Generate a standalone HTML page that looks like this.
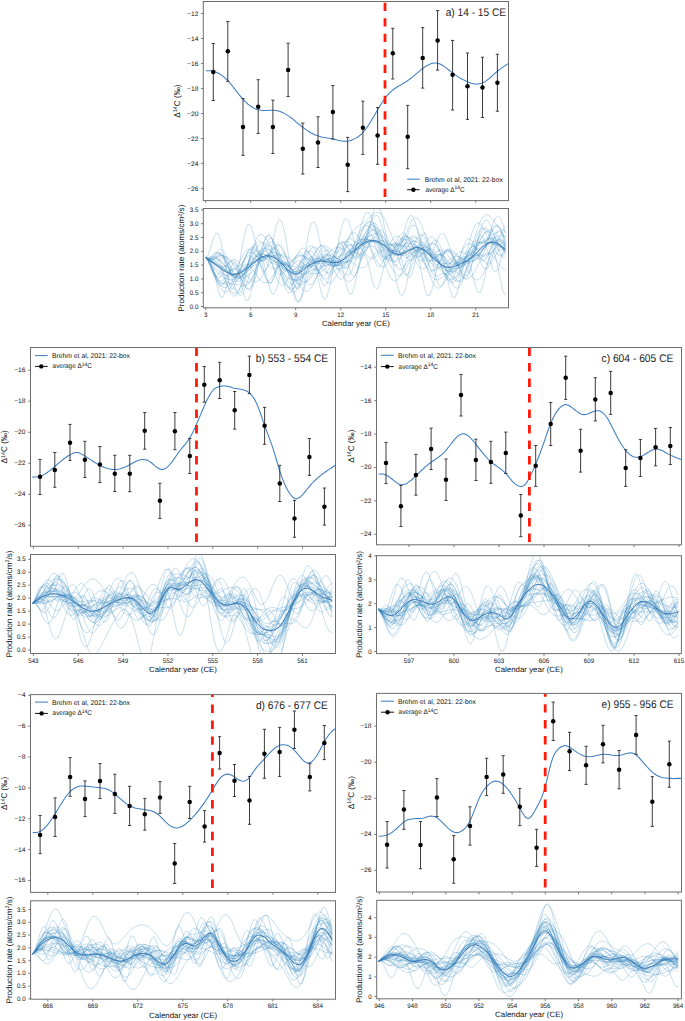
<!DOCTYPE html>
<html><head><meta charset="utf-8"><title>figure</title>
<style>html,body{margin:0;padding:0;background:#fff;}body{width:685px;height:1021px;overflow:hidden;font-family:"Liberation Sans", sans-serif;}svg{display:block;}</style></head>
<body>
<svg width="685" height="1021" viewBox="0 0 685 1021" font-family='"Liberation Sans", sans-serif' text-rendering="geometricPrecision">
<rect width="100%" height="100%" fill="#fff"/>
<clipPath id="cta"><rect x="203.30" y="1.50" width="305.20" height="199.10"/></clipPath>
<clipPath id="cba"><rect x="203.30" y="208.50" width="305.20" height="99.30"/></clipPath>
<path d="M205.8,70.8l1.5 0 1.5 0 1.5 0 1.5 0.2 1.5 0.3 1.5 0.4 1.5 0.5 1.5 0.7 1.5 0.8 1.5 0.9 1.5 1 1.5 1.2 1.5 1.3 1.5 1.5 1.5 1.5 1.5 1.7 1.5 1.8 1.5 1.9 1.5 1.9 1.5 2 1.5 1.9 1.5 2 1.5 1.8 1.5 1.8 1.5 1.7 1.5 1.6 1.5 1.5 1.5 1.3 1.5 1.2 1.5 1.1 1.5 1 1.5 0.8 1.5 0.7 1.5 0.6 1.5 0.4 1.5 0.3 1.5 0.2 1.5 0.1 1.5 0.1 1.5-0.1 1.5 0 1.5-0.1 1.5 0 1.5 0 1.5 0 1.5 0.1 1.5 0.2 1.5 0.3 1.5 0.4 1.5 0.5 1.5 0.6 1.5 0.7 1.5 0.8 1.5 1 1.5 1 1.5 1 1.5 1.1 1.5 1.2 1.5 1.2 1.5 1.3 1.5 1.2 1.5 1.2 1.5 1.2 1.5 1.2 1.5 1.2 1.5 1.1 1.5 1.1 1.5 1 1.5 0.9 1.5 0.9 1.5 0.8 1.5 0.8 1.5 0.7 1.5 0.6 1.5 0.5 1.5 0.5 1.5 0.3 1.5 0.4 1.5 0.2 1.5 0.3 1.5 0.2 1.5 0.3 1.5 0.2 1.5 0.3 1.5 0.3 1.5 0.3 1.5 0.4 1.5 0.4 1.5 0.3 1.5 0.3 1.5 0.2 1.5 0.2 1.5 0 1.5 0 1.5-0.2 1.5-0.3 1.5-0.5 1.5-0.6 1.5-0.7 1.5-0.8 1.6-0.9 1.5-1 1.5-1.2 1.5-1.4 1.5-1.6 1.5-1.8 1.5-2 1.5-2.2 1.5-2.3 1.5-2.4 1.5-2.5 1.5-2.5 1.5-2.6 1.5-2.6 1.5-2.6 1.5-2.5 1.5-2.5 1.5-2.3 1.5-2.2 1.5-2 1.5-1.8 1.5-1.6 1.5-1.5 1.5-1.3 1.5-1.2 1.5-1.1 1.5-1 1.5-1 1.5-0.9 1.5-0.8 1.5-0.9 1.5-0.9 1.5-0.9 1.5-0.9 1.5-1.1 1.5-1.1 1.5-1.2 1.5-1.2 1.5-1.2 1.5-1.3 1.5-1.3 1.5-1.2 1.5-1.3 1.5-1.2 1.5-1.1 1.5-1.1 1.5-0.9 1.5-0.9 1.5-0.7 1.5-0.6 1.5-0.5 1.5-0.2 1.5-0.1 1.5 0.2 1.5 0.3 1.5 0.6 1.5 0.7 1.5 0.9 1.5 0.9 1.5 1.1 1.5 1.1 1.5 1.2 1.5 1.2 1.5 1.1 1.5 1.2 1.5 1.1 1.5 1 1.5 1 1.5 1 1.5 0.9 1.5 0.8 1.5 0.8 1.5 0.7 1.5 0.7 1.5 0.7 1.5 0.5 1.5 0.5 1.5 0.4 1.5 0.3 1.5 0.2 1.5 0 1.5-0.1 1.5-0.4 1.5-0.4 1.5-0.7 1.5-0.9 1.5-1 1.5-1.1 1.5-1.2 1.5-1.3 1.5-1.3 1.5-1.3 1.5-1.4 1.5-1.3 1.5-1.2 1.5-1.2 1.5-1.1 1.5-1.1 1.5-1 1.5-1 1.5-1 1.5-1" fill="none" stroke="#3c7dc2" stroke-width="1.05" clip-path="url(#cta)"/>
<path d="M213.30,43.50V100.50M211.70,43.50H214.90M211.70,100.50H214.90M227.80,21.50V81.30M226.20,21.50H229.40M226.20,81.30H229.40M243.00,98.60V155.40M241.40,98.60H244.60M241.40,155.40H244.60M258.20,79.70V133.40M256.60,79.70H259.80M256.60,133.40H259.80M272.90,100.20V153.50M271.30,100.20H274.50M271.30,153.50H274.50M288.10,43.20V96.50M286.50,43.20H289.70M286.50,96.50H289.70M302.80,123.10V174.10M301.20,123.10H304.40M301.20,174.10H304.40M318.00,116.80V167.50M316.40,116.80H319.60M316.40,167.50H319.60M332.90,85.50V139.00M331.30,85.50H334.50M331.30,139.00H334.50M347.70,137.40V191.60M346.10,137.40H349.30M346.10,191.60H349.30M362.90,101.20V154.40M361.30,101.20H364.50M361.30,154.40H364.50M377.60,107.50V164.30M376.00,107.50H379.20M376.00,164.30H379.20M392.80,28.30V79.00M391.20,28.30H394.40M391.20,79.00H394.40M407.70,105.40V168.70M406.10,105.40H409.30M406.10,168.70H409.30M422.70,27.60V88.10M421.10,27.60H424.30M421.10,88.10H424.30M437.60,10.50V70.10M436.00,10.50H439.20M436.00,70.10H439.20M452.60,40.40V110.00M451.00,40.40H454.20M451.00,110.00H454.20M467.50,53.00V119.40M465.90,53.00H469.10M465.90,119.40H469.10M482.50,57.20V117.50M480.90,57.20H484.10M480.90,117.50H484.10M497.40,54.20V111.20M495.80,54.20H499.00M495.80,111.20H499.00" fill="none" stroke="#333" stroke-width="0.95"/>
<circle cx="213.30" cy="72.00" r="2.25" fill="#000"/>
<circle cx="227.80" cy="51.20" r="2.25" fill="#000"/>
<circle cx="243.00" cy="126.90" r="2.25" fill="#000"/>
<circle cx="258.20" cy="106.80" r="2.25" fill="#000"/>
<circle cx="272.90" cy="126.90" r="2.25" fill="#000"/>
<circle cx="288.10" cy="69.90" r="2.25" fill="#000"/>
<circle cx="302.80" cy="148.80" r="2.25" fill="#000"/>
<circle cx="318.00" cy="142.50" r="2.25" fill="#000"/>
<circle cx="332.90" cy="112.10" r="2.25" fill="#000"/>
<circle cx="347.70" cy="164.70" r="2.25" fill="#000"/>
<circle cx="362.90" cy="127.80" r="2.25" fill="#000"/>
<circle cx="377.60" cy="135.50" r="2.25" fill="#000"/>
<circle cx="392.80" cy="53.30" r="2.25" fill="#000"/>
<circle cx="407.70" cy="136.70" r="2.25" fill="#000"/>
<circle cx="422.70" cy="57.90" r="2.25" fill="#000"/>
<circle cx="437.60" cy="40.40" r="2.25" fill="#000"/>
<circle cx="452.60" cy="74.80" r="2.25" fill="#000"/>
<circle cx="467.50" cy="86.20" r="2.25" fill="#000"/>
<circle cx="482.50" cy="87.40" r="2.25" fill="#000"/>
<circle cx="497.40" cy="82.70" r="2.25" fill="#000"/>
<line x1="385.00" y1="197.10" x2="385.00" y2="1.50" stroke="#ff1a0a" stroke-width="2.8" stroke-dasharray="8.30 7.20" clip-path="url(#cta)"/>
<rect x="203.30" y="1.50" width="305.20" height="199.10" fill="none" stroke="#6e6e6e" stroke-width="1"/>
<text x="198.40" y="15.50" font-size="6.50" text-anchor="end" fill="#111" textLength="11.40" lengthAdjust="spacingAndGlyphs">−12</text>
<text x="198.40" y="40.50" font-size="6.50" text-anchor="end" fill="#111" textLength="11.40" lengthAdjust="spacingAndGlyphs">−14</text>
<text x="198.40" y="65.50" font-size="6.50" text-anchor="end" fill="#111" textLength="11.40" lengthAdjust="spacingAndGlyphs">−16</text>
<text x="198.40" y="90.50" font-size="6.50" text-anchor="end" fill="#111" textLength="11.40" lengthAdjust="spacingAndGlyphs">−18</text>
<text x="198.40" y="115.50" font-size="6.50" text-anchor="end" fill="#111" textLength="11.40" lengthAdjust="spacingAndGlyphs">−20</text>
<text x="198.40" y="140.50" font-size="6.50" text-anchor="end" fill="#111" textLength="11.40" lengthAdjust="spacingAndGlyphs">−22</text>
<text x="198.40" y="165.50" font-size="6.50" text-anchor="end" fill="#111" textLength="11.40" lengthAdjust="spacingAndGlyphs">−24</text>
<text x="198.40" y="190.50" font-size="6.50" text-anchor="end" fill="#111" textLength="11.40" lengthAdjust="spacingAndGlyphs">−26</text>
<g fill="none" stroke="#3d8cc4" stroke-opacity="0.42" stroke-width="0.68" clip-path="url(#cba)"><path d="M205.8,257.6l2.5 1.8 2.5 1.7 2.6 1.6 2.5 1.6 2.5 1.6 2.5 1.7 2.5 1.9 2.5 1.9 2.6 1.6 2.5 1.3 2.5 0.4 2.5-0.5 2.5-1.3 2.5-2.1 2.6-2.4 2.5-2.2 2.5-1.8 2.5-1.3 2.5-0.7 2.6-0.4 2.5-0.5 2.5-0.7 2.5-1.2 2.5-1.5 2.5-1.5 2.6-1.2 2.5-0.3 2.5 0.9 2.5 2.1 2.5 3.4 2.5 4 2.6 4 2.5 3.3 2.5 2 2.5 0.4 2.5-1.2 2.6-2.5 2.5-3 2.5-2.7 2.5-2 2.5-0.9 2.5-0.2 2.6 0.4 2.5 0.4 2.5 0.2 2.5-0.2 2.5-0.5 2.5-0.7 2.6-0.8 2.5-0.5 2.5-0.2 2.5-0.1 2.5-0.1 2.6-0.4 2.5-0.8 2.5-1.3 2.5-1.8 2.5-2 2.5-2.3 2.6-2.2 2.5-2 2.5-1.7 2.5-1.6 2.5-1.2 2.5-1 2.6-0.5 2.5 0 2.5 0.6 2.5 1.3 2.5 1.9 2.6 2.3 2.5 2.5 2.5 2.4 2.5 1.7 2.5 1 2.5-0.1 2.6-0.9 2.5-1.6 2.5-1.7 2.5-1.2 2.5-0.6 2.5 0.1 2.6 0.7 2.5 1.1 2.5 1 2.5 0.8 2.5 0.5 2.6 0.1 2.5 0.4 2.5 0.8 2.5 1.6 2.5 2.4 2.5 3.1 2.6 3.2 2.5 2.7 2.5 1.7 2.5 0.3 2.5-1 2.5-2 2.6-2.6 2.5-2.4 2.5-1.9 2.5-1.2 2.5-0.5 2.6-0.3 2.5-0.4 2.5-1 2.5-1.7 2.5-2.3 2.5-2.8 2.6-2.8 2.5-2.4 2.5-1.5 2.5-0.4 2.5 0.6 2.5 1.5 2.6 1.9 2.5 2.2 2.5 2.1"/><path d="M205.8,257.6l2.5 1 2.5 1.7 2.6 1.5 2.5 0.3 2.5-1.2 2.5-2 2.5-1.8 2.5-0.4 2.6 1.3 2.5 2.9 2.5 3.2 2.5 2.3 2.5 0.2 2.5-2.1 2.6-4 2.5-4.3 2.5-3.3 2.5-1.1 2.5 1.2 2.6 2.9 2.5 3.2 2.5 1.8 2.5-0.5 2.5-2.9 2.5-4.2 2.6-3.9 2.5-1.9 2.5 1 2.5 3.9 2.5 5.5 2.5 5.4 2.6 3.4 2.5 0.2 2.5-2.8 2.5-4.5 2.5-4.4 2.6-2.5 2.5 0.4 2.5 3.2 2.5 4.4 2.5 3.8 2.5 1.3 2.6-2 2.5-4.7 2.5-5.8 2.5-4.6 2.5-1.7 2.5 2 2.6 4.9 2.5 5.9 2.5 4.7 2.5 1.4 2.5-2.5 2.6-5.5 2.5-6.6 2.5-5.3 2.5-2.1 2.5 1.6 2.5 4.3 2.6 5.2 2.5 3.5 2.5 0.3 2.5-3.5 2.5-6 2.5-6.3 2.6-4.3 2.5-0.6 2.5 3.4 2.5 6.1 2.5 6.7 2.6 4.7 2.5 1.1 2.5-2.5 2.5-5 2.5-5.4 2.5-3.3 2.6 0 2.5 3.4 2.5 5.5 2.5 5.2 2.5 2.8 2.5-0.7 2.6-4.2 2.5-6 2.5-5.4 2.5-2.7 2.5 1.2 2.6 4.8 2.5 6.7 2.5 6.3 2.5 3.8 2.5 0.1 2.5-3.3 2.6-5 2.5-4.6 2.5-2.2 2.5 1.1 2.5 3.9 2.5 5.2 2.6 4.4 2.5 1.6 2.5-1.8 2.5-4.6 2.5-5.9 2.6-5 2.5-2.5 2.5 0.6 2.5 3.1 2.5 3.9 2.5 3 2.6 0.5 2.5-2.4 2.5-4.4 2.5-4.7 2.5-3.2 2.5-0.5 2.6 2.5 2.5 4.7 2.5 5.1"/><path d="M205.8,257.6l2.5 2.7 2.5 3.2 2.6 3.4 2.5 3.5 2.5 3.1 2.5 2.4 2.5 1.8 2.5 1 2.6 0.5 2.5 0.1 2.5-0.1 2.5-0.3 2.5-0.3 2.5-0.4 2.6-0.6 2.5-1 2.5-1.5 2.5-2.2 2.5-2.8 2.6-3.3 2.5-3.4 2.5-3.2 2.5-2.5 2.5-1.3 2.5 0 2.6 1.2 2.5 2.4 2.5 3.2 2.5 3.6 2.5 3.7 2.5 3.4 2.6 2.8 2.5 1.9 2.5 1.1 2.5 0.1 2.5-0.9 2.6-1.5 2.5-1.8 2.5-1.7 2.5-1.5 2.5-1.1 2.5-0.8 2.6-0.8 2.5-1 2.5-1.1 2.5-1 2.5-0.9 2.5-0.7 2.6-0.4 2.5 0.1 2.5 0.4 2.5 0.4 2.5 0.2 2.6-0.3 2.5-1 2.5-1.7 2.5-2.6 2.5-3.2 2.5-3.7 2.6-3.8 2.5-3.6 2.5-3 2.5-2.2 2.5-1.2 2.5-0.2 2.6 0.7 2.5 1.5 2.5 1.8 2.5 1.9 2.5 1.9 2.6 1.6 2.5 1.5 2.5 1.4 2.5 1.2 2.5 1.2 2.5 0.9 2.6 0.6 2.5 0.1 2.5-0.3 2.5-0.7 2.5-1 2.5-1.1 2.6-1.2 2.5-0.8 2.5-0.2 2.5 0.3 2.5 1.1 2.6 1.7 2.5 2.5 2.5 3.1 2.5 3.5 2.5 3.6 2.5 3.4 2.6 2.8 2.5 1.9 2.5 0.8 2.5-0.4 2.5-1.2 2.5-1.9 2.6-2.1 2.5-2 2.5-1.7 2.5-1.3 2.5-1.2 2.6-1.2 2.5-1.5 2.5-2 2.5-2.6 2.5-2.9 2.5-3.2 2.6-3.2 2.5-2.7 2.5-2.1 2.5-0.8 2.5 0.3 2.5 1.4 2.6 2.4 2.5 3.1 2.5 3.4"/><path d="M205.8,257.6l2.5 3.1 2.5 5.5 2.6 6.6 2.5 6 2.5 3.7 2.5 1.2 2.5-0.7 2.5-1 2.6 0 2.5 1.9 2.5 3.7 2.5 4.2 2.5 3.1 2.5 0.5 2.6-3.1 2.5-6.4 2.5-8.5 2.5-8.7 2.5-6.5 2.6-2.9 2.5 1.5 2.5 5.1 2.5 6.9 2.5 6.4 2.5 3.8 2.6-0.1 2.5-4 2.5-6.5 2.5-6.7 2.5-4.2 2.5 0 2.6 4.8 2.5 8.7 2.5 10.6 2.5 9.6 2.5 6.1 2.6 0.8 2.5-4.2 2.5-8.1 2.5-9.4 2.5-8.4 2.5-5.3 2.6-1.6 2.5 1.9 2.5 4 2.5 4.4 2.5 3 2.5 0.6 2.6-1.7 2.5-3.1 2.5-3.2 2.5-1.9 2.5 0 2.6 1.9 2.5 2.6 2.5 1.8 2.5-0.5 2.5-3.9 2.5-7.1 2.6-9.1 2.5-9.1 2.5-6.8 2.5-2.7 2.5 1.9 2.5 5.9 2.6 8.2 2.5 8 2.5 5.4 2.5 1.3 2.5-2.9 2.6-5.9 2.5-6.8 2.5-5.1 2.5-1.5 2.5 2.8 2.5 6.4 2.6 8.3 2.5 7.5 2.5 4.7 2.5 0.6 2.5-3.5 2.5-6.6 2.6-7.6 2.5-6.1 2.5-2.8 2.5 1.1 2.5 4.7 2.6 6.7 2.5 6.9 2.5 5.3 2.5 2.8 2.5 0.3 2.5-1.3 2.6-1.3 2.5-0.1 2.5 1.9 2.5 3.7 2.5 4.5 2.5 3.7 2.6 1.2 2.5-2.3 2.5-5.8 2.5-8.2 2.5-8.7 2.6-7.3 2.5-4 2.5 0 2.5 3.6 2.5 5.6 2.5 5.2 2.6 2.8 2.5-1.2 2.5-5.1 2.5-7.8 2.5-8.4 2.5-6.4 2.6-2.5 2.5 2.4 2.5 6.9"/><path d="M205.8,257.6l2.5 2.6 2.5 5.5 2.6 7.1 2.5 6.9 2.5 4.8 2.5 1.5 2.5-1.8 2.5-4.3 2.6-5.2 2.5-4.4 2.5-2.1 2.5 0.8 2.5 3.7 2.5 5.4 2.6 5.7 2.5 4.2 2.5 1.3 2.5-2.4 2.5-5.9 2.6-8.2 2.5-8.9 2.5-7.6 2.5-4.6 2.5-0.6 2.5 3.4 2.6 6.6 2.5 8.1 2.5 7.7 2.5 5.8 2.5 2.8 2.5-0.5 2.6-3.3 2.5-4.7 2.5-4.6 2.5-3.2 2.5-1 2.6 1.6 2.5 3.6 2.5 4.6 2.5 4.2 2.5 2.6 2.5-0.1 2.6-3 2.5-5.3 2.5-6.3 2.5-5.9 2.5-4 2.5-1.2 2.6 1.8 2.5 4.2 2.5 5.5 2.5 5.1 2.5 3.2 2.6 0.5 2.5-2.7 2.5-5.1 2.5-6.7 2.5-6.8 2.5-5.5 2.6-3.4 2.5-0.9 2.5 1.4 2.5 2.7 2.5 3 2.5 2.3 2.6 0.8 2.5-0.8 2.5-2.2 2.5-2.6 2.5-2.1 2.6-0.7 2.5 1.2 2.5 3.1 2.5 4.4 2.5 4.8 2.5 3.9 2.6 1.9 2.5-0.4 2.5-2.7 2.5-4.2 2.5-4.5 2.5-3.8 2.6-1.9 2.5 0.3 2.5 2.7 2.5 4.2 2.5 4.6 2.6 4.1 2.5 2.7 2.5 0.9 2.5-0.7 2.5-1.6 2.5-1.5 2.6-0.6 2.5 0.8 2.5 2.4 2.5 3.4 2.5 3.8 2.5 3 2.6 1.3 2.5-1 2.5-3.3 2.5-5.2 2.5-6 2.6-5.7 2.5-4.3 2.5-2.1 2.5 0.3 2.5 2.3 2.5 3.2 2.6 2.9 2.5 1.4 2.5-0.7 2.5-2.9 2.5-4.5 2.5-4.8 2.6-4 2.5-1.6 2.5 1.5"/><path d="M205.8,257.6l2.5 1.3 2.5-0.8 2.6-2.1 2.5-2.1 2.5-1.1 2.5 0.6 2.5 2.7 2.5 4.4 2.6 5.6 2.5 5.9 2.5 5.1 2.5 3.5 2.5 1 2.5-1.6 2.6-4.1 2.5-6.2 2.5-7.5 2.5-7.5 2.5-6.7 2.6-4.8 2.5-2.3 2.5 0.5 2.5 3.1 2.5 5.1 2.5 6.3 2.6 6.4 2.5 5.7 2.5 4.1 2.5 2.1 2.5-0.1 2.5-1.9 2.6-3.2 2.5-3.9 2.5-3.8 2.5-3.2 2.5-2.1 2.6-0.9 2.5 0.3 2.5 1.2 2.5 1.9 2.5 1.9 2.5 1.6 2.6 0.9 2.5 0.1 2.5-0.6 2.5-1 2.5-1 2.5-0.7 2.6 0 2.5 0.5 2.5 1.1 2.5 1.3 2.5 1.1 2.6 0.3 2.5-0.8 2.5-2 2.5-3.3 2.5-4.2 2.5-4.6 2.6-4.3 2.5-3.4 2.5-1.9 2.5 0.1 2.5 2.1 2.5 3.9 2.6 5.1 2.5 5.5 2.5 5.1 2.5 3.8 2.5 1.8 2.6-0.5 2.5-2.8 2.5-4.4 2.5-5.6 2.5-5.7 2.5-4.8 2.6-3.4 2.5-1.3 2.5 1.1 2.5 3.2 2.5 4.9 2.5 5.9 2.6 5.8 2.5 4.9 2.5 3.4 2.5 1.4 2.5-0.7 2.6-2.6 2.5-3.7 2.5-4.2 2.5-3.8 2.5-2.8 2.5-1.3 2.6 0.4 2.5 1.9 2.5 2.8 2.5 3.3 2.5 3.1 2.5 2.4 2.6 1.4 2.5 0.2 2.5-0.9 2.5-1.6 2.5-2 2.6-2.1 2.5-1.7 2.5-1.2 2.5-0.6 2.5-0.1 2.5 0 2.6-0.1 2.5-0.7 2.5-1.3 2.5-1.9 2.5-2.4 2.5-2.5 2.6-2.2 2.5-1.2 2.5 0.2"/><path d="M205.8,257.6l2.5 3.4 2.5 4.3 2.6 5.3 2.5 5.6 2.5 5.2 2.5 4 2.5 2.1 2.5 0.1 2.6-1.6 2.5-3 2.5-3.4 2.5-3.2 2.5-2.4 2.5-0.9 2.6 0.5 2.5 1.7 2.5 2.4 2.5 2.3 2.5 1.6 2.6 0.3 2.5-1.3 2.5-2.9 2.5-4 2.5-4.5 2.5-4 2.6-2.9 2.5-1.1 2.5 1.1 2.5 3.2 2.5 4.9 2.5 6 2.6 6.1 2.5 5.2 2.5 3.4 2.5 1.1 2.5-1.4 2.6-3.8 2.5-5.2 2.5-5.6 2.5-5 2.5-3.5 2.5-1.5 2.6 0.5 2.5 2.3 2.5 3.5 2.5 4 2.5 3.5 2.5 2.3 2.6 0.7 2.5-1.2 2.5-2.9 2.5-4 2.5-4.5 2.6-4.3 2.5-3.3 2.5-1.8 2.5-0.3 2.5 1.2 2.5 1.9 2.6 2.2 2.5 1.6 2.5 0.5 2.5-0.9 2.5-2.3 2.5-3.4 2.6-3.9 2.5-3.6 2.5-2.5 2.5-1 2.5 0.9 2.6 2.7 2.5 4.3 2.5 5.1 2.5 5.1 2.5 4.3 2.5 2.6 2.6 0.5 2.5-1.8 2.5-3.5 2.5-4.5 2.5-4.7 2.5-3.9 2.6-2.5 2.5-0.4 2.5 1.6 2.5 3.5 2.5 4.6 2.6 4.9 2.5 4.5 2.5 3.5 2.5 2 2.5 0.5 2.5-0.9 2.6-1.9 2.5-2.3 2.5-2.2 2.5-1.5 2.5-0.4 2.5 0.7 2.6 1.7 2.5 2.2 2.5 2.2 2.5 1.5 2.5 0.3 2.6-1.4 2.5-2.9 2.5-4.3 2.5-4.9 2.5-4.9 2.5-4.2 2.6-2.8 2.5-1 2.5 0.7 2.5 2.3 2.5 3.3 2.5 3.7 2.6 3.3 2.5 2.4 2.5 1.3"/><path d="M205.8,257.6l2.5 0.7 2.5-1.2 2.6-1 2.5 0.6 2.5 3.2 2.5 5.6 2.5 7.4 2.5 8.1 2.6 7.3 2.5 5.4 2.5 2.6 2.5-0.7 2.5-3.9 2.5-6.4 2.6-7.9 2.5-8.1 2.5-7.4 2.5-5.8 2.5-3.4 2.6-1.1 2.5 1 2.5 2.7 2.5 3.6 2.5 3.7 2.5 3.2 2.6 2 2.5 0.7 2.5-0.5 2.5-1.2 2.5-1.3 2.5-0.8 2.6 0.2 2.5 1.4 2.5 2.6 2.5 3.5 2.5 3.5 2.6 3 2.5 2.2 2.5 1 2.5-0.4 2.5-1.7 2.5-3 2.6-4.2 2.5-5 2.5-4.9 2.5-4.3 2.5-3.1 2.5-1.5 2.6 0.2 2.5 1.8 2.5 2.9 2.5 3.4 2.5 3 2.6 2 2.5 0.5 2.5-1.3 2.5-3.3 2.5-5.1 2.5-6.4 2.6-7.3 2.5-7.3 2.5-6.4 2.5-5 2.5-2.8 2.5-0.5 2.6 1.9 2.5 4.1 2.5 5.5 2.5 6.1 2.5 5.8 2.6 4.8 2.5 3.4 2.5 1.5 2.5-0.4 2.5-2.1 2.5-3.3 2.6-4 2.5-4 2.5-3.1 2.5-1.5 2.5 0.3 2.5 2.2 2.6 3.6 2.5 4.7 2.5 4.9 2.5 4.3 2.5 2.8 2.6 1.2 2.5-0.4 2.5-1.7 2.5-2.1 2.5-1.7 2.5-0.6 2.6 0.9 2.5 2.8 2.5 4.1 2.5 5.2 2.5 5.3 2.5 4.7 2.6 3.2 2.5 0.9 2.5-1.7 2.5-4.5 2.5-7 2.6-8.7 2.5-9.5 2.5-9 2.5-7.4 2.5-4.7 2.5-1.6 2.6 1.4 2.5 3.9 2.5 5.6 2.5 6.1 2.5 5.4 2.5 3.7 2.6 1.2 2.5-1.2 2.5-3.1"/><path d="M205.8,257.6l2.5 1.1 2.5-0.2 2.6-0.5 2.5 0 2.5 0.9 2.5 2 2.5 2.9 2.5 3.4 2.6 3.4 2.5 2.9 2.5 2 2.5 0.8 2.5-0.6 2.5-1.8 2.6-2.8 2.5-3.5 2.5-3.7 2.5-3.6 2.5-3 2.6-2.3 2.5-1.3 2.5-0.3 2.5 0.5 2.5 1.2 2.5 1.6 2.6 1.8 2.5 1.6 2.5 1.4 2.5 1 2.5 0.9 2.5 0.6 2.6 0.7 2.5 0.6 2.5 0.7 2.5 0.7 2.5 0.6 2.6 0.4 2.5 0.1 2.5-0.1 2.5-0.3 2.5-0.5 2.5-1 2.6-1.3 2.5-1.8 2.5-2 2.5-1.9 2.5-1.7 2.5-1.2 2.6-0.5 2.5 0.1 2.5 0.9 2.5 1.3 2.5 1.5 2.6 1.4 2.5 1 2.5 0.3 2.5-0.6 2.5-1.6 2.5-2.6 2.6-3.5 2.5-4.1 2.5-4.3 2.5-4 2.5-3.2 2.5-2.1 2.6-0.6 2.5 1 2.5 2.5 2.5 3.6 2.5 4.3 2.6 4.5 2.5 4.2 2.5 3.4 2.5 2.1 2.5 0.7 2.5-0.9 2.6-2.4 2.5-3.6 2.5-4.1 2.5-4 2.5-3.3 2.5-2 2.6-0.6 2.5 1.2 2.5 2.8 2.5 3.9 2.5 4.4 2.6 4.5 2.5 4 2.5 3.1 2.5 1.9 2.5 0.7 2.5-0.4 2.6-1.4 2.5-1.9 2.5-2.3 2.5-2.1 2.5-1.5 2.5-0.9 2.6 0 2.5 0.8 2.5 1.3 2.5 1.5 2.5 1.2 2.6 0.5 2.5-0.6 2.5-1.7 2.5-2.6 2.5-3.4 2.5-3.7 2.6-3.5 2.5-3 2.5-1.9 2.5-0.7 2.5 0.5 2.5 1.6 2.6 2.5 2.5 3 2.5 3"/><path d="M205.8,257.6l2.5 2.1 2.5 1.7 2.6 1.4 2.5 1.5 2.5 2 2.5 2.7 2.5 3.1 2.5 3.4 2.6 3 2.5 2.2 2.5 1 2.5-0.4 2.5-1.7 2.5-2.6 2.6-3.2 2.5-3.4 2.5-3.3 2.5-2.8 2.5-2.4 2.6-1.8 2.5-1.4 2.5-1 2.5-0.7 2.5-0.4 2.5-0.1 2.6 0.2 2.5 0.5 2.5 1 2.5 1.5 2.5 2.3 2.5 3.1 2.6 3.8 2.5 3.9 2.5 3.7 2.5 2.8 2.5 1.4 2.6-0.6 2.5-2.2 2.5-3.5 2.5-4.1 2.5-4 2.5-3.4 2.6-2.4 2.5-1.2 2.5 0.1 2.5 1.1 2.5 1.7 2.5 1.7 2.6 1.4 2.5 0.7 2.5-0.3 2.5-1.3 2.5-2.1 2.6-2.8 2.5-3.1 2.5-3 2.5-2.7 2.5-2.5 2.5-2 2.6-1.8 2.5-1.7 2.5-1.7 2.5-1.7 2.5-1.8 2.5-1.7 2.6-1.4 2.5-0.9 2.5-0.1 2.5 0.8 2.5 1.9 2.6 2.9 2.5 3.7 2.5 4 2.5 3.8 2.5 3 2.5 1.6 2.6-0.1 2.5-1.7 2.5-2.8 2.5-3.3 2.5-3 2.5-2.1 2.6-1 2.5 0.5 2.5 1.9 2.5 2.8 2.5 3.1 2.6 3.2 2.5 2.9 2.5 2.6 2.5 2.2 2.5 1.8 2.5 1.7 2.6 1.4 2.5 1.3 2.5 0.9 2.5 0.7 2.5 0.4 2.5 0 2.6-0.3 2.5-0.7 2.5-1.3 2.5-1.9 2.5-2.7 2.6-3.4 2.5-4 2.5-4.1 2.5-3.9 2.5-3.3 2.5-2.4 2.6-1.4 2.5-0.6 2.5 0 2.5 0.6 2.5 0.8 2.5 0.8 2.6 0.9 2.5 1 2.5 1.4"/><path d="M205.8,257.6l2.5 2.1 2.5 5 2.6 6.3 2.5 5.7 2.5 3.8 2.5 1 2.5-1.5 2.5-3.3 2.6-3.9 2.5-3.1 2.5-1.4 2.5 1.1 2.5 3.3 2.5 5.1 2.6 5.5 2.5 4.6 2.5 2.1 2.5-1.2 2.5-5.1 2.6-8.3 2.5-10.6 2.5-11.1 2.5-9.8 2.5-6.6 2.5-2.4 2.6 2.2 2.5 6.5 2.5 9.5 2.5 11.1 2.5 10.9 2.5 9.2 2.6 6.2 2.5 2.5 2.5-1.1 2.5-3.9 2.5-5.8 2.6-6.5 2.5-5.7 2.5-3.7 2.5-1.5 2.5 0.7 2.5 1.9 2.6 1.9 2.5 1.1 2.5-0.4 2.5-1.9 2.5-3.1 2.5-3.6 2.6-3.1 2.5-1.8 2.5 0 2.5 1.9 2.5 3.2 2.6 3.4 2.5 2.6 2.5 0.7 2.5-2 2.5-5.3 2.5-8.1 2.6-10.1 2.5-10.8 2.5-9.6 2.5-7.1 2.5-3.2 2.5 1 2.6 5.1 2.5 8.2 2.5 9.7 2.5 9.4 2.5 7.4 2.6 4.4 2.5 1 2.5-2.3 2.5-4.7 2.5-5.9 2.5-5.6 2.6-4.4 2.5-2.3 2.5 0.3 2.5 2.7 2.5 4.3 2.5 4.9 2.6 4.4 2.5 3.1 2.5 1.4 2.5-0.3 2.5-1.7 2.6-2 2.5-1.3 2.5 0.3 2.5 2.5 2.5 4.8 2.5 6.3 2.6 6.8 2.5 6 2.5 3.9 2.5 0.9 2.5-2.1 2.5-4.6 2.6-6.2 2.5-6.4 2.5-5.3 2.5-3.3 2.5-1 2.6 1.2 2.5 2.4 2.5 2.6 2.5 1.5 2.5-0.6 2.5-3.4 2.6-6.1 2.5-8.3 2.5-9 2.5-8.1 2.5-5.7 2.5-2.2 2.6 2.1 2.5 6.3 2.5 9.6"/><path d="M205.8,257.6l2.5 1.9 2.5 1.6 2.6 1.2 2.5 1.1 2.5 1.2 2.5 1.5 2.5 1.8 2.5 2.2 2.6 2.4 2.5 2.2 2.5 1.9 2.5 1.1 2.5 0.3 2.5-0.8 2.6-1.8 2.5-2.7 2.5-3.6 2.5-4.1 2.5-4.5 2.6-4.3 2.5-3.7 2.5-2.8 2.5-1.5 2.5-0.1 2.5 1.4 2.6 2.5 2.5 3.2 2.5 3.6 2.5 3.5 2.5 3.3 2.5 2.8 2.6 2.1 2.5 1.5 2.5 0.7 2.5 0.1 2.5-0.6 2.6-1.3 2.5-1.6 2.5-1.6 2.5-1.4 2.5-1.1 2.5-0.9 2.6-0.8 2.5-0.8 2.5-0.9 2.5-0.8 2.5-0.7 2.5-0.7 2.6-0.6 2.5-0.7 2.5-0.6 2.5-0.7 2.5-0.8 2.6-1 2.5-1.2 2.5-1.2 2.5-1.5 2.5-1.7 2.5-2.2 2.6-2.8 2.5-3.3 2.5-3.6 2.5-3.7 2.5-3.4 2.5-2.6 2.6-1.4 2.5 0 2.5 1.4 2.5 2.8 2.5 3.7 2.6 4.2 2.5 4.2 2.5 3.8 2.5 3 2.5 1.7 2.5 0.4 2.6-1.1 2.5-2.2 2.5-2.9 2.5-3 2.5-2.6 2.5-1.8 2.6-0.7 2.5 0.6 2.5 1.9 2.5 2.8 2.5 3.4 2.6 3.6 2.5 3.5 2.5 3.2 2.5 2.6 2.5 2.1 2.5 1.3 2.6 0.8 2.5 0.3 2.5-0.2 2.5-0.3 2.5-0.3 2.5-0.1 2.6 0.2 2.5 0.2 2.5 0.1 2.5-0.4 2.5-1.3 2.6-2.4 2.5-3.8 2.5-4.7 2.5-5.2 2.5-5.2 2.5-4.5 2.6-3.4 2.5-2 2.5-0.4 2.5 1.3 2.5 2.4 2.5 3.1 2.6 3.3 2.5 3.3 2.5 2.8"/><path d="M205.8,257.6l2.5 1.7 2.5 0.9 2.6 1 2.5 1.8 2.5 3.1 2.5 4.5 2.5 5.5 2.5 5.8 2.6 5.4 2.5 4 2.5 2.2 2.5-0.2 2.5-2.5 2.5-4.4 2.6-5.8 2.5-6.2 2.5-6.1 2.5-5.2 2.5-3.9 2.6-2.4 2.5-0.9 2.5 0.3 2.5 1.3 2.5 1.8 2.5 1.9 2.6 1.6 2.5 1.1 2.5 0.7 2.5 0.6 2.5 0.9 2.5 1.6 2.6 2.2 2.5 3 2.5 3.5 2.5 3.5 2.5 2.8 2.6 1.6 2.5 0.2 2.5-1.1 2.5-2.3 2.5-3.3 2.5-4 2.6-4.5 2.5-4.4 2.5-3.8 2.5-2.5 2.5-1.1 2.5 0.4 2.6 1.7 2.5 2.7 2.5 2.9 2.5 2.5 2.5 1.3 2.6-0.4 2.5-2.3 2.5-3.9 2.5-5.4 2.5-6.4 2.5-6.6 2.6-6.4 2.5-5.3 2.5-4 2.5-2.3 2.5-0.5 2.5 1 2.6 2.3 2.5 3.2 2.5 3.4 2.5 3.1 2.5 2.5 2.6 1.8 2.5 1.1 2.5 0.7 2.5 0.4 2.5 0.3 2.5 0.2 2.6 0.3 2.5 0.1 2.5 0.2 2.5 0.3 2.5 0.3 2.5 0.2 2.6 0.1 2.5 0 2.5 0.1 2.5 0 2.5 0.2 2.6 0.5 2.5 1.2 2.5 2.1 2.5 3.2 2.5 4.2 2.5 5 2.6 5.3 2.5 4.9 2.5 3.8 2.5 2.2 2.5 0.4 2.5-1.4 2.6-3 2.5-4.2 2.5-4.8 2.5-5 2.5-4.8 2.6-4.3 2.5-3.7 2.5-3 2.5-2.1 2.5-1.5 2.5-0.9 2.6-0.8 2.5-0.8 2.5-0.9 2.5-0.8 2.5-1 2.5-0.8 2.6-0.6 2.5 0.2 2.5 1.2"/><path d="M205.8,257.6l2.5 2.4 2.5 1.4 2.6-1 2.5-2.9 2.5-2.8 2.5-0.8 2.5 2.3 2.5 5.2 2.6 6.7 2.5 6 2.5 3.4 2.5-0.4 2.5-3.8 2.5-5.9 2.6-5.9 2.5-4.2 2.5-1.5 2.5 0.9 2.5 1.9 2.6 1.2 2.5-1 2.5-3.6 2.5-5.7 2.5-6 2.5-4.2 2.6-0.9 2.5 3.1 2.5 6.6 2.5 8.3 2.5 7.8 2.5 5.5 2.6 2.1 2.5-1.3 2.5-3.2 2.5-3.6 2.5-2.5 2.6-0.5 2.5 1.3 2.5 2.1 2.5 1.4 2.5-0.7 2.5-3.2 2.6-5.2 2.5-5.7 2.5-4.2 2.5-1.1 2.5 2.5 2.5 5.3 2.6 6.4 2.5 5.1 2.5 2.1 2.5-1.8 2.5-5.4 2.6-7.4 2.5-7 2.5-5 2.5-1.9 2.5 1 2.5 2.3 2.6 1.9 2.5-0.2 2.5-2.9 2.5-5 2.5-5.6 2.5-4.3 2.6-1.3 2.5 2.3 2.5 5.3 2.5 6.4 2.5 5.7 2.6 3.2 2.5-0.1 2.5-2.7 2.5-4 2.5-3.4 2.5-1.2 2.6 1.5 2.5 3.5 2.5 4.4 2.5 3.3 2.5 0.9 2.5-2.1 2.6-4.3 2.5-4.7 2.5-3.2 2.5-0.2 2.5 3.2 2.6 6 2.5 7.1 2.5 6 2.5 3.4 2.5 0.2 2.5-2.7 2.6-3.9 2.5-3.1 2.5-1 2.5 2 2.5 4.3 2.5 5.2 2.6 4 2.5 1.3 2.5-2.1 2.5-5 2.5-6.5 2.6-6.2 2.5-4.3 2.5-1.7 2.5 0.5 2.5 1.4 2.5 0.7 2.6-1.4 2.5-3.8 2.5-5.4 2.5-5.1 2.5-3 2.5 0.4 2.6 4.2 2.5 7.2 2.5 8.3"/><path d="M205.8,257.6l2.5 2 2.5 1.7 2.6 1.5 2.5 1.3 2.5 1.3 2.5 1.5 2.5 1.8 2.5 1.9 2.6 1.7 2.5 1.3 2.5 0.5 2.5-0.3 2.5-1.1 2.5-1.7 2.6-1.9 2.5-2 2.5-1.7 2.5-1.6 2.5-1.4 2.6-1.4 2.5-1.4 2.5-1.5 2.5-1.5 2.5-1.2 2.5-0.6 2.6 0.2 2.5 1 2.5 1.8 2.5 2.4 2.5 2.9 2.5 2.9 2.6 2.5 2.5 2 2.5 1.1 2.5 0.4 2.5-0.3 2.6-1.1 2.5-1.3 2.5-1.3 2.5-1.3 2.5-1.2 2.5-1.2 2.6-1.3 2.5-1.4 2.5-1.2 2.5-0.7 2.5-0.2 2.5 0.4 2.6 0.8 2.5 1.1 2.5 0.8 2.5 0.3 2.5-0.5 2.6-1.5 2.5-2.3 2.5-2.6 2.5-2.6 2.5-2.4 2.5-1.9 2.6-1.4 2.5-1.1 2.5-1.1 2.5-1.1 2.5-1.2 2.5-1.3 2.6-1 2.5-0.5 2.5 0.2 2.5 1.1 2.5 1.9 2.6 2.4 2.5 2.7 2.5 2.4 2.5 1.9 2.5 1 2.5 0.3 2.6-0.6 2.5-1.1 2.5-1.3 2.5-1 2.5-0.8 2.5-0.4 2.6-0.1 2.5 0.1 2.5 0.2 2.5 0.5 2.5 0.7 2.6 1 2.5 1.7 2.5 2.2 2.5 2.8 2.5 2.9 2.5 2.8 2.6 2.1 2.5 1.3 2.5 0.1 2.5-0.8 2.5-1.3 2.5-1.4 2.6-1.2 2.5-0.7 2.5-0.3 2.5-0.3 2.5-0.5 2.6-1.2 2.5-2 2.5-2.9 2.5-3.4 2.5-3.2 2.5-2.8 2.6-1.9 2.5-0.9 2.5 0.1 2.5 0.8 2.5 1.2 2.5 1.2 2.6 1.1 2.5 0.8 2.5 0.9"/><path d="M205.8,257.6l2.5 0.2 2.5 0.5 2.6-0.2 2.5-0.9 2.5-1.2 2.5-0.6 2.5 0.7 2.5 2.3 2.6 3.9 2.5 4.9 2.5 4.9 2.5 3.9 2.5 1.8 2.5-0.7 2.6-3.4 2.5-5.8 2.5-7.5 2.5-8 2.5-7.5 2.6-5.9 2.5-3.7 2.5-1 2.5 1.3 2.5 3.3 2.5 4.3 2.6 4.4 2.5 3.7 2.5 2.5 2.5 1.4 2.5 0.7 2.5 0.3 2.6 0.6 2.5 1.1 2.5 1.9 2.5 2.3 2.5 2.3 2.6 1.5 2.5 0.5 2.5-0.6 2.5-1.8 2.5-2.7 2.5-3.6 2.6-3.9 2.5-3.8 2.5-2.9 2.5-1.5 2.5-0.1 2.5 1 2.6 1.9 2.5 2 2.5 1.5 2.5 0.4 2.5-1.1 2.6-2.6 2.5-3.7 2.5-4.3 2.5-4.3 2.5-3.8 2.5-3.1 2.6-2.3 2.5-1.8 2.5-1.6 2.5-1.7 2.5-2.1 2.5-2.3 2.6-2.3 2.5-2 2.5-1 2.5 0.4 2.5 2.1 2.6 3.9 2.5 5.4 2.5 6.3 2.5 6.3 2.5 5.2 2.5 3 2.6 0.3 2.5-2.8 2.5-4.9 2.5-6.3 2.5-6.1 2.5-5 2.6-2.6 2.5 0.3 2.5 3.4 2.5 5.8 2.5 7.1 2.6 7.2 2.5 6.2 2.5 4.5 2.5 2.5 2.5 0.4 2.5-1 2.6-1.8 2.5-1.8 2.5-1.2 2.5-0.1 2.5 1.2 2.5 2.2 2.6 2.7 2.5 2.4 2.5 1.3 2.5-0.4 2.5-2.7 2.6-4.9 2.5-6.8 2.5-7.7 2.5-7.6 2.5-6.5 2.5-4.6 2.6-2.5 2.5-0.3 2.5 1.5 2.5 2.9 2.5 3.4 2.5 3.2 2.6 2.6 2.5 1.9 2.5 1.3"/><path d="M205.8,257.6l2.5 2 2.5 1.8 2.6 1.6 2.5 1.6 2.5 1.5 2.5 1.4 2.5 1.5 2.5 1.6 2.6 1.6 2.5 1.6 2.5 1.3 2.5 0.9 2.5 0.1 2.5-0.8 2.6-1.8 2.5-2.6 2.5-3.3 2.5-3.6 2.5-3.6 2.6-3 2.5-2.1 2.5-1 2.5 0.2 2.5 1.1 2.5 1.8 2.6 2 2.5 1.7 2.5 1.3 2.5 0.8 2.5 0.6 2.5 0.6 2.6 0.9 2.5 1.3 2.5 1.9 2.5 2 2.5 1.9 2.6 1.3 2.5 0.4 2.5-0.6 2.5-1.7 2.5-2.5 2.5-3.1 2.6-3.3 2.5-3 2.5-2.2 2.5-0.9 2.5 0.3 2.5 1.4 2.6 2.1 2.5 2.3 2.5 1.8 2.5 0.8 2.5-0.4 2.6-1.8 2.5-2.9 2.5-3.5 2.5-3.7 2.5-3.4 2.5-2.9 2.6-2.1 2.5-1.5 2.5-1 2.5-0.6 2.5-0.3 2.5-0.2 2.6 0 2.5 0.1 2.5 0.4 2.5 0.8 2.5 1 2.6 1.4 2.5 1.7 2.5 1.8 2.5 1.7 2.5 1.4 2.5 1 2.6 0.4 2.5-0.2 2.5-0.6 2.5-0.9 2.5-0.8 2.5-0.7 2.6-0.6 2.5-0.3 2.5 0 2.5 0.2 2.5 0.5 2.6 0.9 2.5 1.4 2.5 2 2.5 2.7 2.5 3.3 2.5 3.6 2.6 3.3 2.5 2.7 2.5 1.5 2.5 0.1 2.5-1.3 2.5-2.3 2.6-2.9 2.5-3 2.5-2.6 2.5-1.7 2.5-1 2.6-0.3 2.5-0.1 2.5-0.4 2.5-0.9 2.5-1.7 2.5-2.5 2.6-3.2 2.5-3.4 2.5-3 2.5-2 2.5-0.7 2.5 0.8 2.6 2.3 2.5 3.4 2.5 3.9"/><path d="M205.8,257.6l2.5 3.2 2.5 5.9 2.6 6.1 2.5 4 2.5 1.2 2.5-1.8 2.5-3.8 2.5-4.8 2.6-4.2 2.5-2.6 2.5-0.3 2.5 2.2 2.5 4.2 2.5 5.4 2.6 5.2 2.5 3.9 2.5 1.5 2.5-1.7 2.5-4.9 2.6-7.6 2.5-9.3 2.5-9.5 2.5-8 2.5-5.4 2.5-1.6 2.6 2.3 2.5 6 2.5 8.7 2.5 10 2.5 9.9 2.5 8.4 2.6 5.6 2.5 2 2.5-1.7 2.5-4.8 2.5-7.1 2.6-8.1 2.5-7.3 2.5-5.2 2.5-2.2 2.5 1.1 2.5 3.9 2.6 5.6 2.5 5.8 2.5 4.9 2.5 2.8 2.5 0.2 2.5-2.8 2.6-5.1 2.5-6.7 2.5-7.1 2.5-6.1 2.5-4.4 2.6-2 2.5 0.7 2.5 2.8 2.5 4.2 2.5 4.3 2.5 3.1 2.6 0.9 2.5-2 2.5-4.9 2.5-7.3 2.5-8.5 2.5-8.4 2.6-6.8 2.5-3.8 2.5-0.2 2.5 3.6 2.5 6.8 2.6 9.2 2.5 10 2.5 9.3 2.5 7.1 2.5 3.7 2.5-0.2 2.6-4.2 2.5-7.2 2.5-8.8 2.5-8.7 2.5-6.9 2.5-3.9 2.6-0.2 2.5 3.7 2.5 7 2.5 8.8 2.5 9.2 2.6 7.9 2.5 5.6 2.5 2.5 2.5-0.5 2.5-3.1 2.5-4.5 2.6-4.9 2.5-4 2.5-2.2 2.5 0.2 2.5 2.7 2.5 4.8 2.6 5.8 2.5 5.8 2.5 4.4 2.5 1.7 2.5-1.5 2.6-5.2 2.5-8.2 2.5-10.3 2.5-10.7 2.5-9.6 2.5-7 2.6-3.5 2.5 0.4 2.5 4 2.5 6.8 2.5 8.2 2.5 7.9 2.6 6.3 2.5 3.7 2.5 0.7"/><path d="M205.8,257.6l2.5 2.1 2.5 0.1 2.6-0.7 2.5-0.3 2.5 0.7 2.5 2 2.5 3 2.5 3.6 2.6 3.5 2.5 2.9 2.5 2 2.5 0.8 2.5-0.3 2.5-1 2.6-1.6 2.5-1.9 2.5-2.1 2.5-2.5 2.5-2.8 2.6-3.3 2.5-3.7 2.5-4 2.5-3.7 2.5-3 2.5-1.7 2.6 0.1 2.5 2.2 2.5 4.2 2.5 5.8 2.5 7 2.5 7.2 2.6 6.2 2.5 4.3 2.5 1.7 2.5-1.3 2.5-4 2.6-6.3 2.5-7.2 2.5-6.7 2.5-5.1 2.5-2.7 2.5 0.1 2.6 2.4 2.5 4.2 2.5 4.9 2.5 4.7 2.5 3.6 2.5 1.8 2.6-0.4 2.5-2.3 2.5-3.8 2.5-4.7 2.5-4.8 2.6-4.5 2.5-3.4 2.5-2.3 2.5-1.2 2.5-0.3 2.5 0 2.6-0.1 2.5-0.3 2.5-0.7 2.5-1.1 2.5-1 2.5-0.9 2.6-0.3 2.5 0.2 2.5 0.8 2.5 0.9 2.5 1 2.6 0.7 2.5 0.3 2.5-0.1 2.5-0.3 2.5-0.3 2.5-0.1 2.6 0.5 2.5 1 2.5 1.9 2.5 2.5 2.5 2.7 2.5 2.4 2.6 1.7 2.5 0.4 2.5-0.8 2.5-2.1 2.5-3.1 2.6-3.2 2.5-2.7 2.5-1.2 2.5 0.8 2.5 3.1 2.5 5 2.6 6.5 2.5 6.7 2.5 6 2.5 4.3 2.5 1.9 2.5-0.5 2.6-2.9 2.5-4.7 2.5-5.6 2.5-5.7 2.5-5.3 2.6-4.3 2.5-3.1 2.5-2.1 2.5-1 2.5-0.4 2.5 0 2.6 0 2.5 0 2.5 0.1 2.5 0.3 2.5 0.7 2.5 1.1 2.6 1.5 2.5 1.9 2.5 1.9"/><path d="M205.8,257.6l2.5 4.6 2.5 7 2.6 5.5 2.5 1.9 2.5-2 2.5-4.2 2.5-3.9 2.5-1.1 2.6 2.8 2.5 6.3 2.5 8.2 2.5 7.2 2.5 3.8 2.5-1.4 2.6-6.9 2.5-10.9 2.5-12.3 2.5-10.7 2.5-6.3 2.6-0.4 2.5 5.3 2.5 9.4 2.5 10.7 2.5 8.8 2.5 4.5 2.6-0.9 2.5-5.7 2.5-8.6 2.5-8.6 2.5-5.7 2.5-0.8 2.6 4.4 2.5 8.3 2.5 9.9 2.5 8.5 2.5 4.5 2.6-0.8 2.5-5.8 2.5-8.8 2.5-9.1 2.5-6.4 2.5-2 2.6 3 2.5 6.9 2.5 8.7 2.5 7.5 2.5 3.8 2.5-1.5 2.6-6.7 2.5-10.2 2.5-11 2.5-9 2.5-4.4 2.6 1.1 2.5 6.1 2.5 9.2 2.5 9.2 2.5 6.4 2.5 1.4 2.6-4.2 2.5-8.8 2.5-11.1 2.5-10.4 2.5-7.1 2.5-2.1 2.6 3.1 2.5 6.8 2.5 8.1 2.5 6.8 2.5 3.3 2.6-0.9 2.5-4.4 2.5-5.9 2.5-5.1 2.5-2 2.5 2.5 2.6 6.6 2.5 9.1 2.5 9.1 2.5 6.4 2.5 1.5 2.5-4.3 2.6-9.1 2.5-11.6 2.5-10.9 2.5-7.4 2.5-1.5 2.6 4.8 2.5 10 2.5 12.9 2.5 12.5 2.5 9.2 2.5 4 2.6-1.5 2.5-5.9 2.5-7.8 2.5-7.2 2.5-4 2.5 0.1 2.6 4 2.5 6 2.5 5.8 2.5 2.8 2.5-1.8 2.6-6.5 2.5-10 2.5-11.1 2.5-9.1 2.5-4.7 2.5 0.9 2.6 6.1 2.5 9.4 2.5 9.9 2.5 7.6 2.5 2.8 2.5-2.7 2.6-7.3 2.5-9.8 2.5-9"/><path d="M205.8,257.6l2.5 2.9 2.5 4.8 2.6 5.5 2.5 5 2.5 3.9 2.5 2.6 2.5 1.2 2.5 0.4 2.6-0.1 2.5-0.2 2.5 0.2 2.5 0.5 2.5 0.7 2.5 0.6 2.6 0.3 2.5-0.6 2.5-2 2.5-3.5 2.5-4.9 2.6-6.1 2.5-6.4 2.5-6 2.5-4.7 2.5-2.6 2.5 0 2.6 2.4 2.5 4.6 2.5 6.1 2.5 6.8 2.5 6.7 2.5 5.9 2.6 4.4 2.5 2.5 2.5 0.6 2.5-1.2 2.5-2.7 2.6-3.7 2.5-3.6 2.5-2.8 2.5-1.6 2.5-0.5 2.5 0.3 2.6 0.4 2.5 0 2.5-0.8 2.5-1.5 2.5-2.2 2.5-2.5 2.6-2.3 2.5-1.8 2.5-1 2.5-0.1 2.5 0.4 2.6 0.6 2.5 0.2 2.5-0.6 2.5-1.9 2.5-3.4 2.5-5 2.6-6.2 2.5-6.8 2.5-6.6 2.5-5.7 2.5-3.9 2.5-1.7 2.6 0.7 2.5 2.9 2.5 4.4 2.5 5.3 2.5 5.2 2.6 4.6 2.5 3.5 2.5 2.2 2.5 0.9 2.5-0.2 2.5-1 2.6-1.6 2.5-1.9 2.5-1.5 2.5-0.9 2.5-0.1 2.5 0.5 2.6 1 2.5 1.3 2.5 1.5 2.5 1.3 2.5 1 2.6 1 2.5 1.2 2.5 1.9 2.5 2.8 2.5 3.8 2.5 4.8 2.6 5.2 2.5 5 2.5 4 2.5 2.4 2.5 0.6 2.5-1.4 2.6-3.1 2.5-4.3 2.5-5.1 2.5-5.1 2.5-4.9 2.6-4.2 2.5-3.5 2.5-2.9 2.5-2.1 2.5-1.6 2.5-1.6 2.6-1.7 2.5-2 2.5-2.2 2.5-2.1 2.5-1.8 2.5-1 2.6 0.1 2.5 1.5 2.5 3.3"/><path d="M205.8,257.6l2.5 1.7 2.5 2.6 2.6 3.1 2.5 3.1 2.5 2.6 2.5 2.2 2.5 1.5 2.5 0.9 2.6 0.4 2.5-0.2 2.5-0.7 2.5-1.1 2.5-1.2 2.5-1.3 2.6-1.2 2.5-1 2.5-0.9 2.5-0.9 2.5-1.1 2.6-1.4 2.5-1.9 2.5-2.2 2.5-2.5 2.5-2.4 2.5-2 2.6-1.2 2.5-0.1 2.5 1.2 2.5 2.6 2.5 3.9 2.5 4.8 2.6 5.1 2.5 4.8 2.5 3.7 2.5 2.2 2.5 0.2 2.6-1.8 2.5-3.3 2.5-4.1 2.5-4.3 2.5-3.7 2.5-3 2.6-1.9 2.5-0.8 2.5 0.2 2.5 1.1 2.5 1.7 2.5 1.9 2.6 1.8 2.5 1.2 2.5 0.6 2.5-0.4 2.5-1.6 2.6-2.6 2.5-3.4 2.5-3.9 2.5-4 2.5-3.7 2.5-3.2 2.6-2.5 2.5-1.5 2.5-0.8 2.5 0 2.5 0.4 2.5 0.6 2.6 0.6 2.5 0.4 2.5 0.1 2.5-0.1 2.5-0.1 2.6 0.1 2.5 0.6 2.5 1.3 2.5 2 2.5 2.5 2.5 2.5 2.6 2.1 2.5 1.3 2.5 0.4 2.5-0.5 2.5-1.3 2.5-1.9 2.6-2 2.5-1.7 2.5-1 2.5-0.2 2.5 0.7 2.6 1.6 2.5 2.5 2.5 3.1 2.5 3.6 2.5 3.8 2.5 3.8 2.6 3.3 2.5 2.7 2.5 1.6 2.5 0.5 2.5-0.6 2.5-1.7 2.6-2.4 2.5-3 2.5-3 2.5-3 2.5-2.7 2.6-2.3 2.5-2 2.5-1.6 2.5-1.3 2.5-1.1 2.5-1 2.6-1.1 2.5-1.3 2.5-1.4 2.5-1.2 2.5-1.1 2.5-0.6 2.6 0 2.5 0.8 2.5 1.7"/><path d="M205.8,257.6l2.5 3 2.5 4.8 2.6 6.2 2.5 6.6 2.5 6 2.5 4.6 2.5 2.7 2.5 0.5 2.6-1.6 2.5-3.4 2.5-4.7 2.5-5.1 2.5-5 2.5-4.1 2.6-2.7 2.5-0.9 2.5 0.8 2.5 2.3 2.5 3.4 2.6 3.7 2.5 3.6 2.5 2.8 2.5 1.5 2.5 0 2.5-1.5 2.6-2.8 2.5-3.8 2.5-4.2 2.5-3.7 2.5-2.8 2.5-1.2 2.6 0.5 2.5 2.4 2.5 3.9 2.5 5 2.5 5.2 2.6 4.9 2.5 3.8 2.5 2.4 2.5 0.8 2.5-1.1 2.5-2.9 2.6-4.4 2.5-5.4 2.5-5.8 2.5-5.5 2.5-4.4 2.5-2.9 2.6-1 2.5 0.9 2.5 2.7 2.5 3.9 2.5 4.7 2.6 4.5 2.5 3.8 2.5 2.5 2.5 0.7 2.5-1.4 2.5-3.4 2.6-5.2 2.5-6.3 2.5-7 2.5-6.6 2.5-5.6 2.5-3.8 2.6-1.6 2.5 0.9 2.5 3.2 2.5 5.2 2.5 6.4 2.6 7 2.5 6.7 2.5 5.5 2.5 3.8 2.5 1.5 2.5-0.9 2.6-3.4 2.5-5.2 2.5-6.4 2.5-6.6 2.5-5.9 2.5-4.2 2.6-2.1 2.5 0.5 2.5 3.1 2.5 5.2 2.5 6.6 2.6 7.2 2.5 7 2.5 5.9 2.5 4.1 2.5 2 2.5-0.2 2.6-2.4 2.5-4 2.5-5.2 2.5-5.5 2.5-5.1 2.5-3.8 2.6-2 2.5-0.1 2.5 2 2.5 3.5 2.5 4.3 2.6 4.4 2.5 3.7 2.5 2.1 2.5 0.3 2.5-1.7 2.5-3.8 2.6-5.3 2.5-6.2 2.5-6.4 2.5-5.7 2.5-4.2 2.5-2.3 2.6 0 2.5 2.3 2.5 4.4"/><path d="M205.8,257.6l2.5-2.6 2.5-8.1 2.6-8.7 2.5-5.2 2.5 1 2.5 7.7 2.5 12.6 2.5 14.4 2.6 12.4 2.5 7.3 2.5 0.3 2.5-6.9 2.5-12.6 2.5-15.4 2.6-14.7 2.5-10.7 2.5-4.6 2.5 2.3 2.5 8.2 2.6 11.8 2.5 12.3 2.5 9.5 2.5 4.2 2.5-2.1 2.5-8 2.6-12.1 2.5-13.2 2.5-11 2.5-5.9 2.5 1 2.5 7.9 2.6 13.4 2.5 16 2.5 15.1 2.5 10.9 2.5 4.2 2.6-3.4 2.5-10.3 2.5-14.5 2.5-15.7 2.5-13.2 2.5-8 2.6-1.4 2.5 5.3 2.5 10.5 2.5 13.2 2.5 12.5 2.5 9 2.6 3.2 2.5-3.1 2.5-8.8 2.5-12.5 2.5-13.3 2.6-11.3 2.5-6.8 2.5-1.1 2.5 4.4 2.5 8.6 2.5 10.1 2.6 9 2.5 5.3 2.5 0 2.5-5.4 2.5-9.8 2.5-12.2 2.6-11.6 2.5-8.5 2.5-3.5 2.5 2.4 2.5 7.9 2.6 11.6 2.5 13 2.5 11.6 2.5 8 2.5 2.6 2.5-2.9 2.6-7.8 2.5-10.7 2.5-11.1 2.5-8.9 2.5-4.9 2.5 0 2.6 5 2.5 8.5 2.5 10.2 2.5 9.6 2.5 6.9 2.6 3 2.5-1.3 2.5-4.7 2.5-6.6 2.5-6.7 2.5-4.8 2.6-1.6 2.5 2.1 2.5 5.4 2.5 7.5 2.5 8.1 2.5 6.9 2.6 4 2.5 0.3 2.5-3.6 2.5-6.9 2.5-8.9 2.6-9.4 2.5-8.2 2.5-5.7 2.5-2.3 2.5 1.1 2.5 4 2.6 5.4 2.5 5.6 2.5 4.2 2.5 2 2.5-0.8 2.5-3.3 2.6-4.9 2.5-5.4 2.5-4.4"/><path d="M205.8,257.6l2.5 1.1 2.5-0.2 2.6-2.1 2.5-3.4 2.5-3 2.5-1 2.5 2.1 2.5 4.8 2.6 6.5 2.5 6.4 2.5 4.5 2.5 1.1 2.5-2.3 2.5-5.1 2.6-6.4 2.5-5.9 2.5-4.2 2.5-1.7 2.5 0.3 2.6 1.3 2.5 1 2.5-0.2 2.5-1.8 2.5-3 2.5-2.9 2.6-1.7 2.5 0.8 2.5 3.6 2.5 5.9 2.5 7 2.5 6.4 2.6 4 2.5 0.7 2.5-2.6 2.5-5.1 2.5-6 2.6-5.2 2.5-3 2.5-0.2 2.5 2.4 2.5 3.6 2.5 3.4 2.6 1.9 2.5-0.3 2.5-2.3 2.5-3.1 2.5-2.6 2.5-1.2 2.6 0.9 2.5 2.4 2.5 3 2.5 2.2 2.5-0.1 2.6-2.9 2.5-5.4 2.5-6.5 2.5-6.1 2.5-4.1 2.5-1.1 2.6 2 2.5 4.2 2.5 4.7 2.5 3.6 2.5 1.2 2.5-1.7 2.6-4.1 2.5-5.1 2.5-4.4 2.5-2.4 2.5 0.3 2.6 3 2.5 4.6 2.5 4.7 2.5 3.5 2.5 1.3 2.5-1 2.6-2.5 2.5-2.9 2.5-1.8 2.5 0.3 2.5 2.3 2.5 3.7 2.6 3.7 2.5 2.3 2.5 0 2.5-2.4 2.5-4.3 2.6-4.6 2.5-3.3 2.5-0.7 2.5 2.7 2.5 5.4 2.5 6.9 2.6 6.6 2.5 4.8 2.5 1.8 2.5-1.2 2.5-3.3 2.5-4 2.6-3.1 2.5-1.4 2.5 0.5 2.5 1.6 2.5 1.5 2.6-0.2 2.5-2.6 2.5-5 2.5-6.6 2.5-6.6 2.5-4.8 2.6-1.7 2.5 1.7 2.5 4.6 2.5 6.2 2.5 5.8 2.5 3.9 2.6 1 2.5-1.7 2.5-3.7"/><path d="M205.8,257.6l2.5 1.4 2.5 3 2.6 7.5 2.5 11 2.5 10.7 2.5 6.1 2.5-0.8 2.5-7.4 2.6-11.1 2.5-10.4 2.5-5.7 2.5 1.3 2.5 7.9 2.5 11.7 2.6 11.1 2.5 6.5 2.5-0.5 2.5-7.6 2.5-12 2.6-12.3 2.5-8.3 2.5-1.7 2.5 5.4 2.5 10.1 2.5 11.2 2.6 7.9 2.5 2 2.5-4.6 2.5-9.3 2.5-10.2 2.5-7 2.6-0.9 2.5 5.8 2.5 10.7 2.5 11.8 2.5 8.6 2.6 2.2 2.5-5.2 2.5-10.9 2.5-12.8 2.5-10.4 2.5-4.3 2.6 3.2 2.5 9.5 2.5 12.4 2.5 10.8 2.5 5.4 2.5-1.9 2.6-8.7 2.5-12.2 2.5-11.5 2.5-6.7 2.5 0.3 2.6 6.9 2.5 11 2.5 10.8 2.5 6.5 2.5-0.1 2.5-7 2.6-11.4 2.5-11.8 2.5-8.1 2.5-1.6 2.5 5.1 2.5 9.9 2.6 10.8 2.5 7.7 2.5 1.6 2.5-5 2.5-9.7 2.6-10.6 2.5-7.5 2.5-1.3 2.5 5.8 2.5 11 2.5 12.3 2.6 9.4 2.5 3 2.5-4.7 2.5-10.7 2.5-13.1 2.5-10.9 2.6-5.1 2.5 2.7 2.5 9.5 2.5 12.8 2.5 11.9 2.6 6.8 2.5-0.4 2.5-7.1 2.5-10.9 2.5-10.6 2.5-6.2 2.6 0.5 2.5 7.1 2.5 11.1 2.5 11 2.5 7 2.5 0.4 2.6-6.4 2.5-10.7 2.5-11.2 2.5-7.6 2.5-1.4 2.6 5.2 2.5 9.6 2.5 10.3 2.5 6.9 2.5 0.5 2.5-6.4 2.6-11.3 2.5-12.5 2.5-9.1 2.5-2.5 2.5 5 2.5 10.9 2.6 13.1 2.5 10.8 2.5 4.7"/><path d="M205.8,257.6l2.5 1.8 2.5 0.7 2.6-0.5 2.5-1.3 2.5-1.5 2.5-1 2.5-0.1 2.5 1.1 2.6 2.1 2.5 3 2.5 3.2 2.5 2.9 2.5 2 2.5 0.6 2.6-0.9 2.5-2.5 2.5-3.8 2.5-4.7 2.5-5 2.6-4.6 2.5-3.7 2.5-2.2 2.5-0.4 2.5 1.2 2.5 2.7 2.6 3.6 2.5 4 2.5 3.7 2.5 3.1 2.5 2.1 2.5 0.9 2.6-0.2 2.5-1 2.5-1.6 2.5-1.8 2.5-1.7 2.6-1.4 2.5-0.7 2.5 0.2 2.5 0.9 2.5 1.5 2.5 1.6 2.6 1.2 2.5 0.5 2.5-0.4 2.5-1.4 2.5-2.1 2.5-2.6 2.6-2.7 2.5-2.4 2.5-1.7 2.5-0.8 2.5 0.1 2.6 0.9 2.5 1.4 2.5 1.5 2.5 1.1 2.5 0.5 2.5-0.7 2.6-2 2.5-3.1 2.5-4 2.5-4.4 2.5-4.1 2.5-3.3 2.6-2 2.5-0.2 2.5 1.6 2.5 3.1 2.5 4.2 2.6 4.6 2.5 4.6 2.5 3.7 2.5 2.5 2.5 0.9 2.5-0.8 2.6-2.4 2.5-3.5 2.5-3.9 2.5-3.7 2.5-2.7 2.5-1.3 2.6 0.3 2.5 2 2.5 3.2 2.5 4.1 2.5 4.1 2.6 3.6 2.5 2.7 2.5 1.5 2.5 0.3 2.5-0.7 2.5-1.5 2.6-1.6 2.5-1.4 2.5-1 2.5-0.1 2.5 0.8 2.5 1.7 2.6 2.1 2.5 2.3 2.5 1.8 2.5 1 2.5-0.5 2.6-2 2.5-3.6 2.5-4.8 2.5-5.3 2.5-5.1 2.5-4.3 2.6-3 2.5-1.2 2.5 0.7 2.5 2.4 2.5 3.6 2.5 4.1 2.6 4 2.5 3.2 2.5 2.1"/><path d="M205.8,257.6l2.5 0.5 2.5-1.7 2.6-2.4 2.5-1.6 2.5 0.3 2.5 2.4 2.5 4.1 2.5 4.7 2.6 4.2 2.5 2.5 2.5 0.2 2.5-2.4 2.5-4.2 2.5-5.3 2.6-4.9 2.5-3.5 2.5-1.5 2.5 0.8 2.5 2.5 2.6 3.5 2.5 3.3 2.5 2 2.5 0.1 2.5-2 2.5-3.7 2.6-4.4 2.5-4 2.5-2.4 2.5-0.1 2.5 2.6 2.5 4.9 2.6 6.3 2.5 6.2 2.5 4.8 2.5 2.4 2.5-0.7 2.6-3.7 2.5-5.6 2.5-6.4 2.5-5.5 2.5-3.4 2.5-0.7 2.6 2.1 2.5 4.2 2.5 5.2 2.5 4.8 2.5 3.1 2.5 0.7 2.6-2.1 2.5-4.4 2.5-5.5 2.5-5.5 2.5-4.1 2.6-1.9 2.5 0.8 2.5 3.2 2.5 4.5 2.5 4.5 2.5 3.2 2.6 0.7 2.5-2.2 2.5-4.8 2.5-6.6 2.5-6.8 2.5-5.6 2.6-3 2.5 0.3 2.5 3.7 2.5 6.1 2.5 7.3 2.6 6.8 2.5 4.9 2.5 1.8 2.5-1.4 2.5-4.2 2.5-6 2.6-6.2 2.5-4.9 2.5-2.4 2.5 0.8 2.5 3.7 2.5 5.8 2.6 6.2 2.5 5.3 2.5 3.1 2.5 0 2.5-3 2.6-5 2.5-5.8 2.5-4.9 2.5-2.5 2.5 0.8 2.5 4.1 2.6 6.7 2.5 7.8 2.5 7.1 2.5 4.9 2.5 1.3 2.5-2.3 2.6-5.7 2.5-7.6 2.5-7.9 2.5-6.4 2.5-3.5 2.6-0.1 2.5 3.1 2.5 5.3 2.5 6 2.5 5 2.5 2.6 2.6-0.8 2.5-4.2 2.5-6.5 2.5-7.6 2.5-6.7 2.5-4.2 2.6-0.7 2.5 3.2 2.5 6.4"/><path d="M205.8,257.6l2.5 1.1 2.5 0.2 2.6 0.6 2.5 1.8 2.5 2.5 2.5 2.1 2.5 0.8 2.5-1.1 2.6-2.4 2.5-2.5 2.5-1.4 2.5 0.5 2.5 2.1 2.5 3 2.6 2.3 2.5 0.6 2.5-1.6 2.5-3.4 2.5-3.8 2.6-3 2.5-1.3 2.5 0.6 2.5 1.7 2.5 1.8 2.5 0.6 2.6-0.9 2.5-2.1 2.5-2 2.5-0.9 2.5 1.3 2.5 3.4 2.6 4.6 2.5 4.3 2.5 2.5 2.5 0.1 2.5-2.2 2.6-3.6 2.5-3.3 2.5-2 2.5-0.1 2.5 1.3 2.5 1.5 2.6 0.7 2.5-0.9 2.5-2.2 2.5-2.6 2.5-1.7 2.5 0 2.6 2.1 2.5 3.3 2.5 3.3 2.5 1.9 2.5-0.5 2.6-2.7 2.5-4.1 2.5-4 2.5-2.5 2.5-0.6 2.5 1 2.6 1.6 2.5 0.9 2.5-0.5 2.5-2.1 2.5-2.8 2.5-2.4 2.6-0.7 2.5 1.4 2.5 3.1 2.5 3.6 2.5 2.8 2.6 0.9 2.5-1.1 2.5-2.4 2.5-2.5 2.5-1.4 2.5 0.4 2.6 2 2.5 2.6 2.5 2 2.5 0.3 2.5-1.4 2.5-2.7 2.6-2.6 2.5-1.2 2.5 0.8 2.5 2.7 2.5 3.7 2.6 3.1 2.5 1.4 2.5-0.6 2.5-2.1 2.5-2.5 2.5-1.5 2.6 0.4 2.5 2.3 2.5 3.2 2.5 2.9 2.5 1.4 2.5-0.5 2.6-2.3 2.5-2.8 2.5-2.1 2.5-0.6 2.5 1 2.6 1.8 2.5 1.4 2.5-0.2 2.5-2.4 2.5-4 2.5-4.5 2.6-3.4 2.5-1.4 2.5 1.2 2.5 3 2.5 3.5 2.5 2.7 2.6 1 2.5-0.8 2.5-1.6"/><path d="M205.8,257.6l2.5 2 2.5 0.2 2.6-1.9 2.5-2.6 2.5-2 2.5 0 2.5 2.6 2.5 4.9 2.6 6.1 2.5 5.7 2.5 3.9 2.5 0.9 2.5-2.5 2.5-5.4 2.6-6.9 2.5-6.9 2.5-5.4 2.5-3 2.5-0.2 2.6 2.1 2.5 3.3 2.5 3.3 2.5 2.1 2.5 0.2 2.5-1.8 2.6-3.2 2.5-3.6 2.5-3 2.5-1.1 2.5 1.4 2.5 3.9 2.6 5.7 2.5 6.6 2.5 6 2.5 4.3 2.5 1.6 2.6-1.5 2.5-4.1 2.5-5.8 2.5-6.2 2.5-5.4 2.5-3.7 2.6-1.3 2.5 1.1 2.5 3 2.5 4.2 2.5 4.2 2.5 3.1 2.6 1.1 2.5-1.2 2.5-3.4 2.5-4.8 2.5-5.3 2.6-4.5 2.5-2.7 2.5-0.5 2.5 1.6 2.5 2.7 2.5 2.8 2.6 1.4 2.5-0.8 2.5-3.4 2.5-5.4 2.5-6.5 2.5-6 2.6-4 2.5-0.9 2.5 2.4 2.5 5.3 2.5 6.8 2.6 7 2.5 5.5 2.5 3 2.5 0.1 2.5-2.4 2.5-4.2 2.6-4.6 2.5-3.9 2.5-2 2.5 0.1 2.5 2.2 2.5 3.4 2.6 3.6 2.5 2.9 2.5 1.6 2.5 0 2.5-1.5 2.6-2.2 2.5-2 2.5-0.9 2.5 0.8 2.5 2.8 2.5 4.4 2.6 5.4 2.5 5.3 2.5 4.2 2.5 2.1 2.5-0.3 2.5-2.6 2.6-4.4 2.5-5.4 2.5-5.1 2.5-4 2.5-2.2 2.6-0.2 2.5 1.4 2.5 2.2 2.5 2.1 2.5 0.8 2.5-1.1 2.6-3.4 2.5-5.1 2.5-5.8 2.5-5.2 2.5-3.1 2.5-0.3 2.6 2.9 2.5 5.7 2.5 7.2"/></g>
<path d="M205.8,257.6l1.5 1.1 1.5 1.2 1.5 1.1 1.5 1.1 1.5 1.1 1.5 1.1 1.5 1.1 1.5 1.1 1.5 1 1.6 1.1 1.5 1 1.5 1 1.5 0.9 1.5 0.8 1.5 0.7 1.5 0.6 1.5 0.5 1.5 0.2 1.5 0.1 1.5-0.1 1.5-0.3 1.5-0.5 1.5-0.7 1.5-0.8 1.5-0.9 1.5-1.1 1.5-1.1 1.6-1.2 1.5-1.2 1.5-1.3 1.5-1.3 1.5-1.3 1.5-1.2 1.5-1.2 1.5-1.1 1.5-1 1.5-0.8 1.5-0.7 1.5-0.5 1.5-0.3 1.5-0.1 1.5 0.1 1.5 0.3 1.5 0.5 1.5 0.7 1.6 0.9 1.5 1 1.5 1.1 1.5 1.3 1.5 1.4 1.5 1.5 1.5 1.6 1.5 1.5 1.5 1.5 1.5 1.4 1.5 1.2 1.5 1 1.5 0.7 1.5 0.4 1.5 0.1 1.5-0.3 1.5-0.7 1.5-0.9 1.6-1 1.5-1.2 1.5-1.3 1.5-1.2 1.5-1.2 1.5-1.1 1.5-0.9 1.5-0.9 1.5-0.7 1.5-0.6 1.5-0.4 1.5-0.3 1.5-0.2 1.5 0 1.5 0.2 1.5 0.2 1.5 0.2 1.5 0.3 1.6 0.3 1.5 0.2 1.5 0.2 1.5 0.1 1.5 0 1.5-0.2 1.5-0.4 1.5-0.6 1.5-0.8 1.5-0.9 1.5-1 1.5-1.2 1.5-1.2 1.5-1.3 1.5-1.3 1.5-1.3 1.5-1.4 1.5-1.3 1.6-1.3 1.5-1.2 1.5-1.2 1.5-1.1 1.5-1 1.5-1 1.5-0.8 1.5-0.6 1.5-0.6 1.5-0.3 1.5-0.2 1.5 0 1.5 0.2 1.5 0.4 1.5 0.6 1.5 0.6 1.5 0.9 1.5 0.9 1.6 1 1.5 1.1 1.5 1.2 1.5 1.2 1.5 1.1 1.5 1.2 1.5 1.1 1.5 0.9 1.5 0.7 1.5 0.6 1.5 0.3 1.5 0 1.5-0.3 1.5-0.5 1.5-0.7 1.5-0.8 1.5-0.9 1.5-0.9 1.6-0.8 1.5-0.8 1.5-0.6 1.5-0.5 1.5-0.2 1.5 0.1 1.5 0.3 1.5 0.5 1.5 0.8 1.5 0.9 1.5 1.1 1.5 1.2 1.5 1.3 1.5 1.4 1.5 1.4 1.5 1.4 1.5 1.5 1.5 1.3 1.6 1.3 1.5 1.3 1.5 1.1 1.5 0.9 1.5 0.8 1.5 0.6 1.5 0.4 1.5 0.2 1.5 0 1.5-0.2 1.5-0.3 1.5-0.5 1.5-0.5 1.5-0.6 1.5-0.6 1.5-0.7 1.5-0.7 1.5-0.6 1.6-0.8 1.5-0.7 1.5-0.9 1.5-1 1.5-1 1.5-1.2 1.5-1.4 1.5-1.4 1.5-1.5 1.5-1.6 1.5-1.5 1.5-1.5 1.5-1.3 1.5-1.3 1.5-1.1 1.5-0.9 1.5-0.7 1.5-0.4 1.6-0.2 1.5 0.2 1.5 0.3 1.5 0.6 1.5 0.7 1.5 0.9 1.5 1.1 1.5 1.1 1.5 1.1 1.5 1.2" fill="none" stroke="#3874b2" stroke-width="1.0" clip-path="url(#cba)"/>
<rect x="203.30" y="208.50" width="305.20" height="99.30" fill="none" stroke="#6e6e6e" stroke-width="1"/>
<text x="198.40" y="308.50" font-size="6.50" text-anchor="end" fill="#111" textLength="8.59" lengthAdjust="spacingAndGlyphs">0.0</text>
<text x="198.40" y="294.70" font-size="6.50" text-anchor="end" fill="#111" textLength="8.59" lengthAdjust="spacingAndGlyphs">0.5</text>
<text x="198.40" y="280.90" font-size="6.50" text-anchor="end" fill="#111" textLength="8.59" lengthAdjust="spacingAndGlyphs">1.0</text>
<text x="198.40" y="267.10" font-size="6.50" text-anchor="end" fill="#111" textLength="8.59" lengthAdjust="spacingAndGlyphs">1.5</text>
<text x="198.40" y="253.30" font-size="6.50" text-anchor="end" fill="#111" textLength="8.59" lengthAdjust="spacingAndGlyphs">2.0</text>
<text x="198.40" y="239.50" font-size="6.50" text-anchor="end" fill="#111" textLength="8.59" lengthAdjust="spacingAndGlyphs">2.5</text>
<text x="198.40" y="225.70" font-size="6.50" text-anchor="end" fill="#111" textLength="8.59" lengthAdjust="spacingAndGlyphs">3.0</text>
<text x="198.40" y="211.90" font-size="6.50" text-anchor="end" fill="#111" textLength="8.59" lengthAdjust="spacingAndGlyphs">3.5</text>
<text x="205.70" y="317.00" font-size="6.50" text-anchor="middle" fill="#111" textLength="3.44" lengthAdjust="spacingAndGlyphs">3</text>
<text x="250.70" y="317.00" font-size="6.50" text-anchor="middle" fill="#111" textLength="3.44" lengthAdjust="spacingAndGlyphs">6</text>
<text x="295.70" y="317.00" font-size="6.50" text-anchor="middle" fill="#111" textLength="3.44" lengthAdjust="spacingAndGlyphs">9</text>
<text x="340.70" y="317.00" font-size="6.50" text-anchor="middle" fill="#111" textLength="6.87" lengthAdjust="spacingAndGlyphs">12</text>
<text x="385.70" y="317.00" font-size="6.50" text-anchor="middle" fill="#111" textLength="6.87" lengthAdjust="spacingAndGlyphs">15</text>
<text x="430.70" y="317.00" font-size="6.50" text-anchor="middle" fill="#111" textLength="6.87" lengthAdjust="spacingAndGlyphs">18</text>
<text x="475.70" y="317.00" font-size="6.50" text-anchor="middle" fill="#111" textLength="6.87" lengthAdjust="spacingAndGlyphs">21</text>
<path d="M201.00,13.50H203.30M201.00,38.50H203.30M201.00,63.50H203.30M201.00,88.50H203.30M201.00,113.50H203.30M201.00,138.50H203.30M201.00,163.50H203.30M201.00,188.50H203.30M205.70,200.60V202.90M250.70,200.60V202.90M295.70,200.60V202.90M340.70,200.60V202.90M385.70,200.60V202.90M430.70,200.60V202.90M475.70,200.60V202.90M201.00,306.50H203.30M201.00,292.70H203.30M201.00,278.90H203.30M201.00,265.10H203.30M201.00,251.30H203.30M201.00,237.50H203.30M201.00,223.70H203.30M201.00,209.90H203.30M205.70,307.80V310.10M250.70,307.80V310.10M295.70,307.80V310.10M340.70,307.80V310.10M385.70,307.80V310.10M430.70,307.80V310.10M475.70,307.80V310.10" fill="none" stroke="#6e6e6e" stroke-width="0.9"/>
<text x="355.90" y="326.40" font-size="7.70" text-anchor="middle" fill="#111" textLength="68.00" lengthAdjust="spacingAndGlyphs">Calendar year (CE)</text>
<text transform="translate(180.20,101.05) rotate(-90)" font-size="8.4" text-anchor="middle" fill="#111" textLength="33.2" lengthAdjust="spacingAndGlyphs">Δ<tspan font-size="5.6" dy="-2.9">14</tspan><tspan dy="2.9">C (‰)</tspan></text>
<text transform="translate(184.30,258.15) rotate(-90)" font-size="8.1" text-anchor="middle" fill="#111" textLength="107" lengthAdjust="spacingAndGlyphs">Production rate (atoms/cm<tspan font-size="5.4" dy="-2.8">2</tspan><tspan dy="2.8">/s)</tspan></text>
<text x="506.10" y="15.80" font-size="11.00" text-anchor="end" fill="#1c1c1c" textLength="60.40" lengthAdjust="spacingAndGlyphs">a) 14 - 15 CE</text>
<line x1="407.20" y1="179.20" x2="419.60" y2="179.20" stroke="#3c7dc2" stroke-width="1.05"/>
<line x1="407.20" y1="189.70" x2="419.60" y2="189.70" stroke="#111" stroke-width="1"/>
<circle cx="413.40" cy="189.70" r="2.2" fill="#000"/>
<text x="424.80" y="181.60" font-size="6.80" text-anchor="start" fill="#111" textLength="78.00" lengthAdjust="spacingAndGlyphs">Brehm et al, 2021: 22-box</text>
<text x="425.40" y="191.60" font-size="6.8" fill="#111" textLength="39.3" lengthAdjust="spacingAndGlyphs">average Δ<tspan font-size="5.2" dy="-2.5">14</tspan><tspan dy="2.5">C</tspan></text>
<clipPath id="ctb"><rect x="30.50" y="347.50" width="305.00" height="198.80"/></clipPath>
<clipPath id="cbb"><rect x="30.50" y="554.50" width="305.00" height="99.00"/></clipPath>
<path d="M32.3,477.0l1.5 0 1.5 0 1.5-0.1 1.5-0.2 1.5-0.3 1.5-0.5 1.5-0.7 1.5-0.8 1.5-0.9 1.5-1 1.5-1.1 1.5-1.1 1.5-1.3 1.5-1.2 1.5-1.3 1.5-1.3 1.5-1.3 1.5-1.2 1.5-1.3 1.5-1.2 1.5-1.2 1.5-1.1 1.5-1.1 1.5-1 1.5-0.9 1.5-0.8 1.5-0.7 1.5-0.6 1.5-0.3 1.5 0 1.5 0.3 1.5 0.6 1.5 0.7 1.5 0.9 1.5 0.9 1.5 1 1.5 1 1.5 1 1.5 1 1.5 0.9 1.5 1 1.5 0.9 1.5 0.9 1.5 0.8 1.5 0.9 1.5 0.7 1.5 0.7 1.5 0.7 1.5 0.5 1.5 0.5 1.5 0.4 1.5 0.3 1.5 0.3 1.5 0.1 1.5 0 1.5-0.1 1.5-0.2 1.5-0.3 1.5-0.4 1.5-0.5 1.5-0.5 1.5-0.6 1.5-0.7 1.5-0.8 1.5-0.7 1.5-0.9 1.5-0.8 1.5-0.8 1.5-0.7 1.5-0.7 1.5-0.5 1.5-0.4 1.5-0.3 1.5 0 1.5 0.1 1.5 0.3 1.5 0.6 1.5 0.8 1.5 0.9 1.5 1.2 1.5 1.3 1.5 1.3 1.5 1.2 1.5 1 1.5 0.7 1.5 0.4 1.5 0 1.5-0.4 1.5-0.8 1.5-1.1 1.5-1.4 1.5-1.7 1.5-1.9 1.5-2.1 1.5-2.1 1.5-2.2 1.5-2.2 1.5-2 1.5-2 1.5-1.8 1.5-1.8 1.6-1.8 1.5-2 1.5-2.1 1.5-2.4 1.5-2.6 1.5-2.9 1.5-3.2 1.5-3.3 1.5-3.5 1.5-3.5 1.5-3.5 1.5-3.6 1.5-3.5 1.5-3.4 1.5-3.3 1.5-3 1.5-2.8 1.5-2.5 1.5-2 1.5-1.6 1.5-1.2 1.5-0.8 1.5-0.6 1.5-0.4 1.5-0.3 1.5-0.2 1.5 0 1.5 0.1 1.5 0.3 1.5 0.3 1.5 0.4 1.5 0.5 1.5 0.4 1.5 0.3 1.5 0.3 1.5 0.3 1.5 0.3 1.5 0.2 1.5 0.4 1.5 0.4 1.5 0.5 1.5 0.7 1.5 0.8 1.5 1.2 1.5 1.5 1.5 1.9 1.5 2.4 1.5 2.8 1.5 3.4 1.5 3.8 1.5 4.2 1.5 4.4 1.5 4.4 1.5 4.3 1.5 4 1.5 4 1.5 3.9 1.5 4.1 1.5 4.3 1.5 4.6 1.5 5 1.5 5.2 1.5 5.1 1.5 4.9 1.5 4.4 1.5 4 1.5 3.6 1.5 3.3 1.5 2.9 1.5 2.6 1.5 2.2 1.5 1.9 1.5 1.3 1.5 0.8 1.5 0.2 1.5-0.4 1.5-0.8 1.5-1.2 1.5-1.5 1.5-1.7 1.5-1.8 1.5-1.8 1.5-1.9 1.5-1.8 1.5-1.7 1.5-1.6 1.5-1.5 1.5-1.4 1.5-1.4 1.5-1.3 1.5-1.3 1.5-1.1 1.5-1.2 1.5-1.1 1.5-1 1.5-1.1 1.5-1 1.5-0.9 1.5-1 1.5-1 1.5-0.9" fill="none" stroke="#3c7dc2" stroke-width="1.05" clip-path="url(#ctb)"/>
<path d="M40.00,459.50V494.50M38.40,459.50H41.60M38.40,494.50H41.60M54.80,452.50V487.30M53.20,452.50H56.40M53.20,487.30H56.40M70.00,424.40V460.40M68.40,424.40H71.60M68.40,460.40H71.60M84.90,441.30V477.50M83.30,441.30H86.50M83.30,477.50H86.50M99.90,446.60V482.60M98.30,446.60H101.50M98.30,482.60H101.50M114.80,455.30V491.50M113.20,455.30H116.40M113.20,491.50H116.40M129.80,455.30V491.70M128.20,455.30H131.40M128.20,491.70H131.40M144.70,412.50V449.20M143.10,412.50H146.30M143.10,449.20H146.30M159.90,483.30V518.40M158.30,483.30H161.50M158.30,518.40H161.50M174.90,412.50V449.70M173.30,412.50H176.50M173.30,449.70H176.50M189.80,438.50V473.50M188.20,438.50H191.40M188.20,473.50H191.40M204.30,366.50V402.20M202.70,366.50H205.90M202.70,402.20H205.90M219.70,362.30V398.50M218.10,362.30H221.30M218.10,398.50H221.30M234.70,391.50V429.10M233.10,391.50H236.30M233.10,429.10H236.30M249.40,356.20V393.60M247.80,356.20H251.00M247.80,393.60H251.00M264.60,407.40V444.30M263.00,407.40H266.20M263.00,444.30H266.20M279.80,465.30V501.50M278.20,465.30H281.40M278.20,501.50H281.40M294.50,500.40V537.30M292.90,500.40H296.10M292.90,537.30H296.10M309.40,438.50V475.40M307.80,438.50H311.00M307.80,475.40H311.00M324.40,488.00V525.10M322.80,488.00H326.00M322.80,525.10H326.00" fill="none" stroke="#333" stroke-width="0.95"/>
<circle cx="40.00" cy="476.80" r="2.25" fill="#000"/>
<circle cx="54.80" cy="470.00" r="2.25" fill="#000"/>
<circle cx="70.00" cy="442.70" r="2.25" fill="#000"/>
<circle cx="84.90" cy="459.70" r="2.25" fill="#000"/>
<circle cx="99.90" cy="464.60" r="2.25" fill="#000"/>
<circle cx="114.80" cy="473.70" r="2.25" fill="#000"/>
<circle cx="129.80" cy="473.70" r="2.25" fill="#000"/>
<circle cx="144.70" cy="430.70" r="2.25" fill="#000"/>
<circle cx="159.90" cy="500.80" r="2.25" fill="#000"/>
<circle cx="174.90" cy="431.20" r="2.25" fill="#000"/>
<circle cx="189.80" cy="456.00" r="2.25" fill="#000"/>
<circle cx="204.30" cy="384.70" r="2.25" fill="#000"/>
<circle cx="219.70" cy="380.30" r="2.25" fill="#000"/>
<circle cx="234.70" cy="410.20" r="2.25" fill="#000"/>
<circle cx="249.40" cy="374.90" r="2.25" fill="#000"/>
<circle cx="264.60" cy="425.80" r="2.25" fill="#000"/>
<circle cx="279.80" cy="483.60" r="2.25" fill="#000"/>
<circle cx="294.50" cy="518.60" r="2.25" fill="#000"/>
<circle cx="309.40" cy="457.10" r="2.25" fill="#000"/>
<circle cx="324.40" cy="506.70" r="2.25" fill="#000"/>
<line x1="196.50" y1="541.90" x2="196.50" y2="347.50" stroke="#ff1a0a" stroke-width="2.8" stroke-dasharray="8.30 7.20" clip-path="url(#ctb)"/>
<rect x="30.50" y="347.50" width="305.00" height="198.80" fill="none" stroke="#6e6e6e" stroke-width="1"/>
<text x="25.60" y="372.30" font-size="6.50" text-anchor="end" fill="#111" textLength="11.40" lengthAdjust="spacingAndGlyphs">−16</text>
<text x="25.60" y="403.28" font-size="6.50" text-anchor="end" fill="#111" textLength="11.40" lengthAdjust="spacingAndGlyphs">−18</text>
<text x="25.60" y="434.26" font-size="6.50" text-anchor="end" fill="#111" textLength="11.40" lengthAdjust="spacingAndGlyphs">−20</text>
<text x="25.60" y="465.24" font-size="6.50" text-anchor="end" fill="#111" textLength="11.40" lengthAdjust="spacingAndGlyphs">−22</text>
<text x="25.60" y="496.22" font-size="6.50" text-anchor="end" fill="#111" textLength="11.40" lengthAdjust="spacingAndGlyphs">−24</text>
<text x="25.60" y="527.20" font-size="6.50" text-anchor="end" fill="#111" textLength="11.40" lengthAdjust="spacingAndGlyphs">−26</text>
<g fill="none" stroke="#3d8cc4" stroke-opacity="0.42" stroke-width="0.68" clip-path="url(#cbb)"><path d="M32.7,603.3l2.5-2.8 2.5-4.4 2.6-5.4 2.5-5.3 2.5-3.9 2.5-1.8 2.5 0.6 2.5 3 2.6 4.5 2.5 5.1 2.5 4.6 2.5 3.2 2.5 1.1 2.5-1.2 2.6-3 2.5-4.3 2.5-4.4 2.5-3.6 2.5-1.8 2.5 0.6 2.6 2.9 2.5 4.9 2.5 5.9 2.5 5.8 2.5 4.5 2.5 2.4 2.6-0.4 2.5-3.2 2.5-5.4 2.5-6.7 2.5-6.8 2.5-5.6 2.6-3.5 2.5-0.7 2.5 2.1 2.5 4.5 2.5 5.9 2.5 6.1 2.6 5.1 2.5 3.3 2.5 0.8 2.5-1.4 2.5-3.5 2.5-4.7 2.6-4.9 2.5-4.1 2.5-2.4 2.5-0.6 2.5 1.5 2.5 3 2.6 3.9 2.5 3.6 2.5 2.6 2.5 1 2.5-0.9 2.5-3.2 2.6-5.3 2.5-6.6 2.5-7 2.5-5.7 2.5-3.4 2.5-0.4 2.6 2.7 2.5 5.2 2.5 6.7 2.5 6.9 2.5 5.8 2.5 3.5 2.6 0.6 2.5-2.2 2.5-4.2 2.5-5.3 2.5-5 2.5-3.3 2.6-0.9 2.5 2 2.5 4.5 2.5 6.2 2.5 6.9 2.5 6.2 2.6 4.3 2.5 1.8 2.5-1 2.5-3.5 2.5-5.1 2.5-5.3 2.6-4.4 2.5-2.2 2.5 0.6 2.5 3.5 2.5 6 2.5 7.5 2.6 7.7 2.5 6.5 2.5 4.1 2.5 0.8 2.5-2.9 2.5-6.2 2.6-8.4 2.5-9.5 2.5-8.8 2.5-6.7 2.5-3.7 2.5-0.4 2.6 2.6 2.5 4.7 2.5 5.5 2.5 5 2.5 3.4 2.5 1 2.6-1.8 2.5-4.1 2.5-5.6 2.5-5.9 2.5-4.9 2.5-2.7 2.6 0.2 2.5 3.2 2.5 5.6"/><path d="M32.7,603.3l2.5-3.3 2.5-4.9 2.6-5.3 2.5-4.1 2.5-2.3 2.5-0.1 2.5 1.8 2.5 3.1 2.6 3.4 2.5 3 2.5 2 2.5 0.6 2.5-0.6 2.5-1.5 2.6-1.6 2.5-1.2 2.5-0.1 2.5 1.4 2.5 2.9 2.5 4.1 2.6 4.8 2.5 4.6 2.5 3.5 2.5 1.9 2.5-0.2 2.5-2.1 2.6-3.7 2.5-4.6 2.5-4.7 2.5-4.1 2.5-2.9 2.5-1.3 2.6 0.1 2.5 1.2 2.5 1.8 2.5 1.8 2.5 1.1 2.5 0.3 2.6-0.6 2.5-1 2.5-0.7 2.5 0.2 2.5 1.4 2.5 2.5 2.6 3.3 2.5 3.6 2.5 3 2.5 1.3 2.5-0.9 2.5-3.2 2.6-5.3 2.5-6.9 2.5-7.4 2.5-6.3 2.5-4.3 2.5-2.3 2.6-0.7 2.5 0.1 2.5 0.5 2.5 0.9 2.5 1.1 2.5 1.2 2.6 0.6 2.5 0 2.5-0.6 2.5-1 2.5-1.1 2.5-1 2.6-0.2 2.5 1.1 2.5 2.6 2.5 4.2 2.5 5.5 2.5 6.4 2.6 6.3 2.5 5.3 2.5 3.5 2.5 1 2.5-1.1 2.5-3 2.6-4 2.5-3.8 2.5-2.6 2.5-0.7 2.5 1.9 2.5 4.6 2.6 6.9 2.5 8.2 2.5 8.4 2.5 7.3 2.5 5.2 2.5 2.9 2.6 0.3 2.5-1.9 2.5-3.6 2.5-4.7 2.5-5.1 2.5-4.9 2.6-4.5 2.5-4 2.5-3.3 2.5-2.8 2.5-2.6 2.5-2.9 2.6-3.4 2.5-4.2 2.5-4.5 2.5-4.4 2.5-3.6 2.5-2.4 2.6-0.8 2.5 1 2.5 2.5 2.5 3.7 2.5 4.3 2.5 4.4 2.6 3.9 2.5 2.9 2.5 1.5"/><path d="M32.7,603.3l2.5-1.8 2.5-1.9 2.6-1.6 2.5-1.1 2.5-0.5 2.5-0.1 2.5 0.2 2.5 0 2.6-0.1 2.5-0.3 2.5-0.4 2.5-0.4 2.5 0 2.5 0.6 2.6 1.4 2.5 2.2 2.5 2.8 2.5 3.4 2.5 3.4 2.5 3.2 2.6 2.4 2.5 1.4 2.5 0.2 2.5-1 2.5-2.1 2.5-2.8 2.6-2.9 2.5-2.6 2.5-2.1 2.5-1.3 2.5-0.5 2.5 0.2 2.6 0.6 2.5 0.7 2.5 0.5 2.5 0 2.5-0.3 2.5-0.8 2.6-0.9 2.5-0.5 2.5 0.3 2.5 1.5 2.5 2.4 2.5 3 2.6 3 2.5 2.5 2.5 1.1 2.5-0.6 2.5-2.7 2.5-4.1 2.6-5.3 2.5-5.5 2.5-4.9 2.5-3.2 2.5-1 2.5 0.7 2.6 1.5 2.5 1.3 2.5 0.4 2.5-0.5 2.5-1.3 2.5-2 2.6-2.4 2.5-2.5 2.5-2 2.5-1 2.5 0.3 2.5 1.5 2.6 2.8 2.5 3.9 2.5 4.6 2.5 4.9 2.5 4.7 2.5 4 2.6 3 2.5 1.5 2.5 0 2.5-1.4 2.5-2.2 2.5-2.5 2.6-2 2.5-1 2.5 0.4 2.5 2 2.5 3.3 2.5 4.4 2.6 5.2 2.5 5.1 2.5 4.5 2.5 3.3 2.5 2.1 2.5 0.9 2.6 0 2.5-0.6 2.5-0.8 2.5-1.2 2.5-1.4 2.5-1.8 2.6-2.5 2.5-3.4 2.5-4.1 2.5-4.7 2.5-5.1 2.5-5.3 2.6-5 2.5-4.4 2.5-3.4 2.5-1.9 2.5-0.2 2.5 1.3 2.6 2.4 2.5 3.2 2.5 3.2 2.5 2.8 2.5 1.9 2.5 1 2.6 0.1 2.5-0.7 2.5-1"/><path d="M32.7,603.3l2.5-3.4 2.5-3.3 2.6-2.6 2.5-1.5 2.5-0.5 2.5 0.2 2.5 0.7 2.5 0.7 2.6 0.6 2.5 0.3 2.5-0.1 2.5-0.2 2.5-0.1 2.5 0.2 2.6 0.8 2.5 1.5 2.5 2.4 2.5 3.1 2.5 3.8 2.5 4.2 2.6 4.2 2.5 3.8 2.5 2.8 2.5 1.5 2.5 0.1 2.5-1.3 2.6-2.7 2.5-3.6 2.5-4.2 2.5-4.5 2.5-4.2 2.5-3.6 2.6-2.8 2.5-1.9 2.5-0.7 2.5 0.2 2.5 1 2.5 1.7 2.6 2.3 2.5 2.9 2.5 3.7 2.5 4.3 2.5 4.4 2.5 3.7 2.6 2.5 2.5 0.9 2.5-1.3 2.5-3.9 2.5-6 2.5-7.2 2.6-7.6 2.5-7.1 2.5-5.4 2.5-2.6 2.5 0.5 2.5 2.3 2.6 2.3 2.5 0.9 2.5-1.5 2.5-3.4 2.5-4.5 2.5-5 2.6-4.6 2.5-3.5 2.5-1.8 2.5 0.7 2.5 2.9 2.5 4.7 2.6 6.1 2.5 6.7 2.5 7 2.5 6.4 2.5 5.6 2.5 4.3 2.6 2.8 2.5 1.3 2.5-0.3 2.5-1.6 2.5-2.1 2.5-2 2.6-1.3 2.5 0 2.5 1.7 2.5 3.4 2.5 4.8 2.5 6.2 2.6 7.1 2.5 7.1 2.5 6.5 2.5 5.1 2.5 3.7 2.5 2.2 2.6 1.1 2.5 0 2.5-0.9 2.5-1.8 2.5-2.8 2.5-4.1 2.6-5.3 2.5-6.7 2.5-7.4 2.5-7.8 2.5-7.7 2.5-7.3 2.6-6.5 2.5-5.5 2.5-4.1 2.5-2.5 2.5-0.6 2.5 0.9 2.6 1.9 2.5 2.5 2.5 2.6 2.5 2.5 2.5 2 2.5 1.7 2.6 1.5 2.5 1.4 2.5 1.3"/><path d="M32.7,603.3l2.5-1.7 2.5-2 2.6-2.2 2.5-2.1 2.5-1.8 2.5-1.4 2.5-0.8 2.5-0.1 2.6 0.7 2.5 1.2 2.5 1.8 2.5 2.2 2.5 2.2 2.5 2.3 2.6 1.9 2.5 1.5 2.5 0.9 2.5 0.3 2.5-0.2 2.5-0.7 2.6-1 2.5-1.2 2.5-1.2 2.5-1 2.5-0.7 2.5-0.3 2.6 0.2 2.5 0.6 2.5 1 2.5 1.1 2.5 1.1 2.5 0.9 2.6 0.5 2.5-0.2 2.5-0.7 2.5-1.4 2.5-1.8 2.5-2.1 2.6-2 2.5-1.6 2.5-0.8 2.5 0.3 2.5 1.3 2.5 2 2.6 2.5 2.5 2.7 2.5 2.3 2.5 1.4 2.5 0.4 2.5-0.7 2.6-1.6 2.5-2.4 2.5-2.8 2.5-2.7 2.5-2.1 2.5-1.9 2.6-1.9 2.5-2.2 2.5-2.4 2.5-2.3 2.5-1.7 2.5-1 2.6 0 2.5 1 2.5 2 2.5 2.8 2.5 3.4 2.5 3.5 2.6 3.2 2.5 2.6 2.5 1.7 2.5 0.8 2.5-0.1 2.5-0.9 2.6-1.5 2.5-1.7 2.5-1.9 2.5-1.5 2.5-1 2.5 0 2.6 1 2.5 2 2.5 3 2.5 3.7 2.5 4 2.5 4 2.6 3.6 2.5 2.9 2.5 1.8 2.5 0.5 2.5-0.5 2.5-1.5 2.6-2 2.5-2.2 2.5-2.1 2.5-1.8 2.5-1.4 2.5-1 2.6-0.7 2.5-0.6 2.5-0.5 2.5-0.5 2.5-0.6 2.5-0.9 2.6-1.2 2.5-1.6 2.5-1.9 2.5-2 2.5-2.1 2.5-1.9 2.6-1.7 2.5-1.3 2.5-0.8 2.5-0.4 2.5 0.3 2.5 1 2.6 1.7 2.5 2.3 2.5 2.7"/><path d="M32.7,603.3l2.5-3.3 2.5-5.1 2.6-5 2.5-3.2 2.5-0.9 2.5 1.2 2.5 2.6 2.5 2.9 2.6 2.4 2.5 1.5 2.5 0.5 2.5-0.3 2.5-0.5 2.5-0.3 2.6 0.2 2.5 0.9 2.5 1.4 2.5 1.8 2.5 1.9 2.5 2.1 2.6 2 2.5 2.2 2.5 2.3 2.5 2.2 2.5 2 2.5 1.3 2.6 0.1 2.5-1.4 2.5-3.3 2.5-4.8 2.5-5.7 2.5-5.9 2.6-4.9 2.5-3 2.5-0.5 2.5 1.9 2.5 3.9 2.5 4.9 2.6 4.8 2.5 4 2.5 2.7 2.5 1.3 2.5-0.2 2.5-1.1 2.6-1.4 2.5-1.4 2.5-1.1 2.5-1.1 2.5-1.3 2.5-1.7 2.6-2.4 2.5-3.2 2.5-3.4 2.5-3 2.5-1.8 2.5-1.2 2.6-1 2.5-1.7 2.5-2.5 2.5-3.1 2.5-3.2 2.5-3 2.6-2.5 2.5-1.6 2.5 0 2.5 2 2.5 3.9 2.5 5.4 2.6 6.2 2.5 6.2 2.5 5.3 2.5 3.5 2.5 1.5 2.5-0.4 2.6-1.8 2.5-2.4 2.5-2.1 2.5-0.9 2.5 1 2.5 3 2.6 4.5 2.5 5.4 2.5 5.2 2.5 4 2.5 2.5 2.5 1 2.6 0.1 2.5-0.2 2.5 0.2 2.5 1.1 2.5 2.4 2.5 3.7 2.6 4.6 2.5 4.5 2.5 3.7 2.5 1.9 2.5-0.5 2.5-3.1 2.6-5.5 2.5-7.3 2.5-8.3 2.5-8.4 2.5-8 2.5-7 2.6-6 2.5-4.8 2.5-3.3 2.5-1.6 2.5 0.5 2.5 2.4 2.6 3.8 2.5 4.6 2.5 4.6 2.5 3.7 2.5 2 2.5 0.2 2.6-1.7 2.5-2.8 2.5-3.1"/><path d="M32.7,603.3l2.5-0.2 2.5 2.9 2.6 5.2 2.5 5.8 2.5 4.8 2.5 2 2.5-1.4 2.5-4.8 2.6-7.5 2.5-8.5 2.5-8 2.5-5.6 2.5-2 2.5 2.3 2.6 6.5 2.5 9.9 2.5 11.7 2.5 11.7 2.5 10 2.5 6.7 2.6 2.4 2.5-2.2 2.5-6.1 2.5-9 2.5-10.1 2.5-9.5 2.6-7.2 2.5-4 2.5-0.1 2.5 3.2 2.5 5.8 2.5 6.9 2.6 6.6 2.5 4.7 2.5 2.1 2.5-1 2.5-3.7 2.5-5.6 2.6-6.1 2.5-5.1 2.5-2.6 2.5 0.7 2.5 3.8 2.5 6.3 2.6 7.3 2.5 6.8 2.5 4.7 2.5 1.1 2.5-2.9 2.5-6.7 2.6-9.4 2.5-10.6 2.5-9.7 2.5-6.7 2.5-2.4 2.5 1.7 2.6 5 2.5 6.8 2.5 6.9 2.5 5.8 2.5 3.5 2.5 0.4 2.6-3 2.5-6 2.5-8.1 2.5-8.6 2.5-7.5 2.5-5 2.6-1.4 2.5 2.9 2.5 7.1 2.5 10.4 2.5 12.3 2.5 12.5 2.6 10.7 2.5 7.3 2.5 2.7 2.5-2.1 2.5-6.2 2.5-9.1 2.6-10.1 2.5-9 2.5-6.2 2.5-2.1 2.5 2.4 2.5 6.8 2.6 10.2 2.5 11.8 2.5 11.5 2.5 9.5 2.5 6.1 2.5 2.3 2.6-1.5 2.5-4.4 2.5-6.4 2.5-6.9 2.5-6.3 2.5-5 2.6-3.2 2.5-1.4 2.5-0.2 2.5 0.4 2.5-0.1 2.5-1.3 2.6-3.1 2.5-5 2.5-6.4 2.5-6.9 2.5-5.9 2.5-4.1 2.6-1.3 2.5 1.8 2.5 5 2.5 7.3 2.5 8.5 2.5 8.4 2.6 6.9 2.5 4.2 2.5 0.8"/><path d="M32.7,603.3l2.5 0 2.5-0.1 2.6-0.8 2.5-2.1 2.5-3.5 2.5-4.4 2.5-4.5 2.5-3.7 2.6-1.8 2.5 0.6 2.5 3.1 2.5 5.2 2.5 6.3 2.5 6.5 2.6 5.4 2.5 3.8 2.5 1.7 2.5-0.1 2.5-1.3 2.5-1.7 2.6-1.3 2.5-0.4 2.5 0.5 2.5 1.2 2.5 1.4 2.5 1 2.6 0.2 2.5-1 2.5-2.1 2.5-2.7 2.5-2.8 2.5-2.3 2.6-1.3 2.5-0.4 2.5 0.5 2.5 0.8 2.5 0.5 2.5-0.3 2.6-1.1 2.5-1.6 2.5-1.2 2.5 0 2.5 1.5 2.5 3.1 2.6 4.6 2.5 5.3 2.5 4.7 2.5 2.7 2.5-0.2 2.5-3.4 2.6-6.4 2.5-8.6 2.5-9.3 2.5-8 2.5-5.2 2.5-2.5 2.6-0.4 2.5 0.5 2.5 0.6 2.5 0.3 2.5-0.2 2.5-0.9 2.6-1.6 2.5-1.9 2.5-1.3 2.5-0.1 2.5 1.8 2.5 3.5 2.6 5.1 2.5 6 2.5 6.2 2.5 5.5 2.5 3.8 2.5 1.9 2.6-0.1 2.5-1.7 2.5-2.7 2.5-2.6 2.5-1.4 2.5 0.5 2.6 2.8 2.5 4.8 2.5 6.1 2.5 6.5 2.5 5.8 2.5 4.6 2.6 3.1 2.5 1.7 2.5 0.5 2.5-0.1 2.5 0.1 2.5 0.8 2.6 1.9 2.5 2.7 2.5 2.8 2.5 2 2.5 0.3 2.5-1.9 2.6-4.5 2.5-6.7 2.5-7.9 2.5-8.1 2.5-7.6 2.5-6.3 2.6-5.1 2.5-3.9 2.5-3.1 2.5-2.4 2.5-1.9 2.5-1.6 2.6-1.1 2.5-0.3 2.5 0.8 2.5 2.2 2.5 3.7 2.5 5 2.6 5.8 2.5 5.6 2.5 4.6"/><path d="M32.7,603.3l2.5-2.3 2.5-2.3 2.6-2.1 2.5-1.9 2.5-1.5 2.5-1.2 2.5-0.7 2.5-0.5 2.6 0 2.5 0.4 2.5 0.7 2.5 1.2 2.5 1.4 2.5 1.8 2.6 1.9 2.5 2.2 2.5 2.2 2.5 2.4 2.5 2.4 2.5 2.3 2.6 2.3 2.5 1.9 2.5 1.5 2.5 0.8 2.5 0.1 2.5-0.8 2.6-1.5 2.5-2.1 2.5-2.7 2.5-2.9 2.5-3 2.5-2.9 2.6-2.3 2.5-1.9 2.5-1.1 2.5-0.3 2.5 0.3 2.5 0.9 2.6 1.5 2.5 2.1 2.5 2.9 2.5 3.6 2.5 3.8 2.5 3.3 2.6 2.5 2.5 1.1 2.5-0.6 2.5-2.7 2.5-4.6 2.5-5.6 2.6-6.2 2.5-6 2.5-4.8 2.5-2.7 2.5-0.3 2.5 1 2.6 1.1 2.5-0.2 2.5-2 2.5-3.1 2.5-3.8 2.5-3.7 2.6-3 2.5-1.9 2.5-0.3 2.5 1.5 2.5 3.2 2.5 4.3 2.6 4.8 2.5 5.1 2.5 4.9 2.5 4.4 2.5 3.7 2.5 2.9 2.6 2 2.5 1.2 2.5 0.2 2.5-0.5 2.5-0.8 2.5-0.7 2.6-0.3 2.5 0.6 2.5 1.6 2.5 2.8 2.5 3.7 2.5 4.7 2.6 5.4 2.5 5.6 2.5 5.2 2.5 4.2 2.5 3.2 2.5 2.2 2.6 1.1 2.5 0.3 2.5-0.6 2.5-1.4 2.5-2.5 2.5-3.5 2.6-4.6 2.5-5.7 2.5-6.3 2.5-6.5 2.5-6.4 2.5-6 2.6-5.4 2.5-4.7 2.5-3.8 2.5-2.6 2.5-1.3 2.5-0.1 2.6 0.9 2.5 1.5 2.5 2.1 2.5 2.2 2.5 2.4 2.5 2.4 2.6 2.5 2.5 2.4 2.5 2.2"/><path d="M32.7,603.3l2.5-1.8 2.5-0.2 2.6 0.8 2.5 0.8 2.5 0.2 2.5-0.6 2.5-1.2 2.5-1.2 2.6-0.9 2.5-0.3 2.5 0.5 2.5 0.9 2.5 1.1 2.5 0.9 2.6 0.6 2.5 0.4 2.5 0.4 2.5 0.5 2.5 0.7 2.5 0.8 2.6 0.8 2.5 0.3 2.5-0.3 2.5-1 2.5-1.4 2.5-1.4 2.6-0.9 2.5-0.1 2.5 0.9 2.5 1.4 2.5 1.6 2.5 1 2.6 0.1 2.5-1 2.5-1.9 2.5-2.2 2.5-1.9 2.5-1.1 2.6 0.1 2.5 1.3 2.5 2 2.5 2.2 2.5 2 2.5 1.1 2.6 0.3 2.5-0.4 2.5-0.9 2.5-1.1 2.5-1.1 2.5-1 2.6-1 2.5-1.1 2.5-1.1 2.5-0.9 2.5-0.5 2.5 0.1 2.6 0.6 2.5 0.9 2.5 1 2.5 0.7 2.5 0.1 2.5-0.8 2.6-1.5 2.5-2.1 2.5-1.9 2.5-1.1 2.5 0 2.5 1.4 2.6 2.3 2.5 2.9 2.5 2.6 2.5 1.8 2.5 0.6 2.5-0.5 2.6-1.3 2.5-1.5 2.5-1.2 2.5-0.5 2.5 0.2 2.5 0.8 2.6 1.1 2.5 1 2.5 0.7 2.5 0.5 2.5 0.3 2.5 0.5 2.6 0.7 2.5 1 2.5 1 2.5 0.8 2.5 0.2 2.5-0.3 2.6-0.7 2.5-0.8 2.5-0.5 2.5 0.1 2.5 0.7 2.5 1.1 2.6 0.9 2.5 0.2 2.5-0.8 2.5-1.9 2.5-2.9 2.5-3.2 2.6-2.8 2.5-1.9 2.5-0.5 2.5 0.8 2.5 1.7 2.5 2 2.6 1.7 2.5 1 2.5 0 2.5-0.7 2.5-1 2.5-0.9 2.6-0.4 2.5 0.2 2.5 0.5"/><path d="M32.7,603.3l2.5-1.7 2.5-1.8 2.6-0.7 2.5 0.4 2.5 1 2.5 0.8 2.5-0.1 2.5-1.2 2.6-1.9 2.5-2 2.5-1 2.5 0.5 2.5 2.2 2.5 3.6 2.6 4.2 2.5 3.7 2.5 2.6 2.5 1.1 2.5-0.1 2.5-0.7 2.6-0.5 2.5 0.3 2.5 1.2 2.5 2 2.5 1.9 2.5 1.2 2.6-0.2 2.5-1.9 2.5-3.2 2.5-3.9 2.5-3.6 2.5-2.5 2.6-1 2.5 0.4 2.5 1.3 2.5 1.4 2.5 0.8 2.5-0.4 2.6-1.1 2.5-1.3 2.5-0.4 2.5 1.4 2.5 3.1 2.5 4.6 2.6 4.8 2.5 4 2.5 1.8 2.5-1.3 2.5-4.5 2.5-6.5 2.6-7.5 2.5-6.9 2.5-4.9 2.5-1.8 2.5 1.1 2.5 2.8 2.6 2.6 2.5 0.8 2.5-1.5 2.5-3.4 2.5-4.2 2.5-4 2.6-2.6 2.5-0.8 2.5 1.2 2.5 2.8 2.5 3.6 2.5 3.3 2.6 2.6 2.5 1.9 2.5 1.5 2.5 1.5 2.5 2.2 2.5 2.9 2.6 3.4 2.5 3.3 2.5 2.3 2.5 0.8 2.5-0.8 2.5-2 2.6-2.3 2.5-1.6 2.5 0 2.5 2 2.5 3.9 2.5 5.3 2.6 5.8 2.5 5.2 2.5 3.7 2.5 2 2.5 0.4 2.5-0.2 2.6-0.2 2.5 0.3 2.5 1 2.5 1.1 2.5 0.5 2.5-1.1 2.6-3.1 2.5-5.3 2.5-6.8 2.5-7.3 2.5-6.7 2.5-5.5 2.6-3.7 2.5-2.2 2.5-0.9 2.5-0.1 2.5 0.1 2.5 0 2.6-0.1 2.5 0 2.5 0.5 2.5 1.2 2.5 2 2.5 2.7 2.6 2.9 2.5 2.4 2.5 1.4"/><path d="M32.7,603.3l2.5-1 2.5-0.3 2.6-0.4 2.5-1.1 2.5-2 2.5-2.6 2.5-2.5 2.5-1.9 2.6-0.6 2.5 0.8 2.5 2.2 2.5 3.1 2.5 3.4 2.5 3.1 2.6 2.2 2.5 1 2.5-0.1 2.5-0.8 2.5-1 2.5-0.5 2.6 0.4 2.5 1.5 2.5 2.5 2.5 3 2.5 2.7 2.5 1.9 2.6 0.5 2.5-1.2 2.5-3 2.5-4.2 2.5-4.8 2.5-4.4 2.6-3.5 2.5-1.8 2.5 0 2.5 1.6 2.5 2.7 2.5 3.1 2.6 2.9 2.5 2.3 2.5 1.5 2.5 0.9 2.5 0.3 2.5-0.1 2.6-0.1 2.5 0 2.5 0 2.5-0.4 2.5-0.9 2.5-1.6 2.6-2.4 2.5-3.3 2.5-3.8 2.5-3.5 2.5-2.6 2.5-1.8 2.6-1.3 2.5-1 2.5-0.9 2.5-0.4 2.5 0.1 2.5 0.4 2.6 0.4 2.5 0 2.5-0.3 2.5-0.6 2.5-0.6 2.5-0.4 2.6 0.2 2.5 1.5 2.5 2.8 2.5 4.2 2.5 5.1 2.5 5.4 2.6 4.9 2.5 3.5 2.5 1.5 2.5-0.8 2.5-2.5 2.5-3.6 2.6-3.7 2.5-2.7 2.5-0.8 2.5 1.5 2.5 3.8 2.5 5.8 2.6 6.8 2.5 6.9 2.5 5.7 2.5 3.7 2.5 1.5 2.5-0.5 2.6-1.9 2.5-2.5 2.5-2.4 2.5-1.9 2.5-1.1 2.5-0.7 2.6-0.8 2.5-1.4 2.5-2.5 2.5-3.8 2.5-5.1 2.5-5.9 2.6-6.3 2.5-5.7 2.5-4.5 2.5-2.4 2.5-0.1 2.5 2.1 2.6 3.5 2.5 4.1 2.5 3.8 2.5 2.6 2.5 1 2.5-0.5 2.6-1.6 2.5-2 2.5-1.6"/><path d="M32.7,603.3l2.5-0.2 2.5 2.6 2.6 3.8 2.5 2.9 2.5 0.4 2.5-2.6 2.5-4.6 2.5-4.9 2.6-3.1 2.5-0.3 2.5 2.8 2.5 4.9 2.5 5.2 2.5 4 2.6 1.6 2.5-0.8 2.5-2.2 2.5-2.2 2.5-0.8 2.5 1.4 2.6 3.2 2.5 4.1 2.5 3.2 2.5 1 2.5-1.8 2.5-4.2 2.6-5.1 2.5-4.2 2.5-2 2.5 1.1 2.5 3.6 2.5 4.7 2.6 3.9 2.5 1.5 2.5-1.8 2.5-4.7 2.5-6.1 2.5-5.4 2.6-3 2.5 0.6 2.5 4.1 2.5 6.6 2.5 6.8 2.5 5.1 2.6 2.1 2.5-1.1 2.5-3.6 2.5-4.7 2.5-4.3 2.5-2.6 2.6-0.8 2.5 0.2 2.5 0.3 2.5-0.5 2.5-1.6 2.5-2.9 2.6-3.4 2.5-2.7 2.5-1.2 2.5 1.2 2.5 3.1 2.5 3.8 2.6 2.9 2.5 0.6 2.5-2.1 2.5-4.3 2.5-4.8 2.5-3.6 2.6-0.8 2.5 2.8 2.5 5.8 2.5 7.5 2.5 7 2.5 4.6 2.6 1.4 2.5-2 2.5-4.1 2.5-4.4 2.5-3.1 2.5-0.5 2.6 1.9 2.5 3.6 2.5 3.8 2.5 2.6 2.5 0.7 2.5-0.8 2.6-1.2 2.5-0.4 2.5 1.5 2.5 3.7 2.5 5.2 2.5 5.5 2.6 4 2.5 1.1 2.5-2.2 2.5-5.1 2.5-6.5 2.5-5.9 2.6-3.9 2.5-1 2.5 1.5 2.5 2.7 2.5 2.1 2.5 0 2.6-3 2.5-5.4 2.5-6.5 2.5-5.7 2.5-3.1 2.5 0.2 2.6 3.1 2.5 4.8 2.5 4.8 2.5 2.9 2.5 0.5 2.5-1.7 2.6-2.8 2.5-2.2 2.5-0.3"/><path d="M32.7,603.3l2.5-4.5 2.5-5.9 2.6-5.2 2.5-2.9 2.5-0.1 2.5 2.7 2.5 4.4 2.5 4.7 2.6 3.6 2.5 1.5 2.5-0.9 2.5-3.2 2.5-4.4 2.5-4.4 2.6-3.2 2.5-0.9 2.5 1.9 2.5 4.5 2.5 6.5 2.5 7.1 2.6 6.3 2.5 4.3 2.5 1.4 2.5-1.9 2.5-4.6 2.5-6.3 2.6-6.5 2.5-5.5 2.5-3.2 2.5-0.5 2.5 2.2 2.5 4 2.6 4.8 2.5 4.1 2.5 2.4 2.5-0.1 2.5-2.7 2.5-4.7 2.6-5.5 2.5-4.8 2.5-2.6 2.5 0.5 2.5 3.7 2.5 6.2 2.6 7.5 2.5 7.2 2.5 5.1 2.5 1.6 2.5-2.6 2.5-6.3 2.6-8.9 2.5-10 2.5-9 2.5-6 2.5-1.9 2.5 2 2.6 4.7 2.5 5.8 2.5 5.1 2.5 3.4 2.5 0.8 2.5-2.1 2.6-4.6 2.5-6.1 2.5-6.2 2.5-4.7 2.5-2.1 2.5 1.2 2.6 4.4 2.5 7 2.5 8.4 2.5 8.3 2.5 6.8 2.5 4 2.6 0.9 2.5-2.4 2.5-4.8 2.5-6 2.5-5.4 2.5-3.6 2.6-0.8 2.5 2.5 2.5 5.4 2.5 7.1 2.5 7.6 2.5 6.8 2.6 4.7 2.5 2.1 2.5-0.7 2.5-2.8 2.5-3.8 2.5-3.5 2.6-1.9 2.5 0.3 2.5 2.5 2.5 4.2 2.5 4.5 2.5 3.4 2.6 1 2.5-2.2 2.5-5.5 2.5-8.1 2.5-9.7 2.5-9.6 2.6-8.1 2.5-5.4 2.5-2 2.5 1.6 2.5 4.6 2.5 6.2 2.6 6.3 2.5 4.9 2.5 2.4 2.5-0.4 2.5-2.9 2.5-4.4 2.6-4.7 2.5-3.6 2.5-1.4"/><path d="M32.7,603.3l2.5-1.3 2.5-1.4 2.6-1.7 2.5-2.2 2.5-2.5 2.5-2.4 2.5-2 2.5-1 2.6 0 2.5 1.1 2.5 2 2.5 2.6 2.5 2.7 2.5 2.6 2.6 2 2.5 1.4 2.5 0.8 2.5 0.4 2.5 0.4 2.5 0.4 2.6 0.8 2.5 1.2 2.5 1.3 2.5 1.3 2.5 0.9 2.5 0.3 2.6-0.5 2.5-1.4 2.5-2 2.5-2.5 2.5-2.5 2.5-2.3 2.6-1.8 2.5-1.1 2.5-0.4 2.5 0.2 2.5 0.5 2.5 0.6 2.6 0.6 2.5 0.7 2.5 1.1 2.5 1.6 2.5 2 2.5 2.3 2.6 2.3 2.5 2 2.5 1.1 2.5-0.2 2.5-1.8 2.5-3.3 2.6-4.5 2.5-5.2 2.5-5.3 2.5-4.1 2.5-2.4 2.5-1 2.6-0.2 2.5-0.1 2.5-0.3 2.5-0.3 2.5-0.4 2.5-0.5 2.6-0.5 2.5-0.6 2.5-0.5 2.5-0.1 2.5 0.3 2.5 0.9 2.6 1.6 2.5 2.4 2.5 3.2 2.5 3.7 2.5 4 2.5 3.8 2.6 3.3 2.5 2.2 2.5 0.9 2.5-0.3 2.5-1.3 2.5-1.6 2.6-1.5 2.5-0.5 2.5 0.6 2.5 2.1 2.5 3.2 2.5 4.3 2.6 4.8 2.5 4.7 2.5 3.9 2.5 2.8 2.5 1.5 2.5 0.5 2.6 0 2.5-0.3 2.5-0.2 2.5-0.3 2.5-0.4 2.5-1.1 2.6-2 2.5-3.3 2.5-4.6 2.5-5.6 2.5-6.3 2.5-6.5 2.6-6.1 2.5-5.1 2.5-3.6 2.5-1.6 2.5 0.4 2.5 2.1 2.6 3.2 2.5 3.4 2.5 3.2 2.5 2.2 2.5 1.1 2.5 0.2 2.6-0.6 2.5-0.8 2.5-0.6"/><path d="M32.7,603.3l2.5-0.4 2.5 0.5 2.6 0.7 2.5 0 2.5-0.9 2.5-1.8 2.5-2.2 2.5-1.8 2.6-1 2.5 0.4 2.5 1.7 2.5 2.8 2.5 3.1 2.5 3 2.6 2.2 2.5 1 2.5 0.1 2.5-0.5 2.5-0.5 2.5 0.2 2.6 1.3 2.5 2.6 2.5 3.4 2.5 3.7 2.5 3 2.5 1.7 2.6-0.2 2.5-2.3 2.5-4.1 2.5-5.3 2.5-5.4 2.5-4.8 2.6-3.3 2.5-1.3 2.5 0.4 2.5 1.8 2.5 2.6 2.5 2.5 2.6 2.1 2.5 1.4 2.5 1 2.5 1.2 2.5 1.5 2.5 1.9 2.6 2.2 2.5 2.4 2.5 1.6 2.5 0.1 2.5-1.9 2.5-4.1 2.6-6.1 2.5-7.3 2.5-7.4 2.5-5.8 2.5-3.1 2.5-0.5 2.6 1.4 2.5 2.4 2.5 2.3 2.5 1.9 2.5 1 2.5-0.4 2.6-1.9 2.5-3.2 2.5-3.6 2.5-3 2.5-1.8 2.5 0.2 2.6 2.3 2.5 4.5 2.5 6.1 2.5 6.8 2.5 6.5 2.5 5.3 2.6 3.4 2.5 1.1 2.5-0.9 2.5-2.3 2.5-2.7 2.5-2.1 2.6-0.8 2.5 1 2.5 2.8 2.5 3.9 2.5 4.4 2.5 4.3 2.6 3.6 2.5 2.7 2.5 1.6 2.5 0.9 2.5 0.8 2.5 1.3 2.6 2.2 2.5 3.1 2.5 3.4 2.5 2.7 2.5 1.2 2.5-1.3 2.6-4.3 2.5-7.1 2.5-9.1 2.5-9.8 2.5-9.4 2.5-7.7 2.6-5.4 2.5-2.9 2.5-0.4 2.5 1.4 2.5 2.7 2.5 2.9 2.6 2.3 2.5 1.3 2.5 0.4 2.5-0.3 2.5-0.4 2.5 0.2 2.6 1.1 2.5 2 2.5 2.6"/><path d="M32.7,603.3l2.5-1.9 2.5-2.1 2.6-2.4 2.5-2.7 2.5-2.7 2.5-2.5 2.5-2.1 2.5-1.5 2.6-0.8 2.5 0.1 2.5 0.9 2.5 1.7 2.5 2.5 2.5 2.9 2.6 3.3 2.5 3.2 2.5 3.1 2.5 2.5 2.5 2 2.5 1.2 2.6 0.5 2.5-0.3 2.5-1 2.5-1.7 2.5-2 2.5-2.1 2.6-2 2.5-1.7 2.5-1.2 2.5-0.8 2.5-0.2 2.5 0.2 2.6 0.5 2.5 0.7 2.5 0.5 2.5 0.5 2.5 0.1 2.5-0.1 2.6-0.3 2.5-0.2 2.5 0.2 2.5 0.9 2.5 1.2 2.5 1.4 2.6 1.3 2.5 0.8 2.5 0.1 2.5-1.1 2.5-2.1 2.5-2.8 2.6-3.2 2.5-3.1 2.5-2.5 2.5-1.3 2.5 0.3 2.5 0.9 2.6 0.6 2.5-0.4 2.5-1.8 2.5-3 2.5-3.5 2.5-3.7 2.6-3.2 2.5-2.3 2.5-1.1 2.5 0.6 2.5 2.1 2.5 3.4 2.6 4.3 2.5 4.8 2.5 5 2.5 4.6 2.5 3.9 2.5 3 2.6 2 2.5 0.7 2.5-0.5 2.5-1.6 2.5-2.1 2.5-2.2 2.6-1.9 2.5-1.1 2.5 0.2 2.5 1.3 2.5 2.7 2.5 3.8 2.6 4.7 2.5 5.2 2.5 5.1 2.5 4.4 2.5 3.6 2.5 2.5 2.6 1.4 2.5 0.4 2.5-0.6 2.5-1.7 2.5-2.8 2.5-3.8 2.6-4.7 2.5-5.5 2.5-5.7 2.5-5.6 2.5-5.1 2.5-4.1 2.6-3.2 2.5-2.1 2.5-0.9 2.5 0.2 2.5 1.3 2.5 1.9 2.6 2.2 2.5 2 2.5 1.5 2.5 0.8 2.5 0 2.5-0.4 2.6-0.8 2.5-0.8 2.5-0.6"/><path d="M32.7,603.3l2.5-1.1 2.5-0.8 2.6-1 2.5-1.4 2.5-1.8 2.5-2.1 2.5-2.2 2.5-1.8 2.6-1.2 2.5-0.2 2.5 1 2.5 2 2.5 2.8 2.5 3.4 2.6 3.6 2.5 3.2 2.5 2.8 2.5 2 2.5 1.2 2.5 0.6 2.6 0.1 2.5-0.1 2.5-0.3 2.5-0.3 2.5-0.1 2.5 0.1 2.6 0.1 2.5 0 2.5-0.4 2.5-0.9 2.5-1.5 2.5-2.3 2.6-2.7 2.5-3 2.5-2.8 2.5-2.2 2.5-1.4 2.5-0.3 2.6 1 2.5 2.4 2.5 3.7 2.5 4.8 2.5 5.1 2.5 4.5 2.6 3.3 2.5 1.3 2.5-0.8 2.5-3.5 2.5-5.5 2.5-6.6 2.6-6.9 2.5-6.2 2.5-4.6 2.5-2 2.5 0.8 2.5 2.2 2.6 2.3 2.5 0.9 2.5-1.1 2.5-2.9 2.5-3.9 2.5-4.2 2.6-3.9 2.5-2.7 2.5-1 2.5 1.1 2.5 3.1 2.5 4.6 2.6 5.3 2.5 5.6 2.5 5.2 2.5 4.3 2.5 3.2 2.5 2 2.6 0.8 2.5-0.2 2.5-0.9 2.5-1.2 2.5-0.9 2.5-0.2 2.6 0.9 2.5 1.9 2.5 3 2.5 3.6 2.5 4 2.5 4 2.6 3.9 2.5 3.5 2.5 2.8 2.5 2.1 2.5 1.6 2.5 1.3 2.6 1.3 2.5 1.4 2.5 1.3 2.5 0.7 2.5-0.2 2.5-1.6 2.6-3.5 2.5-5.3 2.5-6.9 2.5-7.8 2.5-8 2.5-7.7 2.6-6.5 2.5-5 2.5-3.1 2.5-0.9 2.5 1.1 2.5 2.5 2.6 3.3 2.5 3.2 2.5 2.7 2.5 1.7 2.5 0.6 2.5-0.1 2.6-0.4 2.5-0.4 2.5 0.1"/><path d="M32.7,603.3l2.5-2.6 2.5-1.7 2.6-1.2 2.5-0.7 2.5-0.4 2.5-0.1 2.5 0.2 2.5 0.2 2.6 0 2.5-0.3 2.5-0.6 2.5-0.8 2.5-0.5 2.5 0 2.6 0.9 2.5 1.9 2.5 2.7 2.5 3 2.5 2.7 2.5 2.1 2.6 1 2.5 0.1 2.5-0.8 2.5-1.2 2.5-1.3 2.5-1.2 2.6-1 2.5-0.9 2.5-0.7 2.5-0.8 2.5-0.6 2.5-0.4 2.6-0.1 2.5 0.1 2.5 0.4 2.5 0.2 2.5-0.2 2.5-0.8 2.6-1.1 2.5-1 2.5-0.4 2.5 0.7 2.5 1.9 2.5 2.7 2.6 3.2 2.5 2.7 2.5 1.6 2.5-0.1 2.5-1.9 2.5-3.4 2.6-4.1 2.5-4.2 2.5-3.6 2.5-2.4 2.5-0.9 2.5 0 2.6 0.2 2.5 0.1 2.5-0.4 2.5-0.5 2.5-0.4 2.5-0.1 2.6 0.1 2.5 0 2.5-0.2 2.5-0.2 2.5-0.3 2.5-0.1 2.6 0.4 2.5 1.2 2.5 2.1 2.5 2.8 2.5 3.2 2.5 3 2.6 2.4 2.5 1.5 2.5 0.5 2.5-0.3 2.5-0.7 2.5-0.8 2.6-0.6 2.5-0.3 2.5 0.1 2.5 0.4 2.5 0.9 2.5 1.6 2.6 2.3 2.5 3.1 2.5 3.6 2.5 3.5 2.5 3 2.5 2.1 2.6 0.9 2.5-0.3 2.5-1.4 2.5-2.1 2.5-2.5 2.5-2.4 2.6-2.4 2.5-2.3 2.5-2.3 2.5-2.5 2.5-2.6 2.5-2.6 2.6-2.5 2.5-2.2 2.5-1.6 2.5-1 2.5-0.3 2.5 0 2.6 0.1 2.5 0 2.5 0 2.5 0.3 2.5 0.7 2.5 1.3 2.6 2 2.5 2.3 2.5 2.1"/><path d="M32.7,603.3l2.5-3.1 2.5-3.4 2.6 0.1 2.5 4.6 2.5 8.4 2.5 10.1 2.5 9.5 2.5 6.7 2.6 2.8 2.5-1.6 2.5-5.3 2.5-7.6 2.5-8.1 2.5-6.7 2.6-3.9 2.5-0.3 2.5 3.4 2.5 6.6 2.5 8.7 2.5 9.3 2.6 8.7 2.5 7 2.5 4.3 2.5 1.6 2.5-1 2.5-2.9 2.6-4.2 2.5-4.8 2.5-5.1 2.5-5.1 2.5-4.9 2.5-4.7 2.6-4.5 2.5-3.9 2.5-3.1 2.5-1.6 2.5 0.2 2.5 2.5 2.6 5.1 2.5 7.4 2.5 9.2 2.5 10.1 2.5 9 2.5 6.3 2.6 2.1 2.5-2.8 2.5-7.8 2.5-12.2 2.5-14.6 2.5-14.4 2.6-12 2.5-7.5 2.5-1.6 2.5 4.9 2.5 10.4 2.5 12.8 2.6 11.6 2.5 6.9 2.5 0.4 2.5-6.3 2.5-11.6 2.5-14.9 2.6-15.6 2.5-13.5 2.5-8.8 2.5-2.3 2.5 4.6 2.5 10.5 2.6 14.8 2.5 16.8 2.5 16.3 2.5 13.4 2.5 9 2.5 3.9 2.6-1.1 2.5-5.4 2.5-8.1 2.5-9.1 2.5-8.2 2.5-5.6 2.6-2.1 2.5 1.6 2.5 5.1 2.5 7.7 2.5 9.2 2.5 9.9 2.6 9.7 2.5 8.6 2.5 7.1 2.5 5 2.5 3.2 2.5 1.6 2.6 0.2 2.5-1.1 2.5-2.6 2.5-4.2 2.5-6 2.5-7.6 2.6-8.9 2.5-9.3 2.5-8.6 2.5-6.6 2.5-4.1 2.5-1.4 2.6 0.9 2.5 2.3 2.5 2.5 2.5 1.6 2.5-0.1 2.5-2.7 2.6-5.3 2.5-7.3 2.5-8 2.5-7.3 2.5-4.7 2.5-0.7 2.6 4 2.5 8.7 2.5 12"/><path d="M32.7,603.3l2.5-1.4 2.5 0.6 2.6 0.6 2.5-0.6 2.5-2.5 2.5-4.5 2.5-5.7 2.5-5.8 2.6-4.7 2.5-2.7 2.5 0.1 2.5 2.9 2.5 5.5 2.5 7.1 2.6 7.7 2.5 7.1 2.5 5.4 2.5 3 2.5 0.5 2.5-1.9 2.6-3.6 2.5-4.3 2.5-4.2 2.5-3 2.5-1.3 2.5 0.7 2.6 2.4 2.5 3.6 2.5 3.8 2.5 3.1 2.5 1.4 2.5-0.8 2.6-3.2 2.5-5.2 2.5-6.4 2.5-6.6 2.5-5.6 2.5-3.6 2.6-0.7 2.5 2.7 2.5 5.9 2.5 8.5 2.5 9.6 2.5 9 2.6 6.8 2.5 3.3 2.5-0.9 2.5-5.6 2.5-9.2 2.5-11.3 2.6-11.6 2.5-10.1 2.5-6.8 2.5-2.2 2.5 2.7 2.5 5.9 2.6 7 2.5 5.8 2.5 2.9 2.5-0.3 2.5-3.6 2.5-6.1 2.6-7.6 2.5-7.7 2.5-6.3 2.5-3.2 2.5 0.3 2.5 3.9 2.6 7.2 2.5 9.5 2.5 10.4 2.5 9.9 2.5 8 2.5 5.1 2.6 1.7 2.5-1.7 2.5-4.7 2.5-6.4 2.5-6.7 2.5-5.3 2.6-2.8 2.5 0.7 2.5 4.4 2.5 7.4 2.5 9.5 2.5 10.3 2.6 9.6 2.5 7.5 2.5 4.5 2.5 0.9 2.5-2.2 2.5-4.3 2.6-5.1 2.5-4.6 2.5-3.1 2.5-1.1 2.5 0.8 2.5 2 2.6 2.2 2.5 1.2 2.5-0.6 2.5-3.1 2.5-5.9 2.5-8.4 2.6-10.2 2.5-10.8 2.5-10.1 2.5-7.7 2.5-4.2 2.5-0.2 2.6 3.7 2.5 6.7 2.5 8.5 2.5 8.9 2.5 7.8 2.5 5.6 2.6 2.7 2.5-0.4 2.5-3.2"/><path d="M32.7,603.3l2.5-2.5 2.5-3 2.6-0.8 2.5 2.3 2.5 5 2.5 5.9 2.5 5.1 2.5 2.5 2.6-0.7 2.5-3.9 2.5-5.8 2.5-6.1 2.5-4.6 2.5-1.7 2.6 1.9 2.5 5.2 2.5 7.4 2.5 8.2 2.5 7.3 2.5 5.2 2.6 2.5 2.5-0.2 2.5-2.3 2.5-3.4 2.5-3.6 2.5-2.9 2.6-2 2.5-1.2 2.5-0.9 2.5-1.1 2.5-1.5 2.5-2 2.6-2.1 2.5-1.6 2.5-0.5 2.5 0.9 2.5 2.3 2.5 3 2.6 3.1 2.5 2.4 2.5 1.2 2.5-0.1 2.5-1.4 2.5-2.2 2.6-2 2.5-1.1 2.5 0.4 2.5 1.6 2.5 2.2 2.5 2.2 2.6 1 2.5-1.3 2.5-3.7 2.5-5.5 2.5-6.4 2.5-6.8 2.6-6.3 2.5-5.2 2.5-3.4 2.5-0.8 2.5 1.7 2.5 3.6 2.6 4.3 2.5 3.7 2.5 2.4 2.5 0.9 2.5-0.3 2.5-0.9 2.6-0.8 2.5 0.4 2.5 1.7 2.5 3.3 2.5 4.1 2.5 4.3 2.6 3.6 2.5 2.2 2.5 0.7 2.5-0.4 2.5-0.8 2.5-0.2 2.6 0.9 2.5 2.5 2.5 3.7 2.5 4.1 2.5 3.6 2.5 2.6 2.6 1.1 2.5-0.2 2.5-1 2.5-0.7 2.5 0.5 2.5 2.8 2.6 5 2.5 6.7 2.5 7 2.5 5.4 2.5 2.2 2.5-2.4 2.6-7.2 2.5-11.1 2.5-13.3 2.5-13.2 2.5-11 2.5-7.3 2.6-3.1 2.5 0.8 2.5 3.6 2.5 4.9 2.5 4.8 2.5 3.3 2.6 1 2.5-1 2.5-2.6 2.5-2.9 2.5-2.4 2.5-0.8 2.6 0.9 2.5 2.3 2.5 3.1"/><path d="M32.7,603.3l2.5-1.4 2.5-1.4 2.6-1.9 2.5-2.5 2.5-3 2.5-3.4 2.5-3.4 2.5-3 2.6-2.3 2.5-1.3 2.5 0.1 2.5 1.6 2.5 2.9 2.5 4.3 2.6 5 2.5 5.5 2.5 5.4 2.5 4.9 2.5 3.9 2.5 2.7 2.6 1.2 2.5-0.1 2.5-1.5 2.5-2.6 2.5-3.3 2.5-3.5 2.6-3.3 2.5-2.6 2.5-1.8 2.5-0.9 2.5-0.1 2.5 0.5 2.6 0.8 2.5 0.7 2.5 0.4 2.5-0.2 2.5-0.7 2.5-1.3 2.6-1.5 2.5-0.9 2.5 0 2.5 1.6 2.5 2.7 2.5 3.5 2.6 3.7 2.5 3.2 2.5 1.9 2.5-0.3 2.5-2.4 2.5-4.3 2.6-5.7 2.5-6.3 2.5-5.9 2.5-4.4 2.5-2.1 2.5-0.8 2.6-0.8 2.5-1.9 2.5-3.2 2.5-4.1 2.5-4.2 2.5-3.6 2.6-2.4 2.5-0.9 2.5 1 2.5 3.1 2.5 4.7 2.5 5.6 2.6 6 2.5 5.9 2.5 5.3 2.5 4.2 2.5 3.2 2.5 2.1 2.6 1 2.5 0 2.5-0.8 2.5-1.3 2.5-1.2 2.5-0.6 2.6 0.4 2.5 1.8 2.5 3.2 2.5 4.4 2.5 5.5 2.5 6.1 2.6 6.5 2.5 6.1 2.5 5.2 2.5 3.8 2.5 2.2 2.5 1.1 2.6 0.2 2.5-0.5 2.5-1 2.5-1.5 2.5-2.2 2.5-3.2 2.6-4.3 2.5-5.6 2.5-6.3 2.5-6.9 2.5-7 2.5-6.7 2.6-6.3 2.5-5.4 2.5-4.4 2.5-3 2.5-1.3 2.5 0 2.6 1 2.5 1.7 2.5 2 2.5 2.1 2.5 1.9 2.5 1.9 2.6 1.9 2.5 2.2 2.5 2.2"/><path d="M32.7,603.3l2.5-2.6 2.5-3.4 2.6-2.2 2.5-0.1 2.5 2 2.5 3.6 2.5 4.1 2.5 3.6 2.6 2.2 2.5 0.3 2.5-1.6 2.5-3.1 2.5-3.8 2.5-3.4 2.6-2.2 2.5-0.2 2.5 2.1 2.5 4.5 2.5 6.3 2.5 7.1 2.6 7 2.5 5.7 2.5 3.4 2.5 0.5 2.5-2.4 2.5-4.8 2.6-6.3 2.5-6.9 2.5-6.2 2.5-4.7 2.5-2.4 2.5-0.2 2.6 2 2.5 3.4 2.5 3.9 2.5 3.6 2.5 2.3 2.5 0.7 2.6-0.9 2.5-2 2.5-2.2 2.5-1.6 2.5-0.4 2.5 0.8 2.6 2.2 2.5 3.1 2.5 3.2 2.5 2.1 2.5 0.5 2.5-1.4 2.6-3.5 2.5-5.3 2.5-6.2 2.5-5.8 2.5-4.6 2.5-3.3 2.6-2.3 2.5-1.7 2.5-1.4 2.5-0.5 2.5 0.3 2.5 1.1 2.6 1.4 2.5 1.4 2.5 1.1 2.5 0.8 2.5 0.5 2.5 0 2.6 0 2.5 0.4 2.5 1.3 2.5 2.5 2.5 3.8 2.5 4.8 2.6 5.5 2.5 5.2 2.5 4.1 2.5 2.5 2.5 0.5 2.5-1.3 2.6-2.7 2.5-3.3 2.5-3 2.5-1.7 2.5 0.3 2.5 2.7 2.6 5.3 2.5 7.2 2.5 8.3 2.5 8.1 2.5 6.9 2.5 4.9 2.6 2.4 2.5-0.3 2.5-2.8 2.5-5.1 2.5-6.6 2.5-7.3 2.6-7.3 2.5-6.5 2.5-5.1 2.5-3.3 2.5-1.8 2.5-0.6 2.6-0.2 2.5-0.5 2.5-1.3 2.5-2.2 2.5-3.1 2.5-3.5 2.6-3.7 2.5-3.1 2.5-1.9 2.5-0.3 2.5 1.7 2.5 3.7 2.6 5.4 2.5 6.3 2.5 6.2"/><path d="M32.7,603.3l2.5-0.1 2.5 3.6 2.6 3.5 2.5 0.6 2.5-3.7 2.5-7.3 2.5-9.1 2.5-8.6 2.6-5.6 2.5-1.2 2.5 3.8 2.5 7.8 2.5 10.2 2.5 10.2 2.6 8 2.5 4 2.5-0.5 2.5-4.6 2.5-7.4 2.5-8.1 2.6-6.6 2.5-3.5 2.5 0.6 2.5 4.4 2.5 7.2 2.5 8.4 2.6 7.4 2.5 4.7 2.5 0.7 2.5-3.7 2.5-7.2 2.5-9.3 2.6-9.5 2.5-7.6 2.5-4.2 2.5 0.1 2.5 4.2 2.5 7.3 2.6 8.8 2.5 8.5 2.5 6.5 2.5 3.2 2.5-0.5 2.5-4.1 2.6-6.5 2.5-7.3 2.5-6.6 2.5-4.3 2.5-1.4 2.5 1.8 2.6 4.3 2.5 5.4 2.5 4.8 2.5 3.2 2.5 0.4 2.5-3.2 2.6-6.5 2.5-9 2.5-9.5 2.5-7.8 2.5-4.1 2.5 0.4 2.6 4.9 2.5 8 2.5 9.3 2.5 8.4 2.5 5.6 2.5 1.4 2.6-2.8 2.5-6.1 2.5-7.4 2.5-6.6 2.5-3.8 2.5 0.6 2.6 5 2.5 8.5 2.5 10.1 2.5 9.4 2.5 6.7 2.5 2.4 2.6-2.4 2.5-6.3 2.5-8.6 2.5-8.5 2.5-6.2 2.5-1.9 2.6 3.3 2.5 7.9 2.5 11 2.5 11.9 2.5 10.3 2.5 6.7 2.6 1.8 2.5-3.2 2.5-7.3 2.5-9.7 2.5-10 2.5-8.2 2.6-5.2 2.5-1.3 2.5 2.3 2.5 4.6 2.5 5.3 2.5 4 2.6 1.1 2.5-2.5 2.5-6 2.5-8.3 2.5-8.9 2.5-7.7 2.6-4.8 2.5-0.7 2.5 3.5 2.5 7.1 2.5 9.1 2.5 9.4 2.6 7.8 2.5 4.4 2.5 0.4"/><path d="M32.7,603.3l2.5-2.1 2.5-2.5 2.6-3 2.5-3.2 2.5-3 2.5-2.4 2.5-1.6 2.5-0.5 2.6 0.5 2.5 1.5 2.5 2.3 2.5 2.7 2.5 2.8 2.5 2.7 2.6 2.2 2.5 1.5 2.5 0.9 2.5 0.2 2.5-0.2 2.5-0.5 2.6-0.5 2.5-0.3 2.5-0.1 2.5 0.3 2.5 0.5 2.5 0.8 2.6 0.9 2.5 0.7 2.5 0.4 2.5-0.2 2.5-0.9 2.5-1.5 2.6-2.1 2.5-2.6 2.5-2.7 2.5-2.5 2.5-2 2.5-1.3 2.6-0.1 2.5 1.2 2.5 2.7 2.5 3.9 2.5 4.7 2.5 4.5 2.6 3.9 2.5 2.5 2.5 0.5 2.5-1.8 2.5-4 2.5-5.6 2.6-6.3 2.5-6.3 2.5-5.3 2.5-3.2 2.5-0.8 2.5 1 2.6 2 2.5 1.8 2.5 1.1 2.5 0.2 2.5-0.6 2.5-1.3 2.6-1.7 2.5-1.9 2.5-1.6 2.5-0.9 2.5-0.1 2.5 0.8 2.6 1.7 2.5 2.5 2.5 3.3 2.5 3.6 2.5 3.8 2.5 3.7 2.6 3.1 2.5 2.4 2.5 1.2 2.5 0.1 2.5-0.7 2.5-1.2 2.6-1.4 2.5-1.1 2.5-0.4 2.5 0.5 2.5 1.6 2.5 2.8 2.6 3.7 2.5 4.3 2.5 4.3 2.5 3.9 2.5 3.2 2.5 2.4 2.6 1.4 2.5 0.5 2.5-0.4 2.5-1.4 2.5-2.3 2.5-3.2 2.6-3.9 2.5-4.6 2.5-4.7 2.5-4.7 2.5-4.2 2.5-3.6 2.6-3 2.5-2.3 2.5-1.6 2.5-0.9 2.5-0.1 2.5 0.4 2.6 0.7 2.5 0.8 2.5 0.9 2.5 0.7 2.5 0.6 2.5 0.7 2.6 0.9 2.5 1.2 2.5 1.3"/><path d="M32.7,603.3l2.5-0.8 2.5-0.1 2.6-0.9 2.5-2.3 2.5-3.4 2.5-3.7 2.5-2.9 2.5-1.2 2.6 0.8 2.5 2.7 2.5 3.8 2.5 3.9 2.5 3.2 2.5 1.6 2.6-0.2 2.5-1.6 2.5-2.4 2.5-2.3 2.5-1.2 2.5 0.5 2.6 2.1 2.5 3.4 2.5 3.9 2.5 3.2 2.5 1.8 2.5-0.1 2.6-2.2 2.5-3.6 2.5-4.3 2.5-4 2.5-2.7 2.5-0.9 2.6 0.9 2.5 2.3 2.5 2.8 2.5 2.5 2.5 1.4 2.5-0.2 2.6-1.6 2.5-2.5 2.5-2.2 2.5-1.3 2.5 0.4 2.5 2.1 2.6 3.4 2.5 4 2.5 3.4 2.5 1.7 2.5-0.6 2.5-3 2.6-5 2.5-5.9 2.5-5.7 2.5-4 2.5-1.5 2.5 0.9 2.6 2.6 2.5 3.1 2.5 2.6 2.5 1.4 2.5-0.3 2.5-2 2.6-3.2 2.5-3.8 2.5-3.2 2.5-1.7 2.5 0.3 2.5 2.3 2.6 4 2.5 4.8 2.5 4.8 2.5 3.9 2.5 2.2 2.5 0.5 2.6-1.1 2.5-2.2 2.5-2.4 2.5-1.8 2.5-0.7 2.5 0.7 2.6 2.1 2.5 2.9 2.5 3.1 2.5 2.7 2.5 1.7 2.5 0.7 2.6 0 2.5-0.4 2.5-0.3 2.5 0.3 2.5 1.3 2.5 2.2 2.6 2.8 2.5 2.9 2.5 2.2 2.5 0.9 2.5-0.9 2.5-2.6 2.6-4.2 2.5-5 2.5-4.9 2.5-4.2 2.5-2.9 2.5-1.6 2.6-0.3 2.5 0.2 2.5 0.4 2.5 0.1 2.5-0.4 2.5-1 2.6-1.3 2.5-1.3 2.5-0.7 2.5 0.1 2.5 1.2 2.5 2.1 2.6 2.6 2.5 2.7 2.5 2.2"/><path d="M32.7,603.3l2.5-5.4 2.5-6.7 2.6-4.3 2.5 0.1 2.5 3.7 2.5 4.5 2.5 2 2.5-2.4 2.6-6.5 2.5-8 2.5-6 2.5-1.2 2.5 4.3 2.5 8.2 2.6 9.1 2.5 6.5 2.5 2.1 2.5-1.9 2.5-3.8 2.5-2.4 2.6 1.3 2.5 5.6 2.5 8 2.5 7.1 2.5 3.2 2.5-2.6 2.6-7.7 2.5-10.4 2.5-9.2 2.5-5.1 2.5 0.2 2.5 4.3 2.6 5.5 2.5 3.5 2.5-0.7 2.5-4.8 2.5-6.7 2.5-5.3 2.6-1 2.5 4.5 2.5 9.1 2.5 10.7 2.5 8.5 2.5 3.5 2.6-2.1 2.5-6.2 2.5-7.4 2.5-5.9 2.5-2.9 2.5 0 2.6 0.6 2.5-1.2 2.5-4.3 2.5-6.7 2.5-6.8 2.5-4.8 2.6-1.1 2.5 2.9 2.5 5.4 2.5 5.3 2.5 2.4 2.5-2.5 2.6-7.5 2.5-10 2.5-8.8 2.5-3.9 2.5 2.7 2.5 8.5 2.6 11.4 2.5 10.7 2.5 6.8 2.5 2 2.5-1.7 2.5-2.5 2.6-0.5 2.5 3.1 2.5 6.2 2.5 7 2.5 4.8 2.5 0.3 2.6-4.6 2.5-7.5 2.5-6.9 2.5-3.1 2.5 3 2.5 9 2.6 12.3 2.5 11.9 2.5 8 2.5 2.4 2.5-2.2 2.5-4 2.6-2.3 2.5 1.2 2.5 5 2.5 6.3 2.5 4.1 2.5-1.1 2.6-7.7 2.5-13 2.5-15 2.5-13 2.5-8.1 2.5-2.6 2.6 1.5 2.5 2.4 2.5 0.5 2.5-2.7 2.5-5.1 2.5-5.2 2.6-2.6 2.5 2.1 2.5 6.8 2.5 9.1 2.5 8.2 2.5 4.2 2.6-1.3 2.5-5.7 2.5-7.5"/><path d="M32.7,603.3l2.5-1.3 2.5-1 2.6-2.7 2.5-4.9 2.5-6.2 2.5-6.2 2.5-5 2.5-2.6 2.6 0.1 2.5 2.6 2.5 4.6 2.5 5.4 2.5 5.3 2.5 4.2 2.6 2.4 2.5 0.6 2.5-1.3 2.5-2.7 2.5-3.5 2.5-3.9 2.6-3.5 2.5-2.8 2.5-1.7 2.5-0.5 2.5 0.9 2.5 2.2 2.6 3.1 2.5 3.9 2.5 3.9 2.5 3.4 2.5 2.3 2.5 0.7 2.6-1.4 2.5-3.3 2.5-4.9 2.5-5.7 2.5-5.5 2.5-4.2 2.6-1.9 2.5 0.9 2.5 3.8 2.5 6 2.5 7.3 2.5 7.1 2.6 5.3 2.5 2.6 2.5-0.8 2.5-4.2 2.5-6.8 2.5-8 2.6-7.7 2.5-5.8 2.5-2.9 2.5 0.8 2.5 4 2.5 6.4 2.6 7.3 2.5 6.6 2.5 4.5 2.5 1.7 2.5-1.3 2.5-3.9 2.6-5.7 2.5-6.3 2.5-5.6 2.5-3.9 2.5-1.6 2.5 0.7 2.6 2.7 2.5 4.3 2.5 5 2.5 4.8 2.5 4.1 2.5 2.7 2.6 1.3 2.5-0.3 2.5-1.8 2.5-2.9 2.5-3.6 2.5-4 2.6-3.6 2.5-2.8 2.5-1.5 2.5 0.2 2.5 2.1 2.5 3.8 2.6 5.1 2.5 5.6 2.5 5.2 2.5 3.9 2.5 1.6 2.5-0.9 2.6-3.5 2.5-5.5 2.5-6.5 2.5-6.3 2.5-4.7 2.5-2.3 2.6 0.8 2.5 3.6 2.5 5.7 2.5 6.6 2.5 6.1 2.5 4.2 2.6 1.3 2.5-1.9 2.5-4.9 2.5-6.8 2.5-7.4 2.5-6.6 2.6-4.3 2.5-1.4 2.5 1.8 2.5 4.4 2.5 6.2 2.5 6.7 2.6 5.9 2.5 4 2.5 1.7"/><path d="M32.7,603.3l2.5-1.8 2.5-2.2 2.6-3 2.5-3.6 2.5-3.9 2.5-3.7 2.5-3.2 2.5-2.3 2.6-1.1 2.5 0.1 2.5 1.5 2.5 2.6 2.5 3.6 2.5 4.1 2.6 4.4 2.5 4.1 2.5 3.5 2.5 2.5 2.5 1.3 2.5-0.1 2.6-1.2 2.5-2.3 2.5-2.9 2.5-3.1 2.5-2.8 2.5-2.1 2.6-1 2.5 0 2.5 1 2.5 1.7 2.5 2.1 2.5 2 2.6 1.5 2.5 0.7 2.5-0.3 2.5-1.3 2.5-2 2.5-2.6 2.6-2.6 2.5-2.2 2.5-1.2 2.5 0.2 2.5 1.4 2.5 2.3 2.6 3 2.5 3.2 2.5 2.6 2.5 1.6 2.5 0.3 2.5-0.9 2.6-2.3 2.5-3.2 2.5-3.7 2.5-3.5 2.5-2.9 2.5-2.5 2.6-2.7 2.5-3 2.5-3.3 2.5-3.1 2.5-2.2 2.5-1.1 2.6 0.3 2.5 1.6 2.5 2.7 2.5 3.8 2.5 4.3 2.5 4.1 2.6 3.6 2.5 2.8 2.5 1.8 2.5 0.9 2.5-0.1 2.5-0.8 2.6-1.2 2.5-1.4 2.5-1.4 2.5-1 2.5-0.3 2.5 0.7 2.6 1.9 2.5 3.1 2.5 4.1 2.5 4.6 2.5 4.9 2.5 4.5 2.6 3.8 2.5 2.7 2.5 1.2 2.5-0.2 2.5-1.4 2.5-2 2.6-2.1 2.5-1.6 2.5-1 2.5-0.2 2.5 0.4 2.5 0.4 2.6 0.2 2.5-0.5 2.5-1.4 2.5-2.3 2.5-3.2 2.5-4 2.6-4.5 2.5-4.9 2.5-4.7 2.5-4.2 2.5-3.2 2.5-2 2.6-0.9 2.5 0.2 2.5 1.4 2.5 2.3 2.5 3.1 2.5 3.6 2.6 4.1 2.5 4 2.5 3.5"/></g>
<path d="M32.7,603.3l1.5-1.1 1.5-1.1 1.5-1.1 1.5-1 1.5-1 1.5-0.9 1.5-0.7 1.5-0.7 1.5-0.5 1.6-0.5 1.5-0.4 1.5-0.2 1.5-0.2 1.5 0 1.5 0 1.5 0.1 1.5 0.3 1.5 0.3 1.5 0.4 1.5 0.6 1.5 0.6 1.5 0.7 1.5 0.8 1.5 0.9 1.5 1 1.5 1 1.5 1.1 1.5 1 1.5 1.1 1.6 1.1 1.5 1 1.5 1 1.5 1 1.5 0.9 1.5 0.7 1.5 0.7 1.5 0.5 1.5 0.3 1.5 0.2 1.5 0 1.5-0.1 1.5-0.4 1.5-0.4 1.5-0.6 1.5-0.6 1.5-0.8 1.5-0.7 1.5-0.9 1.5-0.8 1.6-0.9 1.5-0.8 1.5-0.8 1.5-0.8 1.5-0.8 1.5-0.7 1.5-0.6 1.5-0.6 1.5-0.6 1.5-0.4 1.5-0.4 1.5-0.4 1.5-0.2 1.5-0.1 1.5 0 1.5 0.1 1.5 0.4 1.5 0.6 1.5 1 1.5 1.2 1.6 1.5 1.5 1.7 1.5 1.8 1.5 1.8 1.5 1.7 1.5 1.5 1.5 1.2 1.5 0.8 1.5 0.3 1.5-0.2 1.5-0.9 1.5-1.5 1.5-2 1.5-2.4 1.5-2.7 1.5-2.9 1.5-3 1.5-2.9 1.5-2.6 1.5-2.1 1.6-1.6 1.5-0.8 1.5-0.2 1.5 0.2 1.5 0.5 1.5 0.5 1.5 0.4 1.5 0.1 1.5-0.3 1.5-0.6 1.5-0.9 1.5-1 1.5-1.2 1.5-1.2 1.5-1.2 1.5-1.1 1.5-0.9 1.5-0.7 1.5-0.4 1.5-0.1 1.6 0.4 1.5 0.7 1.5 1 1.5 1.3 1.5 1.6 1.5 1.7 1.5 1.9 1.5 1.9 1.5 2 1.5 1.9 1.5 1.9 1.5 1.7 1.5 1.7 1.5 1.4 1.5 1.3 1.5 1.1 1.5 0.9 1.5 0.6 1.5 0.3 1.5 0.1 1.6-0.1 1.5-0.3 1.5-0.3 1.5-0.3 1.5-0.3 1.5-0.2 1.5-0.1 1.5 0.2 1.5 0.5 1.5 0.8 1.5 1 1.5 1.2 1.5 1.5 1.5 1.8 1.5 1.9 1.5 2.2 1.5 2.2 1.5 2.2 1.5 2.1 1.5 2 1.6 1.7 1.5 1.5 1.5 1.2 1.5 1 1.5 0.8 1.5 0.6 1.5 0.4 1.5 0.3 1.5 0.1 1.5-0.1 1.5-0.4 1.5-0.5 1.5-0.8 1.5-1.2 1.5-1.4 1.5-1.8 1.5-2.1 1.5-2.5 1.5-2.7 1.5-2.8 1.6-2.9 1.5-3 1.5-3 1.5-2.9 1.5-2.7 1.5-2.5 1.5-2.4 1.5-2 1.5-1.8 1.5-1.3 1.5-1 1.5-0.6 1.5-0.1 1.5 0.2 1.5 0.5 1.5 0.7 1.5 0.9 1.5 1.1 1.5 1 1.5 1.1 1.6 1 1.5 0.9 1.5 0.8 1.5 0.7 1.5 0.6 1.5 0.6 1.5 0.5 1.5 0.5 1.5 0.4 1.5 0.5" fill="none" stroke="#3874b2" stroke-width="1.0" clip-path="url(#cbb)"/>
<rect x="30.50" y="554.50" width="305.00" height="99.00" fill="none" stroke="#6e6e6e" stroke-width="1"/>
<text x="25.60" y="652.00" font-size="6.50" text-anchor="end" fill="#111" textLength="8.59" lengthAdjust="spacingAndGlyphs">0.0</text>
<text x="25.60" y="639.05" font-size="6.50" text-anchor="end" fill="#111" textLength="8.59" lengthAdjust="spacingAndGlyphs">0.5</text>
<text x="25.60" y="626.10" font-size="6.50" text-anchor="end" fill="#111" textLength="8.59" lengthAdjust="spacingAndGlyphs">1.0</text>
<text x="25.60" y="613.15" font-size="6.50" text-anchor="end" fill="#111" textLength="8.59" lengthAdjust="spacingAndGlyphs">1.5</text>
<text x="25.60" y="600.20" font-size="6.50" text-anchor="end" fill="#111" textLength="8.59" lengthAdjust="spacingAndGlyphs">2.0</text>
<text x="25.60" y="587.25" font-size="6.50" text-anchor="end" fill="#111" textLength="8.59" lengthAdjust="spacingAndGlyphs">2.5</text>
<text x="25.60" y="574.30" font-size="6.50" text-anchor="end" fill="#111" textLength="8.59" lengthAdjust="spacingAndGlyphs">3.0</text>
<text x="25.60" y="561.35" font-size="6.50" text-anchor="end" fill="#111" textLength="8.59" lengthAdjust="spacingAndGlyphs">3.5</text>
<text x="33.40" y="662.70" font-size="6.50" text-anchor="middle" fill="#111" textLength="10.31" lengthAdjust="spacingAndGlyphs">543</text>
<text x="78.25" y="662.70" font-size="6.50" text-anchor="middle" fill="#111" textLength="10.31" lengthAdjust="spacingAndGlyphs">546</text>
<text x="123.10" y="662.70" font-size="6.50" text-anchor="middle" fill="#111" textLength="10.31" lengthAdjust="spacingAndGlyphs">549</text>
<text x="167.95" y="662.70" font-size="6.50" text-anchor="middle" fill="#111" textLength="10.31" lengthAdjust="spacingAndGlyphs">552</text>
<text x="212.80" y="662.70" font-size="6.50" text-anchor="middle" fill="#111" textLength="10.31" lengthAdjust="spacingAndGlyphs">555</text>
<text x="257.65" y="662.70" font-size="6.50" text-anchor="middle" fill="#111" textLength="10.31" lengthAdjust="spacingAndGlyphs">558</text>
<text x="302.50" y="662.70" font-size="6.50" text-anchor="middle" fill="#111" textLength="10.31" lengthAdjust="spacingAndGlyphs">561</text>
<path d="M28.20,370.30H30.50M28.20,401.28H30.50M28.20,432.26H30.50M28.20,463.24H30.50M28.20,494.22H30.50M28.20,525.20H30.50M33.40,546.30V548.60M78.25,546.30V548.60M123.10,546.30V548.60M167.95,546.30V548.60M212.80,546.30V548.60M257.65,546.30V548.60M302.50,546.30V548.60M28.20,650.00H30.50M28.20,637.05H30.50M28.20,624.10H30.50M28.20,611.15H30.50M28.20,598.20H30.50M28.20,585.25H30.50M28.20,572.30H30.50M28.20,559.35H30.50M33.40,653.50V655.80M78.25,653.50V655.80M123.10,653.50V655.80M167.95,653.50V655.80M212.80,653.50V655.80M257.65,653.50V655.80M302.50,653.50V655.80" fill="none" stroke="#6e6e6e" stroke-width="0.9"/>
<text x="183.00" y="672.10" font-size="7.70" text-anchor="middle" fill="#111" textLength="68.00" lengthAdjust="spacingAndGlyphs">Calendar year (CE)</text>
<text transform="translate(7.40,446.90) rotate(-90)" font-size="8.4" text-anchor="middle" fill="#111" textLength="33.2" lengthAdjust="spacingAndGlyphs">Δ<tspan font-size="5.6" dy="-2.9">14</tspan><tspan dy="2.9">C (‰)</tspan></text>
<text transform="translate(11.50,604.00) rotate(-90)" font-size="8.1" text-anchor="middle" fill="#111" textLength="107" lengthAdjust="spacingAndGlyphs">Production rate (atoms/cm<tspan font-size="5.4" dy="-2.8">2</tspan><tspan dy="2.8">/s)</tspan></text>
<text x="328.20" y="361.80" font-size="11.00" text-anchor="end" fill="#1c1c1c" textLength="72.40" lengthAdjust="spacingAndGlyphs">b) 553 - 554 CE</text>
<line x1="35.00" y1="355.60" x2="47.70" y2="355.60" stroke="#3c7dc2" stroke-width="1.05"/>
<line x1="35.00" y1="366.40" x2="47.70" y2="366.40" stroke="#111" stroke-width="1"/>
<circle cx="41.30" cy="366.40" r="2.2" fill="#000"/>
<text x="52.00" y="358.00" font-size="6.80" text-anchor="start" fill="#111" textLength="78.00" lengthAdjust="spacingAndGlyphs">Brehm et al, 2021: 22-box</text>
<text x="52.60" y="368.30" font-size="6.8" fill="#111" textLength="39.3" lengthAdjust="spacingAndGlyphs">average Δ<tspan font-size="5.2" dy="-2.5">14</tspan><tspan dy="2.5">C</tspan></text>
<clipPath id="ctc"><rect x="376.50" y="347.50" width="305.00" height="197.30"/></clipPath>
<clipPath id="cbc"><rect x="376.50" y="555.70" width="304.90" height="97.90"/></clipPath>
<path d="M378.5,474.0l1.5 0 1.5 0 1.5 0.1 1.5 0.3 1.5 0.5 1.5 0.8 1.5 1 1.5 1.1 1.5 1.2 1.5 1.3 1.5 1.2 1.5 1.1 1.5 1 1.5 0.7 1.5 0.4 1.5 0.1 1.5-0.2 1.5-0.5 1.5-0.8 1.5-0.9 1.5-1.2 1.5-1.2 1.5-1.4 1.5-1.4 1.5-1.5 1.5-1.5 1.5-1.4 1.5-1.4 1.5-1.4 1.5-1.4 1.5-1.4 1.5-1.3 1.5-1.2 1.5-1.2 1.5-1.1 1.5-1.1 1.5-1 1.5-1 1.5-1.1 1.5-1 1.5-1.2 1.5-1.2 1.5-1.3 1.5-1.5 1.5-1.7 1.5-1.9 1.5-1.9 1.5-2 1.5-1.9 1.5-1.9 1.5-1.8 1.5-1.6 1.5-1.3 1.5-1.1 1.5-0.7 1.5-0.4 1.5 0 1.5 0.5 1.5 0.7 1.5 1.1 1.5 1.3 1.5 1.6 1.5 1.7 1.5 1.8 1.5 1.9 1.5 2 1.5 1.9 1.5 1.9 1.5 1.9 1.5 1.8 1.5 1.8 1.5 1.7 1.5 1.6 1.5 1.5 1.5 1.4 1.5 1.2 1.5 1.2 1.5 1 1.5 1.1 1.5 1 1.5 1.1 1.5 1.1 1.5 1.2 1.5 1.4 1.5 1.5 1.5 1.7 1.5 1.8 1.5 1.8 1.5 1.8 1.5 1.6 1.5 1.4 1.5 1.1 1.5 0.8 1.5 0.5 1.5 0.2 1.5-0.2 1.5-0.7 1.5-1.3 1.5-2.1 1.5-2.6 1.5-2.9 1.5-3 1.5-3.2 1.5-3.4 1.5-3.5 1.5-3.7 1.5-3.8 1.5-4 1.5-4.1 1.5-4.2 1.5-4.4 1.5-4.4 1.5-4.4 1.5-4.1 1.5-3.8 1.5-3.4 1.5-3 1.5-2.6 1.5-2.2 1.5-2 1.5-1.7 1.5-1.4 1.5-0.9 1.5-0.6 1.5-0.2 1.5 0.3 1.5 0.6 1.5 1 1.5 1.1 1.5 1.2 1.5 1.2 1.5 1.2 1.5 1.1 1.5 0.9 1.5 0.8 1.5 0.5 1.5 0.1 1.5-0.1 1.5-0.3 1.5-0.6 1.5-0.6 1.5-0.7 1.5-0.6 1.5-0.5 1.5-0.4 1.5-0.1 1.5 0.1 1.5 0.5 1.5 0.9 1.5 1.2 1.5 1.6 1.5 2 1.5 2.3 1.5 2.6 1.5 2.9 1.5 3 1.5 3 1.5 3 1.5 2.9 1.5 2.8 1.5 2.6 1.5 2.4 1.5 2.3 1.5 2 1.5 1.9 1.5 1.7 1.5 1.4 1.5 1.2 1.5 1 1.5 0.7 1.5 0.4 1.5 0.2 1.5-0.1 1.5-0.3 1.5-0.5 1.5-0.7 1.5-0.8 1.5-0.9 1.5-1 1.5-0.9 1.5-0.9 1.5-0.9 1.5-0.6 1.5-0.5 1.5-0.2 1.5 0.1 1.5 0.3 1.5 0.5 1.5 0.7 1.5 0.7 1.5 0.9 1.5 0.8 1.5 0.9 1.5 0.7 1.5 0.8 1.5 0.6 1.5 0.7 1.5 0.6 1.5 0.6 1.5 0.5 1.5 0.6 1.5 0.5" fill="none" stroke="#3c7dc2" stroke-width="1.05" clip-path="url(#ctc)"/>
<path d="M386.00,442.40V483.60M384.40,442.40H387.60M384.40,483.60H387.60M400.90,485.40V526.50M399.30,485.40H402.50M399.30,526.50H402.50M415.90,454.30V495.20M414.30,454.30H417.50M414.30,495.20H417.50M431.10,428.20V469.50M429.50,428.20H432.70M429.50,469.50H432.70M446.00,459.00V500.40M444.40,459.00H447.60M444.40,500.40H447.60M461.00,374.40V416.00M459.40,374.40H462.60M459.40,416.00H462.60M475.90,439.20V480.50M474.30,439.20H477.50M474.30,480.50H477.50M490.90,441.30V483.30M489.30,441.30H492.50M489.30,483.30H492.50M505.80,432.10V473.50M504.20,432.10H507.40M504.20,473.50H507.40M520.80,494.50V536.60M519.20,494.50H522.40M519.20,536.60H522.40M535.70,445.50V486.40M534.10,445.50H537.30M534.10,486.40H537.30M550.70,402.50V445.50M549.10,402.50H552.30M549.10,445.50H552.30M565.70,356.20V399.40M564.10,356.20H567.30M564.10,399.40H567.30M580.60,429.30V472.10M579.00,429.30H582.20M579.00,472.10H582.20M595.30,377.70V420.90M593.70,377.70H596.90M593.70,420.90H596.90M610.70,371.40V414.40M609.10,371.40H612.30M609.10,414.40H612.30M625.70,449.70V486.40M624.10,449.70H627.30M624.10,486.40H627.30M640.40,439.60V476.50M638.80,439.60H642.00M638.80,476.50H642.00M655.60,428.40V465.80M654.00,428.40H657.20M654.00,465.80H657.20M670.30,427.50V464.60M668.70,427.50H671.90M668.70,464.60H671.90" fill="none" stroke="#333" stroke-width="0.95"/>
<circle cx="386.00" cy="463.00" r="2.25" fill="#000"/>
<circle cx="400.90" cy="506.20" r="2.25" fill="#000"/>
<circle cx="415.90" cy="474.90" r="2.25" fill="#000"/>
<circle cx="431.10" cy="449.00" r="2.25" fill="#000"/>
<circle cx="446.00" cy="479.80" r="2.25" fill="#000"/>
<circle cx="461.00" cy="395.00" r="2.25" fill="#000"/>
<circle cx="475.90" cy="460.00" r="2.25" fill="#000"/>
<circle cx="490.90" cy="462.10" r="2.25" fill="#000"/>
<circle cx="505.80" cy="452.90" r="2.25" fill="#000"/>
<circle cx="520.80" cy="515.60" r="2.25" fill="#000"/>
<circle cx="535.70" cy="465.80" r="2.25" fill="#000"/>
<circle cx="550.70" cy="424.00" r="2.25" fill="#000"/>
<circle cx="565.70" cy="377.70" r="2.25" fill="#000"/>
<circle cx="580.60" cy="450.80" r="2.25" fill="#000"/>
<circle cx="595.30" cy="399.40" r="2.25" fill="#000"/>
<circle cx="610.70" cy="392.90" r="2.25" fill="#000"/>
<circle cx="625.70" cy="468.10" r="2.25" fill="#000"/>
<circle cx="640.40" cy="458.10" r="2.25" fill="#000"/>
<circle cx="655.60" cy="447.30" r="2.25" fill="#000"/>
<circle cx="670.30" cy="445.90" r="2.25" fill="#000"/>
<line x1="529.40" y1="541.90" x2="529.40" y2="347.50" stroke="#ff1a0a" stroke-width="2.8" stroke-dasharray="8.40 7.10" clip-path="url(#ctc)"/>
<rect x="376.50" y="347.50" width="305.00" height="197.30" fill="none" stroke="#6e6e6e" stroke-width="1"/>
<text x="371.60" y="369.20" font-size="6.50" text-anchor="end" fill="#111" textLength="11.40" lengthAdjust="spacingAndGlyphs">−14</text>
<text x="371.60" y="402.62" font-size="6.50" text-anchor="end" fill="#111" textLength="11.40" lengthAdjust="spacingAndGlyphs">−16</text>
<text x="371.60" y="436.04" font-size="6.50" text-anchor="end" fill="#111" textLength="11.40" lengthAdjust="spacingAndGlyphs">−18</text>
<text x="371.60" y="469.46" font-size="6.50" text-anchor="end" fill="#111" textLength="11.40" lengthAdjust="spacingAndGlyphs">−20</text>
<text x="371.60" y="502.88" font-size="6.50" text-anchor="end" fill="#111" textLength="11.40" lengthAdjust="spacingAndGlyphs">−22</text>
<text x="371.60" y="536.30" font-size="6.50" text-anchor="end" fill="#111" textLength="11.40" lengthAdjust="spacingAndGlyphs">−24</text>
<g fill="none" stroke="#3d8cc4" stroke-opacity="0.42" stroke-width="0.68" clip-path="url(#cbc)"><path d="M378.2,609.1l2.5 1.4 2.5 1.2 2.5 1.3 2.5 1.5 2.5 1.4 2.5 0.9 2.5 0 2.5-1 2.5-2 2.5-2.7 2.5-3.2 2.5-3.5 2.5-3.1 2.5-2.3 2.5-1.2 2.5 0 2.5 1 2.5 2 2.5 2.4 2.5 2.6 2.5 2 2.5 1.1 2.5-0.3 2.5-1.8 2.5-2.8 2.5-3.3 2.5-3.1 2.5-2.2 2.5-0.7 2.5 1.4 2.5 3.3 2.5 4.8 2.5 5.7 2.5 5.7 2.5 5.1 2.5 3.7 2.5 1.7 2.5-0.6 2.5-2.4 2.5-3.4 2.5-3.5 2.5-2.9 2.5-1.9 2.5-0.7 2.5 0.5 2.5 1.5 2.5 2.4 2.5 3 2.5 3 2.5 2.2 2.5 0.7 2.5-1.2 2.5-3.6 2.5-5.5 2.5-6 2.5-5.4 2.5-4.4 2.5-3.3 2.5-2.3 2.5-1.4 2.5-0.8 2.5-0.4 2.5-0.3 2.5-0.4 2.5-0.2 2.5 0 2.5 0.3 2.5 0.9 2.5 1.7 2.5 2.7 2.5 3.6 2.5 4.6 2.5 5.1 2.5 5.2 2.5 4.7 2.5 3.5 2.5 1.8 2.5-0.2 2.5-2.3 2.5-3.7 2.5-4.5 2.5-4.6 2.5-4 2.5-2.6 2.5-0.7 2.5 1.3 2.5 2.8 2.5 4 2.5 4.6 2.5 4.7 2.5 4.4 2.5 3.6 2.5 2.8 2.5 1.4 2.5 0.1 2.5-1.5 2.5-2.9 2.5-3.8 2.5-4.1 2.5-4 2.5-3.3 2.5-2.6 2.5-1.8 2.5-1 2.5-0.4 2.5 0.2 2.5 0.6 2.5 0.9 2.5 1 2.5 0.9 2.5 0.8 2.5 0.8 2.5 0.8 2.5 0.9 2.5 0.8 2.5 0.9 2.5 0.8 2.5 0.9 2.5 0.6 2.5 0.3"/><path d="M378.2,609.1l2.5 1.4 2.5 0.5 2.5 0.3 2.5 0.3 2.5 0.5 2.5 0.4 2.5 0.2 2.5-0.1 2.5-0.3 2.5-0.6 2.5-0.8 2.5-1 2.5-1.1 2.5-1.1 2.5-0.9 2.5-0.8 2.5-0.6 2.5-0.5 2.5-0.2 2.5 0 2.5 0.1 2.5 0.1 2.5-0.1 2.5-0.3 2.5-0.4 2.5-0.4 2.5-0.3 2.5 0.1 2.5 0.5 2.5 1.1 2.5 1.8 2.5 2.2 2.5 2.3 2.5 2.4 2.5 2.3 2.5 1.9 2.5 1.2 2.5 0.3 2.5-0.3 2.5-0.8 2.5-0.8 2.5-0.8 2.5-0.7 2.5-0.7 2.5-0.6 2.5-0.5 2.5-0.2 2.5 0.3 2.5 0.7 2.5 0.9 2.5 0.7 2.5 0.1 2.5-1 2.5-2 2.5-2.3 2.5-2.3 2.5-2.1 2.5-2.1 2.5-2.2 2.5-2.4 2.5-2.5 2.5-2.4 2.5-2.2 2.5-1.9 2.5-1.2 2.5-0.4 2.5 0.6 2.5 1.7 2.5 2.7 2.5 3.6 2.5 4.3 2.5 4.9 2.5 5.1 2.5 4.7 2.5 3.8 2.5 2.5 2.5 0.9 2.5-1.1 2.5-2.9 2.5-4.2 2.5-4.9 2.5-4.9 2.5-4.3 2.5-2.9 2.5-1.1 2.5 0.9 2.5 2.8 2.5 4.2 2.5 5.2 2.5 5.6 2.5 5.5 2.5 4.9 2.5 3.7 2.5 2.1 2.5 0.2 2.5-1.8 2.5-3.8 2.5-5.3 2.5-5.9 2.5-6 2.5-5.3 2.5-4.1 2.5-2.7 2.5-0.9 2.5 0.7 2.5 2.4 2.5 3.6 2.5 4.4 2.5 4.7 2.5 4.2 2.5 3.3 2.5 2.1 2.5 0.5 2.5-1.1 2.5-2.6 2.5-3.6 2.5-4.2 2.5-4.2 2.5-3.6 2.5-2.5"/><path d="M378.2,609.1l2.5 2.4 2.5 2.9 2.5 1.7 2.5 0.1 2.5-0.9 2.5-0.7 2.5 0 2.5 0.8 2.5 0.4 2.5-1.3 2.5-4 2.5-6.6 2.5-7.9 2.5-6.7 2.5-3.5 2.5 0.9 2.5 5.3 2.5 7.9 2.5 8.2 2.5 5.8 2.5 1.8 2.5-2.6 2.5-5.9 2.5-7.1 2.5-5.9 2.5-3.3 2.5-0.2 2.5 2.1 2.5 3.1 2.5 2.9 2.5 2.1 2.5 1.6 2.5 2 2.5 3.7 2.5 5.9 2.5 7.3 2.5 7 2.5 4.3 2.5 0.2 2.5-4.3 2.5-7.6 2.5-8.8 2.5-7.5 2.5-4 2.5 0.6 2.5 4.7 2.5 7.1 2.5 7.5 2.5 5.6 2.5 2.2 2.5-1.4 2.5-4.3 2.5-5.9 2.5-5.9 2.5-4.5 2.5-2.9 2.5-2.5 2.5-3.6 2.5-5.3 2.5-6.7 2.5-6.6 2.5-4.5 2.5-1 2.5 3.1 2.5 6.3 2.5 7.5 2.5 6.4 2.5 3.5 2.5 0 2.5-2.5 2.5-2.8 2.5-1 2.5 2.5 2.5 6 2.5 8.2 2.5 8.1 2.5 5.6 2.5 1.4 2.5-3 2.5-5.8 2.5-6.4 2.5-5.1 2.5-2.4 2.5 0.2 2.5 2.1 2.5 2.4 2.5 1.1 2.5-0.5 2.5-1.3 2.5-0.5 2.5 1.9 2.5 5.3 2.5 8.2 2.5 9.2 2.5 7.6 2.5 3.4 2.5-2.1 2.5-7.1 2.5-10.1 2.5-10.6 2.5-8.3 2.5-4.7 2.5-1.2 2.5 1.3 2.5 2 2.5 1.3 2.5 0 2.5-0.8 2.5-0.4 2.5 1.3 2.5 3.6 2.5 5.6 2.5 6.1 2.5 4.7 2.5 1.2 2.5-2.7 2.5-6 2.5-7.2 2.5-6.1 2.5-2.7"/><path d="M378.2,609.1l2.5 2.7 2.5 5 2.5 5.3 2.5 3.8 2.5 0.8 2.5-2.7 2.5-6 2.5-7.6 2.5-7.6 2.5-6.1 2.5-3.4 2.5-0.5 2.5 2.3 2.5 4.1 2.5 4.7 2.5 3.7 2.5 1.8 2.5-0.6 2.5-2.8 2.5-4.2 2.5-4.6 2.5-3.9 2.5-2.6 2.5-0.8 2.5 1.2 2.5 2.8 2.5 3.6 2.5 3.6 2.5 3 2.5 2.2 2.5 1.1 2.5 0.3 2.5 0.1 2.5 0.6 2.5 2 2.5 3.3 2.5 4.5 2.5 4.5 2.5 4.1 2.5 3 2.5 1.4 2.5-0.6 2.5-2.8 2.5-4.8 2.5-5.6 2.5-5.4 2.5-3.6 2.5-0.6 2.5 2.6 2.5 5.2 2.5 6 2.5 5 2.5 1.8 2.5-2.3 2.5-5.8 2.5-8.1 2.5-9.7 2.5-10.3 2.5-9.8 2.5-8 2.5-5.2 2.5-1.9 2.5 1.2 2.5 3.6 2.5 5.2 2.5 5.7 2.5 5 2.5 3.6 2.5 2.3 2.5 1.1 2.5 0.9 2.5 1.6 2.5 3 2.5 4.6 2.5 6 2.5 6.6 2.5 6 2.5 3.9 2.5 1 2.5-2.2 2.5-5.1 2.5-7.2 2.5-8.1 2.5-7.4 2.5-4.9 2.5-1.4 2.5 2.2 2.5 5.7 2.5 8.3 2.5 9.8 2.5 9.9 2.5 8.6 2.5 6 2.5 2.7 2.5-1 2.5-4.7 2.5-7.4 2.5-8.7 2.5-8.2 2.5-6.6 2.5-4.1 2.5-1.4 2.5 0.5 2.5 1.7 2.5 1.8 2.5 1.3 2.5 0.3 2.5-1 2.5-1.8 2.5-2.1 2.5-1.6 2.5-0.2 2.5 1.6 2.5 3.4 2.5 4.8 2.5 5.2 2.5 4.7 2.5 3.2 2.5 0.9 2.5-1.7"/><path d="M378.2,609.1l2.5 1.5 2.5 0.6 2.5 0.3 2.5 0.9 2.5 1.8 2.5 2.9 2.5 3.3 2.5 3 2.5 1.6 2.5-0.5 2.5-2.8 2.5-4.4 2.5-4.9 2.5-4.3 2.5-2.7 2.5-1 2.5 0.3 2.5 1.1 2.5 0.9 2.5 0.6 2.5 0 2.5 0.1 2.5 0.7 2.5 1.7 2.5 2.7 2.5 3.3 2.5 3 2.5 1.7 2.5 0 2.5-1.7 2.5-2.9 2.5-3.2 2.5-2.4 2.5-0.9 2.5 0.6 2.5 1.7 2.5 1.9 2.5 1.4 2.5 0.4 2.5-0.3 2.5-0.3 2.5 0.5 2.5 1.7 2.5 2.7 2.5 3.4 2.5 2.9 2.5 1.6 2.5-0.3 2.5-2.2 2.5-3.8 2.5-4.4 2.5-4.2 2.5-3.3 2.5-2 2.5-0.9 2.5 0 2.5 0.2 2.5-0.2 2.5-0.6 2.5-0.6 2.5 0 2.5 1.1 2.5 2.1 2.5 2.7 2.5 2.4 2.5 1.1 2.5-0.6 2.5-2.4 2.5-3.5 2.5-3.4 2.5-2.1 2.5-0.2 2.5 1.9 2.5 3.5 2.5 4.1 2.5 3.6 2.5 2.3 2.5 1 2.5-0.2 2.5-0.3 2.5 0 2.5 0.6 2.5 1 2.5 0.7 2.5-0.1 2.5-1.4 2.5-2.8 2.5-3.4 2.5-3.2 2.5-1.9 2.5 0.2 2.5 2.2 2.5 3.6 2.5 4 2.5 3.4 2.5 2 2.5 0.3 2.5-0.7 2.5-1 2.5-0.6 2.5-0.1 2.5 0.3 2.5-0.2 2.5-1.3 2.5-2.8 2.5-4.1 2.5-4.7 2.5-4 2.5-2.4 2.5-0.1 2.5 2.2 2.5 3.9 2.5 4.5 2.5 4.1 2.5 2.7 2.5 1.4 2.5 0.3 2.5 0 2.5 0.1 2.5 0.5"/><path d="M378.2,609.1l2.5 3.3 2.5 1.5 2.5-2.4 2.5-6 2.5-8 2.5-7.6 2.5-4.9 2.5-0.7 2.5 3.6 2.5 6.6 2.5 7.5 2.5 5.9 2.5 2.3 2.5-2.1 2.5-6.3 2.5-9.1 2.5-9.6 2.5-7.7 2.5-3.6 2.5 1.4 2.5 6.1 2.5 9.2 2.5 9.7 2.5 7.7 2.5 3.7 2.5-1.4 2.5-6.1 2.5-9.1 2.5-9.7 2.5-7.4 2.5-3 2.5 2.3 2.5 7.4 2.5 11 2.5 12.2 2.5 10.6 2.5 6.6 2.5 1 2.5-4.3 2.5-8.3 2.5-9.8 2.5-8.8 2.5-5.8 2.5-1.5 2.5 2.8 2.5 6.3 2.5 7.9 2.5 7.7 2.5 5.4 2.5 1.8 2.5-2.3 2.5-5.9 2.5-8.3 2.5-8.6 2.5-6.7 2.5-3.3 2.5 0.1 2.5 2.6 2.5 3.3 2.5 2.3 2.5 0 2.5-2.8 2.5-5.2 2.5-6.2 2.5-5.6 2.5-3.1 2.5 0.5 2.5 4.3 2.5 7.4 2.5 9.1 2.5 9 2.5 6.9 2.5 3.6 2.5-0.1 2.5-3.3 2.5-5.2 2.5-5.2 2.5-3.8 2.5-1.3 2.5 1.8 2.5 4.3 2.5 5.2 2.5 4.4 2.5 2.2 2.5-0.9 2.5-3.9 2.5-6 2.5-6.5 2.5-4.7 2.5-1.3 2.5 3.3 2.5 7.7 2.5 10.6 2.5 11.3 2.5 9.3 2.5 4.6 2.5-1.4 2.5-7.2 2.5-11.5 2.5-13.4 2.5-12.2 2.5-8.5 2.5-3.2 2.5 2.6 2.5 7.2 2.5 10 2.5 9.9 2.5 7.4 2.5 3 2.5-2 2.5-6.2 2.5-8.5 2.5-8.4 2.5-5.8 2.5-1.7 2.5 3 2.5 6.9 2.5 9.1 2.5 8.8 2.5 6.3"/><path d="M378.2,609.1l2.5 2.5 2.5 3 2.5 3.2 2.5 2.9 2.5 1.9 2.5 0.4 2.5-1.3 2.5-2.6 2.5-3.4 2.5-3.6 2.5-3.5 2.5-3.1 2.5-2.3 2.5-1.3 2.5-0.2 2.5 0.7 2.5 1.5 2.5 1.9 2.5 2.3 2.5 2.2 2.5 1.5 2.5 0.6 2.5-1 2.5-2.4 2.5-3.5 2.5-3.9 2.5-3.4 2.5-2.1 2.5 0.1 2.5 2.6 2.5 5.1 2.5 6.6 2.5 7.1 2.5 6.6 2.5 4.9 2.5 2.5 2.5-0.3 2.5-3 2.5-4.7 2.5-4.7 2.5-3.6 2.5-1.4 2.5 0.8 2.5 2.6 2.5 3.7 2.5 3.8 2.5 3 2.5 1.6 2.5 0 2.5-1.8 2.5-3.5 2.5-4.6 2.5-5.3 2.5-5 2.5-3.4 2.5-1.1 2.5 0.4 2.5 0.7 2.5-0.1 2.5-1.8 2.5-3.8 2.5-5.5 2.5-6.3 2.5-5.8 2.5-3.8 2.5-0.9 2.5 2.6 2.5 5.7 2.5 8 2.5 9 2.5 8.7 2.5 7 2.5 4.6 2.5 1.8 2.5-0.6 2.5-2.4 2.5-3.2 2.5-3.3 2.5-2.6 2.5-1.2 2.5 0.1 2.5 0.9 2.5 1.1 2.5 0.8 2.5 0.3 2.5-0.3 2.5-0.8 2.5-0.8 2.5-0.1 2.5 1.1 2.5 2.9 2.5 4.6 2.5 5.7 2.5 5.7 2.5 4.7 2.5 2.3 2.5-0.8 2.5-3.7 2.5-5.9 2.5-7.2 2.5-7.2 2.5-6.1 2.5-4.5 2.5-2.4 2.5-0.3 2.5 1.5 2.5 2.8 2.5 3.3 2.5 3.2 2.5 2.5 2.5 1.7 2.5 0.9 2.5 0.3 2.5-0.1 2.5-0.4 2.5-0.4 2.5-0.3 2.5-0.1 2.5-0.1 2.5 0"/><path d="M378.2,609.1l2.5 3.5 2.5 3.6 2.5 0.7 2.5-3.2 2.5-6.8 2.5-8.9 2.5-9 2.5-7.2 2.5-3.7 2.5 0.4 2.5 3.9 2.5 6.4 2.5 7.1 2.5 6.2 2.5 3.6 2.5 0.2 2.5-3.4 2.5-6.4 2.5-7.9 2.5-7.8 2.5-6 2.5-3.1 2.5 0.3 2.5 3.6 2.5 5.9 2.5 7.2 2.5 6.9 2.5 5.1 2.5 2.7 2.5-0.1 2.5-2.6 2.5-4.3 2.5-4.7 2.5-3.7 2.5-1.5 2.5 1.5 2.5 4.2 2.5 6.1 2.5 7.1 2.5 6.9 2.5 5.5 2.5 2.8 2.5-0.5 2.5-4.1 2.5-6.8 2.5-8.1 2.5-7.6 2.5-5.4 2.5-1.9 2.5 1.9 2.5 4.9 2.5 6.5 2.5 6 2.5 4 2.5 1.4 2.5-1.7 2.5-5.1 2.5-8.2 2.5-10.5 2.5-11.1 2.5-10 2.5-7.2 2.5-3.4 2.5 1.1 2.5 5.2 2.5 8.2 2.5 9.7 2.5 9.5 2.5 7.6 2.5 4.8 2.5 1.6 2.5-1.1 2.5-2.9 2.5-3.6 2.5-2.9 2.5-1.3 2.5 0.8 2.5 2.6 2.5 3.8 2.5 4.4 2.5 3.8 2.5 2.2 2.5-0.1 2.5-2.4 2.5-4.2 2.5-5.2 2.5-5 2.5-3.8 2.5-1.4 2.5 1.7 2.5 5 2.5 7.8 2.5 9.4 2.5 9.3 2.5 7.4 2.5 3.9 2.5-0.7 2.5-5.1 2.5-8.6 2.5-10.7 2.5-10.9 2.5-9.4 2.5-6.5 2.5-2.7 2.5 1.2 2.5 4.8 2.5 7.2 2.5 8 2.5 7.2 2.5 4.9 2.5 1.8 2.5-1.4 2.5-4 2.5-5.5 2.5-5.9 2.5-4.6 2.5-2.4 2.5 0.6 2.5 3.3 2.5 5.3"/><path d="M378.2,609.1l2.5 1.9 2.5 1.8 2.5 2 2.5 2.2 2.5 2 2.5 1.4 2.5 0.3 2.5-0.6 2.5-1.5 2.5-2.1 2.5-2.5 2.5-2.6 2.5-2.3 2.5-1.9 2.5-1.2 2.5-0.8 2.5-0.1 2.5 0.3 2.5 0.7 2.5 1.1 2.5 1.3 2.5 1.4 2.5 1.1 2.5 0.6 2.5 0.3 2.5-0.2 2.5-0.6 2.5-0.8 2.5-0.6 2.5-0.1 2.5 0.3 2.5 0.9 2.5 1.3 2.5 1.7 2.5 1.7 2.5 1.7 2.5 1.3 2.5 0.8 2.5 0.3 2.5 0.1 2.5 0.2 2.5 0.5 2.5 0.5 2.5 0.4 2.5 0.3 2.5-0.1 2.5-0.3 2.5-0.4 2.5-0.4 2.5-0.6 2.5-0.8 2.5-1.4 2.5-2.1 2.5-2.7 2.5-2.7 2.5-2.1 2.5-1.7 2.5-1.2 2.5-1 2.5-0.7 2.5-0.5 2.5-0.4 2.5-0.4 2.5-0.4 2.5-0.4 2.5-0.3 2.5-0.2 2.5 0 2.5 0.4 2.5 0.9 2.5 1.7 2.5 2.5 2.5 3.2 2.5 3.5 2.5 3.6 2.5 3.1 2.5 2.3 2.5 1 2.5-0.3 2.5-1.3 2.5-2.1 2.5-2.5 2.5-2.5 2.5-2.3 2.5-1.5 2.5-0.7 2.5 0 2.5 0.8 2.5 1.4 2.5 2.1 2.5 2.6 2.5 2.9 2.5 3.1 2.5 2.8 2.5 2.2 2.5 1.1 2.5-0.1 2.5-1.4 2.5-2.3 2.5-2.8 2.5-3.2 2.5-3.1 2.5-3 2.5-2.7 2.5-2.2 2.5-1.5 2.5-0.8 2.5 0.2 2.5 0.9 2.5 1.7 2.5 2.3 2.5 2.7 2.5 2.8 2.5 2.5 2.5 2 2.5 1.1 2.5 0.3 2.5-0.5 2.5-1.2 2.5-1.7"/><path d="M378.2,609.1l2.5 1.5 2.5 1.3 2.5 1.3 2.5 0.8 2.5 0.2 2.5-0.6 2.5-1.5 2.5-2.2 2.5-2.4 2.5-2.5 2.5-2 2.5-1.5 2.5-0.6 2.5 0.2 2.5 1 2.5 1.4 2.5 1.7 2.5 1.5 2.5 1.1 2.5 0.6 2.5 0 2.5-0.7 2.5-1.2 2.5-1.6 2.5-1.7 2.5-1.4 2.5-1 2.5-0.4 2.5 0.4 2.5 1.1 2.5 1.7 2.5 2 2.5 2.1 2.5 2.1 2.5 1.8 2.5 1.4 2.5 1 2.5 0.4 2.5 0 2.5-0.3 2.5-0.4 2.5-0.4 2.5-0.6 2.5-0.7 2.5-0.8 2.5-0.9 2.5-0.7 2.5-0.5 2.5 0.1 2.5 0.4 2.5 0.6 2.5 0.4 2.5-0.1 2.5-0.6 2.5-1 2.5-1 2.5-1.3 2.5-1.5 2.5-1.9 2.5-2.1 2.5-2.1 2.5-2 2.5-1.6 2.5-1.1 2.5-0.3 2.5 0.3 2.5 1.1 2.5 1.6 2.5 1.9 2.5 2.2 2.5 2.3 2.5 2.3 2.5 2.3 2.5 2 2.5 1.8 2.5 1.3 2.5 0.8 2.5 0.1 2.5-0.7 2.5-1.2 2.5-1.7 2.5-1.9 2.5-2 2.5-1.7 2.5-1.2 2.5-0.4 2.5 0.4 2.5 1.1 2.5 1.8 2.5 2.4 2.5 2.7 2.5 2.8 2.5 2.6 2.5 2.1 2.5 1.2 2.5 0.1 2.5-1.1 2.5-2.1 2.5-2.8 2.5-3 2.5-2.9 2.5-2.5 2.5-1.9 2.5-1.2 2.5-0.5 2.5 0.2 2.5 0.8 2.5 1.1 2.5 1.3 2.5 1.4 2.5 1.1 2.5 1.1 2.5 0.8 2.5 0.6 2.5 0.4 2.5 0.3 2.5 0.1 2.5-0.1 2.5-0.3 2.5-0.5"/><path d="M378.2,609.1l2.5 1.9 2.5 3.5 2.5 3.8 2.5 2.8 2.5 0.8 2.5-2 2.5-4.3 2.5-5.9 2.5-6.1 2.5-5.4 2.5-3.7 2.5-1.8 2.5 0.2 2.5 1.9 2.5 2.9 2.5 2.9 2.5 2.1 2.5 1 2.5-0.2 2.5-1.4 2.5-2.3 2.5-2.6 2.5-2.8 2.5-2.5 2.5-1.7 2.5-0.6 2.5 0.6 2.5 1.7 2.5 2.8 2.5 3.8 2.5 4.3 2.5 4.2 2.5 3.9 2.5 3.2 2.5 2.5 2.5 1.7 2.5 0.8 2.5-0.3 2.5-0.7 2.5-0.6 2.5-0.2 2.5 0.5 2.5 0.6 2.5 0.5 2.5-0.1 2.5-0.6 2.5-0.9 2.5-0.9 2.5-0.4 2.5-0.1 2.5-0.1 2.5-0.7 2.5-1.9 2.5-3 2.5-3.3 2.5-3.1 2.5-3.1 2.5-3.8 2.5-4.6 2.5-5.6 2.5-6 2.5-5.9 2.5-4.8 2.5-3.1 2.5-0.6 2.5 2.1 2.5 4.5 2.5 6.4 2.5 7.4 2.5 7.6 2.5 7.1 2.5 6.1 2.5 4.6 2.5 3 2.5 1.5 2.5 0.3 2.5-0.7 2.5-1.8 2.5-2.3 2.5-2.4 2.5-2.2 2.5-1.8 2.5-1.5 2.5-0.9 2.5-0.1 2.5 0.7 2.5 1.3 2.5 1.8 2.5 2.4 2.5 3 2.5 3.8 2.5 4.3 2.5 4.7 2.5 4.4 2.5 3.4 2.5 1.6 2.5-0.7 2.5-3 2.5-4.8 2.5-6.1 2.5-6.7 2.5-6.6 2.5-6.1 2.5-4.9 2.5-3.1 2.5-1.1 2.5 1.2 2.5 3.1 2.5 4.5 2.5 5.1 2.5 5 2.5 4.1 2.5 2.6 2.5 0.9 2.5-1 2.5-2.3 2.5-3 2.5-2.9 2.5-2.3 2.5-1"/><path d="M378.2,609.1l2.5 1.6 2.5 0.2 2.5-0.6 2.5-0.8 2.5-0.5 2.5 0.2 2.5 1.4 2.5 2.4 2.5 3 2.5 2.6 2.5 1.2 2.5-0.7 2.5-2.7 2.5-4.2 2.5-4.7 2.5-4.1 2.5-2.5 2.5-0.5 2.5 1.4 2.5 2.7 2.5 3.1 2.5 2.9 2.5 2.1 2.5 1.2 2.5 0.5 2.5 0 2.5-0.3 2.5-0.7 2.5-1.3 2.5-1.8 2.5-2.2 2.5-2.3 2.5-1.6 2.5-0.1 2.5 1.7 2.5 3.6 2.5 4.8 2.5 4.9 2.5 3.9 2.5 2 2.5-0.2 2.5-2.1 2.5-3.6 2.5-4 2.5-3.6 2.5-2.5 2.5-1.1 2.5 0.1 2.5 0.9 2.5 1.5 2.5 1.6 2.5 1.7 2.5 1.5 2.5 1.3 2.5 1.2 2.5 0.6 2.5-0.5 2.5-2.2 2.5-4 2.5-5.3 2.5-5.6 2.5-4.7 2.5-2.8 2.5-0.2 2.5 2.3 2.5 4.1 2.5 4.9 2.5 4.7 2.5 3.6 2.5 2.2 2.5 1.1 2.5 0.2 2.5-0.3 2.5-0.4 2.5-0.8 2.5-1.1 2.5-1.6 2.5-2.1 2.5-2.1 2.5-1.3 2.5-0.1 2.5 1.5 2.5 2.9 2.5 3.5 2.5 3.5 2.5 2.2 2.5 0.5 2.5-1.5 2.5-2.8 2.5-3.2 2.5-2.6 2.5-1.2 2.5 0.5 2.5 1.9 2.5 2.5 2.5 2.5 2.5 1.8 2.5 1 2.5 0.4 2.5-0.2 2.5-0.4 2.5-0.8 2.5-1.4 2.5-2.3 2.5-3.2 2.5-3.8 2.5-3.6 2.5-2.7 2.5-0.8 2.5 1.5 2.5 3.7 2.5 5.1 2.5 5.5 2.5 4.4 2.5 2.5 2.5 0.2 2.5-1.9 2.5-3.2 2.5-3.7 2.5-3.4"/><path d="M378.2,609.1l2.5 0.5 2.5 1 2.5 0.6 2.5-0.4 2.5-1.7 2.5-2.8 2.5-3.5 2.5-3.8 2.5-3.4 2.5-2.7 2.5-1.8 2.5-0.9 2.5-0.1 2.5 0.7 2.5 1.3 2.5 1.8 2.5 2 2.5 2.1 2.5 2 2.5 1.4 2.5 0.7 2.5-0.3 2.5-1.7 2.5-2.8 2.5-3.5 2.5-3.7 2.5-3.1 2.5-2 2.5-0.4 2.5 1.7 2.5 3.3 2.5 4.5 2.5 5 2.5 4.9 2.5 4.1 2.5 3 2.5 1.5 2.5-0.1 2.5-1.4 2.5-2.1 2.5-2.4 2.5-2.3 2.5-2.3 2.5-2.1 2.5-1.8 2.5-1.2 2.5-0.4 2.5 0.7 2.5 1.8 2.5 2.6 2.5 2.9 2.5 2.5 2.5 1.2 2.5-0.4 2.5-1.7 2.5-2.8 2.5-3.6 2.5-4.2 2.5-4.5 2.5-4.4 2.5-3.7 2.5-2.8 2.5-1.6 2.5-0.5 2.5 0.5 2.5 1.5 2.5 2.2 2.5 2.9 2.5 3.4 2.5 3.8 2.5 4.1 2.5 4.1 2.5 3.9 2.5 3.1 2.5 1.9 2.5 0.5 2.5-1.2 2.5-2.8 2.5-3.9 2.5-4.3 2.5-3.9 2.5-2.9 2.5-1.4 2.5 0.1 2.5 1.8 2.5 3.1 2.5 3.8 2.5 3.9 2.5 3.6 2.5 3 2.5 2.3 2.5 1.6 2.5 0.9 2.5 0 2.5-0.9 2.5-1.9 2.5-2.9 2.5-3.6 2.5-3.8 2.5-3.4 2.5-2.5 2.5-1.5 2.5-0.1 2.5 0.9 2.5 1.8 2.5 2.3 2.5 2.3 2.5 1.9 2.5 1.1 2.5 0.2 2.5-0.5 2.5-1.1 2.5-1.3 2.5-1.2 2.5-1.1 2.5-0.7 2.5-0.4 2.5 0 2.5 0.3 2.5 0.5"/><path d="M378.2,609.1l2.5 2.4 2.5-0.4 2.5-2.2 2.5-1.8 2.5 0.2 2.5 2.5 2.5 3.5 2.5 2.5 2.5-0.3 2.5-4 2.5-6.9 2.5-7.8 2.5-6.1 2.5-2.2 2.5 2 2.5 5.1 2.5 6 2.5 4.3 2.5 1 2.5-2.4 2.5-4.6 2.5-4.8 2.5-2.9 2.5-0.1 2.5 2.6 2.5 3.8 2.5 3.1 2.5 0.7 2.5-2 2.5-3.3 2.5-2.7 2.5-0.3 2.5 3.6 2.5 7.1 2.5 9.1 2.5 8.2 2.5 4.8 2.5-0.2 2.5-4.6 2.5-6.9 2.5-6.2 2.5-3.4 2.5 0.5 2.5 3.6 2.5 4.7 2.5 3.7 2.5 1.1 2.5-1.7 2.5-3.5 2.5-3.5 2.5-2 2.5 0.3 2.5 1.7 2.5 1.7 2.5 0.4 2.5-2.2 2.5-5.6 2.5-8.2 2.5-9.2 2.5-7.5 2.5-4.1 2.5 0.1 2.5 3.3 2.5 4.5 2.5 3.6 2.5 1.1 2.5-1.4 2.5-2.5 2.5-1.6 2.5 1.5 2.5 5.4 2.5 8.8 2.5 10.1 2.5 8.7 2.5 5 2.5 0.3 2.5-3.8 2.5-6.2 2.5-6.1 2.5-3.8 2.5-0.8 2.5 1.6 2.5 2.1 2.5 1 2.5-0.9 2.5-2.4 2.5-2.8 2.5-1.2 2.5 2.1 2.5 5.7 2.5 8.4 2.5 8.8 2.5 6.6 2.5 2.6 2.5-2.1 2.5-5.9 2.5-7.5 2.5-6.3 2.5-3.5 2.5-0.2 2.5 1.8 2.5 1.8 2.5-0.3 2.5-3.4 2.5-5.7 2.5-6.1 2.5-4.2 2.5-0.4 2.5 3.6 2.5 6.6 2.5 7.2 2.5 5.5 2.5 1.9 2.5-1.7 2.5-4.2 2.5-4.4 2.5-2.4 2.5 0.7 2.5 3.6 2.5 4.8"/><path d="M378.2,609.1l2.5 2.4 2.5 2.7 2.5 2.9 2.5 2.7 2.5 1.9 2.5 0.1 2.5-2 2.5-4 2.5-5.2 2.5-5.7 2.5-5.3 2.5-3.9 2.5-2 2.5 0.3 2.5 2.4 2.5 3.7 2.5 4 2.5 3.6 2.5 2.2 2.5 0.5 2.5-1.5 2.5-3.2 2.5-4.4 2.5-5 2.5-4.3 2.5-2.9 2.5-0.8 2.5 1.4 2.5 3.6 2.5 5.5 2.5 6.4 2.5 6.3 2.5 5.5 2.5 4.2 2.5 2.9 2.5 1.4 2.5 0 2.5-1.3 2.5-2 2.5-2 2.5-1.4 2.5-0.8 2.5-0.5 2.5-0.3 2.5-0.3 2.5-0.1 2.5 0.4 2.5 1.2 2.5 2.2 2.5 2.7 2.5 2.1 2.5 0.7 2.5-1.9 2.5-4.6 2.5-6.4 2.5-7 2.5-7.3 2.5-7.2 2.5-6.5 2.5-5.4 2.5-3.6 2.5-1.6 2.5 0.5 2.5 2.1 2.5 3.3 2.5 4 2.5 3.8 2.5 3.2 2.5 2.5 2.5 1.9 2.5 1.8 2.5 2.4 2.5 3.2 2.5 4.2 2.5 5 2.5 5.2 2.5 4.4 2.5 2.6 2.5 0.3 2.5-2.1 2.5-4 2.5-5.3 2.5-5.8 2.5-5 2.5-3 2.5-0.5 2.5 2 2.5 4.2 2.5 5.6 2.5 6.3 2.5 6.3 2.5 5.6 2.5 4.2 2.5 2.6 2.5 0.7 2.5-1.3 2.5-2.9 2.5-4 2.5-4.4 2.5-4.3 2.5-3.9 2.5-3.7 2.5-3.6 2.5-3.5 2.5-3.3 2.5-2.8 2.5-1.7 2.5-0.3 2.5 1.3 2.5 3 2.5 4.4 2.5 5.3 2.5 5.3 2.5 4.7 2.5 3 2.5 1 2.5-1.2 2.5-2.9 2.5-4.1 2.5-4.5"/><path d="M378.2,609.1l2.5 0.7 2.5-0.4 2.5-0.4 2.5 0.7 2.5 1.7 2.5 2.3 2.5 1.6 2.5 0.3 2.5-1.6 2.5-3.8 2.5-5.6 2.5-6.5 2.5-6.3 2.5-4.7 2.5-2.1 2.5 0.7 2.5 3.2 2.5 4.9 2.5 5.5 2.5 4.7 2.5 2.6 2.5-0.2 2.5-3.2 2.5-5.6 2.5-6.5 2.5-6 2.5-3.8 2.5-0.8 2.5 2.8 2.5 6.2 2.5 8.3 2.5 8.7 2.5 7.7 2.5 5.5 2.5 2.9 2.5 0.2 2.5-2 2.5-3.4 2.5-3.5 2.5-2.1 2.5-0.2 2.5 1.9 2.5 2.8 2.5 2.7 2.5 1.5 2.5 0 2.5-1.6 2.5-2.3 2.5-2.2 2.5-1.6 2.5-0.8 2.5-0.4 2.5-0.6 2.5-1.3 2.5-1.7 2.5-2.1 2.5-3.4 2.5-5.2 2.5-7.2 2.5-8.5 2.5-8.5 2.5-7.2 2.5-4.6 2.5-1.1 2.5 2.5 2.5 5.7 2.5 7.6 2.5 8.1 2.5 7.3 2.5 5.5 2.5 3.5 2.5 1.9 2.5 1 2.5 1.1 2.5 1.7 2.5 2.9 2.5 3.7 2.5 3.5 2.5 2.4 2.5 0.7 2.5-1.7 2.5-4.1 2.5-6.2 2.5-7 2.5-6 2.5-3.6 2.5-0.4 2.5 3.4 2.5 6.9 2.5 9.5 2.5 10.8 2.5 10.2 2.5 7.9 2.5 4.2 2.5-0.2 2.5-4.6 2.5-8.2 2.5-9.8 2.5-9.4 2.5-7.4 2.5-4.2 2.5-1.1 2.5 1.3 2.5 2.5 2.5 2.3 2.5 1.2 2.5-0.3 2.5-1.9 2.5-2.8 2.5-2.7 2.5-1.5 2.5 0.6 2.5 3 2.5 5 2.5 6.1 2.5 5.7 2.5 4.3 2.5 1.7 2.5-1.2 2.5-4"/><path d="M378.2,609.1l2.5 1.9 2.5 1.2 2.5 0.3 2.5-0.4 2.5-1.4 2.5-2.1 2.5-2.9 2.5-3.1 2.5-2.7 2.5-2.1 2.5-1.4 2.5-0.6 2.5 0 2.5 0.7 2.5 0.8 2.5 0.7 2.5 0.1 2.5-0.4 2.5-1 2.5-1.5 2.5-1.8 2.5-2 2.5-2 2.5-1.9 2.5-1.3 2.5-0.4 2.5 0.7 2.5 1.8 2.5 3.1 2.5 4.2 2.5 4.8 2.5 4.9 2.5 4.3 2.5 3.4 2.5 2.4 2.5 1.1 2.5-0.2 2.5-1.6 2.5-2.3 2.5-2.1 2.5-1.3 2.5 0 2.5 0.9 2.5 1.5 2.5 1.8 2.5 1.9 2.5 1.7 2.5 1.6 2.5 1.2 2.5 0.4 2.5-1 2.5-2.8 2.5-5.2 2.5-6.9 2.5-7 2.5-6 2.5-4.6 2.5-3.3 2.5-2.4 2.5-1.6 2.5-1.1 2.5-1 2.5-0.8 2.5-0.8 2.5-0.5 2.5-0.2 2.5 0.3 2.5 1 2.5 2 2.5 3 2.5 4.4 2.5 5.5 2.5 6.6 2.5 6.9 2.5 6.6 2.5 5.5 2.5 3.8 2.5 1.1 2.5-1.5 2.5-3.7 2.5-5.3 2.5-6 2.5-5.9 2.5-4.9 2.5-2.8 2.5-0.5 2.5 1.8 2.5 3.8 2.5 5.2 2.5 6.4 2.5 6.8 2.5 6.8 2.5 6.1 2.5 4.6 2.5 2.6 2.5 0 2.5-2.9 2.5-5.1 2.5-6.7 2.5-7.5 2.5-7.4 2.5-6.6 2.5-5.3 2.5-3.8 2.5-1.9 2.5 0.2 2.5 2.1 2.5 3.7 2.5 4.6 2.5 4.8 2.5 4.6 2.5 3.7 2.5 2.5 2.5 1 2.5-0.7 2.5-1.9 2.5-2.8 2.5-3.1 2.5-2.9 2.5-2.1"/><path d="M378.2,609.1l2.5 3.6 2.5 4.1 2.5 2.4 2.5-0.6 2.5-3.6 2.5-5.3 2.5-5.4 2.5-3.6 2.5-0.8 2.5 1.9 2.5 3.6 2.5 3.8 2.5 2.4 2.5 0 2.5-2.6 2.5-4.7 2.5-5.4 2.5-4.5 2.5-2 2.5 1.1 2.5 4 2.5 5.7 2.5 5.5 2.5 3.5 2.5 0.6 2.5-2.9 2.5-5.5 2.5-6.6 2.5-5.5 2.5-2.6 2.5 1.4 2.5 5.4 2.5 8.2 2.5 9.3 2.5 8.2 2.5 5.2 2.5 1 2.5-3.3 2.5-6.4 2.5-7.3 2.5-6.1 2.5-3.1 2.5 0.4 2.5 3.6 2.5 5.6 2.5 5.7 2.5 4.4 2.5 1.8 2.5-1 2.5-3.6 2.5-5.1 2.5-5.4 2.5-4.5 2.5-2.7 2.5-0.2 2.5 1.9 2.5 2.6 2.5 1.5 2.5-0.9 2.5-3.7 2.5-6.1 2.5-7.2 2.5-6.4 2.5-4 2.5-0.4 2.5 3.3 2.5 6.2 2.5 7.7 2.5 7.2 2.5 5.2 2.5 2.5 2.5-0.3 2.5-2 2.5-2.5 2.5-1.4 2.5 0.5 2.5 2.8 2.5 4.1 2.5 4.2 2.5 3 2.5 0.5 2.5-2.5 2.5-5.3 2.5-6.8 2.5-6.3 2.5-4.1 2.5-0.5 2.5 3.4 2.5 6.8 2.5 8.8 2.5 8.9 2.5 6.9 2.5 3.4 2.5-0.5 2.5-4.1 2.5-6.6 2.5-7.2 2.5-5.8 2.5-3.2 2.5 0 2.5 2.6 2.5 3.7 2.5 3 2.5 0.9 2.5-1.9 2.5-4.4 2.5-5.6 2.5-5.3 2.5-3.2 2.5 0 2.5 3.4 2.5 6.2 2.5 7.5 2.5 6.7 2.5 4.2 2.5 0.7 2.5-3 2.5-5.6 2.5-6.6 2.5-5.7"/><path d="M378.2,609.1l2.5 0.3 2.5-2.7 2.5-2 2.5 1.1 2.5 4.7 2.5 6.6 2.5 6 2.5 3.1 2.5-1.4 2.5-6 2.5-9.1 2.5-9.8 2.5-7.7 2.5-3.4 2.5 1.9 2.5 6.3 2.5 8.8 2.5 8.6 2.5 5.8 2.5 1.2 2.5-3.7 2.5-7.3 2.5-9 2.5-7.8 2.5-4.3 2.5 0.4 2.5 4.8 2.5 7.6 2.5 8.3 2.5 6.5 2.5 3 2.5-1 2.5-4.3 2.5-5.4 2.5-4.4 2.5-1.4 2.5 2.5 2.5 5.6 2.5 7.3 2.5 6.9 2.5 4.3 2.5 0.2 2.5-4.2 2.5-7.5 2.5-8.7 2.5-7.1 2.5-3.3 2.5 1.7 2.5 6.5 2.5 9.1 2.5 8.9 2.5 5.6 2.5 0.1 2.5-5.7 2.5-10 2.5-11.6 2.5-10.3 2.5-6.7 2.5-2 2.5 2.7 2.5 5.9 2.5 6.8 2.5 5.1 2.5 1.6 2.5-2.5 2.5-5.7 2.5-7 2.5-5.7 2.5-2.1 2.5 2.7 2.5 7.4 2.5 10.7 2.5 11.3 2.5 9.3 2.5 4.8 2.5-0.4 2.5-5.3 2.5-8.5 2.5-9.1 2.5-6.8 2.5-2.8 2.5 1.6 2.5 5.2 2.5 6.7 2.5 6.1 2.5 3.5 2.5-0.2 2.5-3.6 2.5-5.4 2.5-4.8 2.5-2.2 2.5 2 2.5 5.9 2.5 8.6 2.5 8.8 2.5 6.2 2.5 1.5 2.5-3.8 2.5-8.4 2.5-10.8 2.5-10.4 2.5-7.6 2.5-2.9 2.5 2.1 2.5 6 2.5 7.8 2.5 7.1 2.5 4.1 2.5-0.1 2.5-4 2.5-6.4 2.5-6.4 2.5-4.2 2.5-0.3 2.5 3.8 2.5 7 2.5 8.1 2.5 6.6 2.5 3.2 2.5-1.4"/><path d="M378.2,609.1l2.5 2.4 2.5 2.5 2.5 2.8 2.5 2.9 2.5 2.5 2.5 1.4 2.5-0.1 2.5-1.7 2.5-3 2.5-3.7 2.5-4.2 2.5-3.9 2.5-3.1 2.5-1.9 2.5-0.4 2.5 0.9 2.5 1.9 2.5 2.6 2.5 2.8 2.5 2.4 2.5 1.7 2.5 0.4 2.5-1.1 2.5-2.4 2.5-3.3 2.5-3.6 2.5-3.1 2.5-1.9 2.5-0.2 2.5 2.1 2.5 3.9 2.5 5.4 2.5 6 2.5 5.9 2.5 5 2.5 3.4 2.5 1.4 2.5-1 2.5-2.7 2.5-3.7 2.5-3.6 2.5-2.8 2.5-1.7 2.5-0.4 2.5 0.8 2.5 1.8 2.5 2.6 2.5 3.1 2.5 2.9 2.5 2.1 2.5 0.6 2.5-1.5 2.5-3.9 2.5-5.8 2.5-6.3 2.5-5.7 2.5-4.5 2.5-3.4 2.5-2.3 2.5-1.4 2.5-0.7 2.5-0.4 2.5-0.2 2.5-0.2 2.5-0.2 2.5 0 2.5 0.3 2.5 0.7 2.5 1.5 2.5 2.5 2.5 3.5 2.5 4.6 2.5 5.3 2.5 5.7 2.5 5.2 2.5 4.3 2.5 2.5 2.5 0.2 2.5-2.2 2.5-4 2.5-5.1 2.5-5.5 2.5-4.9 2.5-3.5 2.5-1.2 2.5 1.2 2.5 3.2 2.5 4.9 2.5 5.7 2.5 5.9 2.5 5.4 2.5 4.2 2.5 2.8 2.5 1 2.5-0.9 2.5-2.7 2.5-4 2.5-4.6 2.5-4.5 2.5-3.8 2.5-2.7 2.5-1.6 2.5-0.7 2.5-0.2 2.5 0 2.5 0 2.5 0.1 2.5-0.1 2.5-0.1 2.5 0 2.5 0.2 2.5 0.7 2.5 1.3 2.5 1.6 2.5 1.9 2.5 1.9 2.5 1.7 2.5 1.2 2.5 0.6 2.5-0.2"/><path d="M378.2,609.1l2.5 2.2 2.5 2 2.5 1.1 2.5-0.2 2.5-1.8 2.5-3.3 2.5-4.7 2.5-5.4 2.5-5.3 2.5-4.5 2.5-3.4 2.5-1.9 2.5-0.1 2.5 1.5 2.5 3 2.5 3.7 2.5 4.1 2.5 3.7 2.5 2.9 2.5 1.7 2.5 0.3 2.5-1.4 2.5-3 2.5-4.4 2.5-5 2.5-5.1 2.5-4.3 2.5-2.8 2.5-0.8 2.5 1.6 2.5 3.9 2.5 5.7 2.5 6.9 2.5 7.4 2.5 7.1 2.5 6.1 2.5 4.3 2.5 1.8 2.5-0.4 2.5-2.1 2.5-3.3 2.5-4 2.5-4.2 2.5-4.1 2.5-3.6 2.5-2.7 2.5-1.3 2.5 0.2 2.5 1.8 2.5 2.9 2.5 3.1 2.5 2.4 2.5 0.9 2.5-0.9 2.5-2 2.5-2.5 2.5-2.9 2.5-3.6 2.5-4.2 2.5-4.8 2.5-5.1 2.5-5.1 2.5-4.5 2.5-3.7 2.5-2.4 2.5-0.7 2.5 1 2.5 2.8 2.5 4.5 2.5 5.8 2.5 7 2.5 7.7 2.5 7.8 2.5 7.1 2.5 5.9 2.5 4 2.5 1.5 2.5-1.2 2.5-3.9 2.5-5.8 2.5-6.8 2.5-6.9 2.5-6.2 2.5-4.7 2.5-2.1 2.5 0.4 2.5 2.9 2.5 4.8 2.5 6.2 2.5 6.9 2.5 7.2 2.5 6.8 2.5 5.6 2.5 4.1 2.5 1.9 2.5-0.6 2.5-3.2 2.5-5.2 2.5-6.5 2.5-7.2 2.5-7 2.5-6.3 2.5-5.1 2.5-3.7 2.5-1.9 2.5-0.1 2.5 1.8 2.5 3.4 2.5 4.5 2.5 5 2.5 5 2.5 4.6 2.5 3.7 2.5 2.3 2.5 0.8 2.5-0.8 2.5-2 2.5-3.1 2.5-3.6 2.5-3.8"/><path d="M378.2,609.1l2.5 4.5 2.5 5.8 2.5 6.2 2.5 5.6 2.5 4 2.5 1.5 2.5-1.3 2.5-3.8 2.5-5.6 2.5-6.7 2.5-7 2.5-6.4 2.5-5.1 2.5-3.2 2.5-1.1 2.5 1 2.5 2.7 2.5 4 2.5 4.8 2.5 4.8 2.5 4.4 2.5 3.1 2.5 1.3 2.5-0.6 2.5-2.3 2.5-3.6 2.5-4.2 2.5-4.2 2.5-3.2 2.5-1.5 2.5 0.4 2.5 2.2 2.5 3.7 2.5 5.1 2.5 5.8 2.5 5.9 2.5 5.3 2.5 3.8 2.5 2.4 2.5 1.2 2.5 0.3 2.5-0.4 2.5-1.3 2.5-2.1 2.5-2.6 2.5-2.9 2.5-2.8 2.5-2 2.5-1.1 2.5-0.4 2.5-0.3 2.5-0.7 2.5-1.9 2.5-2.9 2.5-3 2.5-2.3 2.5-1.7 2.5-1.6 2.5-1.6 2.5-2.1 2.5-2.6 2.5-3.1 2.5-3.3 2.5-3.4 2.5-2.9 2.5-2.2 2.5-0.9 2.5 0.4 2.5 2 2.5 3.7 2.5 5.5 2.5 6.9 2.5 7.9 2.5 8.3 2.5 7.7 2.5 6.4 2.5 4.3 2.5 1.3 2.5-1.6 2.5-4.1 2.5-5.8 2.5-6.8 2.5-6.8 2.5-5.8 2.5-3.8 2.5-1.4 2.5 0.9 2.5 3.1 2.5 4.8 2.5 6.1 2.5 6.9 2.5 7.1 2.5 6.7 2.5 5.5 2.5 3.8 2.5 1.2 2.5-1.4 2.5-3.9 2.5-5.7 2.5-6.8 2.5-7.3 2.5-7 2.5-6.5 2.5-5.3 2.5-3.8 2.5-2 2.5 0.2 2.5 2 2.5 3.6 2.5 4.8 2.5 5.3 2.5 5.4 2.5 4.9 2.5 3.9 2.5 2.4 2.5 0.8 2.5-0.7 2.5-2 2.5-3.1 2.5-3.6"/><path d="M378.2,609.1l2.5 2.4 2.5 3.9 2.5 5 2.5 4.8 2.5 3 2.5 0.4 2.5-2.2 2.5-3.7 2.5-4.3 2.5-4.2 2.5-3.8 2.5-3.3 2.5-2.8 2.5-1.9 2.5-0.7 2.5 1 2.5 2.7 2.5 4 2.5 4.6 2.5 3.6 2.5 1.4 2.5-1.6 2.5-4.8 2.5-6.6 2.5-6.6 2.5-4.6 2.5-1 2.5 2.9 2.5 6 2.5 7.7 2.5 7.2 2.5 5.2 2.5 2.4 2.5 0.1 2.5-0.9 2.5-0.8 2.5 0.3 2.5 1.2 2.5 1.9 2.5 2 2.5 1.5 2.5 0.2 2.5-1.2 2.5-2.1 2.5-2.4 2.5-1.7 2.5-0.5 2.5 0.7 2.5 1.6 2.5 1.6 2.5 0.6 2.5-0.8 2.5-2.4 2.5-3.4 2.5-3.2 2.5-2.5 2.5-2.4 2.5-3.4 2.5-5.2 2.5-6.9 2.5-7.8 2.5-7 2.5-4.6 2.5-0.8 2.5 3.2 2.5 6.5 2.5 7.8 2.5 7.4 2.5 5.2 2.5 2.5 2.5 0.4 2.5-0.2 2.5 0.6 2.5 2.6 2.5 4.6 2.5 6 2.5 5.6 2.5 3.3 2.5 0.2 2.5-3.1 2.5-5.4 2.5-6.3 2.5-5.9 2.5-4.1 2.5-1.5 2.5 0.9 2.5 2.5 2.5 3.6 2.5 4.2 2.5 4.9 2.5 5.7 2.5 6.3 2.5 6.3 2.5 5 2.5 2.5 2.5-1.2 2.5-5.3 2.5-8.2 2.5-9.3 2.5-8.2 2.5-5.3 2.5-1.7 2.5 1.4 2.5 3.2 2.5 3.1 2.5 1.6 2.5-0.7 2.5-2.8 2.5-3.6 2.5-2.8 2.5-0.7 2.5 2.1 2.5 4.6 2.5 5.8 2.5 5.3 2.5 3.4 2.5 1.1 2.5-1.3 2.5-2.8 2.5-3.3"/><path d="M378.2,609.1l2.5 2.2 2.5 4 2.5 4.5 2.5 3.2 2.5 0.6 2.5-3 2.5-6.6 2.5-9 2.5-9.6 2.5-8.4 2.5-5.6 2.5-1.7 2.5 2.3 2.5 6 2.5 8.2 2.5 8.8 2.5 7.4 2.5 4.7 2.5 1.2 2.5-2.3 2.5-5.3 2.5-7.2 2.5-7.8 2.5-7.1 2.5-5 2.5-2.4 2.5 0.4 2.5 2.7 2.5 4.5 2.5 5.4 2.5 5.4 2.5 4.7 2.5 3.7 2.5 3 2.5 2.6 2.5 2.5 2.5 2.5 2.5 2.4 2.5 2.1 2.5 1.6 2.5 0.7 2.5-0.7 2.5-2.8 2.5-4.8 2.5-6.3 2.5-6.7 2.5-5.8 2.5-3.2 2.5 0.1 2.5 3.6 2.5 6.1 2.5 7.1 2.5 6.1 2.5 3.8 2.5 0.9 2.5-2.1 2.5-5.3 2.5-8.3 2.5-10.2 2.5-10.9 2.5-9.9 2.5-7.6 2.5-4.3 2.5-0.7 2.5 2.7 2.5 5.2 2.5 6.4 2.5 6.6 2.5 5.9 2.5 4.8 2.5 3.7 2.5 3.2 2.5 3.3 2.5 3.7 2.5 4.2 2.5 4.6 2.5 4.1 2.5 2.5 2.5-0.1 2.5-2.8 2.5-5.7 2.5-7.9 2.5-9.1 2.5-8.7 2.5-6.4 2.5-2.7 2.5 1.5 2.5 5.9 2.5 9.7 2.5 12 2.5 12.7 2.5 11.5 2.5 8.6 2.5 4.2 2.5-0.6 2.5-5.5 2.5-9.3 2.5-11.4 2.5-11.3 2.5-9.6 2.5-6.5 2.5-3.1 2.5 0 2.5 2.3 2.5 3.5 2.5 3.6 2.5 3.1 2.5 2 2.5 1 2.5 0.4 2.5 0.3 2.5 1 2.5 2 2.5 2.9 2.5 3.3 2.5 2.9 2.5 1.7 2.5-0.3 2.5-2.5 2.5-4.8"/><path d="M378.2,609.1l2.5 2.9 2.5 4.7 2.5 6.1 2.5 6 2.5 4.5 2.5 1.5 2.5-2 2.5-4.9 2.5-6.8 2.5-7.4 2.5-6.5 2.5-4.7 2.5-2.1 2.5 0.6 2.5 2.9 2.5 4.2 2.5 4.4 2.5 3.6 2.5 2.2 2.5 0.5 2.5-1.3 2.5-2.8 2.5-3.8 2.5-4.2 2.5-3.6 2.5-2.4 2.5-0.7 2.5 1 2.5 2.7 2.5 4.2 2.5 5.1 2.5 5.2 2.5 4.9 2.5 4.2 2.5 3.3 2.5 2.3 2.5 1.1 2.5-0.3 2.5-1.3 2.5-1.6 2.5-1.5 2.5-1.2 2.5-1.1 2.5-0.9 2.5-0.6 2.5-0.3 2.5 0.4 2.5 1.4 2.5 2.4 2.5 2.6 2.5 1.9 2.5 0.3 2.5-2.4 2.5-5.1 2.5-6.6 2.5-6.8 2.5-6.6 2.5-6 2.5-5.1 2.5-3.8 2.5-2.4 2.5-1 2.5 0.2 2.5 1.1 2.5 1.6 2.5 1.8 2.5 1.7 2.5 1.5 2.5 1.5 2.5 1.9 2.5 2.8 2.5 4.2 2.5 5.7 2.5 6.8 2.5 7.2 2.5 6.6 2.5 4.8 2.5 1.8 2.5-1.7 2.5-4.7 2.5-7.1 2.5-8.3 2.5-8 2.5-6.1 2.5-2.9 2.5 1.1 2.5 4.8 2.5 7.6 2.5 9.3 2.5 9.6 2.5 8.5 2.5 6.1 2.5 3.1 2.5-0.3 2.5-3.4 2.5-5.9 2.5-7.3 2.5-7.2 2.5-5.7 2.5-3.5 2.5-0.9 2.5 1 2.5 1.9 2.5 1.8 2.5 0.7 2.5-0.9 2.5-2.3 2.5-3.4 2.5-3.8 2.5-3 2.5-1.4 2.5 1 2.5 3.5 2.5 5.6 2.5 6.5 2.5 6.5 2.5 5 2.5 2.6 2.5-0.4 2.5-3.4"/><path d="M378.2,609.1l2.5 0.4 2.5 0.9 2.5 0.8 2.5 0.5 2.5-0.2 2.5-1.3 2.5-2.3 2.5-3 2.5-3.3 2.5-3.2 2.5-2.8 2.5-2.1 2.5-1.1 2.5-0.2 2.5 0.8 2.5 1.3 2.5 1.7 2.5 1.6 2.5 1.3 2.5 0.9 2.5 0.1 2.5-0.6 2.5-1.5 2.5-2.2 2.5-2.6 2.5-2.4 2.5-1.8 2.5-0.9 2.5 0.5 2.5 2.1 2.5 3.4 2.5 4.3 2.5 4.7 2.5 4.7 2.5 4.1 2.5 3.1 2.5 1.7 2.5-0.1 2.5-1.5 2.5-2.3 2.5-2.6 2.5-2.3 2.5-2 2.5-1.4 2.5-0.6 2.5 0.1 2.5 0.9 2.5 1.9 2.5 2.5 2.5 2.5 2.5 1.9 2.5 0.5 2.5-1.5 2.5-3.5 2.5-4.6 2.5-4.7 2.5-4.7 2.5-4.5 2.5-4.1 2.5-3.7 2.5-2.9 2.5-2.2 2.5-1.2 2.5-0.2 2.5 0.9 2.5 1.8 2.5 2.5 2.5 3.2 2.5 3.6 2.5 3.8 2.5 3.8 2.5 3.9 2.5 3.6 2.5 3.2 2.5 2.5 2.5 1.5 2.5 0.4 2.5-1 2.5-2.2 2.5-2.8 2.5-3.1 2.5-2.8 2.5-2.2 2.5-1.1 2.5 0.3 2.5 1.6 2.5 2.6 2.5 3.2 2.5 3.4 2.5 3.3 2.5 2.9 2.5 2.6 2.5 1.9 2.5 1.2 2.5 0.2 2.5-0.8 2.5-1.9 2.5-2.7 2.5-3 2.5-3 2.5-2.8 2.5-2.4 2.5-2.1 2.5-1.6 2.5-1.2 2.5-0.7 2.5-0.2 2.5 0.4 2.5 0.8 2.5 1.1 2.5 1.4 2.5 1.5 2.5 1.5 2.5 1.4 2.5 1.1 2.5 0.8 2.5 0.5 2.5 0.2 2.5 0 2.5-0.4"/><path d="M378.2,609.1l2.5 1.5 2.5 0.3 2.5-1 2.5-1.6 2.5-1.6 2.5-1 2.5-0.2 2.5 0.6 2.5 0.7 2.5 0.2 2.5-1 2.5-2.6 2.5-4 2.5-4.6 2.5-4.2 2.5-3 2.5-0.8 2.5 1.5 2.5 3.6 2.5 5 2.5 5.1 2.5 3.9 2.5 1.4 2.5-1.6 2.5-4.1 2.5-5.7 2.5-6 2.5-4.6 2.5-2 2.5 1.5 2.5 4.8 2.5 7 2.5 8.1 2.5 7.4 2.5 5.6 2.5 2.9 2.5-0.3 2.5-2.9 2.5-4.5 2.5-4.4 2.5-3.1 2.5-1.1 2.5 0.9 2.5 2.3 2.5 2.6 2.5 2.2 2.5 1.2 2.5-0.1 2.5-1 2.5-1.8 2.5-2.1 2.5-2.1 2.5-1.9 2.5-1.7 2.5-0.9 2.5-0.2 2.5-0.4 2.5-1.6 2.5-3.4 2.5-5.1 2.5-6.4 2.5-6.4 2.5-5.3 2.5-3.1 2.5 0 2.5 3.2 2.5 5.6 2.5 7.1 2.5 7.1 2.5 6.2 2.5 4.3 2.5 2.3 2.5 0.7 2.5-0.4 2.5-0.7 2.5-0.1 2.5 0.5 2.5 1 2.5 1.1 2.5 0.8 2.5-0.2 2.5-1.4 2.5-2.8 2.5-3.6 2.5-3.4 2.5-2.2 2.5-0.3 2.5 2 2.5 4.3 2.5 6 2.5 6.9 2.5 6.5 2.5 4.8 2.5 2.4 2.5-0.8 2.5-3.7 2.5-5.9 2.5-6.6 2.5-5.9 2.5-4 2.5-1.6 2.5 0.5 2.5 1.9 2.5 2.2 2.5 1.5 2.5 0.1 2.5-1.5 2.5-2.7 2.5-3.2 2.5-2.7 2.5-1.2 2.5 0.9 2.5 3 2.5 4.7 2.5 5.1 2.5 4.5 2.5 2.9 2.5 0.6 2.5-1.7 2.5-3.5"/><path d="M378.2,609.1l2.5 2.9 2.5 4.4 2.5 3.7 2.5 1 2.5-2.2 2.5-5 2.5-6.2 2.5-5 2.5-1.9 2.5 1.7 2.5 4.7 2.5 5.9 2.5 5 2.5 2.4 2.5-1.7 2.5-5.9 2.5-8.9 2.5-10 2.5-8.4 2.5-5.1 2.5-0.6 2.5 3.5 2.5 5.9 2.5 6.3 2.5 5 2.5 2.3 2.5-0.7 2.5-2.8 2.5-3 2.5-1.1 2.5 2.4 2.5 6.1 2.5 9.5 2.5 11.1 2.5 10.5 2.5 7.2 2.5 1.9 2.5-4.4 2.5-9.4 2.5-11.8 2.5-11 2.5-7.2 2.5-1.8 2.5 4 2.5 8.9 2.5 11.8 2.5 12 2.5 9.9 2.5 5.9 2.5 0.3 2.5-5.2 2.5-10.1 2.5-13.3 2.5-14.2 2.5-11.7 2.5-7.4 2.5-3.7 2.5-1.4 2.5-1.3 2.5-2.5 2.5-4.4 2.5-5.8 2.5-5.9 2.5-4 2.5-0.3 2.5 4.2 2.5 8.7 2.5 11.8 2.5 12.7 2.5 11.3 2.5 7.9 2.5 3.5 2.5-0.6 2.5-3.8 2.5-5.1 2.5-4.2 2.5-1.9 2.5 0.6 2.5 3.1 2.5 4.5 2.5 4.6 2.5 2.9 2.5 0.1 2.5-2.6 2.5-4 2.5-4 2.5-2.4 2.5 0.5 2.5 4.1 2.5 7.4 2.5 9.4 2.5 9.4 2.5 7.3 2.5 3.2 2.5-1.8 2.5-6.6 2.5-9.9 2.5-10.7 2.5-8.6 2.5-4.6 2.5 0.2 2.5 4.1 2.5 5.9 2.5 5.5 2.5 2.7 2.5-1.1 2.5-5.1 2.5-7.9 2.5-8.7 2.5-7.3 2.5-3.7 2.5 0.9 2.5 5.4 2.5 8.4 2.5 9.3 2.5 7.8 2.5 4.8 2.5 0.9 2.5-2.6 2.5-4.7"/><path d="M378.2,609.1l2.5-0.2 2.5-0.6 2.5-0.1 2.5 0.7 2.5 1.3 2.5 1.2 2.5 0.4 2.5-0.9 2.5-2.1 2.5-3.2 2.5-3.9 2.5-3.9 2.5-3.3 2.5-1.9 2.5-0.4 2.5 1.1 2.5 2.1 2.5 2.6 2.5 2.5 2.5 1.9 2.5 0.8 2.5-0.5 2.5-1.9 2.5-2.9 2.5-3.1 2.5-2.8 2.5-1.8 2.5-0.2 2.5 1.5 2.5 3.2 2.5 4.3 2.5 4.7 2.5 4.3 2.5 3.4 2.5 2.1 2.5 0.8 2.5-0.4 2.5-1.5 2.5-1.6 2.5-1.2 2.5-0.2 2.5 0.8 2.5 1.2 2.5 1 2.5 0.3 2.5-0.4 2.5-1.2 2.5-1.4 2.5-0.9 2.5-0.4 2.5 0.4 2.5 0.6 2.5 0.2 2.5-0.6 2.5-1.4 2.5-2.2 2.5-3.4 2.5-4.8 2.5-5.8 2.5-6 2.5-5.2 2.5-3.4 2.5-1.1 2.5 1.4 2.5 3.4 2.5 4.5 2.5 4.5 2.5 3.5 2.5 2.1 2.5 0.7 2.5-0.1 2.5 0.1 2.5 1.3 2.5 3 2.5 4.6 2.5 5.5 2.5 5.2 2.5 3.4 2.5 0.4 2.5-2.7 2.5-5.4 2.5-7.1 2.5-7.2 2.5-5.5 2.5-2.2 2.5 1.7 2.5 5.1 2.5 7.3 2.5 7.9 2.5 6.8 2.5 4.5 2.5 1.6 2.5-1.1 2.5-2.9 2.5-3.6 2.5-3.3 2.5-2 2.5-0.4 2.5 0.8 2.5 1.3 2.5 0.6 2.5-1.1 2.5-3.2 2.5-5.1 2.5-6 2.5-5.3 2.5-3.1 2.5-0.1 2.5 3.1 2.5 5.6 2.5 6.8 2.5 6.3 2.5 4.3 2.5 1.3 2.5-1.8 2.5-4.1 2.5-5.1 2.5-4.4 2.5-2.5 2.5 0.2"/><path d="M378.2,609.1l2.5 3.7 2.5 4.4 2.5 4.1 2.5 3 2.5 1.1 2.5-1.1 2.5-3.4 2.5-5 2.5-5.9 2.5-5.8 2.5-4.9 2.5-3.4 2.5-1.6 2.5 0.6 2.5 2.5 2.5 3.7 2.5 4.3 2.5 4.3 2.5 3.4 2.5 2 2.5 0.4 2.5-1.5 2.5-3.5 2.5-4.8 2.5-5.5 2.5-5.2 2.5-4 2.5-2.1 2.5 0.5 2.5 3.3 2.5 5.7 2.5 7.4 2.5 8.1 2.5 7.9 2.5 6.8 2.5 4.7 2.5 2.1 2.5-0.9 2.5-3.5 2.5-4.9 2.5-5.5 2.5-5.1 2.5-4 2.5-2.6 2.5-0.8 2.5 1 2.5 2.8 2.5 4.3 2.5 5.3 2.5 5.1 2.5 3.8 2.5 1.5 2.5-1.9 2.5-5.1 2.5-7 2.5-7.7 2.5-7.7 2.5-7.3 2.5-6.5 2.5-5.1 2.5-3.5 2.5-1.8 2.5 0 2.5 1.6 2.5 2.8 2.5 3.9 2.5 4.3 2.5 4.5 2.5 4.3 2.5 3.8 2.5 3.5 2.5 3.1 2.5 2.8 2.5 2.3 2.5 1.9 2.5 1.3 2.5 0.5 2.5-0.6 2.5-1.6 2.5-2.2 2.5-2.4 2.5-2.3 2.5-1.8 2.5-0.9 2.5 0.3 2.5 1.6 2.5 2.5 2.5 2.9 2.5 3.2 2.5 3.2 2.5 3 2.5 2.8 2.5 2.3 2.5 1.6 2.5 0.7 2.5-0.6 2.5-1.9 2.5-2.8 2.5-3.4 2.5-3.6 2.5-3.3 2.5-2.9 2.5-2.4 2.5-1.9 2.5-1.4 2.5-0.8 2.5 0 2.5 0.5 2.5 0.9 2.5 1.1 2.5 1.3 2.5 1.2 2.5 1.2 2.5 1.1 2.5 0.9 2.5 0.7 2.5 0.6 2.5 0.7 2.5 0.6 2.5 0.6"/></g>
<path d="M378.2,609.1l1.5 1 1.5 1 1.5 1 1.5 0.9 1.5 0.9 1.5 0.7 1.5 0.6 1.5 0.3 1.5 0.1 1.5-0.3 1.5-0.7 1.5-1 1.5-1.3 1.5-1.4 1.5-1.5 1.5-1.6 1.5-1.6 1.5-1.5 1.5-1.4 1.5-1.2 1.5-1 1.5-0.8 1.5-0.5 1.5-0.2 1.5 0 1.5 0.3 1.5 0.3 1.5 0.5 1.5 0.6 1.5 0.6 1.5 0.6 1.5 0.5 1.5 0.5 1.5 0.4 1.5 0.2 1.5 0 1.5-0.1 1.5-0.5 1.5-0.6 1.5-0.9 1.5-1 1.5-1 1.5-1 1.5-0.8 1.5-0.8 1.5-0.4 1.5-0.2 1.5 0.3 1.5 0.6 1.5 1.2 1.5 1.5 1.5 1.8 1.5 2.1 1.5 2.2 1.5 2.4 1.5 2.3 1.5 2.2 1.5 2.1 1.5 1.9 1.5 1.5 1.5 1.1 1.5 0.7 1.5 0.1 1.5-0.4 1.5-0.6 1.5-0.9 1.5-1 1.5-1 1.5-1 1.5-0.8 1.5-0.7 1.5-0.6 1.5-0.5 1.5-0.3 1.5-0.2 1.5-0.1 1.5 0.2 1.5 0.3 1.5 0.6 1.5 0.7 1.5 1 1.5 1 1.5 1 1.5 0.8 1.5 0.5 1.5 0.1 1.5-0.5 1.5-1.3 1.5-1.8 1.5-2.4 1.5-2.6 1.5-2.7 1.5-2.5 1.5-2.5 1.5-2.3 1.5-2.2 1.5-2.1 1.5-2 1.5-1.8 1.5-1.6 1.5-1.5 1.5-1.4 1.5-1.1 1.5-0.9 1.5-0.7 1.5-0.4 1.5-0.1 1.5 0.1 1.5 0.4 1.5 0.6 1.5 1 1.5 1.2 1.5 1.4 1.5 1.6 1.5 1.8 1.5 2 1.5 2.1 1.5 2.3 1.5 2.4 1.5 2.5 1.5 2.5 1.5 2.5 1.5 2.3 1.5 2.2 1.5 1.9 1.5 1.6 1.5 1.2 1.5 0.7 1.5 0.1 1.5-0.4 1.5-1 1.5-1.5 1.5-1.7 1.5-2 1.5-2.1 1.5-2.1 1.5-2 1.5-1.8 1.5-1.4 1.5-1.1 1.5-0.5 1.5 0.1 1.5 0.7 1.5 1 1.5 1.5 1.5 1.8 1.5 2 1.5 2.2 1.5 2.2 1.5 2.3 1.5 2.2 1.5 2.1 1.5 2 1.5 1.8 1.5 1.6 1.5 1.2 1.5 0.9 1.5 0.4 1.5 0 1.5-0.5 1.5-1.1 1.5-1.4 1.5-1.8 1.5-2.1 1.5-2.2 1.5-2.3 1.5-2.2 1.5-2.2 1.5-1.9 1.5-1.8 1.5-1.7 1.5-1.4 1.5-1.2 1.5-0.9 1.5-0.7 1.5-0.4 1.5-0.1 1.5 0.2 1.5 0.4 1.5 0.7 1.5 0.8 1.5 1 1.5 1.1 1.5 1.1 1.5 1.2 1.5 1.1 1.5 1.1 1.5 1 1.5 0.9 1.5 0.7 1.5 0.6 1.5 0.3 1.5 0.2 1.5 0 1.5-0.1 1.5-0.2 1.5-0.4 1.5-0.3 1.5-0.5 1.5-0.4" fill="none" stroke="#3874b2" stroke-width="1.0" clip-path="url(#cbc)"/>
<rect x="376.50" y="555.70" width="304.90" height="97.90" fill="none" stroke="#6e6e6e" stroke-width="1"/>
<text x="371.60" y="653.50" font-size="6.50" text-anchor="end" fill="#111" textLength="3.44" lengthAdjust="spacingAndGlyphs">0</text>
<text x="371.60" y="629.60" font-size="6.50" text-anchor="end" fill="#111" textLength="3.44" lengthAdjust="spacingAndGlyphs">1</text>
<text x="371.60" y="605.70" font-size="6.50" text-anchor="end" fill="#111" textLength="3.44" lengthAdjust="spacingAndGlyphs">2</text>
<text x="371.60" y="581.80" font-size="6.50" text-anchor="end" fill="#111" textLength="3.44" lengthAdjust="spacingAndGlyphs">3</text>
<text x="371.60" y="557.90" font-size="6.50" text-anchor="end" fill="#111" textLength="3.44" lengthAdjust="spacingAndGlyphs">4</text>
<text x="409.00" y="662.80" font-size="6.50" text-anchor="middle" fill="#111" textLength="10.31" lengthAdjust="spacingAndGlyphs">597</text>
<text x="454.00" y="662.80" font-size="6.50" text-anchor="middle" fill="#111" textLength="10.31" lengthAdjust="spacingAndGlyphs">600</text>
<text x="499.00" y="662.80" font-size="6.50" text-anchor="middle" fill="#111" textLength="10.31" lengthAdjust="spacingAndGlyphs">603</text>
<text x="544.00" y="662.80" font-size="6.50" text-anchor="middle" fill="#111" textLength="10.31" lengthAdjust="spacingAndGlyphs">606</text>
<text x="589.00" y="662.80" font-size="6.50" text-anchor="middle" fill="#111" textLength="10.31" lengthAdjust="spacingAndGlyphs">609</text>
<text x="634.00" y="662.80" font-size="6.50" text-anchor="middle" fill="#111" textLength="10.31" lengthAdjust="spacingAndGlyphs">612</text>
<text x="679.00" y="662.80" font-size="6.50" text-anchor="middle" fill="#111" textLength="10.31" lengthAdjust="spacingAndGlyphs">615</text>
<path d="M374.20,367.20H376.50M374.20,400.62H376.50M374.20,434.04H376.50M374.20,467.46H376.50M374.20,500.88H376.50M374.20,534.30H376.50M409.00,544.80V547.10M454.00,544.80V547.10M499.00,544.80V547.10M544.00,544.80V547.10M589.00,544.80V547.10M634.00,544.80V547.10M679.00,544.80V547.10M374.20,651.50H376.50M374.20,627.60H376.50M374.20,603.70H376.50M374.20,579.80H376.50M374.20,555.90H376.50M409.00,653.60V655.90M454.00,653.60V655.90M499.00,653.60V655.90M544.00,653.60V655.90M589.00,653.60V655.90M634.00,653.60V655.90M679.00,653.60V655.90" fill="none" stroke="#6e6e6e" stroke-width="0.9"/>
<text x="528.95" y="672.20" font-size="7.70" text-anchor="middle" fill="#111" textLength="68.00" lengthAdjust="spacingAndGlyphs">Calendar year (CE)</text>
<text transform="translate(353.60,446.20) rotate(-90)" font-size="8.4" text-anchor="middle" fill="#111" textLength="33.2" lengthAdjust="spacingAndGlyphs">Δ<tspan font-size="5.6" dy="-2.9">14</tspan><tspan dy="2.9">C (‰)</tspan></text>
<text transform="translate(362.30,604.60) rotate(-90)" font-size="8.1" text-anchor="middle" fill="#111" textLength="107" lengthAdjust="spacingAndGlyphs">Production rate (atoms/cm<tspan font-size="5.4" dy="-2.8">2</tspan><tspan dy="2.8">/s)</tspan></text>
<text x="673.40" y="361.80" font-size="11.00" text-anchor="end" fill="#1c1c1c" textLength="71.90" lengthAdjust="spacingAndGlyphs">c) 604 - 605 CE</text>
<line x1="380.90" y1="355.30" x2="393.70" y2="355.30" stroke="#3c7dc2" stroke-width="1.05"/>
<line x1="380.90" y1="366.60" x2="393.70" y2="366.60" stroke="#111" stroke-width="1"/>
<circle cx="387.30" cy="366.60" r="2.2" fill="#000"/>
<text x="398.00" y="357.70" font-size="6.80" text-anchor="start" fill="#111" textLength="78.00" lengthAdjust="spacingAndGlyphs">Brehm et al, 2021: 22-box</text>
<text x="398.60" y="368.50" font-size="6.8" fill="#111" textLength="39.3" lengthAdjust="spacingAndGlyphs">average Δ<tspan font-size="5.2" dy="-2.5">14</tspan><tspan dy="2.5">C</tspan></text>
<clipPath id="ctd"><rect x="30.50" y="694.60" width="305.00" height="197.80"/></clipPath>
<clipPath id="cbd"><rect x="30.60" y="900.80" width="304.90" height="98.40"/></clipPath>
<path d="M32.7,832.5l1.5 0 1.5 0 1.5-0.2 1.5-0.4 1.5-0.6 1.5-0.8 1.5-1.2 1.5-1.3 1.5-1.6 1.5-1.8 1.5-2 1.5-2.1 1.6-2.2 1.5-2.3 1.5-2.5 1.5-2.4 1.5-2.5 1.5-2.5 1.5-2.4 1.5-2.4 1.5-2.3 1.5-2.2 1.5-2 1.5-1.8 1.5-1.6 1.5-1.4 1.5-1.1 1.5-0.9 1.5-0.8 1.5-0.5 1.5-0.4 1.5-0.2 1.5-0.1 1.5 0 1.5 0.1 1.5 0.2 1.5 0.2 1.6 0.1 1.5 0.2 1.5 0.1 1.5 0.2 1.5 0.1 1.5 0.2 1.5 0.2 1.5 0.2 1.5 0.2 1.5 0.2 1.5 0.4 1.5 0.4 1.5 0.6 1.5 0.7 1.5 0.8 1.5 1.1 1.5 1.1 1.5 1.2 1.5 1.3 1.5 1.3 1.5 1.3 1.5 1.3 1.5 1.3 1.5 1.2 1.5 1.2 1.6 1 1.5 0.9 1.5 0.8 1.5 0.7 1.5 0.6 1.5 0.5 1.5 0.4 1.5 0.3 1.5 0.2 1.5 0.3 1.5 0.2 1.5 0.2 1.5 0.2 1.5 0.2 1.5 0.3 1.5 0.3 1.5 0.5 1.5 0.5 1.5 0.7 1.5 0.8 1.5 1 1.5 1.2 1.5 1.4 1.5 1.5 1.5 1.6 1.6 1.6 1.5 1.5 1.5 1.4 1.5 1.2 1.5 0.9 1.5 0.8 1.5 0.5 1.5 0.3 1.5 0 1.5-0.2 1.5-0.5 1.5-0.6 1.5-0.9 1.5-1 1.5-1.1 1.5-1.3 1.5-1.3 1.5-1.5 1.5-1.5 1.5-1.6 1.5-1.7 1.5-1.8 1.5-1.8 1.5-2 1.5-2 1.5-2 1.6-2.2 1.5-2.2 1.5-2.3 1.5-2.3 1.5-2.4 1.5-2.5 1.5-2.5 1.5-2.6 1.5-2.4 1.5-2.3 1.5-2.1 1.5-1.7 1.5-1.4 1.5-1 1.5-0.7 1.5-0.4 1.5 0 1.5 0.4 1.5 0.5 1.5 0.8 1.5 0.9 1.5 1 1.5 1.1 1.5 1 1.5 0.8 1.6 0.5 1.5 0.2 1.5-0.2 1.5-0.7 1.5-1.2 1.5-1.7 1.5-2 1.5-2.1 1.5-2.2 1.5-2.1 1.5-1.9 1.5-1.7 1.5-1.7 1.5-1.6 1.5-1.6 1.5-1.6 1.5-1.7 1.5-1.6 1.5-1.7 1.5-1.6 1.5-1.6 1.5-1.4 1.5-1.3 1.5-1.1 1.5-0.9 1.6-0.6 1.5-0.5 1.5-0.2 1.5-0.1 1.5 0.2 1.5 0.4 1.5 0.5 1.5 0.8 1.5 1 1.5 1.2 1.5 1.5 1.5 1.6 1.5 1.8 1.5 1.8 1.5 1.9 1.5 1.7 1.5 1.5 1.5 1.2 1.5 0.9 1.5 0.4 1.5-0.1 1.5-0.7 1.5-1.2 1.5-1.6 1.5-2 1.6-2.3 1.5-2.5 1.5-2.8 1.5-2.8 1.5-2.8 1.5-2.7 1.5-2.5 1.5-2.4 1.5-2 1.5-1.7 1.5-1.6 1.5-1.4 1.5-1.4" fill="none" stroke="#3c7dc2" stroke-width="1.05" clip-path="url(#ctd)"/>
<path d="M40.10,815.50V853.60M38.50,815.50H41.70M38.50,853.60H41.70M55.10,797.90V836.50M53.50,797.90H56.70M53.50,836.50H56.70M70.10,757.50V796.30M68.50,757.50H71.70M68.50,796.30H71.70M85.00,780.90V816.60M83.40,780.90H86.60M83.40,816.60H86.60M100.00,763.60V798.60M98.40,763.60H101.60M98.40,798.60H101.60M114.90,774.30V813.40M113.30,774.30H116.50M113.30,813.40H116.50M129.60,786.30V825.50M128.00,786.30H131.20M128.00,825.50H131.20M144.80,798.40V830.20M143.20,798.40H146.40M143.20,830.20H146.40M160.00,781.60V813.40M158.40,781.60H161.60M158.40,813.40H161.60M174.70,843.50V883.50M173.10,843.50H176.30M173.10,883.50H176.30M189.70,786.30V818.50M188.10,786.30H191.30M188.10,818.50H191.30M204.60,810.60V842.10M203.00,810.60H206.20M203.00,842.10H206.20M219.60,736.70V769.00M218.00,736.70H221.20M218.00,769.00H221.20M234.50,764.50V796.50M232.90,764.50H236.10M232.90,796.50H236.10M249.50,776.40V824.30M247.90,776.40H251.10M247.90,824.30H251.10M264.40,729.30V778.30M262.80,729.30H266.00M262.80,778.30H266.00M279.60,727.40V776.40M278.00,727.40H281.20M278.00,776.40H281.20M294.40,711.00V748.40M292.80,711.00H296.00M292.80,748.40H296.00M309.80,763.60V790.90M308.20,763.60H311.40M308.20,790.90H311.40M324.30,725.50V759.60M322.70,725.50H325.90M322.70,759.60H325.90" fill="none" stroke="#333" stroke-width="0.95"/>
<circle cx="40.10" cy="834.90" r="2.25" fill="#000"/>
<circle cx="55.10" cy="816.90" r="2.25" fill="#000"/>
<circle cx="70.10" cy="776.90" r="2.25" fill="#000"/>
<circle cx="85.00" cy="798.90" r="2.25" fill="#000"/>
<circle cx="100.00" cy="781.10" r="2.25" fill="#000"/>
<circle cx="114.90" cy="794.00" r="2.25" fill="#000"/>
<circle cx="129.60" cy="805.90" r="2.25" fill="#000"/>
<circle cx="144.80" cy="814.30" r="2.25" fill="#000"/>
<circle cx="160.00" cy="797.50" r="2.25" fill="#000"/>
<circle cx="174.70" cy="863.60" r="2.25" fill="#000"/>
<circle cx="189.70" cy="802.10" r="2.25" fill="#000"/>
<circle cx="204.60" cy="826.40" r="2.25" fill="#000"/>
<circle cx="219.60" cy="752.90" r="2.25" fill="#000"/>
<circle cx="234.50" cy="780.70" r="2.25" fill="#000"/>
<circle cx="249.50" cy="800.50" r="2.25" fill="#000"/>
<circle cx="264.40" cy="753.80" r="2.25" fill="#000"/>
<circle cx="279.60" cy="752.10" r="2.25" fill="#000"/>
<circle cx="294.40" cy="729.70" r="2.25" fill="#000"/>
<circle cx="309.80" cy="777.10" r="2.25" fill="#000"/>
<circle cx="324.30" cy="743.00" r="2.25" fill="#000"/>
<line x1="212.40" y1="887.90" x2="212.40" y2="694.60" stroke="#ff1a0a" stroke-width="2.8" stroke-dasharray="8.40 7.50" clip-path="url(#ctd)"/>
<rect x="30.50" y="694.60" width="305.00" height="197.80" fill="none" stroke="#6e6e6e" stroke-width="1"/>
<text x="25.60" y="697.30" font-size="6.50" text-anchor="end" fill="#111" textLength="7.96" lengthAdjust="spacingAndGlyphs">−4</text>
<text x="25.60" y="728.16" font-size="6.50" text-anchor="end" fill="#111" textLength="7.96" lengthAdjust="spacingAndGlyphs">−6</text>
<text x="25.60" y="759.02" font-size="6.50" text-anchor="end" fill="#111" textLength="7.96" lengthAdjust="spacingAndGlyphs">−8</text>
<text x="25.60" y="789.88" font-size="6.50" text-anchor="end" fill="#111" textLength="11.40" lengthAdjust="spacingAndGlyphs">−10</text>
<text x="25.60" y="820.74" font-size="6.50" text-anchor="end" fill="#111" textLength="11.40" lengthAdjust="spacingAndGlyphs">−12</text>
<text x="25.60" y="851.60" font-size="6.50" text-anchor="end" fill="#111" textLength="11.40" lengthAdjust="spacingAndGlyphs">−14</text>
<text x="25.60" y="882.46" font-size="6.50" text-anchor="end" fill="#111" textLength="11.40" lengthAdjust="spacingAndGlyphs">−16</text>
<g fill="none" stroke="#3d8cc4" stroke-opacity="0.42" stroke-width="0.68" clip-path="url(#cbd)"><path d="M32.7,954.1l2.5-3.6 2.5-5.7 2.6-6.2 2.5-4.8 2.5-2.1 2.5 0.6 2.5 2.3 2.5 2 2.6 0.4 2.5-1.8 2.5-3 2.5-2.7 2.5-0.8 2.5 2.2 2.6 5.1 2.5 6.8 2.5 6.7 2.5 4.8 2.5 1.7 2.5-1.5 2.6-3.7 2.5-3.7 2.5-2.2 2.5 0.6 2.5 3.2 2.5 4.6 2.6 4.2 2.5 2.3 2.5-0.5 2.5-2.7 2.5-3.4 2.5-2.6 2.6-0.3 2.5 2.2 2.5 4 2.5 3.9 2.5 2.2 2.5-0.6 2.6-3.5 2.5-5.3 2.5-5.3 2.5-3.4 2.5-0.3 2.5 2.7 2.6 4.8 2.5 4.9 2.5 3.5 2.5 1.3 2.5-1 2.5-2.2 2.6-2.2 2.5-0.9 2.5 0.6 2.5 1.1 2.5 0.5 2.5-1.3 2.6-3.5 2.5-5.7 2.5-6.5 2.5-5.7 2.5-3.2 2.5 0.6 2.6 3.9 2.5 5.2 2.5 3.5 2.5-0.3 2.5-4.3 2.5-7.3 2.6-8.1 2.5-6.3 2.5-1.9 2.5 3.7 2.5 8.2 2.5 10.4 2.6 9.7 2.5 7.1 2.5 3.5 2.5 0.1 2.5-2 2.5-2.4 2.6-1.6 2.5-0.2 2.5 0.6 2.5-0.1 2.5-2.4 2.5-5.3 2.6-7.7 2.5-8.7 2.5-7.4 2.5-3.9 2.5 0.7 2.5 4.7 2.6 7.1 2.5 7.3 2.5 5.3 2.5 2.1 2.5-0.5 2.5-1.8 2.6-1 2.5 1.4 2.5 4.7 2.5 7.1 2.5 7.6 2.5 5.8 2.6 2.1 2.5-2.5 2.5-6.4 2.5-8.5 2.5-8.8 2.5-7.6 2.6-5.8 2.5-3.6 2.5-2.1 2.5-0.8 2.5-0.6 2.5-0.8 2.6-0.5 2.5 0.9 2.5 3.4"/><path d="M32.7,954.1l2.5-2.6 2.5-0.3 2.6-0.2 2.5-1.9 2.5-3.7 2.5-4.7 2.5-3.9 2.5-1.8 2.6 1.2 2.5 3.8 2.5 5 2.5 4.5 2.5 2.5 2.5-0.1 2.6-2.2 2.5-3.1 2.5-2.1 2.5-0.1 2.5 2.5 2.5 4.2 2.6 4.6 2.5 3.2 2.5 0.7 2.5-2.1 2.5-4 2.5-4.4 2.6-3 2.5-0.4 2.5 2.6 2.5 4.6 2.5 5.2 2.5 3.9 2.6 1.2 2.5-1.7 2.5-4 2.5-4.7 2.5-3.6 2.5-1.3 2.6 1.3 2.5 3.3 2.5 3.7 2.5 2.5 2.5 0.1 2.5-2.3 2.6-4 2.5-3.9 2.5-2.1 2.5 0.7 2.5 3.7 2.5 5.4 2.6 5.4 2.5 3.4 2.5 0.1 2.5-3.6 2.5-6.2 2.5-6.6 2.6-5.2 2.5-2.3 2.5 1 2.5 3.3 2.5 4 2.5 3.1 2.6 0.7 2.5-2.1 2.5-4.5 2.5-5.5 2.5-4.4 2.5-1.8 2.6 1 2.5 3.4 2.5 4.5 2.5 4 2.5 2.3 2.5 0 2.6-1.5 2.5-1.6 2.5-0.3 2.5 1.9 2.5 3.9 2.5 4.6 2.6 3.6 2.5 1.2 2.5-2 2.5-5.1 2.5-6.8 2.5-6.6 2.6-4.6 2.5-1.4 2.5 1.8 2.5 3.9 2.5 4.4 2.5 3 2.6 0.5 2.5-1.7 2.5-3 2.5-2.8 2.5-0.8 2.5 1.8 2.6 4.4 2.5 5.8 2.5 5.5 2.5 3.5 2.5 0.7 2.5-2 2.6-3.8 2.5-3.9 2.5-2.7 2.5-0.8 2.5 0.8 2.5 1.1 2.6-0.1 2.5-2.2 2.5-4.3 2.5-5.4 2.5-4.9 2.5-3 2.6 0.1 2.5 3.4 2.5 6.1"/><path d="M32.7,954.1l2.5-2 2.5-1.6 2.6-2.1 2.5-2.6 2.5-3 2.5-2.9 2.5-2.2 2.5-1 2.6 0.4 2.5 1.9 2.5 3 2.5 3.6 2.5 3.5 2.5 2.6 2.6 1.5 2.5 0.2 2.5-0.7 2.5-1.3 2.5-1.3 2.5-0.9 2.6-0.2 2.5 0.4 2.5 1.1 2.5 1.3 2.5 1.2 2.5 0.8 2.6 0.3 2.5-0.3 2.5-0.5 2.5-0.4 2.5 0 2.5 0.6 2.6 1.3 2.5 1.7 2.5 1.6 2.5 1.1 2.5 0.1 2.5-1 2.6-2 2.5-2.8 2.5-3 2.5-2.6 2.5-1.6 2.5-0.1 2.6 1.4 2.5 2.6 2.5 3.4 2.5 3.6 2.5 3.1 2.5 2 2.6 0.4 2.5-1.1 2.5-2.4 2.5-3.5 2.5-3.8 2.5-3.4 2.6-2.3 2.5-1.1 2.5 0.1 2.5 0.7 2.5 1.1 2.5 1.1 2.6 0.6 2.5-0.3 2.5-1.3 2.5-2.3 2.5-2.3 2.5-1.9 2.6-0.8 2.5 0.3 2.5 1.6 2.5 2.6 2.5 2.7 2.5 2.2 2.6 1.3 2.5 0.5 2.5-0.1 2.5-0.1 2.5 0.2 2.5 0.7 2.6 1.1 2.5 1.3 2.5 1 2.5 0.3 2.5-0.9 2.5-2.3 2.6-3.3 2.5-3.9 2.5-3.8 2.5-2.8 2.5-1.4 2.5 0.1 2.6 1.6 2.5 2.7 2.5 3.2 2.5 3 2.5 2.4 2.5 1.7 2.6 0.9 2.5 0.3 2.5 0.3 2.5 0.6 2.5 1 2.5 1.3 2.6 1.5 2.5 1.1 2.5 0.2 2.5-0.9 2.5-2.5 2.5-4 2.6-5.3 2.5-5.6 2.5-4.9 2.5-3 2.5-0.7 2.5 1.6 2.6 3.3 2.5 4.6 2.5 4.9"/><path d="M32.7,954.1l2.5-2.2 2.5-1.6 2.6-1.4 2.5-1.1 2.5-0.9 2.5-0.4 2.5 0.1 2.5 0.7 2.6 1.1 2.5 1.4 2.5 1.5 2.5 1.3 2.5 1 2.5 0.6 2.6-0.1 2.5-0.6 2.5-0.9 2.5-1.1 2.5-1 2.5-0.7 2.6-0.4 2.5 0.2 2.5 0.8 2.5 1 2.5 1.3 2.5 1.3 2.6 1 2.5 0.6 2.5 0.1 2.5-0.5 2.5-0.8 2.5-1.2 2.6-1.1 2.5-1 2.5-0.6 2.5-0.2 2.5 0.3 2.5 0.6 2.6 1 2.5 1.1 2.5 1 2.5 0.6 2.5 0.3 2.5-0.1 2.6-0.6 2.5-0.9 2.5-1 2.5-1 2.5-0.7 2.5-0.3 2.6 0.1 2.5 0.5 2.5 0.8 2.5 0.9 2.5 0.8 2.5 0.7 2.6 0.3 2.5-0.1 2.5-0.5 2.5-0.9 2.5-1.1 2.5-1.2 2.6-1.1 2.5-0.9 2.5-0.6 2.5-0.3 2.5 0.2 2.5 0.5 2.6 0.9 2.5 1.1 2.5 1.2 2.5 1.1 2.5 0.7 2.5 0.2 2.6-0.2 2.5-0.7 2.5-0.8 2.5-0.9 2.5-0.7 2.5-0.3 2.6 0.1 2.5 0.4 2.5 0.8 2.5 0.8 2.5 0.7 2.5 0.5 2.6 0 2.5-0.4 2.5-0.7 2.5-1 2.5-1.1 2.5-1.1 2.6-0.8 2.5-0.4 2.5 0 2.5 0.5 2.5 0.9 2.5 1.3 2.6 1.5 2.5 1.4 2.5 1.3 2.5 0.8 2.5 0.4 2.5-0.2 2.6-0.8 2.5-1.2 2.5-1.4 2.5-1.5 2.5-1.3 2.5-1 2.6-0.5 2.5 0 2.5 0.4 2.5 0.9 2.5 1.2 2.5 1 2.6 0.8 2.5 0.4 2.5-0.1"/><path d="M32.7,954.1l2.5-1.9 2.5 0.2 2.6-1 2.5-4.3 2.5-7.5 2.5-8.8 2.5-7.2 2.5-3.3 2.6 1.8 2.5 6.1 2.5 8.4 2.5 8 2.5 5.2 2.5 1.2 2.6-2.4 2.5-4.1 2.5-3.3 2.5-0.7 2.5 2.9 2.5 5.6 2.6 6.6 2.5 5.3 2.5 2.3 2.5-1.5 2.5-4.4 2.5-5.6 2.6-4.4 2.5-1.5 2.5 2.1 2.5 5 2.5 6.5 2.5 5.6 2.6 3.1 2.5-0.2 2.5-3.2 2.5-4.9 2.5-4.6 2.5-2.8 2.6-0.4 2.5 1.7 2.5 2.4 2.5 1.6 2.5-0.1 2.5-2.1 2.6-3 2.5-2.7 2.5-0.6 2.5 2.5 2.5 5.2 2.5 6.6 2.6 5.8 2.5 2.9 2.5-1.2 2.5-5.6 2.5-8.6 2.5-8.8 2.6-6.7 2.5-3 2.5 0.8 2.5 3.3 2.5 3.8 2.5 2.6 2.6-0.1 2.5-3.5 2.5-6.5 2.5-7.6 2.5-6 2.5-2.4 2.6 1.6 2.5 4.7 2.5 6.3 2.5 6 2.5 3.6 2.5 0.8 2.6-1.2 2.5-1.3 2.5 1 2.5 4.2 2.5 7.1 2.5 7.9 2.6 6.1 2.5 1.9 2.5-3.7 2.5-9.1 2.5-12.5 2.5-12.7 2.6-9.6 2.5-4.4 2.5 1.5 2.5 6.2 2.5 8.3 2.5 7.1 2.6 3.6 2.5-0.6 2.5-3.9 2.5-5 2.5-3.2 2.5 0.7 2.6 5.3 2.5 8.9 2.5 10.3 2.5 9.1 2.5 5.3 2.5 0.4 2.6-4 2.5-6.7 2.5-7.3 2.5-5.8 2.5-3.7 2.5-2.2 2.6-2.2 2.5-3.2 2.5-4.6 2.5-5.3 2.5-5.1 2.5-3.7 2.6-0.8 2.5 3 2.5 6.7"/><path d="M32.7,954.1l2.5-3.4 2.5-3.8 2.6-3.3 2.5-2.5 2.5-1.8 2.5-1.4 2.5-0.9 2.5-0.5 2.6 0.4 2.5 1.3 2.5 2.4 2.5 3.4 2.5 3.6 2.5 3.3 2.6 2.4 2.5 1.3 2.5 0.4 2.5-0.2 2.5-0.2 2.5-0.2 2.6 0.1 2.5 0.3 2.5 0.5 2.5 0.5 2.5 0.7 2.5 0.8 2.6 1.3 2.5 1.8 2.5 2.4 2.5 2.7 2.5 2.6 2.5 2 2.6 1 2.5-0.4 2.5-1.7 2.5-2.7 2.5-3.2 2.5-3 2.6-2.4 2.5-1.6 2.5-0.9 2.5-0.3 2.5 0.1 2.5 0.5 2.6 1.1 2.5 1.8 2.5 2.7 2.5 3.7 2.5 4.1 2.5 3.8 2.6 2.6 2.5 0.6 2.5-1.8 2.5-4.4 2.5-6.4 2.5-7 2.6-6.3 2.5-4.9 2.5-2.9 2.5-1.2 2.5 0.3 2.5 1.5 2.6 2.2 2.5 1.6 2.5 0.3 2.5-1.5 2.5-2.5 2.5-2.7 2.6-2.5 2.5-1.6 2.5-0.1 2.5 1.7 2.5 3.1 2.5 3.8 2.6 4.1 2.5 4.2 2.5 4.1 2.5 3.7 2.5 2.8 2.5 1.4 2.6-0.2 2.5-1.7 2.5-2.7 2.5-3.5 2.5-3.9 2.5-4 2.6-3.7 2.5-3.3 2.5-2.8 2.5-1.9 2.5-1 2.5-0.2 2.6 0.6 2.5 1.4 2.5 2.1 2.5 2.4 2.5 2.8 2.5 3 2.6 3.1 2.5 3.3 2.5 3.9 2.5 4.3 2.5 4.5 2.5 4.1 2.6 3.1 2.5 1.2 2.5-1.3 2.5-4.1 2.5-6.8 2.5-9.1 2.6-10.6 2.5-10.2 2.5-8.1 2.5-4.5 2.5-0.8 2.5 2.2 2.6 4.2 2.5 5.3 2.5 5.9"/><path d="M32.7,954.1l2.5-5.1 2.5-4.5 2.6-0.3 2.5 4.3 2.5 6.3 2.5 4.8 2.5 0.5 2.5-4.6 2.6-8 2.5-8.2 2.5-4.8 2.5 0.8 2.5 6.8 2.5 10.4 2.6 10.7 2.5 7.4 2.5 1.7 2.5-3.9 2.5-7.8 2.5-8.3 2.6-5.4 2.5-0.1 2.5 5.3 2.5 8.8 2.5 9 2.5 5.9 2.6 0.4 2.5-5.1 2.5-8.6 2.5-8.6 2.5-5.1 2.5 0.4 2.6 6.2 2.5 9.8 2.5 9.7 2.5 6.1 2.5 0.1 2.5-6 2.6-10.1 2.5-10.6 2.5-7.4 2.5-1.8 2.5 4.3 2.5 8.6 2.6 9.4 2.5 6.9 2.5 2 2.5-3.1 2.5-6.7 2.5-7.2 2.6-4.6 2.5 0 2.5 4.6 2.5 6.9 2.5 6.3 2.5 2.5 2.6-2.8 2.5-8 2.5-10.7 2.5-10.2 2.5-6.1 2.5 0.2 2.6 6.4 2.5 9.8 2.5 8.9 2.5 4.4 2.5-2 2.5-8 2.6-11.5 2.5-10.8 2.5-6 2.5 1.3 2.5 8.4 2.5 13 2.6 13.4 2.5 10 2.5 3.8 2.5-2.7 2.5-7.5 2.5-9.2 2.6-7.2 2.5-2.6 2.5 2.4 2.5 5.7 2.5 5.9 2.5 3 2.6-2.1 2.5-7.1 2.5-10.1 2.5-9.5 2.5-5.6 2.5 0.4 2.6 6.5 2.5 10.4 2.5 10.7 2.5 7.5 2.5 1.9 2.5-3.7 2.6-7.2 2.5-7.4 2.5-3.9 2.5 1.8 2.5 7.4 2.5 10.8 2.6 10.5 2.5 6.2 2.5-0.5 2.5-7.6 2.5-12.7 2.5-14.3 2.6-11.9 2.5-6.2 2.5 0.7 2.5 6.5 2.5 9.2 2.5 7.9 2.6 3.5 2.5-1.5 2.5-5.3"/><path d="M32.7,954.1l2.5-2.8 2.5-3.5 2.6-3.9 2.5-3.8 2.5-3.6 2.5-3.4 2.5-2.8 2.5-2.3 2.6-1.2 2.5 0.1 2.5 1.8 2.5 3.5 2.5 4.9 2.5 5.4 2.6 5.2 2.5 4.2 2.5 2.7 2.5 1.1 2.5-0.5 2.5-1.8 2.6-2.3 2.5-2.3 2.5-1.4 2.5-0.3 2.5 0.9 2.5 2 2.6 2.6 2.5 2.8 2.5 2.5 2.5 2 2.5 1.6 2.5 1.1 2.6 0.5 2.5 0 2.5-0.7 2.5-1.5 2.5-2.2 2.5-2.6 2.6-2.8 2.5-2.4 2.5-1.8 2.5-0.6 2.5 0.6 2.5 1.8 2.6 2.8 2.5 3.1 2.5 3.1 2.5 2.7 2.5 1.8 2.5 0.7 2.6-0.4 2.5-1.5 2.5-2.5 2.5-3.5 2.5-4.1 2.5-3.9 2.6-3.3 2.5-2.4 2.5-1.4 2.5-0.6 2.5 0.1 2.5 1 2.6 1.2 2.5 0.5 2.5-1.4 2.5-3.4 2.5-4.9 2.5-5.2 2.6-4.6 2.5-3.1 2.5-0.2 2.5 3.1 2.5 5.8 2.5 7.4 2.6 8 2.5 7.6 2.5 6.5 2.5 4.7 2.5 2.3 2.5-0.3 2.6-2.8 2.5-4.7 2.5-6 2.5-6.4 2.5-6.4 2.5-5.4 2.6-4.1 2.5-2.6 2.5-0.8 2.5 0.8 2.5 2.2 2.5 2.8 2.6 3 2.5 2.9 2.5 2.4 2.5 1.8 2.5 1.3 2.5 1.2 2.6 1.3 2.5 1.5 2.5 2.2 2.5 2.9 2.5 3.3 2.5 3.3 2.6 2.9 2.5 1.8 2.5 0.2 2.5-1.8 2.5-4.2 2.5-6.8 2.6-9.1 2.5-9.9 2.5-9.1 2.5-6.4 2.5-3 2.5 0.3 2.6 3.2 2.5 5.6 2.5 6.9"/><path d="M32.7,954.1l2.5-2.1 2.5-2.6 2.6-3.4 2.5-3.9 2.5-4 2.5-3.6 2.5-2.7 2.5-1.9 2.6-0.7 2.5 0.3 2.5 1.5 2.5 2.6 2.5 3.5 2.5 4.1 2.6 4.3 2.5 4.2 2.5 3.7 2.5 2.7 2.5 1.5 2.5 0 2.6-1.5 2.5-2.6 2.5-2.8 2.5-2.4 2.5-1.3 2.5 0.5 2.6 2.2 2.5 3.6 2.5 4.3 2.5 4.2 2.5 3.4 2.5 1.8 2.6 0 2.5-1.7 2.5-2.9 2.5-3.6 2.5-3.4 2.5-2.6 2.6-1.3 2.5-0.1 2.5 0.8 2.5 1.4 2.5 1.6 2.5 1.2 2.6 0.9 2.5 0.6 2.5 0.4 2.5 0.8 2.5 1.2 2.5 1.3 2.6 1.2 2.5 0.5 2.5-0.6 2.5-2.3 2.5-3.6 2.5-4.2 2.6-4.1 2.5-3.1 2.5-1.7 2.5-0.6 2.5 0.4 2.5 1.1 2.6 1 2.5-0.3 2.5-2.7 2.5-5.1 2.5-6 2.5-5.5 2.6-3.7 2.5-0.8 2.5 2.9 2.5 6.3 2.5 8.1 2.5 8.4 2.6 6.9 2.5 4.7 2.5 2.4 2.5 0.4 2.5-1.3 2.5-2.2 2.6-2.5 2.5-2.5 2.5-2.2 2.5-2.2 2.5-2.5 2.5-2.8 2.6-3.2 2.5-3.3 2.5-2.9 2.5-1.9 2.5-0.7 2.5 0.5 2.6 1.4 2.5 2 2.5 2.3 2.5 2.1 2.5 2 2.5 2.3 2.6 2.7 2.5 3.4 2.5 4.3 2.5 5 2.5 5 2.5 4.2 2.6 2.4 2.5-0.2 2.5-3.1 2.5-5.8 2.5-8.1 2.5-9.7 2.6-10.1 2.5-8.8 2.5-5.9 2.5-1.8 2.5 2.1 2.5 4.7 2.6 6.1 2.5 6.2 2.5 5.3"/><path d="M32.7,954.1l2.5-1.6 2.5-1.7 2.6-1.5 2.5-1 2.5-0.5 2.5 0.2 2.5 0.7 2.5 1 2.6 1 2.5 0.9 2.5 0.7 2.5 0.5 2.5 0.2 2.5 0 2.6-0.1 2.5 0.1 2.5 0.5 2.5 1 2.5 1.6 2.5 2 2.6 2.1 2.5 2.1 2.5 1.7 2.5 1 2.5 0.2 2.5-0.6 2.6-1.3 2.5-1.8 2.5-1.8 2.5-1.5 2.5-0.7 2.5 0.2 2.6 1.1 2.5 2 2.5 2.4 2.5 2.3 2.5 1.8 2.5 0.9 2.6-0.2 2.5-1.3 2.5-2.3 2.5-2.8 2.5-2.9 2.5-2.4 2.6-1.5 2.5-0.3 2.5 1.2 2.5 2.5 2.5 3.3 2.5 3.7 2.6 3.2 2.5 2.2 2.5 0.6 2.5-1.3 2.5-3 2.5-4.1 2.6-4.5 2.5-4.2 2.5-3.1 2.5-1.9 2.5-0.5 2.5 0.9 2.6 1.8 2.5 1.9 2.5 1.1 2.5-0.3 2.5-1.3 2.5-1.9 2.6-2 2.5-1.5 2.5-0.4 2.5 0.9 2.5 2.1 2.5 2.7 2.6 2.8 2.5 2.7 2.5 2.3 2.5 1.8 2.5 1.2 2.5 0.5 2.6-0.3 2.5-0.8 2.5-1.3 2.5-1.8 2.5-2.2 2.5-2.3 2.6-2.4 2.5-2.1 2.5-1.8 2.5-1.2 2.5-0.6 2.5-0.1 2.6 0.3 2.5 0.8 2.5 1.2 2.5 1.5 2.5 1.9 2.5 2.5 2.6 2.9 2.5 3.1 2.5 3.1 2.5 2.8 2.5 1.8 2.5 0.7 2.6-0.6 2.5-2.1 2.5-3.2 2.5-3.9 2.5-4.2 2.5-4 2.6-3.7 2.5-2.6 2.5-1.3 2.5 0.4 2.5 1.7 2.5 2.2 2.6 2.3 2.5 1.8 2.5 1.1"/><path d="M32.7,954.1l2.5-2.5 2.5-4.2 2.6-5.2 2.5-5.3 2.5-4.6 2.5-3.3 2.5-1.7 2.5-0.1 2.6 1.4 2.5 2.7 2.5 3.8 2.5 4.3 2.5 4.4 2.5 4 2.6 3 2.5 2 2.5 0.9 2.5 0.1 2.5-0.6 2.5-1 2.6-1.2 2.5-1 2.5-0.7 2.5-0.1 2.5 0.5 2.5 1 2.6 1.4 2.5 1.6 2.5 1.5 2.5 1.5 2.5 1.3 2.5 1.1 2.6 1 2.5 0.8 2.5 0.6 2.5 0.1 2.5-0.3 2.5-0.7 2.6-1.1 2.5-1.5 2.5-1.9 2.5-2 2.5-2.1 2.5-1.9 2.6-1.3 2.5-0.5 2.5 0.5 2.5 1.9 2.5 3 2.5 3.8 2.6 4 2.5 3.5 2.5 2.2 2.5 0.1 2.5-2 2.5-3.8 2.6-5 2.5-5.4 2.5-5.3 2.5-4.7 2.5-3.7 2.5-2.2 2.6-0.7 2.5-0.1 2.5-0.4 2.5-1.1 2.5-1.2 2.5-0.8 2.6-0.1 2.5 1.1 2.5 2.7 2.5 4.3 2.5 4.9 2.5 4.6 2.6 3.7 2.5 2.4 2.5 1.5 2.5 0.5 2.5-0.1 2.5-0.7 2.6-1.3 2.5-1.5 2.5-2 2.5-2.5 2.5-2.9 2.5-3.3 2.6-3.4 2.5-3 2.5-2.3 2.5-1 2.5 0.2 2.5 1.2 2.6 2 2.5 2.4 2.5 2.5 2.5 2.2 2.5 2.1 2.5 2.1 2.6 2 2.5 2.2 2.5 2.3 2.5 2.5 2.5 2.3 2.5 1.7 2.6 0.8 2.5-0.4 2.5-1.5 2.5-2.6 2.5-3.6 2.5-4.7 2.6-5.5 2.5-5.5 2.5-4.7 2.5-2.9 2.5-1 2.5 0.2 2.6 1 2.5 1.6 2.5 2"/><path d="M32.7,954.1l2.5-2.7 2.5-1.6 2.6-1.2 2.5-1.5 2.5-2.6 2.5-3 2.5-2.6 2.5-0.9 2.6 1.5 2.5 3.5 2.5 4.3 2.5 3.7 2.5 1.8 2.5-0.6 2.6-2.3 2.5-2.5 2.5-1.1 2.5 1.3 2.5 3.6 2.5 4.6 2.6 4 2.5 2.2 2.5-0.5 2.5-2.4 2.5-3.2 2.5-2.4 2.6-0.6 2.5 1.2 2.5 2.5 2.5 2.3 2.5 1.4 2.5-0.1 2.6-1 2.5-1.1 2.5-0.1 2.5 1.2 2.5 2.2 2.5 2.2 2.6 0.7 2.5-1.6 2.5-3.8 2.5-5 2.5-4.4 2.5-2.2 2.6 1 2.5 3.8 2.5 5.6 2.5 5.5 2.5 3.7 2.5 1 2.6-1.5 2.5-3 2.5-3.3 2.5-2.7 2.5-1.8 2.5-0.9 2.6-1 2.5-1.5 2.5-2.3 2.5-2.6 2.5-1.8 2.5 0 2.6 1.9 2.5 2.9 2.5 2 2.5-0.3 2.5-3 2.5-5.3 2.6-6 2.5-4.5 2.5-1.1 2.5 3.2 2.5 6.8 2.5 8.3 2.6 7.4 2.5 4.8 2.5 1.5 2.5-1.5 2.5-2.9 2.5-3 2.6-1.7 2.5-0.2 2.5 0.5 2.5 0.1 2.5-1.4 2.5-3.2 2.6-4.4 2.5-4.2 2.5-2.7 2.5-0.2 2.5 2.1 2.5 3.1 2.6 2.7 2.5 1.2 2.5-0.6 2.5-1.8 2.5-1.3 2.5 0.5 2.6 3 2.5 5.4 2.5 6.4 2.5 5.6 2.5 3 2.5-0.1 2.6-3 2.5-4.5 2.5-4.5 2.5-3.2 2.5-1.8 2.5-1.1 2.6-1.7 2.5-2.9 2.5-3.8 2.5-3.8 2.5-2.6 2.5-0.6 2.6 1.9 2.5 3.9 2.5 4.8"/><path d="M32.7,954.1l2.5-2.9 2.5-1.5 2.6 0 2.5 1.3 2.5 1.9 2.5 1.9 2.5 1.1 2.5 0 2.6-1.2 2.5-2.3 2.5-2.7 2.5-2.4 2.5-1.6 2.5-0.4 2.6 1.1 2.5 2.7 2.5 3.9 2.5 4.9 2.5 5.1 2.5 4.5 2.6 3.2 2.5 1.6 2.5-0.4 2.5-2.1 2.5-3.4 2.5-4.1 2.6-4 2.5-3.2 2.5-1.8 2.5 0 2.5 1.9 2.5 3.7 2.6 4.7 2.5 5.1 2.5 4.5 2.5 3.1 2.5 1.1 2.5-1.1 2.6-3.2 2.5-4.8 2.5-5.6 2.5-5.6 2.5-4.6 2.5-2.8 2.6-0.4 2.5 2 2.5 4.3 2.5 6 2.5 6.7 2.5 6.3 2.6 4.8 2.5 2.3 2.5-0.7 2.5-4 2.5-6.6 2.5-8 2.6-8.2 2.5-6.9 2.5-4.6 2.5-1.8 2.5 1.2 2.5 4 2.6 5.7 2.5 6 2.5 4.4 2.5 2 2.5-0.8 2.5-3.2 2.6-4.9 2.5-5.6 2.5-4.9 2.5-3.2 2.5-1.1 2.5 1.2 2.6 3.3 2.5 5.1 2.5 6.6 2.5 7 2.5 6.7 2.5 5.1 2.6 2.9 2.5 0 2.5-3 2.5-5.7 2.5-7.7 2.5-8.7 2.6-8.3 2.5-6.8 2.5-4.1 2.5-0.8 2.5 2.6 2.5 5.1 2.6 6.9 2.5 7.3 2.5 6.6 2.5 4.8 2.5 2.5 2.5 0.3 2.6-1.8 2.5-3 2.5-3.3 2.5-2.9 2.5-1.8 2.5-0.4 2.6 1.1 2.5 2.2 2.5 2.7 2.5 2.7 2.5 1.8 2.5 0.1 2.6-2.1 2.5-4.1 2.5-5.3 2.5-5.6 2.5-5.2 2.5-4.2 2.6-2.8 2.5-0.8 2.5 1.3"/><path d="M32.7,954.1l2.5-3 2.5-3.6 2.6-3.5 2.5-3 2.5-2 2.5-1.1 2.5-0.2 2.5 0.6 2.6 0.9 2.5 1.3 2.5 1.6 2.5 1.7 2.5 1.7 2.5 1.6 2.6 1.4 2.5 1.2 2.5 1 2.5 1.1 2.5 1 2.5 1 2.6 0.9 2.5 0.8 2.5 0.6 2.5 0.6 2.5 0.4 2.5 0.4 2.6 0.3 2.5 0.2 2.5 0.3 2.5 0.2 2.5 0.5 2.5 0.6 2.6 0.8 2.5 0.8 2.5 0.6 2.5 0.3 2.5-0.2 2.5-0.7 2.6-1.1 2.5-1.4 2.5-1.7 2.5-1.5 2.5-1.3 2.5-0.7 2.6 0 2.5 0.8 2.5 1.6 2.5 2.5 2.5 3 2.5 2.9 2.6 2.4 2.5 1.2 2.5-0.4 2.5-2.4 2.5-4 2.5-5 2.6-5 2.5-4.4 2.5-3.1 2.5-1.6 2.5-0.1 2.5 1.4 2.6 2.3 2.5 2.1 2.5 0.6 2.5-1.3 2.5-2.8 2.5-3.7 2.6-3.6 2.5-2.8 2.5-0.9 2.5 1.3 2.5 3.2 2.5 4.4 2.6 4.9 2.5 4.9 2.5 4.8 2.5 4.1 2.5 3.1 2.5 1.7 2.6 0.1 2.5-1.6 2.5-3.1 2.5-4.6 2.5-5.5 2.5-5.8 2.6-5.5 2.5-4.5 2.5-2.8 2.5-0.7 2.5 1.2 2.5 2.8 2.6 3.6 2.5 3.9 2.5 3.6 2.5 2.8 2.5 2 2.5 1.3 2.6 1.1 2.5 1 2.5 1.4 2.5 1.8 2.5 2.1 2.5 2 2.6 1.5 2.5 0.5 2.5-0.8 2.5-2.1 2.5-3.6 2.5-5.2 2.6-6.4 2.5-6.6 2.5-5.9 2.5-3.8 2.5-1.5 2.5 0.6 2.6 2.2 2.5 3.6 2.5 4.3"/><path d="M32.7,954.1l2.5-4.3 2.5-3.6 2.6-3 2.5-2.5 2.5-1.9 2.5-1.3 2.5-0.8 2.5-0.2 2.6 0.4 2.5 0.9 2.5 1.5 2.5 1.9 2.5 2.1 2.5 2.1 2.6 1.8 2.5 1.3 2.5 0.8 2.5 0.2 2.5-0.4 2.5-0.8 2.6-1.1 2.5-1.2 2.5-1 2.5-0.7 2.5-0.1 2.5 0.4 2.6 0.9 2.5 1.3 2.5 1.6 2.5 1.6 2.5 1.5 2.5 1.3 2.6 0.9 2.5 0.4 2.5-0.1 2.5-0.7 2.5-1.1 2.5-1.4 2.6-1.6 2.5-1.5 2.5-1.4 2.5-1.1 2.5-0.7 2.5-0.2 2.6 0.4 2.5 0.8 2.5 1.4 2.5 1.8 2.5 2 2.5 2.1 2.6 1.7 2.5 1.1 2.5 0.2 2.5-1 2.5-2 2.5-2.6 2.6-3 2.5-2.9 2.5-2.4 2.5-1.9 2.5-1 2.5-0.1 2.6 0.6 2.5 0.8 2.5 0.5 2.5 0 2.5-0.4 2.5-0.5 2.6-0.5 2.5 0 2.5 0.5 2.5 1.4 2.5 1.7 2.5 1.8 2.6 1.6 2.5 1.2 2.5 0.9 2.5 0.5 2.5 0.1 2.5-0.3 2.6-0.6 2.5-0.8 2.5-1 2.5-1.3 2.5-1.3 2.5-1.3 2.6-1.2 2.5-0.8 2.5-0.4 2.5 0.1 2.5 0.6 2.5 0.7 2.6 0.7 2.5 0.5 2.5 0.3 2.5-0.1 2.5-0.2 2.5-0.1 2.6 0.2 2.5 0.8 2.5 1.4 2.5 1.9 2.5 2.2 2.5 2.2 2.6 1.8 2.5 1.1 2.5 0.2 2.5-1 2.5-1.9 2.5-3 2.6-3.8 2.5-4 2.5-3.6 2.5-2.6 2.5-1.3 2.5-0.2 2.6 0.8 2.5 1.5 2.5 2.1"/><path d="M32.7,954.1l2.5-2 2.5-2.2 2.6-2.7 2.5-2.9 2.5-3.2 2.5-3.1 2.5-2.9 2.5-2.2 2.6-1.4 2.5-0.3 2.5 1 2.5 2.4 2.5 3.5 2.5 4.1 2.6 4.4 2.5 4 2.5 3.5 2.5 2.6 2.5 1.5 2.5 0.4 2.6-0.8 2.5-1.6 2.5-2 2.5-2.1 2.5-1.8 2.5-1 2.6-0.2 2.5 0.6 2.5 1.5 2.5 2.2 2.5 2.7 2.5 2.8 2.6 2.7 2.5 2.1 2.5 1.3 2.5 0.1 2.5-0.9 2.5-1.9 2.6-2.7 2.5-3 2.5-3.1 2.5-2.8 2.5-2 2.5-1.1 2.6 0 2.5 1.2 2.5 2.4 2.5 3.4 2.5 4 2.5 4 2.6 3.4 2.5 2.1 2.5 0.4 2.5-1.9 2.5-3.8 2.5-5.2 2.6-5.7 2.5-5.4 2.5-4.4 2.5-3.2 2.5-1.7 2.5 0 2.6 1.3 2.5 1.7 2.5 0.8 2.5-0.4 2.5-1.2 2.5-1.6 2.6-1.4 2.5-0.6 2.5 0.8 2.5 2.4 2.5 3.2 2.5 3.5 2.6 3.1 2.5 2.5 2.5 1.9 2.5 1.3 2.5 0.9 2.5 0.3 2.6-0.2 2.5-0.6 2.5-1.2 2.5-1.7 2.5-2.3 2.5-2.7 2.6-3 2.5-2.9 2.5-2.4 2.5-1.7 2.5-0.8 2.5-0.1 2.6 0.3 2.5 0.7 2.5 0.9 2.5 1.1 2.5 1.5 2.5 2.2 2.6 2.9 2.5 3.8 2.5 4.6 2.5 4.9 2.5 4.7 2.5 3.7 2.6 2.1 2.5 0 2.5-2.3 2.5-4.5 2.5-6.3 2.5-7.9 2.6-8.7 2.5-8.4 2.5-6.6 2.5-3.7 2.5-0.5 2.5 2.1 2.6 4.3 2.5 5.6 2.5 6.3"/><path d="M32.7,954.1l2.5-3.3 2.5-1.4 2.6 0 2.5 0.6 2.5 0.7 2.5 0 2.5-0.9 2.5-1.8 2.6-2.4 2.5-2.6 2.5-2.1 2.5-1.1 2.5 0.3 2.5 1.8 2.6 2.9 2.5 3.7 2.5 4 2.5 3.5 2.5 2.6 2.5 1.3 2.6-0.2 2.5-1.5 2.5-2.3 2.5-2.5 2.5-2.4 2.5-1.5 2.6-0.6 2.5 0.4 2.5 1.2 2.5 1.7 2.5 1.9 2.5 1.5 2.6 1 2.5 0.3 2.5-0.2 2.5-0.8 2.5-0.8 2.5-0.7 2.6-0.3 2.5 0.2 2.5 0.5 2.5 0.6 2.5 0.5 2.5 0.1 2.6-0.5 2.5-1.1 2.5-1.4 2.5-1.3 2.5-1 2.5-0.4 2.6 0.5 2.5 1.2 2.5 1.8 2.5 1.9 2.5 1.6 2.5 0.9 2.6 0.1 2.5-0.9 2.5-1.8 2.5-2.6 2.5-2.9 2.5-2.8 2.6-2.2 2.5-1.7 2.5-1 2.5-0.6 2.5 0 2.5 0.7 2.6 1.1 2.5 1.5 2.5 1.7 2.5 1.9 2.5 1.6 2.5 1.3 2.6 0.9 2.5 0.7 2.5 0.6 2.5 0.6 2.5 0.8 2.5 0.5 2.6 0.3 2.5-0.4 2.5-1.1 2.5-2 2.5-2.6 2.5-3.1 2.6-2.8 2.5-2.3 2.5-1 2.5 0.4 2.5 1.7 2.5 2.8 2.6 3.3 2.5 3.1 2.5 2.3 2.5 1.1 2.5-0.2 2.5-1.3 2.6-2 2.5-2 2.5-1.5 2.5-0.5 2.5 0.6 2.5 1.7 2.6 2.5 2.5 2.7 2.5 2.3 2.5 1.4 2.5-0.1 2.5-1.7 2.6-3.2 2.5-4.3 2.5-4.3 2.5-3.7 2.5-2.3 2.5-0.9 2.6 0.6 2.5 1.8 2.5 2.6"/><path d="M32.7,954.1l2.5-3.3 2.5-3.7 2.6-3.7 2.5-3.1 2.5-2.3 2.5-1 2.5 0.2 2.5 1.3 2.6 2.3 2.5 2.9 2.5 3 2.5 2.9 2.5 2.4 2.5 1.4 2.6 0.3 2.5-0.8 2.5-1.5 2.5-2.1 2.5-2.1 2.5-1.8 2.6-1.2 2.5-0.1 2.5 0.9 2.5 1.9 2.5 2.7 2.5 3.3 2.6 3.2 2.5 2.8 2.5 2 2.5 0.8 2.5-0.3 2.5-1.4 2.6-2.3 2.5-2.8 2.5-3 2.5-2.6 2.5-2 2.5-1.1 2.6 0.1 2.5 1 2.5 2 2.5 2.4 2.5 2.6 2.5 2.3 2.6 1.8 2.5 1 2.5 0.2 2.5-0.5 2.5-1.1 2.5-1.5 2.6-1.8 2.5-1.8 2.5-1.8 2.5-1.7 2.5-1.5 2.5-0.9 2.6-0.3 2.5 0.4 2.5 1 2.5 1.1 2.5 1.1 2.5 1 2.6 0.4 2.5-0.5 2.5-1.9 2.5-3 2.5-3.7 2.5-3.6 2.6-2.7 2.5-1.5 2.5 0.4 2.5 2.2 2.5 3.5 2.5 4.1 2.6 4.2 2.5 3.6 2.5 2.9 2.5 1.9 2.5 0.9 2.5-0.2 2.6-1.1 2.5-1.9 2.5-2.3 2.5-2.7 2.5-2.8 2.5-2.6 2.6-2.3 2.5-1.7 2.5-1.1 2.5-0.2 2.5 0.5 2.5 1 2.6 1.3 2.5 1.3 2.5 1.3 2.5 1.1 2.5 1.2 2.5 1.3 2.6 1.5 2.5 1.7 2.5 2.1 2.5 2.1 2.5 1.8 2.5 1.2 2.6 0.2 2.5-0.8 2.5-2 2.5-2.9 2.5-3.7 2.5-4.1 2.6-4.2 2.5-3.5 2.5-2.3 2.5-0.5 2.5 1.2 2.5 2.4 2.6 3.2 2.5 3.3 2.5 3"/><path d="M32.7,954.1l2.5-2.7 2.5-4 2.6-4 2.5-3 2.5-1.4 2.5 0.3 2.5 1.7 2.5 2.6 2.6 2.9 2.5 2.8 2.5 2.4 2.5 1.6 2.5 0.9 2.5-0.1 2.6-0.7 2.5-1.1 2.5-1 2.5-0.6 2.5 0.3 2.5 1.1 2.6 2 2.5 2.7 2.5 3.1 2.5 3.1 2.5 2.8 2.5 2.1 2.6 1.1 2.5-0.1 2.5-1.1 2.5-2 2.5-2.4 2.5-2.3 2.6-1.8 2.5-1.1 2.5 0 2.5 0.8 2.5 1.5 2.5 2.1 2.6 2.2 2.5 1.9 2.5 1.2 2.5 0.2 2.5-0.8 2.5-1.6 2.6-2.3 2.5-2.4 2.5-2.1 2.5-1.2 2.5 0 2.5 1.2 2.6 2.2 2.5 2.6 2.5 2.5 2.5 1.4 2.5 0.2 2.5-1.1 2.6-2.1 2.5-2.9 2.5-3.4 2.5-3.7 2.5-3.5 2.5-2.9 2.6-2.1 2.5-1.9 2.5-2 2.5-2.4 2.5-1.9 2.5-1 2.6 0.3 2.5 2 2.5 3.6 2.5 5.1 2.5 5.5 2.5 4.8 2.6 3.4 2.5 1.7 2.5 0.3 2.5-0.7 2.5-1.5 2.5-1.7 2.6-1.7 2.5-1.4 2.5-1 2.5-0.8 2.5-0.8 2.5-1 2.6-1.3 2.5-1.5 2.5-1.7 2.5-1.5 2.5-1.4 2.5-1.3 2.6-1.1 2.5-0.7 2.5-0.2 2.5 0.5 2.5 1.5 2.5 2.8 2.6 4.1 2.5 5.2 2.5 5.9 2.5 6 2.5 5.3 2.5 3.5 2.6 1.3 2.5-1.4 2.5-4.1 2.5-6.2 2.5-7.8 2.5-8.8 2.6-8.8 2.5-7.5 2.5-5 2.5-1.5 2.5 1.8 2.5 4.4 2.6 6 2.5 6.4 2.5 6.1"/><path d="M32.7,954.1l2.5-3.5 2.5-5.8 2.6-6 2.5-4.4 2.5-1.9 2.5 0.2 2.5 1 2.5 0.5 2.6-1 2.5-2.2 2.5-2.4 2.5-1 2.5 1.6 2.5 4.6 2.6 7 2.5 7.9 2.5 6.8 2.5 3.9 2.5 0.1 2.5-3.6 2.6-6 2.5-6 2.5-4 2.5-0.3 2.5 3.7 2.5 6.7 2.6 7.5 2.5 6.1 2.5 2.9 2.5-0.9 2.5-4 2.5-5.5 2.6-4.9 2.5-2.5 2.5 0.7 2.5 3.3 2.5 4.7 2.5 4.1 2.6 2 2.5-1.1 2.5-3.9 2.5-5.5 2.5-5.2 2.5-3.2 2.6-0.1 2.5 3 2.5 5.1 2.5 5.6 2.5 4.6 2.5 2.3 2.6-0.4 2.5-2.5 2.5-3.5 2.5-3.6 2.5-2.7 2.5-1.3 2.6-0.3 2.5-0.4 2.5-1.6 2.5-3.5 2.5-5.2 2.5-5.3 2.6-4 2.5-2.1 2.5-0.1 2.5 1.5 2.5 2.6 2.5 2.7 2.6 1.4 2.5-0.5 2.5-2.1 2.5-2.4 2.5-1.7 2.5 0.1 2.6 3 2.5 6.1 2.5 8.6 2.5 9.3 2.5 7.7 2.5 4.1 2.6-0.4 2.5-4.8 2.5-7.8 2.5-8.9 2.5-8.3 2.5-5.9 2.6-3.3 2.5-0.9 2.5 0.5 2.5 0.9 2.5 0.4 2.5-0.4 2.6-0.7 2.5 0.2 2.5 1.9 2.5 3.9 2.5 5.9 2.5 6.7 2.6 6.2 2.5 4.2 2.5 1.6 2.5-0.8 2.5-2.4 2.5-2.4 2.6-1.3 2.5 0.6 2.5 2.2 2.5 2.6 2.5 1 2.5-2.6 2.6-7.3 2.5-11.1 2.5-12.6 2.5-10.9 2.5-6.7 2.5-1.2 2.6 4.5 2.5 9.1 2.5 11.4"/><path d="M32.7,954.1l2.5-2.3 2.5-3.2 2.6-3.7 2.5-3.7 2.5-3.2 2.5-2.2 2.5-1.4 2.5-0.7 2.6-0.5 2.5-0.4 2.5 0 2.5 0.7 2.5 1.9 2.5 3.1 2.6 4.3 2.5 4.8 2.5 4.8 2.5 4 2.5 2.5 2.5 0.7 2.6-0.8 2.5-1.7 2.5-1.8 2.5-1.2 2.5-0.3 2.5 0.7 2.6 1.1 2.5 1.1 2.5 0.8 2.5 0.6 2.5 0.6 2.5 1.1 2.6 1.6 2.5 2.1 2.5 2.1 2.5 1.3 2.5 0 2.5-1.4 2.6-2.8 2.5-3.6 2.5-3.5 2.5-2.8 2.5-1.4 2.5 0.1 2.6 1.3 2.5 2 2.5 2.3 2.5 2.5 2.5 2.6 2.5 2.3 2.6 2.2 2.5 1.8 2.5 0.7 2.5-1.1 2.5-3.2 2.5-4.9 2.6-6.1 2.5-6.3 2.5-5.5 2.5-3.9 2.5-1.7 2.5 0.9 2.6 2.5 2.5 2.6 2.5 0.7 2.5-2 2.5-3.9 2.5-4.8 2.6-4.1 2.5-2.2 2.5 1 2.5 4.3 2.5 6.4 2.5 6.9 2.6 6 2.5 4.4 2.5 2.9 2.5 1.7 2.5 0.9 2.5 0.3 2.6 0 2.5-0.7 2.5-1.7 2.5-3.3 2.5-4.8 2.5-5.9 2.6-6.1 2.5-5.4 2.5-3.6 2.5-1 2.5 1.1 2.5 2.6 2.6 3 2.5 2.8 2.5 2 2.5 1.2 2.5 1.2 2.5 1.9 2.6 3.2 2.5 4.5 2.5 5.5 2.5 5.7 2.5 4.8 2.5 3.1 2.6 0.8 2.5-1.5 2.5-3.6 2.5-5 2.5-6.2 2.5-7.3 2.6-8.4 2.5-8.4 2.5-7.4 2.5-4.9 2.5-1.8 2.5 1.2 2.6 3.9 2.5 6.1 2.5 7.4"/><path d="M32.7,954.1l2.5 0.5 2.5 1.7 2.6 2.5 2.5 2.6 2.5 1.9 2.5 0.5 2.5-1.1 2.5-2.8 2.6-4.1 2.5-4.7 2.5-4.3 2.5-3.2 2.5-1.5 2.5 0.6 2.6 2.7 2.5 4.6 2.5 6.3 2.5 7.3 2.5 7.5 2.5 7 2.6 5.5 2.5 3.7 2.5 1.6 2.5-0.7 2.5-2.7 2.5-4.1 2.6-5 2.5-5.2 2.5-4.7 2.5-3.5 2.5-1.8 2.5 0.2 2.6 2.2 2.5 3.9 2.5 5 2.5 5.3 2.5 4.9 2.5 4 2.6 2.4 2.5 0.6 2.5-1.3 2.5-3.1 2.5-4.4 2.5-5.1 2.6-5.1 2.5-4.3 2.5-2.8 2.5-0.8 2.5 1.4 2.5 3.2 2.6 4.5 2.5 4.8 2.5 4.2 2.5 2.5 2.5 0.4 2.5-1.5 2.6-3 2.5-3.9 2.5-4.4 2.5-4.6 2.5-4.2 2.5-3.3 2.6-2.6 2.5-2.4 2.5-3 2.5-3.8 2.5-3.8 2.5-2.7 2.6-1.2 2.5 1.1 2.5 3.8 2.5 6.3 2.5 7.5 2.5 7.6 2.6 6.4 2.5 4.8 2.5 3 2.5 1.4 2.5-0.1 2.5-1.6 2.6-2.5 2.5-3.3 2.5-3.7 2.5-4.1 2.5-4.4 2.5-4.3 2.6-3.9 2.5-3.3 2.5-2.2 2.5-0.7 2.5 0.5 2.5 1.5 2.6 2 2.5 2.4 2.5 2.4 2.5 2.4 2.5 2.5 2.5 2.9 2.6 3.4 2.5 4 2.5 4.5 2.5 4.6 2.5 4 2.5 2.7 2.6 0.7 2.5-1.6 2.5-4.1 2.5-6.1 2.5-7.8 2.5-8.8 2.6-9.2 2.5-8 2.5-5.5 2.5-1.8 2.5 2 2.5 4.7 2.6 6.5 2.5 7.1 2.5 6.8"/><path d="M32.7,954.1l2.5-2.1 2.5-1.7 2.6-0.9 2.5-0.2 2.5 0.3 2.5 0.8 2.5 0.9 2.5 0.9 2.6 0.8 2.5 0.6 2.5 0.6 2.5 0.4 2.5 0.4 2.5 0.3 2.6 0.1 2.5 0 2.5 0.1 2.5 0.2 2.5 0.3 2.5 0.6 2.6 0.6 2.5 1 2.5 1.1 2.5 1.3 2.5 1.4 2.5 1.5 2.6 1.3 2.5 1 2.5 0.6 2.5 0.2 2.5-0.2 2.5-0.7 2.6-0.9 2.5-1.2 2.5-1.4 2.5-1.3 2.5-1.2 2.5-0.9 2.6-0.5 2.5 0 2.5 0.4 2.5 0.9 2.5 1.2 2.5 1.4 2.6 1.5 2.5 1.3 2.5 1.2 2.5 1 2.5 0.7 2.5 0.2 2.6-0.5 2.5-1.1 2.5-1.8 2.5-2.5 2.5-3 2.5-3 2.6-2.4 2.5-1.6 2.5-0.5 2.5 0.4 2.5 1.3 2.5 2 2.6 2.2 2.5 1.6 2.5 0.4 2.5-1.2 2.5-2.4 2.5-3 2.6-3.1 2.5-2.6 2.5-1.3 2.5 0.1 2.5 1.3 2.5 2.3 2.6 2.7 2.5 3 2.5 3.1 2.5 2.9 2.5 2.6 2.5 1.9 2.6 1.1 2.5 0.2 2.5-0.7 2.5-1.8 2.5-2.8 2.5-3.4 2.6-3.7 2.5-3.6 2.5-3.1 2.5-2.2 2.5-1 2.5-0.1 2.6 0.9 2.5 1.5 2.5 2.1 2.5 2.4 2.5 2.5 2.5 2.8 2.6 2.9 2.5 2.8 2.5 2.8 2.5 2.6 2.5 1.9 2.5 0.9 2.6-0.1 2.5-1.5 2.5-2.7 2.5-3.6 2.5-4.5 2.5-4.9 2.6-5 2.5-4.3 2.5-3 2.5-1.1 2.5 0.9 2.5 2.4 2.6 3.4 2.5 4 2.5 4.1"/><path d="M32.7,954.1l2.5-1.3 2.5 0.1 2.6 0.8 2.5 0.4 2.5-0.4 2.5-1.8 2.5-3 2.5-3.7 2.6-3.6 2.5-2.6 2.5-0.9 2.5 1.4 2.5 3.6 2.5 5.2 2.6 6 2.5 5.9 2.5 5 2.5 3.3 2.5 1.3 2.5-0.9 2.6-2.7 2.5-3.8 2.5-4 2.5-3.3 2.5-1.6 2.5 0.3 2.6 2.3 2.5 4 2.5 4.9 2.5 5 2.5 4.3 2.5 2.8 2.6 0.8 2.5-1.4 2.5-3.2 2.5-4.6 2.5-5.1 2.5-4.6 2.6-3.4 2.5-1.5 2.5 0.5 2.5 2.3 2.5 3.7 2.5 4.3 2.6 4.1 2.5 3.3 2.5 1.9 2.5 0.5 2.5-0.9 2.5-2 2.6-2.8 2.5-3 2.5-3 2.5-2.8 2.5-2.2 2.5-1.3 2.6-0.2 2.5 0.7 2.5 1.2 2.5 1 2.5 0.4 2.5-0.3 2.6-1.3 2.5-2.6 2.5-4.4 2.5-5.6 2.5-5.6 2.5-4.2 2.6-2 2.5 0.8 2.5 3.8 2.5 6.3 2.5 7.4 2.5 7.1 2.6 5.4 2.5 3.4 2.5 1.1 2.5-0.6 2.5-1.9 2.5-2.5 2.6-2.6 2.5-2.1 2.5-1.4 2.5-0.9 2.5-0.6 2.5-0.8 2.6-1.1 2.5-1.8 2.5-2.2 2.5-2.5 2.5-2.4 2.5-2.3 2.6-1.6 2.5-0.7 2.5 0.6 2.5 1.9 2.5 3.6 2.5 5 2.6 6.1 2.5 6.5 2.5 6.3 2.5 5.1 2.5 3.3 2.5 0.7 2.6-1.9 2.5-4.3 2.5-6.2 2.5-7.1 2.5-7.2 2.5-6.6 2.6-5.6 2.5-3.7 2.5-1.3 2.5 1.4 2.5 3.3 2.5 4.1 2.6 3.8 2.5 2.9 2.5 1.7"/><path d="M32.7,954.1l2.5-3 2.5-3.3 2.6-3.9 2.5-4.3 2.5-4.1 2.5-3.4 2.5-2 2.5-0.5 2.6 1 2.5 2.3 2.5 3.1 2.5 3.5 2.5 3.1 2.5 2.3 2.6 1.2 2.5 0.3 2.5-0.1 2.5-0.1 2.5 0.2 2.5 0.9 2.6 1.5 2.5 1.9 2.5 2 2.5 1.7 2.5 1.2 2.5 0.4 2.6-0.3 2.5-0.9 2.5-1.1 2.5-0.7 2.5 0 2.5 1 2.6 1.7 2.5 2.2 2.5 2 2.5 1.3 2.5 0 2.5-1.2 2.6-2.5 2.5-3.2 2.5-3.3 2.5-2.9 2.5-1.6 2.5 0 2.6 1.6 2.5 2.9 2.5 3.8 2.5 4.2 2.5 3.7 2.5 2.4 2.6 0.8 2.5-1.1 2.5-2.9 2.5-4.5 2.5-5.3 2.5-4.9 2.6-3.8 2.5-2.2 2.5-0.5 2.5 0.6 2.5 1.2 2.5 1.5 2.6 1 2.5-0.4 2.5-2.4 2.5-4.4 2.5-5 2.5-4.5 2.6-2.8 2.5-0.6 2.5 2.3 2.5 4.7 2.5 6 2.5 5.9 2.6 4.9 2.5 3.4 2.5 2 2.5 1.1 2.5 0.4 2.5 0 2.6-0.1 2.5-0.4 2.5-0.8 2.5-1.7 2.5-2.8 2.5-4.1 2.6-5 2.5-5.4 2.5-4.8 2.5-3.4 2.5-1.5 2.5 0.6 2.6 2.5 2.5 4 2.5 4.7 2.5 4.7 2.5 4.2 2.5 3.3 2.6 2.4 2.5 1.6 2.5 1.3 2.5 1.2 2.5 1.2 2.5 1.4 2.6 1.1 2.5 0.7 2.5-0.3 2.5-1.7 2.5-3.4 2.5-5.5 2.6-7.5 2.5-8.2 2.5-7.6 2.5-5.5 2.5-2.5 2.5 0.5 2.6 3.2 2.5 5.3 2.5 6.7"/><path d="M32.7,954.1l2.5-2 2.5 2.5 2.6 4 2.5 2.3 2.5-1.4 2.5-5.1 2.5-7.1 2.5-6.2 2.6-2.9 2.5 1.6 2.5 5.6 2.5 7.5 2.5 6.8 2.5 3.7 2.6-0.5 2.5-4.1 2.5-5.6 2.5-4.7 2.5-1.5 2.5 2.4 2.6 5.8 2.5 7 2.5 5.7 2.5 2.2 2.5-2.3 2.5-6.1 2.6-7.8 2.5-6.7 2.5-3.2 2.5 1.5 2.5 5.7 2.5 7.9 2.6 7.3 2.5 4.3 2.5-0.2 2.5-4.4 2.5-6.8 2.5-6.5 2.6-3.8 2.5 0.2 2.5 4 2.5 6.1 2.5 5.6 2.5 2.9 2.6-1.2 2.5-5 2.5-6.9 2.5-6.2 2.5-2.9 2.5 1.5 2.6 5.7 2.5 8 2.5 7.5 2.5 4.2 2.5-0.7 2.5-5.3 2.6-8.2 2.5-8.3 2.5-5.7 2.5-1.3 2.5 3.2 2.5 6.2 2.6 6.6 2.5 4.2 2.5-0.1 2.5-4.7 2.5-7.6 2.5-7.7 2.6-4.9 2.5-0.4 2.5 4.7 2.5 8.3 2.5 9 2.5 6.9 2.6 2.5 2.5-2.3 2.5-5.8 2.5-6.8 2.5-5.3 2.5-1.7 2.6 2.3 2.5 5.3 2.5 5.9 2.5 4 2.5 0.1 2.5-4 2.6-7.1 2.5-7.5 2.5-5.4 2.5-1.1 2.5 3.6 2.5 7 2.6 7.9 2.5 6.1 2.5 2 2.5-2.6 2.5-6.3 2.5-7.4 2.6-5.6 2.5-1.8 2.5 3.2 2.5 7 2.5 8.5 2.5 7.2 2.6 3.4 2.5-1.4 2.5-5.6 2.5-7.7 2.5-7 2.5-4.3 2.6-0.5 2.5 3.1 2.5 4.7 2.5 4.3 2.5 1.6 2.5-2.1 2.6-5.2 2.5-6.3 2.5-4.9"/><path d="M32.7,954.1l2.5-4 2.5-4.3 2.6-3.8 2.5-2.9 2.5-1.7 2.5-0.7 2.5 0 2.5 0.1 2.6 0.1 2.5-0.2 2.5-0.1 2.5 0.2 2.5 0.9 2.5 1.7 2.6 2.6 2.5 3.2 2.5 3.5 2.5 3.2 2.5 2.2 2.5 0.9 2.6-0.8 2.5-2 2.5-3 2.5-3.1 2.5-2.5 2.5-1.3 2.6 0.2 2.5 1.6 2.5 2.7 2.5 3.2 2.5 3 2.5 2.3 2.6 1.2 2.5 0.1 2.5-0.8 2.5-1.5 2.5-1.6 2.5-1.3 2.6-0.8 2.5-0.3 2.5 0 2.5 0 2.5-0.4 2.5-0.8 2.6-1.2 2.5-1.3 2.5-0.9 2.5 0 2.5 1.1 2.5 2.4 2.6 3 2.5 3.3 2.5 2.5 2.5 1.1 2.5-0.9 2.5-2.7 2.6-3.9 2.5-4.6 2.5-4.3 2.5-3.4 2.5-2 2.5-0.3 2.6 1.1 2.5 1.7 2.5 1.1 2.5-0.2 2.5-1.3 2.5-2.1 2.6-2.4 2.5-1.8 2.5-0.4 2.5 1.6 2.5 3.4 2.5 4.5 2.6 5 2.5 4.5 2.5 3.6 2.5 2 2.5 0.2 2.5-1.7 2.6-3.1 2.5-4 2.5-4 2.5-3.6 2.5-2.7 2.5-1.5 2.6-0.5 2.5 0.4 2.5 1 2.5 1.2 2.5 1 2.5 0.7 2.6 0.3 2.5 0.1 2.5 0.1 2.5 0.5 2.5 0.9 2.5 1.6 2.6 2 2.5 2.1 2.5 2.1 2.5 1.6 2.5 0.8 2.5 0.1 2.6-0.6 2.5-1.1 2.5-1.3 2.5-1.2 2.5-1.2 2.5-1.4 2.6-1.8 2.5-2.3 2.5-2.5 2.5-2.3 2.5-1.9 2.5-1.6 2.6-0.9 2.5 0 2.5 1"/><path d="M32.7,954.1l2.5-4.4 2.5-3.4 2.6-4.3 2.5-5.8 2.5-7 2.5-7.3 2.5-6.5 2.5-4.7 2.6-1.9 2.5 1.3 2.5 4.2 2.5 6.6 2.5 7.8 2.5 7.8 2.6 6.5 2.5 4.2 2.5 1.3 2.5-1.7 2.5-4.2 2.5-5.9 2.6-6.7 2.5-6.2 2.5-4.7 2.5-2.6 2.5-0.1 2.5 2.2 2.6 4.1 2.5 5.2 2.5 5.3 2.5 4.8 2.5 3.6 2.5 2.1 2.6 0.4 2.5-1.1 2.5-2.1 2.5-2.8 2.5-3.1 2.5-2.8 2.6-2.5 2.5-1.9 2.5-1.4 2.5-1 2.5-0.5 2.5 0 2.6 0.5 2.5 1.2 2.5 1.9 2.5 2.7 2.5 3.3 2.5 3.7 2.6 3.5 2.5 2.7 2.5 1.3 2.5-0.7 2.5-2.7 2.5-4.6 2.6-5.9 2.5-6.4 2.5-5.9 2.5-4.7 2.5-2.5 2.5 0.2 2.6 2.8 2.5 4.9 2.5 6.1 2.5 6.1 2.5 5.2 2.5 3.6 2.6 1.4 2.5-1.1 2.5-3.1 2.5-4.8 2.5-5.6 2.5-5.6 2.6-4.7 2.5-2.8 2.5-0.5 2.5 2 2.5 4.4 2.5 5.8 2.6 6.4 2.5 5.9 2.5 4.4 2.5 2.1 2.5-0.4 2.5-2.8 2.6-4.8 2.5-5.8 2.5-5.9 2.5-5 2.5-3.6 2.5-1.7 2.6 0.1 2.5 1.6 2.5 2.7 2.5 3.3 2.5 3.4 2.5 3.3 2.6 2.8 2.5 2.4 2.5 2 2.5 1.7 2.5 1.3 2.5 0.8 2.6 0.2 2.5-0.7 2.5-1.8 2.5-2.9 2.5-3.9 2.5-4.8 2.6-5.1 2.5-4.9 2.5-3.6 2.5-1.6 2.5 0.8 2.5 3.1 2.6 5 2.5 6.2 2.5 6.7"/><path d="M32.7,954.1l2.5-2.8 2.5-2.2 2.6-1.7 2.5-1.3 2.5-0.8 2.5-0.7 2.5-0.5 2.5-0.3 2.6-0.2 2.5 0 2.5 0.5 2.5 1 2.5 1.5 2.5 1.6 2.6 1.7 2.5 1.6 2.5 1.2 2.5 0.9 2.5 0.5 2.5 0.2 2.6-0.1 2.5-0.2 2.5-0.1 2.5 0 2.5 0.2 2.5 0.3 2.6 0.5 2.5 0.4 2.5 0.4 2.5 0.4 2.5 0.4 2.5 0.4 2.6 0.4 2.5 0.4 2.5 0.3 2.5 0.1 2.5-0.3 2.5-0.5 2.6-0.8 2.5-1 2.5-0.9 2.5-0.8 2.5-0.5 2.5-0.1 2.6 0.4 2.5 0.7 2.5 1 2.5 1.2 2.5 1.2 2.5 1.1 2.6 0.8 2.5 0.3 2.5-0.4 2.5-1.1 2.5-1.7 2.5-2.1 2.6-2.1 2.5-1.8 2.5-1.5 2.5-1.1 2.5-0.5 2.5 0 2.6 0.5 2.5 0.3 2.5-0.2 2.5-1.1 2.5-1.5 2.5-1.7 2.6-1.5 2.5-0.9 2.5 0.2 2.5 1.4 2.5 2.2 2.5 2.8 2.6 2.8 2.5 2.6 2.5 2.2 2.5 1.8 2.5 1 2.5 0.2 2.6-0.5 2.5-1.3 2.5-1.8 2.5-2.2 2.5-2.5 2.5-2.4 2.6-2.1 2.5-1.7 2.5-1.1 2.5-0.4 2.5 0.3 2.5 0.7 2.6 1 2.5 1.2 2.5 1.2 2.5 1.2 2.5 1.2 2.5 1.2 2.6 1.4 2.5 1.5 2.5 1.6 2.5 1.7 2.5 1.5 2.5 1.2 2.6 0.6 2.5-0.2 2.5-0.9 2.5-1.7 2.5-2.5 2.5-3.3 2.6-3.9 2.5-3.9 2.5-3.3 2.5-2.1 2.5-0.5 2.5 0.6 2.6 1.7 2.5 2.4 2.5 2.8"/><path d="M32.7,954.1l2.5-4.3 2.5-8.2 2.6-8.9 2.5-5.7 2.5-0.4 2.5 3.8 2.5 4.7 2.5 1.9 2.6-2.5 2.5-6.1 2.5-6.5 2.5-3.1 2.5 2.6 2.5 8.1 2.6 10.8 2.5 9.5 2.5 4.7 2.5-1.3 2.5-5.8 2.5-7.1 2.6-4.3 2.5 0.7 2.5 5.7 2.5 8 2.5 6.5 2.5 1.9 2.6-3.6 2.5-7.3 2.5-7.3 2.5-3.3 2.5 2.8 2.5 8.4 2.6 10.4 2.5 8 2.5 2 2.5-5.1 2.5-10 2.5-10.7 2.6-6.8 2.5-0.3 2.5 5.8 2.5 8.7 2.5 7.3 2.5 2.2 2.6-4 2.5-8.1 2.5-8 2.5-3.6 2.5 3.4 2.5 9.6 2.6 12 2.5 9.4 2.5 2.5 2.5-6.1 2.5-12.6 2.5-14.4 2.6-10.9 2.5-4.1 2.5 3.2 2.5 7.5 2.5 7.5 2.5 3.8 2.6-1.7 2.5-6.9 2.5-9.4 2.5-8.2 2.5-3.6 2.5 1.7 2.6 5.2 2.5 5.4 2.5 3.2 2.5 0 2.5-2.4 2.5-2.1 2.6 1 2.5 5.8 2.5 9.9 2.5 11.1 2.5 8.3 2.5 2.1 2.6-4.7 2.5-9.4 2.5-10.6 2.5-8 2.5-3.3 2.5 1.2 2.6 3 2.5 1.6 2.5-2.1 2.5-5.7 2.5-7.3 2.5-5.4 2.6-0.5 2.5 5.7 2.5 10.1 2.5 11 2.5 7.8 2.5 2.2 2.6-3.5 2.5-6.3 2.5-4.7 2.5 0.3 2.5 6.6 2.5 10.9 2.6 10.9 2.5 6.1 2.5-1.8 2.5-9.9 2.5-15.1 2.5-15.6 2.6-11.7 2.5-4.8 2.5 2 2.5 6.3 2.5 6.1 2.5 2.2 2.6-2.6 2.5-5.3 2.5-4.1"/></g>
<path d="M32.7,954.1l1.5-1.8 1.5-1.7 1.5-1.7 1.5-1.7 1.5-1.5 1.5-1.5 1.5-1.3 1.5-1.2 1.5-1 1.6-0.9 1.5-0.8 1.5-0.6 1.5-0.4 1.5-0.3 1.5-0.2 1.5 0.1 1.5 0.3 1.5 0.6 1.5 0.7 1.5 1.1 1.5 1.2 1.5 1.4 1.5 1.5 1.5 1.4 1.5 1.5 1.5 1.4 1.5 1.3 1.5 1.2 1.5 1.1 1.6 0.9 1.5 0.8 1.5 0.6 1.5 0.3 1.5 0.2 1.5 0.1 1.5-0.1 1.5-0.2 1.5-0.2 1.5-0.2 1.5-0.2 1.5-0.2 1.5 0 1.5 0.1 1.5 0.2 1.5 0.3 1.5 0.4 1.5 0.5 1.5 0.5 1.5 0.6 1.6 0.6 1.5 0.7 1.5 0.6 1.5 0.7 1.5 0.5 1.5 0.5 1.5 0.4 1.5 0.3 1.5 0.1 1.5 0 1.5-0.2 1.5-0.4 1.5-0.6 1.5-0.6 1.5-0.8 1.5-0.7 1.5-0.8 1.5-0.8 1.5-0.8 1.5-0.6 1.6-0.6 1.5-0.5 1.5-0.3 1.5-0.1 1.5 0.1 1.5 0.2 1.5 0.4 1.5 0.6 1.5 0.7 1.5 1 1.5 1.1 1.5 1.2 1.5 1.3 1.5 1.3 1.5 1.1 1.5 0.9 1.5 0.7 1.5 0.4 1.5-0.1 1.5-0.6 1.6-1.1 1.5-1.6 1.5-2 1.5-2.3 1.5-2.3 1.5-2.3 1.5-2.2 1.5-1.9 1.5-1.5 1.5-1.3 1.5-0.9 1.5-0.5 1.5-0.2 1.5 0.2 1.5 0.5 1.5 0.7 1.5 0.7 1.5 0.4 1.5 0 1.5-0.7 1.6-1.1 1.5-1.6 1.5-1.8 1.5-1.9 1.5-1.8 1.5-1.7 1.5-1.2 1.5-0.7 1.5-0.1 1.5 0.7 1.5 1.5 1.5 2 1.5 2.5 1.5 2.7 1.5 2.9 1.5 2.7 1.5 2.6 1.5 2.4 1.5 2.1 1.5 1.9 1.6 1.5 1.5 1.2 1.5 0.9 1.5 0.4 1.5 0 1.5-0.4 1.5-0.7 1.5-1.1 1.5-1.4 1.5-1.7 1.5-2 1.5-2.2 1.5-2.4 1.5-2.5 1.5-2.4 1.5-2.3 1.5-2.2 1.5-1.9 1.5-1.5 1.5-1.1 1.6-0.5 1.5-0.1 1.5 0.4 1.5 0.8 1.5 1 1.5 1.3 1.5 1.4 1.5 1.4 1.5 1.4 1.5 1.3 1.5 1.2 1.5 1.1 1.5 1 1.5 1 1.5 1 1.5 1.1 1.5 1.1 1.5 1.2 1.5 1.4 1.5 1.6 1.6 1.7 1.5 1.7 1.5 1.6 1.5 1.4 1.5 1.2 1.5 0.8 1.5 0.5 1.5-0.1 1.5-0.6 1.5-1.2 1.5-1.7 1.5-2.1 1.5-2.6 1.5-3.1 1.5-3.5 1.5-3.7 1.5-3.9 1.5-3.7 1.5-3.4 1.5-2.8 1.6-2 1.5-1.2 1.5-0.3 1.5 0.3 1.5 0.9 1.5 1.5 1.5 1.8 1.5 2.1 1.5 2.4 1.5 2.4" fill="none" stroke="#3874b2" stroke-width="1.0" clip-path="url(#cbd)"/>
<rect x="30.60" y="900.80" width="304.90" height="98.40" fill="none" stroke="#6e6e6e" stroke-width="1"/>
<text x="25.70" y="1000.90" font-size="6.50" text-anchor="end" fill="#111" textLength="8.59" lengthAdjust="spacingAndGlyphs">0.0</text>
<text x="25.70" y="988.15" font-size="6.50" text-anchor="end" fill="#111" textLength="8.59" lengthAdjust="spacingAndGlyphs">0.5</text>
<text x="25.70" y="975.40" font-size="6.50" text-anchor="end" fill="#111" textLength="8.59" lengthAdjust="spacingAndGlyphs">1.0</text>
<text x="25.70" y="962.65" font-size="6.50" text-anchor="end" fill="#111" textLength="8.59" lengthAdjust="spacingAndGlyphs">1.5</text>
<text x="25.70" y="949.90" font-size="6.50" text-anchor="end" fill="#111" textLength="8.59" lengthAdjust="spacingAndGlyphs">2.0</text>
<text x="25.70" y="937.15" font-size="6.50" text-anchor="end" fill="#111" textLength="8.59" lengthAdjust="spacingAndGlyphs">2.5</text>
<text x="25.70" y="924.40" font-size="6.50" text-anchor="end" fill="#111" textLength="8.59" lengthAdjust="spacingAndGlyphs">3.0</text>
<text x="25.70" y="911.65" font-size="6.50" text-anchor="end" fill="#111" textLength="8.59" lengthAdjust="spacingAndGlyphs">3.5</text>
<text x="47.80" y="1008.40" font-size="6.50" text-anchor="middle" fill="#111" textLength="10.31" lengthAdjust="spacingAndGlyphs">666</text>
<text x="92.80" y="1008.40" font-size="6.50" text-anchor="middle" fill="#111" textLength="10.31" lengthAdjust="spacingAndGlyphs">669</text>
<text x="137.80" y="1008.40" font-size="6.50" text-anchor="middle" fill="#111" textLength="10.31" lengthAdjust="spacingAndGlyphs">672</text>
<text x="182.80" y="1008.40" font-size="6.50" text-anchor="middle" fill="#111" textLength="10.31" lengthAdjust="spacingAndGlyphs">675</text>
<text x="227.80" y="1008.40" font-size="6.50" text-anchor="middle" fill="#111" textLength="10.31" lengthAdjust="spacingAndGlyphs">678</text>
<text x="272.80" y="1008.40" font-size="6.50" text-anchor="middle" fill="#111" textLength="10.31" lengthAdjust="spacingAndGlyphs">681</text>
<text x="317.80" y="1008.40" font-size="6.50" text-anchor="middle" fill="#111" textLength="10.31" lengthAdjust="spacingAndGlyphs">684</text>
<path d="M28.20,695.30H30.50M28.20,726.16H30.50M28.20,757.02H30.50M28.20,787.88H30.50M28.20,818.74H30.50M28.20,849.60H30.50M28.20,880.46H30.50M47.80,892.40V894.70M92.80,892.40V894.70M137.80,892.40V894.70M182.80,892.40V894.70M227.80,892.40V894.70M272.80,892.40V894.70M317.80,892.40V894.70M28.30,998.90H30.60M28.30,986.15H30.60M28.30,973.40H30.60M28.30,960.65H30.60M28.30,947.90H30.60M28.30,935.15H30.60M28.30,922.40H30.60M28.30,909.65H30.60M47.80,999.20V1001.50M92.80,999.20V1001.50M137.80,999.20V1001.50M182.80,999.20V1001.50M227.80,999.20V1001.50M272.80,999.20V1001.50M317.80,999.20V1001.50" fill="none" stroke="#6e6e6e" stroke-width="0.9"/>
<text x="183.05" y="1017.80" font-size="7.70" text-anchor="middle" fill="#111" textLength="68.00" lengthAdjust="spacingAndGlyphs">Calendar year (CE)</text>
<text transform="translate(7.40,793.50) rotate(-90)" font-size="8.4" text-anchor="middle" fill="#111" textLength="33.2" lengthAdjust="spacingAndGlyphs">Δ<tspan font-size="5.6" dy="-2.9">14</tspan><tspan dy="2.9">C (‰)</tspan></text>
<text transform="translate(11.50,950.00) rotate(-90)" font-size="8.1" text-anchor="middle" fill="#111" textLength="107" lengthAdjust="spacingAndGlyphs">Production rate (atoms/cm<tspan font-size="5.4" dy="-2.8">2</tspan><tspan dy="2.8">/s)</tspan></text>
<text x="327.90" y="708.60" font-size="11.00" text-anchor="end" fill="#1c1c1c" textLength="72.00" lengthAdjust="spacingAndGlyphs">d) 676 - 677 CE</text>
<line x1="35.00" y1="702.10" x2="47.90" y2="702.10" stroke="#3c7dc2" stroke-width="1.05"/>
<line x1="35.00" y1="713.40" x2="47.90" y2="713.40" stroke="#111" stroke-width="1"/>
<circle cx="41.60" cy="713.40" r="2.2" fill="#000"/>
<text x="52.00" y="704.50" font-size="6.80" text-anchor="start" fill="#111" textLength="78.00" lengthAdjust="spacingAndGlyphs">Brehm et al, 2021: 22-box</text>
<text x="52.60" y="715.30" font-size="6.8" fill="#111" textLength="39.3" lengthAdjust="spacingAndGlyphs">average Δ<tspan font-size="5.2" dy="-2.5">14</tspan><tspan dy="2.5">C</tspan></text>
<clipPath id="cte"><rect x="376.50" y="693.40" width="305.00" height="198.60"/></clipPath>
<clipPath id="cbe"><rect x="376.70" y="900.30" width="304.70" height="98.50"/></clipPath>
<path d="M378.7,836.3l1.5-0.1 1.5-0.1 1.5-0.2 1.5-0.3 1.5-0.4 1.5-0.5 1.5-0.7 1.5-0.9 1.5-0.9 1.5-1.1 1.5-1.2 1.5-1.4 1.5-1.4 1.5-1.4 1.5-1.4 1.5-1.4 1.5-1.1 1.5-0.9 1.5-0.8 1.5-0.5 1.5-0.4 1.5-0.2 1.5-0.2 1.5-0.1 1.5-0.1 1.5 0 1.5-0.1 1.5-0.1 1.5-0.2 1.5-0.3 1.5-0.4 1.5-0.5 1.5-0.4 1.5-0.3 1.5-0.2 1.5 0.1 1.5 0.2 1.5 0.6 1.5 0.9 1.5 1.2 1.5 1.3 1.5 1.5 1.5 1.5 1.5 1.5 1.5 1.5 1.5 1.4 1.5 1.3 1.5 1.2 1.5 0.9 1.5 0.7 1.5 0.5 1.5 0.2 1.5-0.2 1.5-0.4 1.5-0.7 1.5-1 1.5-1.3 1.5-1.5 1.5-1.9 1.5-2.4 1.5-2.8 1.5-3.3 1.5-3.7 1.5-3.8 1.5-3.9 1.5-3.8 1.5-3.5 1.5-3.1 1.5-2.8 1.5-2.3 1.5-2.1 1.5-1.7 1.5-1.5 1.5-1.3 1.5-1 1.5-0.8 1.5-0.5 1.5-0.2 1.5 0.1 1.5 0.4 1.5 0.7 1.5 0.9 1.5 1.1 1.5 1.4 1.5 1.6 1.5 1.7 1.5 1.9 1.5 2.1 1.5 2.2 1.5 2.3 1.5 2.4 1.5 2.6 1.5 2.6 1.5 2.7 1.5 2.8 1.5 2.6 1.5 2.3 1.5 1.8 1.5 1 1.5 0.2 1.5-0.9 1.5-1.7 1.5-2.3 1.5-2.6 1.5-2.7 1.5-2.7 1.5-2.8 1.5-3.2 1.5-3.6 1.5-4.3 1.5-5 1.5-5.9 1.5-6.3 1.5-6.2 1.5-5.6 1.5-4.6 1.5-3.5 1.5-2.6 1.5-1.9 1.5-1.4 1.5-1.2 1.5-1 1.5-0.6 1.5-0.3 1.5 0.1 1.5 0.5 1.5 0.8 1.5 0.9 1.5 1 1.5 1.1 1.5 1.1 1.5 1 1.5 1 1.5 0.8 1.5 0.8 1.5 0.7 1.5 0.5 1.5 0.5 1.5 0.2 1.5 0.1 1.5 0 1.5-0.2 1.5-0.3 1.5-0.3 1.5-0.3 1.5-0.4 1.5-0.3 1.5-0.3 1.5-0.2 1.5-0.1 1.5 0 1.5 0.1 1.5 0.2 1.5 0.2 1.5 0.2 1.5 0.3 1.5 0.2 1.5 0.1 1.5 0 1.5-0.1 1.5-0.2 1.5-0.3 1.5-0.5 1.5-0.4 1.5-0.5 1.5-0.4 1.5-0.2 1.5-0.1 1.5 0.2 1.5 0.5 1.5 0.8 1.5 1.1 1.5 1.3 1.5 1.6 1.5 1.7 1.5 1.7 1.5 1.8 1.5 1.7 1.5 1.7 1.5 1.6 1.5 1.6 1.5 1.4 1.5 1.3 1.5 1.1 1.5 1 1.5 0.8 1.5 0.6 1.5 0.6 1.5 0.4 1.5 0.3 1.5 0.2 1.5 0.2 1.5 0.2 1.5 0.1 1.5 0 1.5 0.1 1.5 0 1.5 0 1.5-0.1 1.5 0 1.5 0 1.5-0.1" fill="none" stroke="#3c7dc2" stroke-width="1.05" clip-path="url(#cte)"/>
<path d="M387.10,821.50V868.00M385.50,821.50H388.70M385.50,868.00H388.70M403.90,790.50V829.30M402.30,790.50H405.50M402.30,829.30H405.50M420.50,821.50V868.70M418.90,821.50H422.10M418.90,868.70H422.10M436.90,778.60V816.60M435.30,778.60H438.50M435.30,816.60H438.50M453.70,835.60V883.20M452.10,835.60H455.30M452.10,883.20H455.30M470.00,806.80V845.10M468.40,806.80H471.60M468.40,845.10H471.60M486.60,758.20V795.60M485.00,758.20H488.20M485.00,795.60H488.20M503.20,755.70V793.30M501.60,755.70H504.80M501.60,793.30H504.80M519.80,788.40V825.70M518.20,788.40H521.40M518.20,825.70H521.40M536.60,829.30V866.40M535.00,829.30H538.20M535.00,866.40H538.20M553.20,702.10V740.50M551.60,702.10H554.80M551.60,740.50H554.80M569.60,732.30V770.60M568.00,732.30H571.20M568.00,770.60H571.20M586.10,746.30V784.40M584.50,746.30H587.70M584.50,784.40H587.70M603.00,725.30V762.90M601.40,725.30H604.60M601.40,762.90H604.60M619.10,750.50V788.80M617.50,750.50H620.70M617.50,788.80H620.70M636.10,715.50V754.30M634.50,715.50H637.70M634.50,754.30H637.70M652.30,776.70V826.40M650.70,776.70H653.90M650.70,826.40H653.90M669.30,741.20V787.20M667.70,741.20H670.90M667.70,787.20H670.90" fill="none" stroke="#333" stroke-width="0.95"/>
<circle cx="387.10" cy="844.70" r="2.25" fill="#000"/>
<circle cx="403.90" cy="809.60" r="2.25" fill="#000"/>
<circle cx="420.50" cy="844.90" r="2.25" fill="#000"/>
<circle cx="436.90" cy="797.50" r="2.25" fill="#000"/>
<circle cx="453.70" cy="859.20" r="2.25" fill="#000"/>
<circle cx="470.00" cy="826.00" r="2.25" fill="#000"/>
<circle cx="486.60" cy="777.10" r="2.25" fill="#000"/>
<circle cx="503.20" cy="774.60" r="2.25" fill="#000"/>
<circle cx="519.80" cy="806.80" r="2.25" fill="#000"/>
<circle cx="536.60" cy="847.70" r="2.25" fill="#000"/>
<circle cx="553.20" cy="721.30" r="2.25" fill="#000"/>
<circle cx="569.60" cy="751.20" r="2.25" fill="#000"/>
<circle cx="586.10" cy="765.20" r="2.25" fill="#000"/>
<circle cx="603.00" cy="744.20" r="2.25" fill="#000"/>
<circle cx="619.10" cy="769.70" r="2.25" fill="#000"/>
<circle cx="636.10" cy="735.10" r="2.25" fill="#000"/>
<circle cx="652.30" cy="801.70" r="2.25" fill="#000"/>
<circle cx="669.30" cy="764.30" r="2.25" fill="#000"/>
<line x1="545.20" y1="887.50" x2="545.20" y2="693.40" stroke="#ff1a0a" stroke-width="2.8" stroke-dasharray="8.40 7.50" clip-path="url(#cte)"/>
<rect x="376.50" y="693.40" width="305.00" height="198.60" fill="none" stroke="#6e6e6e" stroke-width="1"/>
<text x="371.60" y="728.20" font-size="6.50" text-anchor="end" fill="#111" textLength="11.40" lengthAdjust="spacingAndGlyphs">−18</text>
<text x="371.60" y="764.24" font-size="6.50" text-anchor="end" fill="#111" textLength="11.40" lengthAdjust="spacingAndGlyphs">−20</text>
<text x="371.60" y="800.28" font-size="6.50" text-anchor="end" fill="#111" textLength="11.40" lengthAdjust="spacingAndGlyphs">−22</text>
<text x="371.60" y="836.32" font-size="6.50" text-anchor="end" fill="#111" textLength="11.40" lengthAdjust="spacingAndGlyphs">−24</text>
<text x="371.60" y="872.36" font-size="6.50" text-anchor="end" fill="#111" textLength="11.40" lengthAdjust="spacingAndGlyphs">−26</text>
<g fill="none" stroke="#3d8cc4" stroke-opacity="0.42" stroke-width="0.68" clip-path="url(#cbe)"><path d="M378.7,961.1l2.5-1.5 2.5-1.6 2.6-1.5 2.5-1.5 2.5-1.2 2.5-0.8 2.5-0.1 2.5 0.5 2.6 1 2.5 1.4 2.5 1.4 2.5 1.3 2.5 1.1 2.5 0.7 2.6 0 2.5-0.2 2.5-0.4 2.5-0.1 2.5 0.4 2.5 1.2 2.6 1.9 2.5 2.2 2.5 2.1 2.5 1.8 2.5 1.1 2.5 0.2 2.6-1 2.5-1.9 2.5-2.5 2.5-2.9 2.5-3.1 2.5-3.2 2.6-3 2.5-2.9 2.5-2.6 2.5-2.2 2.5-1.8 2.5-1 2.6-0.5 2.5 0.3 2.5 1 2.5 1.8 2.5 2.5 2.5 3.3 2.6 4 2.5 4.5 2.5 4.8 2.5 4.9 2.5 4.6 2.5 4 2.6 3 2.5 1.6 2.5 0.1 2.5-1.8 2.5-3.3 2.5-4.6 2.6-5.5 2.5-6 2.5-6.2 2.5-6.2 2.5-6.2 2.5-5.9 2.6-5.3 2.5-4.2 2.5-2.5 2.5-0.3 2.5 2.3 2.5 4.1 2.6 5.3 2.5 5.5 2.5 5.4 2.5 4.9 2.5 4.3 2.5 3.6 2.6 2.8 2.5 1.8 2.5 1 2.5 0.3 2.5-0.1 2.5-0.6 2.6-0.8 2.5-1.2 2.5-1.3 2.5-1.4 2.5-1.3 2.5-1 2.6-0.6 2.5-0.4 2.5-0.2 2.5-0.3 2.5-0.4 2.5-0.7 2.6-0.6 2.5-0.4 2.5 0.1 2.5 0.7 2.5 1.3 2.5 1.9 2.6 2.5 2.5 2.6 2.5 2.3 2.5 1.8 2.5 1.2 2.5 0.3 2.6-0.4 2.5-1.1 2.5-1.7 2.5-1.7 2.5-1.6 2.5-1.2 2.6-0.9 2.5-0.3 2.5 0 2.5 0.3 2.5 0.5 2.5 0.4 2.6 0.1 2.5-0.3 2.5-0.7"/><path d="M378.7,961.1l2.5-1.5 2.5-2.1 2.6-2.2 2.5-1.6 2.5-0.4 2.5 1.1 2.5 2.6 2.5 3.2 2.6 2.8 2.5 1.5 2.5-0.2 2.5-1.8 2.5-2.9 2.5-3.1 2.6-2.3 2.5-0.5 2.5 1.8 2.5 3.9 2.5 5.2 2.5 5.7 2.6 4.9 2.5 3 2.5 0.6 2.5-1.7 2.5-3.2 2.5-3.7 2.6-3.5 2.5-2.4 2.5-1.1 2.5 0 2.5 0.1 2.5-0.6 2.6-2 2.5-3.8 2.5-5.1 2.5-5.7 2.5-5.1 2.5-3.7 2.6-1.4 2.5 0.8 2.5 2.9 2.5 4.3 2.5 5.1 2.5 5.2 2.6 5 2.5 4.8 2.5 4.8 2.5 5 2.5 5.2 2.5 5.1 2.6 4.4 2.5 2.7 2.5 0.3 2.5-2.8 2.5-5.6 2.5-7.8 2.6-8.8 2.5-8.5 2.5-7.3 2.5-5.5 2.5-3.8 2.5-2.9 2.6-2.5 2.5-2.7 2.5-3 2.5-2.9 2.5-2.1 2.5-0.8 2.6 0.8 2.5 2.9 2.5 5.4 2.5 8 2.5 9.8 2.5 10.6 2.6 9.5 2.5 7.1 2.5 3.5 2.5-0.1 2.5-3.4 2.5-5.5 2.6-6.4 2.5-6 2.5-4.6 2.5-2.6 2.5-0.7 2.5 1 2.6 2.2 2.5 2.3 2.5 2 2.5 1.2 2.5 0.6 2.5 0 2.6-0.3 2.5-0.1 2.5 0 2.5 0 2.5-0.3 2.5-0.5 2.6-0.7 2.5-0.6 2.5-0.1 2.5 1 2.5 2.5 2.5 4 2.6 4.9 2.5 4.8 2.5 3.6 2.5 1.5 2.5-1.3 2.5-4.1 2.6-6.4 2.5-7.3 2.5-6.8 2.5-4.8 2.5-1.8 2.5 1.4 2.6 3.9 2.5 5.3 2.5 5.4"/><path d="M378.7,961.1l2.5-1.9 2.5-2.2 2.6-1.7 2.5-0.8 2.5 0.3 2.5 1.6 2.5 2.7 2.5 3.3 2.6 3.2 2.5 2.5 2.5 1.3 2.5 0 2.5-1.4 2.5-2.7 2.6-3.4 2.5-3.5 2.5-2.8 2.5-1.4 2.5 0.5 2.5 2.6 2.6 4.3 2.5 5.3 2.5 5.5 2.5 4.8 2.5 3.3 2.5 1.3 2.6-1.1 2.5-3 2.5-4.6 2.5-5.4 2.5-5.7 2.5-5.4 2.6-4.6 2.5-3.5 2.5-2.2 2.5-1.1 2.5 0 2.5 0.9 2.6 1.6 2.5 2 2.5 2.2 2.5 2.4 2.5 2.7 2.5 2.8 2.6 3.1 2.5 3.4 2.5 3.6 2.5 3.4 2.5 3.2 2.5 2.6 2.6 1.6 2.5 0.5 2.5-1 2.5-2.4 2.5-3.4 2.5-4.1 2.6-4.3 2.5-4.1 2.5-3.8 2.5-3.3 2.5-3.2 2.5-3.1 2.6-3.2 2.5-3.1 2.5-2.5 2.5-1.8 2.5-0.4 2.5 0.7 2.6 1.5 2.5 2.2 2.5 2.7 2.5 3.5 2.5 4.3 2.5 4.9 2.6 5.3 2.5 4.9 2.5 4.3 2.5 3.2 2.5 1.8 2.5 0.1 2.6-1.5 2.5-3 2.5-4.1 2.5-4.5 2.5-4.3 2.5-3.3 2.6-1.9 2.5-0.5 2.5 0.9 2.5 1.8 2.5 2.2 2.5 2.1 2.6 1.7 2.5 1.2 2.5 0.6 2.5 0.1 2.5-0.2 2.5-0.1 2.6 0.3 2.5 0.7 2.5 1 2.5 1.4 2.5 1.5 2.5 1.4 2.6 1 2.5 0.2 2.5-0.5 2.5-1.3 2.5-1.8 2.5-2.2 2.6-2.2 2.5-1.8 2.5-1.2 2.5-0.2 2.5 0.7 2.5 1.4 2.6 1.8 2.5 1.9 2.5 1.5"/><path d="M378.7,961.1l2.5-1.8 2.5-1.9 2.6-1.5 2.5-0.7 2.5-0.1 2.5 0.4 2.5 0.6 2.5 0.6 2.6 0.5 2.5 0.4 2.5 0.6 2.5 0.9 2.5 1.3 2.5 1.3 2.6 0.8 2.5 0.3 2.5-0.3 2.5-0.8 2.5-0.9 2.5-0.2 2.6 0.9 2.5 1.9 2.5 2.8 2.5 3.1 2.5 2.8 2.5 1.7 2.6-0.1 2.5-1.9 2.5-3.2 2.5-4.2 2.5-4.3 2.5-4.1 2.6-3.3 2.5-2.5 2.5-1.9 2.5-1.5 2.5-1.3 2.5-1.2 2.6-0.8 2.5-0.2 2.5 0.8 2.5 2.1 2.5 3.4 2.5 4.6 2.6 5 2.5 5.1 2.5 4.5 2.5 3.6 2.5 2.5 2.5 1.6 2.6 1 2.5 0.6 2.5 0 2.5-0.5 2.5-1.4 2.5-2.4 2.6-3.7 2.5-4.8 2.5-5.8 2.5-6.5 2.5-6.6 2.5-6.3 2.6-5.6 2.5-4.1 2.5-2.5 2.5-0.4 2.5 1.5 2.5 3.1 2.6 3.9 2.5 4.4 2.5 4.9 2.5 5.2 2.5 5.7 2.5 5.5 2.6 4.9 2.5 3.5 2.5 1.7 2.5-0.2 2.5-1.8 2.5-2.9 2.6-3.3 2.5-2.9 2.5-2.3 2.5-1.2 2.5-0.3 2.5 0.5 2.6 0.8 2.5 0.8 2.5 0.4 2.5 0 2.5-0.3 2.5-0.4 2.6-0.3 2.5 0 2.5 0.3 2.5 0.3 2.5 0.3 2.5 0.3 2.6 0.4 2.5 0.6 2.5 1.1 2.5 1.6 2.5 2.2 2.5 2.5 2.6 2.3 2.5 1.4 2.5 0.1 2.5-1.1 2.5-2.2 2.5-2.9 2.6-2.8 2.5-2.3 2.5-1.4 2.5-0.3 2.5 0.6 2.5 0.8 2.6 0.7 2.5 0.1 2.5-0.4"/><path d="M378.7,961.1l2.5-1.6 2.5-2.3 2.6-2.8 2.5-3 2.5-2.7 2.5-2 2.5-0.8 2.5 0.5 2.6 1.6 2.5 2.6 2.5 3.1 2.5 3.2 2.5 2.8 2.5 2 2.6 0.8 2.5-0.4 2.5-1.3 2.5-1.8 2.5-2 2.5-1.5 2.6-0.7 2.5 0 2.5 0.8 2.5 1.5 2.5 1.9 2.5 1.9 2.6 1.5 2.5 0.9 2.5 0.3 2.5-0.6 2.5-1.5 2.5-2.5 2.6-3.2 2.5-3.8 2.5-4.1 2.5-4.1 2.5-3.4 2.5-2.6 2.6-1.4 2.5 0 2.5 1.4 2.5 2.6 2.5 3.9 2.5 4.7 2.6 5.2 2.5 5.3 2.5 5 2.5 4.4 2.5 3.3 2.5 2 2.6 0.7 2.5-0.8 2.5-2.2 2.5-3.3 2.5-4.1 2.5-4.3 2.6-4.2 2.5-3.8 2.5-3.2 2.5-2.8 2.5-2.5 2.5-2.6 2.6-2.6 2.5-2.4 2.5-1.9 2.5-1.1 2.5 0.2 2.5 1.3 2.6 2 2.5 2.4 2.5 2.7 2.5 3 2.5 3.3 2.5 3.5 2.6 3.4 2.5 3 2.5 2.6 2.5 1.9 2.5 1.3 2.5 0.4 2.6-0.4 2.5-1.2 2.5-1.9 2.5-2.4 2.5-2.5 2.5-2.3 2.6-1.7 2.5-1.3 2.5-0.8 2.5-0.2 2.5 0.1 2.5 0.5 2.6 0.7 2.5 1.2 2.5 1.4 2.5 1.7 2.5 1.8 2.5 1.9 2.6 1.7 2.5 1.2 2.5 0.7 2.5 0.1 2.5-0.5 2.5-1 2.6-1.2 2.5-1.3 2.5-1.2 2.5-0.8 2.5-0.3 2.5 0.2 2.6 0.6 2.5 0.8 2.5 0.9 2.5 0.8 2.5 0.5 2.5 0 2.6-0.5 2.5-1.1 2.5-1.5"/><path d="M378.7,961.1l2.5-2 2.5-1.7 2.6-1.4 2.5-1.3 2.5-0.9 2.5-0.5 2.5 0 2.5 0.5 2.6 0.9 2.5 1 2.5 1.1 2.5 1 2.5 0.7 2.5 0.3 2.6-0.2 2.5-0.5 2.5-0.5 2.5-0.2 2.5 0.2 2.5 1 2.6 1.7 2.5 2 2.5 2.1 2.5 1.8 2.5 1.3 2.5 0.5 2.6-0.6 2.5-1.5 2.5-2.2 2.5-2.7 2.5-2.9 2.5-3.1 2.6-3 2.5-2.8 2.5-2.4 2.5-1.8 2.5-1.2 2.5-0.5 2.6 0.3 2.5 1 2.5 1.6 2.5 2.1 2.5 2.5 2.5 2.8 2.6 3 2.5 3.1 2.5 3.1 2.5 2.9 2.5 2.7 2.5 2.2 2.6 1.7 2.5 1 2.5 0.1 2.5-1 2.5-1.8 2.5-2.6 2.6-3.1 2.5-3.7 2.5-4.1 2.5-4.4 2.5-4.8 2.5-5.1 2.6-5.1 2.5-4.4 2.5-3.2 2.5-1.5 2.5 0.8 2.5 2.7 2.6 4 2.5 4.8 2.5 5 2.5 5.1 2.5 4.7 2.5 4.1 2.6 3.3 2.5 2.2 2.5 1 2.5-0.1 2.5-0.9 2.5-1.5 2.6-2.1 2.5-2.2 2.5-2.2 2.5-1.9 2.5-1.4 2.5-0.5 2.6 0.2 2.5 0.9 2.5 1.1 2.5 1.1 2.5 0.8 2.5 0.3 2.6-0.1 2.5-0.5 2.5-0.6 2.5-0.5 2.5-0.2 2.5 0.3 2.6 0.8 2.5 1.2 2.5 1.5 2.5 1.6 2.5 1.5 2.5 1.2 2.6 0.8 2.5 0.3 2.5-0.3 2.5-0.6 2.5-0.9 2.5-1.1 2.6-1.2 2.5-1.2 2.5-1 2.5-0.8 2.5-0.5 2.5-0.3 2.6-0.2 2.5-0.1 2.5 0"/><path d="M378.7,961.1l2.5-2.1 2.5-2.1 2.6-1.9 2.5-1.6 2.5-1 2.5-0.3 2.5 0.5 2.5 1.2 2.6 1.7 2.5 1.9 2.5 1.6 2.5 1.3 2.5 0.8 2.5 0 2.6-0.8 2.5-1.2 2.5-1.1 2.5-0.8 2.5 0 2.5 1.1 2.6 2.2 2.5 2.8 2.5 3.1 2.5 2.8 2.5 2.2 2.5 1.1 2.6-0.2 2.5-1.5 2.5-2.6 2.5-3.4 2.5-4 2.5-4.4 2.6-4.5 2.5-4.3 2.5-3.8 2.5-3.2 2.5-2.1 2.5-0.9 2.6 0.3 2.5 1.4 2.5 2.5 2.5 3.3 2.5 4 2.5 4.3 2.6 4.6 2.5 4.5 2.5 4.4 2.5 4 2.5 3.5 2.5 2.8 2.6 1.9 2.5 0.9 2.5-0.5 2.5-1.8 2.5-2.9 2.5-3.9 2.6-4.5 2.5-5 2.5-5.3 2.5-5.5 2.5-5.9 2.5-6.1 2.6-6.1 2.5-5.3 2.5-3.9 2.5-1.7 2.5 1 2.5 3.3 2.6 4.9 2.5 5.8 2.5 6.2 2.5 6.1 2.5 5.9 2.5 5.2 2.6 4.2 2.5 2.8 2.5 1.5 2.5 0.3 2.5-0.8 2.5-1.6 2.6-2.1 2.5-2.5 2.5-2.4 2.5-2.2 2.5-1.7 2.5-0.8 2.6 0.1 2.5 0.6 2.5 0.8 2.5 0.9 2.5 0.4 2.5-0.1 2.6-0.6 2.5-0.7 2.5-0.6 2.5-0.4 2.5 0.3 2.5 1 2.6 1.7 2.5 2.2 2.5 2.5 2.5 2.4 2.5 2.1 2.5 1.5 2.6 0.9 2.5-0.1 2.5-0.8 2.5-1.5 2.5-1.8 2.5-2 2.6-2 2.5-1.8 2.5-1.4 2.5-0.9 2.5-0.3 2.5 0.2 2.6 0.4 2.5 0.6 2.5 0.6"/><path d="M378.7,961.1l2.5-1 2.5-0.3 2.6 0.2 2.5 0.2 2.5-0.1 2.5-0.5 2.5-0.9 2.5-1.2 2.6-1.4 2.5-1.3 2.5-0.9 2.5-0.2 2.5 0.7 2.5 1.6 2.6 2.2 2.5 2.8 2.5 3 2.5 3 2.5 2.5 2.5 2.1 2.6 1.2 2.5 0.2 2.5-0.9 2.5-1.8 2.5-2.2 2.5-2.3 2.6-2.3 2.5-1.6 2.5-0.9 2.5-0.1 2.5 0.2 2.5 0.1 2.6-0.5 2.5-1.5 2.5-2.5 2.5-3.4 2.5-4 2.5-3.8 2.6-3.1 2.5-2 2.5-0.4 2.5 1.5 2.5 3.3 2.5 4.8 2.6 5.8 2.5 6.5 2.5 6.4 2.5 5.9 2.5 5 2.5 3.7 2.6 2.2 2.5 0.7 2.5-0.9 2.5-2.6 2.5-3.8 2.5-4.9 2.6-5.5 2.5-6 2.5-6.2 2.5-6.3 2.5-6.2 2.5-6 2.6-5.3 2.5-3.9 2.5-1.9 2.5 0.6 2.5 3.2 2.5 5.2 2.6 6 2.5 5.9 2.5 5 2.5 3.9 2.5 2.8 2.5 1.7 2.6 0.9 2.5 0.4 2.5 0.3 2.5 0.7 2.5 1.1 2.5 1.4 2.6 1.6 2.5 1.2 2.5 0.6 2.5-0.4 2.5-1.5 2.5-2.2 2.6-2.8 2.5-3 2.5-2.9 2.5-2.5 2.5-1.6 2.5-0.6 2.6 0.4 2.5 1.7 2.5 2.7 2.5 3.3 2.5 3.4 2.5 3.2 2.6 2.6 2.5 1.7 2.5 0.6 2.5-0.4 2.5-1.1 2.5-1.4 2.6-1.5 2.5-1.4 2.5-1 2.5-0.5 2.5 0 2.5 0.3 2.6 0.4 2.5 0.4 2.5 0.1 2.5 0 2.5-0.2 2.5-0.4 2.6-0.6 2.5-0.7 2.5-0.9"/><path d="M378.7,961.1l2.5-0.6 2.5-0.3 2.6 0.1 2.5 0.6 2.5 1 2.5 1.6 2.5 2 2.5 2.2 2.6 2 2.5 1.6 2.5 1 2.5 0.2 2.5-0.5 2.5-1.1 2.6-1.7 2.5-1.9 2.5-1.8 2.5-1.3 2.5-0.7 2.5 0.1 2.6 0.9 2.5 1.6 2.5 2.1 2.5 2.3 2.5 2.3 2.5 2 2.6 1.4 2.5 0.7 2.5-0.1 2.5-1 2.5-1.8 2.5-2.6 2.6-3 2.5-3.3 2.5-3.2 2.5-3 2.5-2.3 2.5-1.7 2.6-0.8 2.5 0 2.5 0.7 2.5 1.5 2.5 2.3 2.5 2.9 2.6 3.5 2.5 3.8 2.5 3.9 2.5 3.7 2.5 3.3 2.5 2.5 2.6 1.5 2.5 0.3 2.5-0.8 2.5-1.9 2.5-2.9 2.5-3.4 2.6-3.7 2.5-3.9 2.5-3.8 2.5-3.8 2.5-3.7 2.5-3.5 2.6-3 2.5-2.1 2.5-1 2.5 0.7 2.5 2.3 2.5 3.5 2.6 4.3 2.5 4.3 2.5 3.9 2.5 3.3 2.5 2.5 2.5 1.6 2.6 0.8 2.5 0 2.5-0.8 2.5-1.4 2.5-1.7 2.5-2 2.6-1.9 2.5-1.7 2.5-1.3 2.5-0.6 2.5 0.1 2.5 1.1 2.6 1.8 2.5 2.2 2.5 2.3 2.5 1.9 2.5 1.2 2.5 0.3 2.6-0.6 2.5-1.2 2.5-1.6 2.5-1.7 2.5-1.5 2.5-1.1 2.6-0.5 2.5-0.1 2.5 0.3 2.5 0.7 2.5 0.9 2.5 1.2 2.6 1.4 2.5 1.3 2.5 1.3 2.5 1.2 2.5 0.9 2.5 0.5 2.6 0 2.5-0.4 2.5-0.9 2.5-1.1 2.5-1.3 2.5-1.3 2.6-1.3 2.5-1.3 2.5-1.1"/><path d="M378.7,961.1l2.5-1.8 2.5-1.4 2.6-0.1 2.5 1 2.5 1.8 2.5 2.1 2.5 1.8 2.5 1 2.6 0.2 2.5-0.6 2.5-0.8 2.5-0.8 2.5-0.3 2.5 0.3 2.6 0.9 2.5 1.3 2.5 1.3 2.5 0.9 2.5 0.2 2.5-0.7 2.6-1.3 2.5-1.8 2.5-1.7 2.5-1.2 2.5-0.2 2.5 0.9 2.6 2 2.5 2.7 2.5 2.8 2.5 2.3 2.5 1.1 2.5-0.5 2.6-2.3 2.5-3.8 2.5-4.6 2.5-4.7 2.5-3.8 2.5-2.3 2.6-0.3 2.5 1.7 2.5 3.3 2.5 4.3 2.5 4.5 2.5 3.9 2.6 2.7 2.5 1.2 2.5-0.3 2.5-1.2 2.5-1.8 2.5-1.7 2.6-1.1 2.5-0.2 2.5 0.5 2.5 0.9 2.5 1 2.5 0.5 2.6-0.2 2.5-1.3 2.5-2.2 2.5-2.8 2.5-3.1 2.5-2.8 2.6-1.9 2.5-0.8 2.5 0.6 2.5 1.7 2.5 2.5 2.5 2.6 2.6 2 2.5 0.8 2.5-0.3 2.5-1.3 2.5-1.8 2.5-1.5 2.6-0.7 2.5 0.4 2.5 1.7 2.5 2.9 2.5 3.5 2.5 3.3 2.6 2.6 2.5 1.1 2.5-0.6 2.5-2.3 2.5-3.4 2.5-3.9 2.6-3.6 2.5-2.6 2.5-1.1 2.5 0.5 2.5 1.8 2.5 2.7 2.6 2.9 2.5 2.5 2.5 1.6 2.5 0.4 2.5-0.6 2.5-1.3 2.6-1.6 2.5-1.3 2.5-0.6 2.5 0.3 2.5 1.1 2.5 1.6 2.6 1.7 2.5 1.2 2.5 0.4 2.5-0.8 2.5-1.7 2.5-2.3 2.6-2.5 2.5-1.9 2.5-0.9 2.5 0.5 2.5 1.7 2.5 2.7 2.6 3.1 2.5 2.7 2.5 1.6"/><path d="M378.7,961.1l2.5-1 2.5-0.6 2.6-1.1 2.5-2 2.5-2.8 2.5-3 2.5-2.6 2.5-1.9 2.6-1 2.5-0.1 2.5 0.6 2.5 0.9 2.5 1 2.5 0.8 2.6 0.3 2.5 0.1 2.5 0.2 2.5 0.7 2.5 1.5 2.5 2.5 2.6 3.5 2.5 3.9 2.5 3.8 2.5 3 2.5 1.6 2.5-0.2 2.6-2.4 2.5-4.4 2.5-5.7 2.5-6.4 2.5-6.3 2.5-5.6 2.6-4.1 2.5-2.3 2.5-0.2 2.5 1.5 2.5 3.1 2.5 4.1 2.6 4.4 2.5 4.1 2.5 3.2 2.5 2.1 2.5 1 2.5 0.1 2.6-0.5 2.5-0.6 2.5-0.4 2.5 0.2 2.5 0.8 2.5 1.4 2.6 1.7 2.5 1.7 2.5 1.2 2.5 0.4 2.5-0.5 2.5-1.3 2.6-1.9 2.5-2.3 2.5-2.6 2.5-2.8 2.5-2.9 2.5-3.3 2.6-3.5 2.5-3.4 2.5-3.1 2.5-2.5 2.5-1.4 2.5-0.6 2.6 0.1 2.5 0.7 2.5 1.6 2.5 2.5 2.5 3.7 2.5 4.8 2.6 5.5 2.5 5.8 2.5 5.4 2.5 4.6 2.5 3.2 2.5 1.3 2.6-0.6 2.5-2.6 2.5-4 2.5-5.1 2.5-5.1 2.5-4.6 2.6-3.2 2.5-1.9 2.5-0.4 2.5 0.7 2.5 1.6 2.5 1.9 2.6 1.8 2.5 1.7 2.5 1.4 2.5 1.1 2.5 1.1 2.5 1.3 2.6 1.6 2.5 1.9 2.5 2.1 2.5 2 2.5 1.6 2.5 0.9 2.6-0.1 2.5-1.4 2.5-2.6 2.5-3.6 2.5-4 2.5-4 2.6-3.4 2.5-2.2 2.5-0.7 2.5 1.1 2.5 2.8 2.5 3.9 2.6 4.5 2.5 4.4 2.5 3.5"/><path d="M378.7,961.1l2.5-0.9 2.5-0.4 2.6-0.3 2.5-0.8 2.5-1.3 2.5-1.7 2.5-1.5 2.5-0.7 2.6 0.4 2.5 1.6 2.5 2.5 2.5 3.1 2.5 2.9 2.5 2 2.6 0.5 2.5-1 2.5-2 2.5-2.4 2.5-2 2.5-0.6 2.6 1 2.5 2.6 2.5 3.7 2.5 4 2.5 3.5 2.5 2.1 2.6 0 2.5-1.9 2.5-3.7 2.5-4.6 2.5-5 2.5-4.5 2.6-3.7 2.5-2.5 2.5-1.4 2.5-0.6 2.5-0.1 2.5 0.1 2.6 0.1 2.5 0.1 2.5 0.2 2.5 0.8 2.5 1.7 2.5 2.8 2.6 3.9 2.5 4.8 2.5 5.3 2.5 4.9 2.5 4.2 2.5 2.8 2.6 1.3 2.5-0.3 2.5-1.7 2.5-2.6 2.5-3.1 2.5-3 2.6-2.9 2.5-2.8 2.5-3.1 2.5-3.7 2.5-4.8 2.5-6 2.6-6.6 2.5-6.4 2.5-5 2.5-2.5 2.5 0.8 2.5 3.8 2.6 6 2.5 7.1 2.5 7.2 2.5 6.4 2.5 5.1 2.5 3.4 2.6 1.8 2.5 0.2 2.5-0.6 2.5-1 2.5-0.8 2.5-0.5 2.6-0.2 2.5-0.2 2.5-0.5 2.5-1.1 2.5-1.6 2.5-1.7 2.6-1.6 2.5-1.2 2.5-0.5 2.5 0.4 2.5 1 2.5 1.4 2.6 1.4 2.5 1.2 2.5 0.7 2.5-0.1 2.5-0.7 2.5-0.9 2.6-0.7 2.5-0.1 2.5 0.7 2.5 1.7 2.5 2.6 2.5 2.9 2.6 2.8 2.5 1.8 2.5 0.5 2.5-0.8 2.5-2.2 2.5-3 2.6-3.2 2.5-2.9 2.5-2 2.5-0.7 2.5 0.4 2.5 1.3 2.6 1.5 2.5 1.3 2.5 0.6"/><path d="M378.7,961.1l2.5-1.8 2.5-0.6 2.6 0.6 2.5 1.4 2.5 1.8 2.5 1.9 2.5 1.6 2.5 1.1 2.6 0.3 2.5-0.5 2.5-1.1 2.5-1.7 2.5-1.9 2.5-1.8 2.6-1.5 2.5-0.9 2.5 0.3 2.5 1.6 2.5 2.9 2.5 4.2 2.6 4.9 2.5 4.9 2.5 4.2 2.5 2.7 2.5 1 2.5-1.1 2.6-3.1 2.5-4.7 2.5-5.5 2.5-5.7 2.5-5.4 2.5-4.5 2.6-3.4 2.5-2.1 2.5-0.8 2.5 0.1 2.5 1.1 2.5 1.7 2.6 2 2.5 1.9 2.5 1.7 2.5 1.4 2.5 1.2 2.5 1.1 2.6 1.3 2.5 1.7 2.5 2.4 2.5 3 2.5 3.7 2.5 4.1 2.6 4.1 2.5 3.7 2.5 2.7 2.5 1.1 2.5-0.7 2.5-2.5 2.6-4.2 2.5-5.8 2.5-7.1 2.5-8.2 2.5-8.7 2.5-8.9 2.6-8.4 2.5-6.7 2.5-4.2 2.5-0.9 2.5 2.8 2.5 5.8 2.6 7.7 2.5 8.7 2.5 8.4 2.5 7.7 2.5 6.3 2.5 4.5 2.6 2.6 2.5 0.4 2.5-1.3 2.5-2.5 2.5-3.3 2.5-3.3 2.6-3 2.5-2.3 2.5-1.3 2.5-0.2 2.5 0.9 2.5 1.9 2.6 2.5 2.5 2.6 2.5 2 2.5 1.1 2.5-0.3 2.5-1.8 2.6-2.8 2.5-3.3 2.5-3.1 2.5-2.4 2.5-1.1 2.5 0.5 2.6 2.3 2.5 3.6 2.5 4.5 2.5 4.7 2.5 4.5 2.5 3.5 2.6 2.1 2.5 0.4 2.5-1.3 2.5-2.6 2.5-3.7 2.5-4.2 2.6-4.1 2.5-3.6 2.5-2.7 2.5-1.3 2.5 0.1 2.5 1.2 2.6 2.1 2.5 2.5 2.5 2.7"/><path d="M378.7,961.1l2.5 0.2 2.5 3.8 2.6 5.8 2.5 5.1 2.5 1.9 2.5-2 2.5-5.2 2.5-6.2 2.6-4.7 2.5-1.1 2.5 3.2 2.5 6.9 2.5 8.4 2.5 7.3 2.6 4 2.5-0.4 2.5-4.5 2.5-6.9 2.5-6.9 2.5-4.3 2.6-0.1 2.5 4.1 2.5 7.2 2.5 8.4 2.5 7.1 2.5 3.7 2.6-0.7 2.5-4.8 2.5-7.4 2.5-8.2 2.5-6.9 2.5-4.4 2.6-1.4 2.5 0.9 2.5 2 2.5 1.8 2.5 0.4 2.5-1.2 2.6-2.6 2.5-3 2.5-2.2 2.5-0.2 2.5 2.4 2.5 4.7 2.6 6.4 2.5 6.9 2.5 6.2 2.5 4.6 2.5 2.6 2.5 0.8 2.6-0.6 2.5-1.3 2.5-1.6 2.5-1.5 2.5-1.5 2.5-1.6 2.6-2.1 2.5-2.9 2.5-3.9 2.5-4.9 2.5-5.7 2.5-6.2 2.6-6 2.5-5.1 2.5-3.5 2.5-1.5 2.5 1 2.5 3 2.6 4.4 2.5 5.4 2.5 5.8 2.5 6.1 2.5 5.7 2.5 5 2.6 3.5 2.5 1.6 2.5-0.2 2.5-1.7 2.5-2.5 2.5-2.5 2.6-1.8 2.5-0.9 2.5 0.2 2.5 0.7 2.5 0.6 2.5 0.1 2.6-0.7 2.5-1.7 2.5-2.3 2.5-2 2.5-1.1 2.5 0.4 2.6 2 2.5 3.1 2.5 3.3 2.5 2.3 2.5 0.6 2.5-1.3 2.6-2.8 2.5-3.3 2.5-2.4 2.5-0.2 2.5 2.7 2.5 5.1 2.6 6.3 2.5 5.7 2.5 3.3 2.5-0.2 2.5-4.1 2.5-6.9 2.6-8 2.5-6.8 2.5-3.6 2.5 0.5 2.5 4.3 2.5 6.7 2.6 6.7 2.5 4.5 2.5 0.5"/><path d="M378.7,961.1l2.5-1.2 2.5-1.8 2.6-1.1 2.5-0.2 2.5 0.7 2.5 1.4 2.5 1.3 2.5 0.8 2.6-0.5 2.5-1.7 2.5-2.6 2.5-2.9 2.5-2.3 2.5-1.1 2.6 0.5 2.5 2.6 2.5 4.5 2.5 6.1 2.5 6.7 2.5 6.6 2.6 5.3 2.5 2.9 2.5 0.2 2.5-2.5 2.5-4.8 2.5-6.1 2.6-6.6 2.5-5.8 2.5-4.2 2.5-2.3 2.5-0.5 2.5 0.6 2.6 0.9 2.5 0.4 2.5-0.7 2.5-1.9 2.5-2.9 2.5-3.2 2.6-2.7 2.5-1.4 2.5 0.3 2.5 2.5 2.5 4.6 2.5 5.9 2.6 6.7 2.5 6.4 2.5 5.3 2.5 3.6 2.5 1.8 2.5 0.1 2.6-1.1 2.5-1.6 2.5-1.6 2.5-1 2.5-0.2 2.5 0.6 2.6 0.8 2.5 0.2 2.5-1.3 2.5-4 2.5-7.2 2.5-10.4 2.6-12.7 2.5-13.3 2.5-11.7 2.5-8.1 2.5-2.7 2.5 3 2.6 7.8 2.5 11.4 2.5 13.4 2.5 13.7 2.5 12.6 2.5 10 2.6 6.4 2.5 2.4 2.5-1.3 2.5-3.9 2.5-5.3 2.5-5.7 2.6-4.9 2.5-3.7 2.5-2.3 2.5-0.8 2.5 0.1 2.5 0.8 2.6 0.8 2.5 0.3 2.5-0.5 2.5-1.1 2.5-1.4 2.5-1.3 2.6-0.4 2.5 1.1 2.5 2.6 2.5 4.1 2.5 4.7 2.5 4.8 2.6 3.9 2.5 2.1 2.5-0.1 2.5-2.4 2.5-4.1 2.5-4.8 2.6-4.7 2.5-3.6 2.5-1.7 2.5 0.7 2.5 2.9 2.5 4.4 2.6 4.9 2.5 4.4 2.5 2.8 2.5 0.8 2.5-1.3 2.5-3.4 2.6-4.7 2.5-5.1 2.5-4.5"/><path d="M378.7,961.1l2.5-1.2 2.5-0.9 2.6-0.6 2.5-0.3 2.5-0.1 2.5 0.1 2.5 0.5 2.5 0.5 2.6 0.7 2.5 0.7 2.5 0.6 2.5 0.5 2.5 0.5 2.5 0.2 2.6 0.1 2.5 0 2.5-0.1 2.5 0.2 2.5 0.4 2.5 0.7 2.6 1.1 2.5 1.3 2.5 1.2 2.5 0.9 2.5 0.7 2.5 0.2 2.6-0.3 2.5-0.9 2.5-1.2 2.5-1.5 2.5-1.8 2.5-2 2.6-2.2 2.5-2.4 2.5-2.3 2.5-2.1 2.5-1.7 2.5-1.1 2.6-0.2 2.5 0.5 2.5 1.4 2.5 2 2.5 2.6 2.5 3 2.6 3 2.5 3 2.5 2.7 2.5 2.4 2.5 1.9 2.5 1.3 2.6 0.9 2.5 0.3 2.5-0.3 2.5-0.9 2.5-1.5 2.5-1.8 2.6-2.2 2.5-2.7 2.5-3 2.5-3.4 2.5-3.9 2.5-4.3 2.6-4.3 2.5-3.9 2.5-2.9 2.5-1.2 2.5 0.7 2.5 2.4 2.6 3.6 2.5 4.2 2.5 4.5 2.5 4.2 2.5 3.9 2.5 3.1 2.6 2.2 2.5 1.2 2.5 0.3 2.5-0.5 2.5-1 2.5-1.3 2.6-1.3 2.5-1.4 2.5-1.1 2.5-0.9 2.5-0.5 2.5-0.1 2.6 0.3 2.5 0.4 2.5 0.4 2.5 0.3 2.5 0.1 2.5-0.4 2.6-0.5 2.5-0.5 2.5-0.3 2.5-0.1 2.5 0.3 2.5 0.8 2.6 1.1 2.5 1.3 2.5 1.4 2.5 1.2 2.5 0.9 2.5 0.7 2.6 0.3 2.5 0 2.5-0.4 2.5-0.6 2.5-0.6 2.5-0.7 2.6-0.8 2.5-0.7 2.5-0.8 2.5-0.7 2.5-0.6 2.5-0.5 2.6-0.4 2.5-0.2 2.5-0.1"/><path d="M378.7,961.1l2.5-0.5 2.5 1.7 2.6 2 2.5 1.1 2.5-0.5 2.5-2.4 2.5-3.7 2.5-4.3 2.6-4.1 2.5-2.9 2.5-1.2 2.5 0.9 2.5 3 2.5 4.5 2.6 5.3 2.5 5.2 2.5 4.4 2.5 3.1 2.5 1.3 2.5-0.3 2.6-1.9 2.5-3 2.5-3.7 2.5-3.6 2.5-2.9 2.5-1.7 2.6-0.4 2.5 1.1 2.5 2.3 2.5 3 2.5 2.8 2.5 1.7 2.6 0.2 2.5-2 2.5-4.1 2.5-5.8 2.5-6.6 2.5-6.5 2.6-5.3 2.5-3.2 2.5-0.5 2.5 2.5 2.5 5.4 2.5 7.5 2.6 8.9 2.5 9.1 2.5 8.1 2.5 6.4 2.5 3.8 2.5 1 2.6-1.7 2.5-3.9 2.5-5.4 2.5-6.2 2.5-5.9 2.5-4.8 2.6-3.2 2.5-1.6 2.5-0.3 2.5 0.2 2.5 0 2.5-1.2 2.6-2.6 2.5-3.9 2.5-4.7 2.5-4.6 2.5-3.4 2.5-1.8 2.6 0.1 2.5 1.9 2.5 3.9 2.5 5.8 2.5 7.1 2.5 7.8 2.6 7.6 2.5 6.3 2.5 4.2 2.5 1.9 2.5-0.6 2.5-3 2.6-4.9 2.5-5.8 2.5-6 2.5-5.1 2.5-3.5 2.5-1.3 2.6 1 2.5 2.9 2.5 4.1 2.5 4.4 2.5 3.8 2.5 2.5 2.6 0.8 2.5-0.9 2.5-2.1 2.5-3 2.5-3.1 2.5-2.4 2.6-1.3 2.5 0.2 2.5 1.6 2.5 2.9 2.5 3.6 2.5 3.8 2.6 3.4 2.5 2.3 2.5 0.9 2.5-0.4 2.5-1.8 2.5-2.8 2.6-3.4 2.5-3.4 2.5-3 2.5-2.1 2.5-0.9 2.5 0.1 2.6 1 2.5 1.6 2.5 1.8"/><path d="M378.7,961.1l2.5-0.9 2.5-1 2.6-1.9 2.5-3.2 2.5-4.3 2.5-4.8 2.5-4.6 2.5-3.8 2.6-2.5 2.5-1 2.5 0.6 2.5 2.1 2.5 3.4 2.5 4 2.6 4.1 2.5 4.1 2.5 3.7 2.5 3.1 2.5 2.6 2.5 2 2.6 1.3 2.5 0.3 2.5-0.7 2.5-1.8 2.5-2.7 2.5-3.6 2.6-4.1 2.5-4.2 2.5-3.8 2.5-3 2.5-2.1 2.5-1.2 2.6-0.4 2.5 0.2 2.5 0.7 2.5 0.8 2.5 0.9 2.5 0.8 2.6 0.6 2.5 0.4 2.5 0.3 2.5 0.1 2.5 0.2 2.5 0.5 2.6 0.9 2.5 1.4 2.5 2 2.5 2.7 2.5 3.3 2.5 3.5 2.6 3.7 2.5 3.3 2.5 2.6 2.5 1.5 2.5 0.3 2.5-1 2.6-2.2 2.5-3.5 2.5-4.8 2.5-6 2.5-7.3 2.5-8.3 2.6-8.8 2.5-8.3 2.5-6.9 2.5-4.5 2.5-1.1 2.5 1.9 2.6 4.5 2.5 6.4 2.5 7.8 2.5 8.6 2.5 8.9 2.5 8.6 2.6 7.5 2.5 5.8 2.5 3.6 2.5 1.4 2.5-0.8 2.5-3 2.6-4.7 2.5-5.9 2.5-6.6 2.5-6.4 2.5-5.5 2.5-3.9 2.6-1.8 2.5 0.2 2.5 2 2.5 3.5 2.5 4.2 2.5 4.5 2.6 4.2 2.5 3.7 2.5 3 2.5 2 2.5 1 2.5 0 2.6-0.8 2.5-1.6 2.5-2.3 2.5-2.6 2.5-2.7 2.5-2.4 2.6-1.9 2.5-1.2 2.5-0.3 2.5 0.7 2.5 1.8 2.5 2.6 2.6 3 2.5 3.1 2.5 2.7 2.5 2.1 2.5 1.1 2.5-0.1 2.6-1.5 2.5-2.6 2.5-3.5"/><path d="M378.7,961.1l2.5-2.1 2.5-2.6 2.6-2.7 2.5-2.4 2.5-1.6 2.5-0.6 2.5 0.4 2.5 1.5 2.6 2.4 2.5 2.8 2.5 3.1 2.5 2.9 2.5 2.5 2.5 1.7 2.6 0.8 2.5-0.1 2.5-0.8 2.5-1.4 2.5-1.5 2.5-1.5 2.6-1.2 2.5-0.9 2.5-0.7 2.5-0.4 2.5-0.2 2.5-0.2 2.6-0.1 2.5-0.1 2.5 0 2.5 0.2 2.5 0.2 2.5 0.2 2.6 0.1 2.5-0.1 2.5-0.3 2.5-0.6 2.5-0.9 2.5-0.9 2.6-1.1 2.5-1.1 2.5-1.1 2.5-0.8 2.5-0.4 2.5 0 2.6 0.6 2.5 1.2 2.5 1.8 2.5 2.4 2.5 2.8 2.5 3.1 2.6 3.2 2.5 2.8 2.5 2.2 2.5 1.4 2.5 0.4 2.5-0.6 2.6-1.6 2.5-2.6 2.5-3.5 2.5-4.4 2.5-5 2.5-5.6 2.6-5.6 2.5-5.2 2.5-4 2.5-2.4 2.5-0.4 2.5 1.6 2.6 3.2 2.5 4.3 2.5 5 2.5 5.3 2.5 5.4 2.5 5 2.6 4.2 2.5 3.1 2.5 1.9 2.5 0.5 2.5-0.7 2.5-1.7 2.6-2.7 2.5-3.2 2.5-3.6 2.5-3.4 2.5-3 2.5-2.2 2.6-1.3 2.5-0.3 2.5 0.5 2.5 1.1 2.5 1.6 2.5 1.7 2.6 1.8 2.5 1.8 2.5 1.8 2.5 1.6 2.5 1.6 2.5 1.3 2.6 1.2 2.5 0.8 2.5 0.3 2.5-0.2 2.5-0.8 2.5-1.2 2.6-1.6 2.5-2 2.5-2.1 2.5-1.9 2.5-1.5 2.5-1 2.6-0.4 2.5 0.3 2.5 0.9 2.5 1.5 2.5 1.9 2.5 2 2.6 2 2.5 1.6 2.5 1.1"/><path d="M378.7,961.1l2.5-0.8 2.5-1.4 2.6-2.5 2.5-3.1 2.5-3.2 2.5-2.3 2.5-0.9 2.5 0.9 2.6 2.5 2.5 3.4 2.5 3.6 2.5 3 2.5 1.9 2.5 0.2 2.6-1.5 2.5-2.6 2.5-2.8 2.5-2.2 2.5-0.7 2.5 1.4 2.6 3.5 2.5 4.8 2.5 5.3 2.5 4.8 2.5 3.2 2.5 1 2.6-1.7 2.5-4 2.5-5.6 2.5-6.4 2.5-6.2 2.5-5.4 2.6-4 2.5-2.3 2.5-0.9 2.5 0.2 2.5 0.9 2.5 1.2 2.6 0.9 2.5 0.6 2.5 0.3 2.5 0.2 2.5 0.8 2.5 1.6 2.6 2.9 2.5 4.4 2.5 5.5 2.5 6.3 2.5 6.4 2.5 5.7 2.6 4.1 2.5 2 2.5-0.4 2.5-2.9 2.5-4.7 2.5-6 2.6-6.3 2.5-6.1 2.5-5.6 2.5-5 2.5-4.9 2.5-5.1 2.6-5.4 2.5-5.3 2.5-4.6 2.5-3.1 2.5-0.8 2.5 1.6 2.6 3.8 2.5 5.5 2.5 7.1 2.5 8.1 2.5 8.7 2.5 8.3 2.6 7 2.5 4.7 2.5 2.1 2.5-0.7 2.5-3.1 2.5-4.9 2.6-5.7 2.5-5.6 2.5-4.6 2.5-2.9 2.5-0.7 2.5 1.6 2.6 3.3 2.5 4.1 2.5 3.8 2.5 2.8 2.5 0.9 2.5-1.1 2.6-2.7 2.5-3.5 2.5-3.4 2.5-2.5 2.5-1 2.5 1 2.6 2.9 2.5 4.1 2.5 4.5 2.5 4.1 2.5 3 2.5 1.7 2.6 0 2.5-1.4 2.5-2.4 2.5-2.6 2.5-2.2 2.5-1.5 2.6-0.6 2.5 0.1 2.5 0.5 2.5 0.5 2.5 0.2 2.5-0.6 2.6-1.5 2.5-2.1 2.5-2.4"/><path d="M378.7,961.1l2.5-0.2 2.5 1.2 2.6 1.7 2.5 1.4 2.5 0.6 2.5-0.6 2.5-1.5 2.5-2.2 2.6-2.3 2.5-2 2.5-1 2.5 0.1 2.5 1.3 2.5 2.4 2.6 2.9 2.5 3 2.5 2.6 2.5 1.8 2.5 0.8 2.5-0.2 2.6-1.2 2.5-1.8 2.5-2 2.5-1.9 2.5-1.4 2.5-0.6 2.6 0.2 2.5 0.9 2.5 1.3 2.5 1.3 2.5 1 2.5 0.2 2.6-0.8 2.5-1.6 2.5-2.5 2.5-2.8 2.5-2.6 2.5-1.9 2.6-0.9 2.5 0.4 2.5 1.6 2.5 2.6 2.5 3.1 2.5 3.2 2.6 2.8 2.5 1.9 2.5 0.9 2.5-0.2 2.5-1 2.5-1.5 2.6-1.6 2.5-1.1 2.5-0.5 2.5 0.3 2.5 1 2.5 1.5 2.6 1.5 2.5 1.2 2.5 0.2 2.5-1.2 2.5-2.6 2.5-3.9 2.6-4.9 2.5-5.1 2.5-4.4 2.5-3 2.5-0.8 2.5 1.3 2.6 3.3 2.5 4.5 2.5 5.3 2.5 5.2 2.5 4.5 2.5 3.1 2.6 1.6 2.5-0.2 2.5-1.7 2.5-2.8 2.5-3.1 2.5-2.9 2.6-2.2 2.5-1.1 2.5 0 2.5 1 2.5 1.7 2.5 2 2.6 1.9 2.5 1.2 2.5 0.4 2.5-0.6 2.5-1.4 2.5-1.9 2.6-2 2.5-1.5 2.5-0.7 2.5 0.4 2.5 1.4 2.5 2.2 2.6 2.6 2.5 2.4 2.5 1.7 2.5 0.7 2.5-0.4 2.5-1.4 2.6-2.2 2.5-2.5 2.5-2.3 2.5-1.5 2.5-0.4 2.5 0.7 2.6 1.8 2.5 2.4 2.5 2.6 2.5 2.2 2.5 1.4 2.5 0.2 2.6-1.1 2.5-2.3 2.5-3"/><path d="M378.7,961.1l2.5-0.9 2.5-0.9 2.6-1 2.5-1 2.5-0.9 2.5-0.7 2.5-0.3 2.5 0 2.6 0.4 2.5 0.8 2.5 0.9 2.5 1.1 2.5 1 2.5 0.9 2.6 0.7 2.5 0.4 2.5 0.2 2.5 0.2 2.5 0.1 2.5 0.3 2.6 0.4 2.5 0.4 2.5 0.3 2.5 0.2 2.5-0.1 2.5-0.4 2.6-0.8 2.5-0.9 2.5-1.1 2.5-1.1 2.5-1 2.5-1 2.6-0.7 2.5-0.7 2.5-0.4 2.5-0.3 2.5-0.2 2.5 0.1 2.6 0.1 2.5 0.3 2.5 0.4 2.5 0.5 2.5 0.5 2.5 0.7 2.6 0.8 2.5 0.9 2.5 1 2.5 1.2 2.5 1.3 2.5 1.2 2.6 1.2 2.5 1 2.5 0.7 2.5 0.2 2.5-0.2 2.5-0.7 2.6-1.1 2.5-1.5 2.5-2 2.5-2.2 2.5-2.7 2.5-3 2.6-3 2.5-2.8 2.5-2.2 2.5-1.3 2.5-0.1 2.5 1 2.6 1.9 2.5 2.5 2.5 2.7 2.5 3 2.5 2.8 2.5 2.7 2.6 2.3 2.5 1.6 2.5 0.9 2.5 0.3 2.5-0.3 2.5-0.9 2.6-1.3 2.5-1.6 2.5-1.7 2.5-1.6 2.5-1.3 2.5-0.9 2.6-0.4 2.5 0.1 2.5 0.5 2.5 0.6 2.5 0.7 2.5 0.7 2.6 0.5 2.5 0.5 2.5 0.4 2.5 0.4 2.5 0.5 2.5 0.4 2.6 0.5 2.5 0.5 2.5 0.4 2.5 0.2 2.5 0.1 2.5-0.1 2.6-0.4 2.5-0.5 2.5-0.7 2.5-0.7 2.5-0.5 2.5-0.4 2.6-0.3 2.5 0 2.5 0.2 2.5 0.4 2.5 0.6 2.5 0.5 2.6 0.5 2.5 0.3 2.5 0.1"/><path d="M378.7,961.1l2.5-1.3 2.5-1.8 2.6-2.5 2.5-3 2.5-2.9 2.5-2.3 2.5-1.2 2.5 0.3 2.6 1.7 2.5 2.7 2.5 3.2 2.5 3.3 2.5 2.8 2.5 1.6 2.6 0.2 2.5-1.1 2.5-2.1 2.5-2.5 2.5-2.4 2.5-1.5 2.6-0.3 2.5 1 2.5 2.1 2.5 3 2.5 3.2 2.5 3 2.6 2.2 2.5 0.8 2.5-0.5 2.5-2.1 2.5-3.5 2.5-4.6 2.6-5.3 2.5-5.3 2.5-4.8 2.5-3.7 2.5-2.1 2.5-0.2 2.6 1.5 2.5 3.1 2.5 4.2 2.5 4.8 2.5 4.7 2.5 4.2 2.6 3.3 2.5 2.1 2.5 1.1 2.5 0.1 2.5-0.4 2.5-0.7 2.6-0.6 2.5-0.2 2.5 0.1 2.5 0.4 2.5 0.6 2.5 0.5 2.6 0 2.5-0.8 2.5-2 2.5-3.5 2.5-5 2.5-6.5 2.6-7.3 2.5-7.2 2.5-5.9 2.5-3.7 2.5-0.6 2.5 2.4 2.6 4.9 2.5 6.6 2.5 7.7 2.5 7.8 2.5 7.2 2.5 5.8 2.6 3.9 2.5 1.6 2.5-0.8 2.5-2.7 2.5-4 2.5-4.6 2.6-4.5 2.5-3.7 2.5-2.4 2.5-0.8 2.5 0.9 2.5 2.4 2.6 3.5 2.5 3.8 2.5 3.4 2.5 2.2 2.5 0.7 2.5-1.1 2.6-2.6 2.5-3.6 2.5-3.7 2.5-3.4 2.5-2.1 2.5-0.6 2.6 1.3 2.5 2.9 2.5 4.1 2.5 4.6 2.5 4.4 2.5 3.7 2.6 2.3 2.5 0.6 2.5-1.2 2.5-2.6 2.5-3.6 2.5-4.1 2.6-3.9 2.5-3.2 2.5-2 2.5-0.5 2.5 0.8 2.5 1.9 2.6 2.5 2.5 2.7 2.5 2.4"/><path d="M378.7,961.1l2.5-0.7 2.5-0.7 2.6-0.8 2.5-1.1 2.5-1.2 2.5-1.2 2.5-0.9 2.5-0.3 2.6 0 2.5 0.5 2.5 0.7 2.5 1 2.5 1 2.5 0.9 2.6 0.5 2.5 0.5 2.5 0.5 2.5 0.9 2.5 1.3 2.5 2.1 2.6 2.5 2.5 2.7 2.5 2.3 2.5 1.6 2.5 0.7 2.5-0.6 2.6-1.9 2.5-3 2.5-3.7 2.5-4 2.5-3.9 2.5-3.8 2.6-3.2 2.5-2.7 2.5-2 2.5-1.2 2.5-0.5 2.5 0.4 2.6 0.9 2.5 1.5 2.5 1.9 2.5 2.2 2.5 2.4 2.5 2.6 2.6 2.8 2.5 2.9 2.5 3 2.5 3.1 2.5 3.2 2.5 2.9 2.6 2.7 2.5 2 2.5 1.1 2.5-0.1 2.5-1.2 2.5-2.3 2.6-3.4 2.5-4.4 2.5-5.2 2.5-6.1 2.5-6.9 2.5-7.5 2.6-7.7 2.5-6.9 2.5-5.2 2.5-2.7 2.5 0.4 2.5 3.4 2.6 5.4 2.5 6.8 2.5 7.4 2.5 7.6 2.5 7.2 2.5 6.5 2.6 5.1 2.5 3.4 2.5 1.6 2.5-0.1 2.5-1.7 2.5-2.8 2.6-3.6 2.5-4 2.5-3.9 2.5-3.4 2.5-2.5 2.5-1.1 2.6 0.4 2.5 1.4 2.5 2.1 2.5 2.4 2.5 2.1 2.5 1.4 2.6 0.8 2.5 0.1 2.5-0.2 2.5-0.6 2.5-0.5 2.5-0.2 2.6 0.2 2.5 0.7 2.5 0.8 2.5 1.1 2.5 1.1 2.5 1.1 2.6 0.8 2.5 0.5 2.5 0.1 2.5-0.1 2.5-0.3 2.5-0.4 2.6-0.6 2.5-0.6 2.5-0.7 2.5-0.7 2.5-0.6 2.5-0.8 2.6-0.8 2.5-1 2.5-1"/><path d="M378.7,961.1l2.5-0.9 2.5-0.9 2.6-0.8 2.5-0.8 2.5-1.1 2.5-1.1 2.5-1.1 2.5-1 2.6-0.9 2.5-0.5 2.5-0.1 2.5 0.5 2.5 1.1 2.5 1.6 2.6 1.7 2.5 2 2.5 2 2.5 2 2.5 1.9 2.5 1.8 2.6 1.6 2.5 1.2 2.5 0.6 2.5 0.1 2.5-0.6 2.5-1.1 2.6-1.8 2.5-2.2 2.5-2.5 2.5-2.7 2.5-2.9 2.5-2.9 2.6-2.9 2.5-2.8 2.5-2.3 2.5-1.7 2.5-0.8 2.5 0.3 2.6 1.4 2.5 2.2 2.5 2.7 2.5 3 2.5 3 2.5 2.6 2.6 2.1 2.5 1.6 2.5 1.3 2.5 1.3 2.5 1.3 2.5 1.6 2.6 2 2.5 2 2.5 1.9 2.5 1.2 2.5 0.4 2.5-0.8 2.6-2.1 2.5-3.4 2.5-4.7 2.5-5.9 2.5-6.9 2.5-7.5 2.6-7.4 2.5-6.5 2.5-4.7 2.5-2.3 2.5 0.7 2.5 3 2.6 4.7 2.5 5.5 2.5 5.8 2.5 5.9 2.5 5.6 2.5 5.3 2.6 4.7 2.5 3.7 2.5 2.7 2.5 1.7 2.5 0.5 2.5-0.8 2.6-2 2.5-3.2 2.5-3.9 2.5-4.3 2.5-4.1 2.5-3.2 2.6-1.8 2.5-0.5 2.5 0.9 2.5 1.9 2.5 2.4 2.5 2.4 2.6 2.1 2.5 1.7 2.5 1.1 2.5 0.5 2.5 0.1 2.5 0.1 2.6 0.3 2.5 0.5 2.5 0.7 2.5 0.9 2.5 1 2.5 0.8 2.6 0.4 2.5-0.4 2.5-1 2.5-1.5 2.5-1.8 2.5-1.9 2.6-1.5 2.5-1 2.5-0.2 2.5 0.7 2.5 1.5 2.5 1.9 2.6 1.9 2.5 1.4 2.5 0.7"/><path d="M378.7,961.1l2.5-0.5 2.5-1.1 2.6-1.4 2.5-1.5 2.5-1.1 2.5-0.4 2.5 0.6 2.5 1.7 2.6 2.5 2.5 2.9 2.5 3 2.5 2.6 2.5 1.8 2.5 0.7 2.6-0.6 2.5-1.7 2.5-2.1 2.5-2 2.5-1.3 2.5 0.1 2.6 1.5 2.5 2.7 2.5 3.3 2.5 3.6 2.5 3.3 2.5 2.4 2.6 1 2.5-0.4 2.5-1.7 2.5-3 2.5-4 2.5-5 2.6-5.6 2.5-5.9 2.5-5.9 2.5-5.5 2.5-4.4 2.5-3 2.6-1.3 2.5 0.5 2.5 2.3 2.5 3.9 2.5 5.4 2.5 6.6 2.6 7.2 2.5 7.5 2.5 7.3 2.5 6.8 2.5 5.7 2.5 4.5 2.6 2.8 2.5 1 2.5-1 2.5-3.1 2.5-4.7 2.5-5.9 2.6-6.8 2.5-7.3 2.5-7.6 2.5-7.8 2.5-8.1 2.5-8.3 2.6-8.1 2.5-7 2.5-5 2.5-1.9 2.5 1.8 2.5 5 2.6 7.2 2.5 8.5 2.5 9 2.5 8.8 2.5 8.4 2.5 7.3 2.6 5.8 2.5 3.7 2.5 1.5 2.5-0.4 2.5-2 2.5-3.5 2.6-4.3 2.5-4.7 2.5-4.6 2.5-3.8 2.5-2.7 2.5-0.9 2.6 0.9 2.5 2.3 2.5 3 2.5 3.2 2.5 2.8 2.5 1.6 2.6 0.6 2.5-0.3 2.5-1 2.5-1.4 2.5-1.3 2.5-0.8 2.6 0 2.5 0.7 2.5 1.3 2.5 1.8 2.5 2.1 2.5 2.1 2.6 1.9 2.5 1.3 2.5 0.8 2.5 0.1 2.5-0.3 2.5-0.9 2.6-1.2 2.5-1.7 2.5-1.7 2.5-1.7 2.5-1.5 2.5-1.4 2.6-1.1 2.5-1 2.5-0.7"/><path d="M378.7,961.1l2.5-1.6 2.5-0.7 2.6 0.4 2.5 1.5 2.5 2.1 2.5 2.2 2.5 1.7 2.5 1 2.6 0 2.5-0.9 2.5-1.6 2.5-1.8 2.5-1.6 2.5-1 2.6-0.3 2.5 0.7 2.5 1.8 2.5 2.5 2.5 3 2.5 3.2 2.6 2.9 2.5 2 2.5 0.7 2.5-0.5 2.5-1.6 2.5-2.4 2.6-2.9 2.5-2.8 2.5-2.2 2.5-1.3 2.5-0.5 2.5 0.1 2.6 0.2 2.5 0 2.5-0.6 2.5-1.3 2.5-2.2 2.5-2.5 2.6-2.7 2.5-2.2 2.5-1.3 2.5 0.1 2.5 1.7 2.5 3.4 2.6 4.8 2.5 5.7 2.5 5.9 2.5 5.6 2.5 4.5 2.5 2.9 2.6 1.1 2.5-0.9 2.5-2.7 2.5-4 2.5-4.6 2.5-4.6 2.6-4.1 2.5-3.1 2.5-2.2 2.5-1.6 2.5-1.4 2.5-1.7 2.6-2.2 2.5-2.8 2.5-2.9 2.5-2.5 2.5-1.5 2.5-0.3 2.6 0.8 2.5 2.1 2.5 3.3 2.5 4.4 2.5 5.3 2.5 5.8 2.6 5.6 2.5 4.6 2.5 3.1 2.5 1.2 2.5-0.6 2.5-2.5 2.6-3.8 2.5-4.5 2.5-4.5 2.5-3.9 2.5-2.4 2.5-0.6 2.6 1.2 2.5 2.7 2.5 3.6 2.5 3.5 2.5 2.9 2.5 1.5 2.6 0 2.5-1.5 2.5-2.5 2.5-3.1 2.5-2.9 2.5-2 2.6-0.6 2.5 0.9 2.5 2.4 2.5 3.4 2.5 4.1 2.5 4 2.6 3.1 2.5 1.9 2.5 0.2 2.5-1.5 2.5-2.7 2.5-3.7 2.6-4 2.5-3.7 2.5-2.8 2.5-1.4 2.5 0.1 2.5 1.5 2.6 2.3 2.5 2.8 2.5 2.7"/><path d="M378.7,961.1l2.5-1.8 2.5-1 2.6-0.2 2.5 0.4 2.5 0.7 2.5 0.8 2.5 0.7 2.5 0.3 2.6 0.1 2.5-0.3 2.5-0.4 2.5-0.3 2.5-0.1 2.5 0 2.6 0.3 2.5 0.6 2.5 0.9 2.5 1.1 2.5 1.2 2.5 1.3 2.6 1.2 2.5 0.8 2.5 0.4 2.5 0 2.5-0.5 2.5-0.8 2.6-1 2.5-0.9 2.5-0.8 2.5-0.6 2.5-0.5 2.5-0.6 2.6-0.9 2.5-1.3 2.5-1.8 2.5-2.3 2.5-2.4 2.5-2.3 2.6-1.8 2.5-1 2.5 0.1 2.5 1.3 2.5 2.5 2.5 3.5 2.6 4.3 2.5 4.5 2.5 4.3 2.5 3.7 2.5 2.7 2.5 1.5 2.6 0.2 2.5-1.1 2.5-2.1 2.5-2.9 2.5-3.1 2.5-3 2.6-2.6 2.5-2 2.5-1.6 2.5-1.4 2.5-1.6 2.5-2 2.6-2.5 2.5-2.9 2.5-2.8 2.5-2.2 2.5-1 2.5 0.2 2.6 1.4 2.5 2.3 2.5 3.3 2.5 4 2.5 4.4 2.5 4.4 2.6 4 2.5 3 2.5 1.8 2.5 0.4 2.5-0.9 2.5-2 2.6-2.7 2.5-3 2.5-2.8 2.5-2.3 2.5-1.2 2.5-0.1 2.6 1.1 2.5 1.9 2.5 2.2 2.5 2 2.5 1.3 2.5 0.3 2.6-0.7 2.5-1.5 2.5-1.9 2.5-1.9 2.5-1.4 2.5-0.6 2.6 0.6 2.5 1.6 2.5 2.4 2.5 2.9 2.5 2.9 2.5 2.5 2.6 1.6 2.5 0.5 2.5-0.8 2.5-1.8 2.5-2.6 2.5-2.8 2.6-2.8 2.5-2.2 2.5-1.4 2.5-0.3 2.5 0.8 2.5 1.6 2.6 2 2.5 2 2.5 1.6"/><path d="M378.7,961.1l2.5-2.8 2.5-3.6 2.6-3.5 2.5-2.7 2.5-1.5 2.5 0.1 2.5 1.6 2.5 2.9 2.6 3.4 2.5 3.4 2.5 2.8 2.5 1.8 2.5 0.6 2.5-0.7 2.6-2 2.5-2.6 2.5-2.8 2.5-2.2 2.5-1.1 2.5 0.2 2.6 1.8 2.5 2.8 2.5 3.3 2.5 3.5 2.5 2.9 2.5 1.9 2.6 0.5 2.5-0.8 2.5-2.1 2.5-3 2.5-3.7 2.5-4 2.6-4 2.5-3.7 2.5-3.3 2.5-2.5 2.5-1.6 2.5-0.7 2.6 0.3 2.5 1.1 2.5 1.9 2.5 2.6 2.5 3.1 2.5 3.5 2.6 3.8 2.5 3.9 2.5 3.8 2.5 3.5 2.5 3.1 2.5 2.3 2.6 1.4 2.5 0.3 2.5-1 2.5-2.2 2.5-3.2 2.5-3.8 2.6-4.2 2.5-4.1 2.5-4 2.5-3.7 2.5-3.5 2.5-3.4 2.6-3.2 2.5-2.7 2.5-2 2.5-0.8 2.5 0.7 2.5 1.7 2.6 2.3 2.5 2.7 2.5 2.7 2.5 2.9 2.5 3.2 2.5 3.5 2.6 3.5 2.5 3.4 2.5 3.1 2.5 2.5 2.5 1.9 2.5 0.8 2.6-0.2 2.5-1.5 2.5-2.6 2.5-3.4 2.5-3.7 2.5-3.4 2.6-2.8 2.5-1.7 2.5-0.7 2.5 0.5 2.5 1.3 2.5 2 2.6 2.5 2.5 2.6 2.5 2.4 2.5 2.1 2.5 1.5 2.5 0.7 2.6 0.1 2.5-0.7 2.5-1.2 2.5-1.6 2.5-1.5 2.5-1.2 2.6-0.6 2.5 0 2.5 0.8 2.5 1.4 2.5 1.9 2.5 2 2.6 1.7 2.5 1.1 2.5 0.1 2.5-0.8 2.5-1.8 2.5-2.5 2.6-3.1 2.5-3.1 2.5-2.7"/><path d="M378.7,961.1l2.5-1.9 2.5-1.5 2.6-1 2.5-0.7 2.5-0.3 2.5 0 2.5 0.3 2.5 0.5 2.6 0.6 2.5 0.6 2.5 0.3 2.5 0.2 2.5-0.2 2.5-0.3 2.6-0.7 2.5-0.5 2.5-0.4 2.5 0.2 2.5 0.9 2.5 1.6 2.6 2.3 2.5 2.6 2.5 2.5 2.5 2.1 2.5 1.3 2.5 0.2 2.6-0.9 2.5-2.1 2.5-2.9 2.5-3.4 2.5-3.7 2.5-3.6 2.6-3.2 2.5-2.6 2.5-1.9 2.5-0.8 2.5 0.1 2.5 1.1 2.6 1.9 2.5 2.5 2.5 2.8 2.5 2.9 2.5 2.7 2.5 2.3 2.6 1.8 2.5 1.2 2.5 0.7 2.5 0.3 2.5 0 2.5-0.2 2.6-0.3 2.5-0.3 2.5-0.3 2.5-0.2 2.5-0.3 2.5-0.2 2.6-0.3 2.5-0.5 2.5-0.8 2.5-1.5 2.5-2.3 2.5-3.4 2.6-4.1 2.5-4.5 2.5-4.3 2.5-3.4 2.5-2 2.5-0.6 2.6 0.8 2.5 2 2.5 2.9 2.5 3.9 2.5 4.6 2.5 4.9 2.6 4.9 2.5 4.5 2.5 3.6 2.5 2.6 2.5 1.4 2.5 0.1 2.6-1.2 2.5-2.4 2.5-3.3 2.5-3.8 2.5-4 2.5-3.5 2.6-2.7 2.5-1.8 2.5-0.8 2.5 0.2 2.5 1 2.5 1.6 2.6 2.1 2.5 2.6 2.5 2.7 2.5 2.8 2.5 2.5 2.5 2.2 2.6 1.7 2.5 1 2.5 0 2.5-0.8 2.5-1.7 2.5-2.3 2.6-2.6 2.5-2.8 2.5-2.5 2.5-1.9 2.5-1.1 2.5-0.1 2.6 0.9 2.5 1.8 2.5 2.4 2.5 2.7 2.5 2.8 2.5 2.3 2.6 1.6 2.5 0.7 2.5-0.5"/></g>
<path d="M378.7,961.1l1.5-0.9 1.5-0.9 1.5-0.8 1.5-0.8 1.5-0.8 1.5-0.7 1.5-0.7 1.5-0.5 1.5-0.3 1.6-0.2 1.5 0 1.5 0.3 1.5 0.4 1.5 0.6 1.5 0.8 1.5 0.7 1.5 0.9 1.5 0.8 1.5 0.7 1.5 0.7 1.5 0.6 1.5 0.4 1.5 0.2 1.5 0 1.5-0.2 1.5-0.4 1.5-0.4 1.5-0.4 1.5-0.3 1.6-0.3 1.5-0.1 1.5 0.2 1.5 0.4 1.5 0.8 1.5 0.9 1.5 1.2 1.5 1.2 1.5 1.2 1.5 1.3 1.5 1.1 1.5 0.9 1.5 0.8 1.5 0.4 1.5 0.1 1.5-0.3 1.5-0.6 1.5-0.9 1.5-1.2 1.5-1.4 1.6-1.5 1.5-1.7 1.5-1.8 1.5-1.9 1.5-1.8 1.5-1.9 1.5-1.8 1.5-1.7 1.5-1.6 1.5-1.4 1.5-1.3 1.5-1 1.5-0.8 1.5-0.4 1.5-0.2 1.5 0.1 1.5 0.4 1.5 0.6 1.5 0.9 1.5 1.1 1.6 1.3 1.5 1.5 1.5 1.7 1.5 1.8 1.5 1.9 1.5 2 1.5 2 1.5 2.1 1.5 2 1.5 2 1.5 1.9 1.5 1.8 1.5 1.6 1.5 1.5 1.5 1.2 1.5 1 1.5 0.8 1.5 0.4 1.5 0 1.5-0.3 1.6-0.7 1.5-1.1 1.5-1.4 1.5-1.6 1.5-1.9 1.5-2.1 1.5-2.2 1.5-2.4 1.5-2.5 1.5-2.6 1.5-2.7 1.5-2.8 1.5-2.9 1.5-2.9 1.5-3.1 1.5-2.9 1.5-2.8 1.5-2.4 1.5-2 1.5-1.5 1.6-0.8 1.5 0 1.5 0.8 1.5 1.5 1.5 2 1.5 2.4 1.5 2.8 1.5 2.9 1.5 2.9 1.5 3 1.5 3 1.5 2.8 1.5 2.7 1.5 2.5 1.5 2.2 1.5 1.9 1.5 1.5 1.5 1.1 1.5 0.8 1.5 0.3 1.6 0 1.5-0.3 1.5-0.5 1.5-0.8 1.5-1 1.5-1.1 1.5-1.2 1.5-1.2 1.5-1.2 1.5-1.2 1.5-1 1.5-0.9 1.5-0.7 1.5-0.4 1.5-0.1 1.5 0.1 1.5 0.4 1.5 0.5 1.5 0.5 1.5 0.6 1.6 0.6 1.5 0.5 1.5 0.3 1.5 0.1 1.5 0 1.5-0.2 1.5-0.4 1.5-0.4 1.5-0.4 1.5-0.4 1.5-0.4 1.5-0.2 1.5-0.1 1.5 0.1 1.5 0.4 1.5 0.6 1.5 0.7 1.5 1 1.5 1 1.5 1.1 1.6 1.1 1.5 1.1 1.5 1 1.5 0.9 1.5 0.8 1.5 0.6 1.5 0.4 1.5 0.1 1.5-0.1 1.5-0.4 1.5-0.4 1.5-0.7 1.5-0.7 1.5-0.8 1.5-0.9 1.5-0.8 1.5-0.9 1.5-0.9 1.5-0.7 1.5-0.7 1.6-0.6 1.5-0.4 1.5-0.3 1.5-0.1 1.5-0.1 1.5 0 1.5 0 1.5 0.1 1.5 0.2 1.5 0.1" fill="none" stroke="#3874b2" stroke-width="1.0" clip-path="url(#cbe)"/>
<rect x="376.70" y="900.30" width="304.70" height="98.50" fill="none" stroke="#6e6e6e" stroke-width="1"/>
<text x="371.80" y="998.60" font-size="6.50" text-anchor="end" fill="#111" textLength="3.44" lengthAdjust="spacingAndGlyphs">0</text>
<text x="371.80" y="978.85" font-size="6.50" text-anchor="end" fill="#111" textLength="3.44" lengthAdjust="spacingAndGlyphs">1</text>
<text x="371.80" y="959.10" font-size="6.50" text-anchor="end" fill="#111" textLength="3.44" lengthAdjust="spacingAndGlyphs">2</text>
<text x="371.80" y="939.35" font-size="6.50" text-anchor="end" fill="#111" textLength="3.44" lengthAdjust="spacingAndGlyphs">3</text>
<text x="371.80" y="919.60" font-size="6.50" text-anchor="end" fill="#111" textLength="3.44" lengthAdjust="spacingAndGlyphs">4</text>
<text x="379.30" y="1008.00" font-size="6.50" text-anchor="middle" fill="#111" textLength="10.31" lengthAdjust="spacingAndGlyphs">946</text>
<text x="412.50" y="1008.00" font-size="6.50" text-anchor="middle" fill="#111" textLength="10.31" lengthAdjust="spacingAndGlyphs">948</text>
<text x="445.70" y="1008.00" font-size="6.50" text-anchor="middle" fill="#111" textLength="10.31" lengthAdjust="spacingAndGlyphs">950</text>
<text x="478.90" y="1008.00" font-size="6.50" text-anchor="middle" fill="#111" textLength="10.31" lengthAdjust="spacingAndGlyphs">952</text>
<text x="512.10" y="1008.00" font-size="6.50" text-anchor="middle" fill="#111" textLength="10.31" lengthAdjust="spacingAndGlyphs">954</text>
<text x="545.30" y="1008.00" font-size="6.50" text-anchor="middle" fill="#111" textLength="10.31" lengthAdjust="spacingAndGlyphs">956</text>
<text x="578.50" y="1008.00" font-size="6.50" text-anchor="middle" fill="#111" textLength="10.31" lengthAdjust="spacingAndGlyphs">958</text>
<text x="611.70" y="1008.00" font-size="6.50" text-anchor="middle" fill="#111" textLength="10.31" lengthAdjust="spacingAndGlyphs">960</text>
<text x="644.90" y="1008.00" font-size="6.50" text-anchor="middle" fill="#111" textLength="10.31" lengthAdjust="spacingAndGlyphs">962</text>
<text x="678.10" y="1008.00" font-size="6.50" text-anchor="middle" fill="#111" textLength="10.31" lengthAdjust="spacingAndGlyphs">964</text>
<path d="M374.20,726.20H376.50M374.20,762.24H376.50M374.20,798.28H376.50M374.20,834.32H376.50M374.20,870.36H376.50M379.30,892.00V894.30M412.50,892.00V894.30M445.70,892.00V894.30M478.90,892.00V894.30M512.10,892.00V894.30M545.30,892.00V894.30M578.50,892.00V894.30M611.70,892.00V894.30M644.90,892.00V894.30M678.10,892.00V894.30M374.40,996.60H376.70M374.40,976.85H376.70M374.40,957.10H376.70M374.40,937.35H376.70M374.40,917.60H376.70M379.30,998.80V1001.10M412.50,998.80V1001.10M445.70,998.80V1001.10M478.90,998.80V1001.10M512.10,998.80V1001.10M545.30,998.80V1001.10M578.50,998.80V1001.10M611.70,998.80V1001.10M644.90,998.80V1001.10M678.10,998.80V1001.10" fill="none" stroke="#6e6e6e" stroke-width="0.9"/>
<text x="529.05" y="1017.40" font-size="7.70" text-anchor="middle" fill="#111" textLength="68.00" lengthAdjust="spacingAndGlyphs">Calendar year (CE)</text>
<text transform="translate(353.60,792.70) rotate(-90)" font-size="8.4" text-anchor="middle" fill="#111" textLength="33.2" lengthAdjust="spacingAndGlyphs">Δ<tspan font-size="5.6" dy="-2.9">14</tspan><tspan dy="2.9">C (‰)</tspan></text>
<text transform="translate(362.30,949.55) rotate(-90)" font-size="8.1" text-anchor="middle" fill="#111" textLength="107" lengthAdjust="spacingAndGlyphs">Production rate (atoms/cm<tspan font-size="5.4" dy="-2.8">2</tspan><tspan dy="2.8">/s)</tspan></text>
<text x="673.60" y="708.40" font-size="11.00" text-anchor="end" fill="#1c1c1c" textLength="72.00" lengthAdjust="spacingAndGlyphs">e) 955 - 956 CE</text>
<line x1="381.00" y1="701.20" x2="393.90" y2="701.20" stroke="#3c7dc2" stroke-width="1.05"/>
<line x1="381.00" y1="712.20" x2="393.90" y2="712.20" stroke="#111" stroke-width="1"/>
<circle cx="387.60" cy="712.20" r="2.2" fill="#000"/>
<text x="398.00" y="703.60" font-size="6.80" text-anchor="start" fill="#111" textLength="78.00" lengthAdjust="spacingAndGlyphs">Brehm et al, 2021: 22-box</text>
<text x="398.60" y="714.10" font-size="6.8" fill="#111" textLength="39.3" lengthAdjust="spacingAndGlyphs">average Δ<tspan font-size="5.2" dy="-2.5">14</tspan><tspan dy="2.5">C</tspan></text>
</svg>
</body></html>
